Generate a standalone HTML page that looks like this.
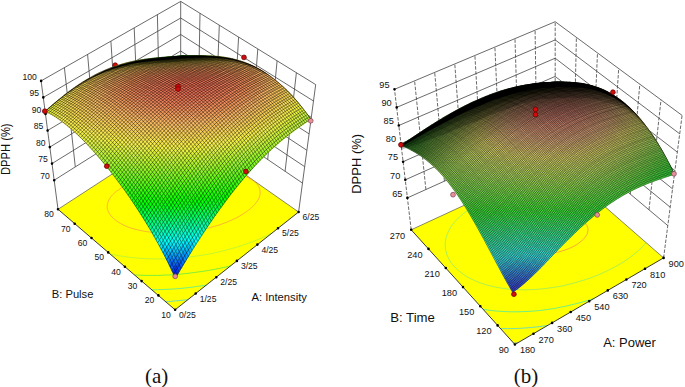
<!DOCTYPE html>
<html><head><meta charset="utf-8"><style>
*{margin:0;padding:0}
body{background:#fff;width:685px;height:387px;overflow:hidden}
svg{display:block}
text{font-family:"Liberation Sans",sans-serif;fill:#111}
.cap{font-family:"Liberation Serif",serif;font-size:21px}
.wh,.wv,.wvd{fill:none;stroke:#444;stroke-width:.8}
.wvd{stroke-dasharray:3.5 1.5}
.ct{fill:none;stroke-width:.75}
.fe{fill:none;stroke:#222;stroke-width:.9}
.fb{fill:none;stroke:#555;stroke-width:.7}
.td{stroke:#000;stroke-width:2.6;stroke-linecap:round}
.sfL path,.sfR path{fill:currentColor;stroke:currentColor;stroke-width:.6;stroke-linejoin:round}
.mlL{fill:none;stroke:#000;stroke-opacity:.7;stroke-width:.6}
.mlR{fill:none;stroke:#000;stroke-opacity:.55;stroke-width:.6}
.bdL{fill:none;stroke:#000;stroke-width:.5;stroke-opacity:.5}
.bnL,.bnR{fill:#000}
.fdL{fill:#000;fill-opacity:.35}
.fdR{fill:#000;fill-opacity:.22}
.bdR{fill:none;stroke:#000;stroke-width:.6;stroke-opacity:.6}
.dr{fill:#d00c0c;stroke:#600;stroke-width:.7}
.dp{fill:#e8909a;stroke:#804050;stroke-width:.7}
</style></head><body>
<svg width="685" height="387" viewBox="0 0 685 387">
<path class="wh" d="M54.2 180.2L180.7 100.5L302.5 183.1M52 163.6L180.7 84L304.7 166.7M49.8 147.1L180.7 67.5L306.9 150.3M47.6 130.5L180.7 51L309.1 133.9M45.5 114L180.7 34.5L311.3 117.4M43.3 97.4L180.7 18L313.5 101M41.1 80.9L180.7 1.4L315.7 84.6"/><path class="wv" d="M75.3 166.9L64.4 67.7M96.3 153.6L87.6 54.4M117.4 140.3L110.9 41.2M138.5 127L134.2 27.9M159.6 113.7L157.4 14.7M180.7 100.5L180.7 1.4M285.1 171.3L296.4 72.7M267.7 159.5L277.1 60.8M250.3 147.7L257.8 49M232.9 135.9L238.6 37.1M215.5 124.1L219.3 25.2M198.1 112.3L200 13.3M58 209.3L41.1 80.9M298.6 212L315.7 84.6"/><path fill="#ffff00" d="M175.1 309.8L298.6 212L180.7 129.5L58 209.3Z"/><path class="fb" d="M58 209.3L180.7 129.5L298.6 212"/><path class="ct" stroke="#40d0f0" d="M187.9 299.7l-2.7 0.3l-2.1 0.2l-2.2 0.2l-2.8 0.3l-2.6 0.2l-2.2 0.2l-2.2 0.2l-2.5 0.2l-2.7 0.2l-0.3 0"/><path class="ct" stroke="#40e8b0" d="M206.3 285.1l-2.4 0.4l-2.1 0.3l-3 0.4l-2.1 0.3l-2.2 0.3l-2.9 0.4l-2.2 0.3l-2.1 0.2l-2.8 0.3l-2.6 0.3l-2.2 0.2l-2.2 0.2l-2.7 0.2l-2.7 0.2l-2.2 0.1l-2.2 0.1l-2.3 0.1l-2.6 0.1l-2.6 0.1l-2.5 0.1l-2.3 0.1l-2.3 0l-1.2 0"/><path class="ct" stroke="#50e850" d="M230.5 265.9l-2.2 0.5l-2.9 0.7l-1.9 0.4l-2.9 0.6l-2 0.4l-2.9 0.6l-2 0.4l-2.8 0.5l-2.2 0.4l-2.4 0.4l-2.6 0.4l-2 0.3l-2.9 0.4l-2.3 0.3l-2.2 0.3l-2.9 0.4l-2.3 0.3l-2.1 0.2l-2.7 0.3l-2.6 0.3l-2.2 0.2l-2.2 0.2l-2.7 0.2l-2.7 0.2l-2.3 0.1l-2.2 0.1l-2.2 0.1l-2.5 0.1l-2.6 0.1l-2.6 0.1l-2.5 0l-2.4 0l-2.3 0l-2.4 0l-2.4 0l-2.4 -0.1l-2.4 -0.1l-2.4 -0.1l-2.5 -0.1l-1.2 -0.1"/><path class="ct" stroke="#50e850" d="M172.6 134.8l2.2 -0.2l2.1 -0.2l2.8 -0.2l2.4 -0.2l2.1 -0.2l2.2 -0.2"/><path class="ct" stroke="#b0f040" d="M271.4 233.5l-2.5 1.2l-2.4 1.1l-2.4 1.1l-2.4 1.1l-2.4 1l-2.5 1l-2.5 1l-2.5 1l-2.5 0.9l-2.4 0.9l-2.1 0.7l-2.4 0.8l-2.6 0.9l-2.7 0.8l-2.1 0.6l-2.4 0.7l-2.7 0.8l-2.2 0.6l-2.4 0.6l-2.8 0.7l-1.9 0.5l-2.9 0.7l-2.1 0.5l-2.7 0.6l-2.2 0.4l-2.7 0.5l-2 0.4l-2.9 0.5l-2 0.3l-2.7 0.4l-2.4 0.3l-2.1 0.3l-2.9 0.4l-2.3 0.3l-2.1 0.2l-2.7 0.3l-2.6 0.2l-2.2 0.2l-2.2 0.2l-2.6 0.2l-2.7 0.2l-2.5 0.1l-2.3 0.1l-2.3 0.1l-2.3 0l-2.3 0l-2.5 0l-2.5 0l-2.4 0l-2.4 -0.1l-2.4 -0.1l-2.4 -0.1l-2.3 -0.1l-2.5 -0.2l-2.5 -0.2l-2.6 -0.2l-2.6 -0.3l-2.2 -0.2l-2.2 -0.3l-2.3 -0.3l-2.8 -0.4l-2.5 -0.4l-2.1 -0.3l-2.6 -0.5l-2.6 -0.5l-2 -0.4l-1.4 -0.3"/><path class="ct" stroke="#b0f040" d="M145 152.7l2.8 -0.5l2.3 -0.4l2.5 -0.4l2.4 -0.4l2.5 -0.3l2.3 -0.3l2.6 -0.3l2 -0.3l3 -0.4l2 -0.2l2.5 -0.3l2.7 -0.3l2.1 -0.2l2.5 -0.2l2.8 -0.2l2.1 -0.2l2.2 -0.2l2.7 -0.2l2.7 -0.2l2.3 -0.1l2.2 -0.1l2.2 -0.1l2.5 -0.1l2.6 -0.1l1.8 -0.1"/><path class="ct" stroke="#f8a040" d="M250.1 178.8l2.5 1.5l2.3 1.7l1.5 1.4l1.4 1.7l1 1.6l0.8 2l0.4 1.6l0.2 1.9l-0.1 1.7l-0.3 1.6l-0.7 2.2l-0.6 1.4l-1.1 1.9l-1.3 1.8l-1.6 1.9l-1.9 2l-2.3 2l-1.8 1.5l-2.3 1.7l-2.2 1.5l-2.7 1.7l-2.1 1.2l-2.9 1.6l-2.3 1.1l-2.3 1.1l-2.4 1l-2.4 1l-2.5 1l-2.5 0.9l-2.6 0.9l-2.6 0.8l-2.6 0.8l-2 0.6l-2.5 0.7l-2.8 0.7l-2 0.5l-2.8 0.6l-2.2 0.5l-2.6 0.5l-2.1 0.4l-2.9 0.4l-2 0.3l-2.6 0.3l-2.6 0.3l-2.1 0.2l-2.3 0.2l-2.7 0.2l-2.6 0.1l-2.4 0.1l-2.3 0.1l-2.3 0l-2.4 0l-2.4 -0.1l-2.5 -0.1l-2.5 -0.1l-2.5 -0.2l-2.2 -0.2l-2.2 -0.2l-2.4 -0.3l-2.8 -0.4l-2 -0.3l-2.4 -0.5l-2.5 -0.5l-2.3 -0.5l-2.4 -0.6l-2.7 -0.8l-2.1 -0.7l-2.2 -0.8l-2.4 -1l-2.3 -1.1l-2.8 -1.5l-2.2 -1.3l-2.6 -1.8l-2.3 -2l-2.1 -2.1l-1.3 -1.8l-1.1 -1.9l-0.9 -2.1l-0.4 -1.5l-0.2 -2l0.1 -1.8l0.3 -1.6l0.7 -2.1l0.6 -1.4l1.1 -1.9l1.3 -1.7l1.4 -1.6l2.1 -2l1.7 -1.4l2.4 -1.7l2.5 -1.6l2.6 -1.5l2 -1.1l2.8 -1.4l2.2 -1l2.2 -0.9l2.7 -1l2.8 -1l2.4 -0.8l2.5 -0.8l2.3 -0.7l2.2 -0.6l2.3 -0.6l2.6 -0.7l2.7 -0.6l2.1 -0.5l2.4 -0.5l2.8 -0.5l1.9 -0.3l2.9 -0.5l2 -0.3l3 -0.4l2 -0.3l2.6 -0.3l2.6 -0.3l2.1 -0.2l2.5 -0.2l2.8 -0.2l2.3 -0.2l2.2 -0.1l2.3 -0.1l2.3 -0.1l2.5 -0.1l2.5 0l2.4 0l2.4 0l2.4 0.1l2.6 0.1l2.6 0.1l2.6 0.2l2.1 0.2l2.2 0.2l2.9 0.3l2 0.3l2.6 0.4l2.2 0.4l2.8 0.5l1.9 0.4l2.6 0.6l2.5 0.7l2.4 0.8l2.3 0.8l2.2 0.9l2.8 1.3l0.7 0.4"/><path class="fe" d="M58 209.3L175.1 309.8L298.6 212"/><path class="td" d="M54.2 180.2h0M52 163.6h0M49.8 147.1h0M47.6 130.5h0M45.5 114h0M43.3 97.4h0M41.1 80.9h0M175.1 309.8h0M195.7 293.5h0M216.3 277.2h0M236.9 260.9h0M257.4 244.6h0M278 228.3h0M298.6 212h0M175.1 309.8h0M158.4 295.4h0M141.6 281.1h0M124.9 266.7h0M108.2 252.4h0M91.5 238h0M74.7 223.7h0M58 209.3h0"/><circle class="dr" cx="115.2" cy="65.2" r="2.4"/><g class="sfL"><path color="#08ff02" d="M180.6 56.3l3.3 -0.3l-3.2 0l-3.3 0.3z"/><path color="#18fe07" d="M177.3 56.6l3.3 -0.3l-3.2 0l-3.3 0.3z"/><path color="#1bfd08" d="M183.8 56.3l3.3 -0.4l-3.2 0l-3.3 0.3z"/><path color="#28fd0b" d="M173.9 56.9l3.3 -0.3l-3.2 0l-3.3 0.3z"/><path color="#2bfc0c" d="M180.5 56.6l3.3 -0.3l-3.2 0l-3.3 0.3z"/><path color="#2ffc0d" d="M187 56.2l3.3 -0.4l-3.2 0l-3.3 0.4z"/><path color="#38fc10" d="M170.6 57.2l3.4 -0.3l-3.2 -0.1l-3.3 0.3z"/><path color="#3bfb11" d="M177.1 56.9l3.3 -0.3l-3.2 0l-3.3 0.3z"/><path color="#3efb12" d="M183.7 56.6l3.3 -0.4l-3.2 0l-3.3 0.3z"/><path color="#43fb13" d="M190.3 56.2l3.3 -0.4l-3.2 0l-3.3 0.4z"/><path color="#48fb14" d="M167.2 57.5l3.4 -0.3l-3.2 -0.1l-3.4 0.3z"/><path color="#4bfa15" d="M173.8 57.2l3.4 -0.3l-3.2 -0.1l-3.4 0.3z"/><path color="#4efa16" d="M180.3 57l3.3 -0.4l-3.2 0l-3.3 0.3z"/><path color="#52fa17" d="M186.9 56.6l3.3 -0.4l-3.2 0l-3.3 0.4z"/><path color="#56fa19" d="M193.5 56.2l3.3 -0.5l-3.3 0l-3.3 0.4z"/><path color="#58fa19" d="M163.8 57.8l3.4 -0.3l-3.2 -0.1l-3.4 0.3z"/><path color="#5af91a" d="M170.4 57.6l3.4 -0.3l-3.2 -0.1l-3.4 0.3z"/><path color="#5ef91b" d="M177 57.3l3.4 -0.4l-3.2 -0.1l-3.4 0.3z"/><path color="#61f91c" d="M183.6 57l3.3 -0.4l-3.2 0l-3.3 0.4z"/><path color="#65f91d" d="M190.2 56.7l3.3 -0.4l-3.3 0l-3.3 0.4z"/><path color="#6af91e" d="M196.8 56.3l3.3 -0.5l-3.3 0l-3.3 0.5z"/><path color="#67f91e" d="M160.4 58.1l3.4 -0.3l-3.2 -0.2l-3.4 0.3z"/><path color="#6af81e" d="M167 57.9l3.4 -0.4l-3.2 -0.1l-3.4 0.3z"/><path color="#78f822" d="M193.4 56.8l3.3 -0.5l-3.3 0l-3.3 0.4z"/><path color="#7df724" d="M200.1 56.3l3.3 -0.5l-3.3 0l-3.3 0.5z"/><path color="#6df81f" d="M173.6 57.7l3.4 -0.4l-3.2 -0.1l-3.4 0.3z"/><path color="#71f820" d="M180.2 57.4l3.4 -0.4l-3.2 -0.1l-3.4 0.4z"/><path color="#74f821" d="M186.8 57.1l3.3 -0.4l-3.3 0l-3.3 0.4z"/><path color="#77f822" d="M157.1 58.5l3.4 -0.4l-3.2 -0.2l-3.4 0.3z"/><path color="#7af823" d="M163.7 58.3l3.4 -0.4l-3.2 -0.2l-3.4 0.3z"/><path color="#7df724" d="M170.3 58.1l3.4 -0.4l-3.2 -0.1l-3.4 0.4z"/><path color="#87f727" d="M190.1 57.3l3.3 -0.5l-3.3 -0.1l-3.3 0.4z"/><path color="#8bf628" d="M196.7 56.9l3.3 -0.5l-3.3 -0.1l-3.3 0.5z"/><path color="#90f629" d="M203.4 56.5l3.3 -0.6l-3.3 -0.1l-3.3 0.5z"/><path color="#80f725" d="M176.9 57.9l3.4 -0.4l-3.2 -0.1l-3.4 0.4z"/><path color="#84f726" d="M183.5 57.6l3.4 -0.4l-3.3 -0.1l-3.4 0.4z"/><path color="#86f726" d="M153.6 58.9l3.4 -0.4l-3.2 -0.2l-3.4 0.4z"/><path color="#89f727" d="M160.3 58.7l3.4 -0.4l-3.2 -0.2l-3.4 0.4z"/><path color="#8cf628" d="M166.9 58.5l3.4 -0.4l-3.2 -0.2l-3.4 0.4z"/><path color="#8ff629" d="M173.5 58.3l3.4 -0.4l-3.2 -0.2l-3.4 0.4z"/><path color="#93f62a" d="M180.1 58l3.4 -0.5l-3.2 -0.1l-3.4 0.4z"/><path color="#96f62b" d="M186.7 57.8l3.4 -0.5l-3.3 -0.1l-3.4 0.4z"/><path color="#9af62c" d="M193.4 57.4l3.3 -0.5l-3.3 -0.1l-3.3 0.5z"/><path color="#9ef52d" d="M200 57l3.3 -0.6l-3.3 -0.1l-3.3 0.5z"/><path color="#a2f52e" d="M206.7 56.6l3.3 -0.6l-3.3 -0.1l-3.3 0.6z"/><path color="#95f62a" d="M150.2 59.4l3.4 -0.5l-3.2 -0.3l-3.4 0.4z"/><path color="#98f62b" d="M156.9 59.2l3.4 -0.5l-3.2 -0.2l-3.4 0.4z"/><path color="#9bf52c" d="M163.5 59l3.4 -0.5l-3.2 -0.2l-3.4 0.4z"/><path color="#9ef52d" d="M170.1 58.8l3.4 -0.5l-3.2 -0.2l-3.4 0.4z"/><path color="#a2f52e" d="M176.7 58.5l3.4 -0.5l-3.2 -0.2l-3.4 0.4z"/><path color="#a5f52f" d="M183.4 58.3l3.4 -0.5l-3.3 -0.2l-3.4 0.5z"/><path color="#a8f530" d="M190 58l3.4 -0.6l-3.3 -0.2l-3.4 0.5z"/><path color="#acf431" d="M196.7 57.6l3.4 -0.6l-3.3 -0.2l-3.3 0.5z"/><path color="#b0f432" d="M203.3 57.3l3.3 -0.6l-3.3 -0.2l-3.3 0.6z"/><path color="#b4f433" d="M210 56.8l3.3 -0.7l-3.3 -0.2l-3.3 0.6z"/><path color="#a3f52f" d="M146.8 59.9l3.4 -0.5l-3.2 -0.3l-3.4 0.5z"/><path color="#a6f530" d="M153.4 59.7l3.4 -0.5l-3.2 -0.3l-3.4 0.5z"/><path color="#aaf531" d="M160.1 59.5l3.4 -0.5l-3.2 -0.3l-3.4 0.5z"/><path color="#adf431" d="M166.7 59.3l3.4 -0.5l-3.2 -0.2l-3.4 0.5z"/><path color="#b0f432" d="M173.4 59.1l3.4 -0.5l-3.2 -0.2l-3.4 0.5z"/><path color="#b4f433" d="M180 58.8l3.4 -0.5l-3.3 -0.2l-3.4 0.5z"/><path color="#b7f434" d="M186.6 58.5l3.4 -0.6l-3.3 -0.2l-3.4 0.5z"/><path color="#baf435" d="M193.3 58.2l3.4 -0.6l-3.3 -0.2l-3.4 0.6z"/><path color="#bef336" d="M200 57.9l3.4 -0.6l-3.3 -0.2l-3.4 0.6z"/><path color="#c2f337" d="M206.6 57.5l3.3 -0.7l-3.3 -0.2l-3.3 0.6z"/><path color="#c5f338" d="M213.3 57.2l3.3 -0.8l-3.3 -0.3l-3.3 0.7z"/><path color="#b0f432" d="M143.4 60.5l3.4 -0.6l-3.2 -0.3l-3.4 0.5z"/><path color="#b4f434" d="M150 60.2l3.4 -0.6l-3.2 -0.3l-3.4 0.5z"/><path color="#c2f337" d="M176.6 59.4l3.4 -0.6l-3.3 -0.3l-3.4 0.5z"/><path color="#c5f338" d="M183.3 59.1l3.4 -0.6l-3.3 -0.3l-3.4 0.5z"/><path color="#d2f23c" d="M210 57.9l3.3 -0.8l-3.3 -0.3l-3.3 0.7z"/><path color="#d6f23d" d="M216.6 57.5l3.3 -0.8l-3.3 -0.3l-3.3 0.8z"/><path color="#b8f435" d="M156.7 60l3.4 -0.6l-3.2 -0.3l-3.4 0.5z"/><path color="#bbf436" d="M163.3 59.8l3.4 -0.6l-3.2 -0.3l-3.4 0.5z"/><path color="#bff336" d="M170 59.6l3.4 -0.6l-3.2 -0.3l-3.4 0.5z"/><path color="#c8f339" d="M189.9 58.9l3.4 -0.6l-3.3 -0.3l-3.4 0.6z"/><path color="#ccf33a" d="M196.6 58.6l3.4 -0.7l-3.3 -0.3l-3.4 0.6z"/><path color="#cff23b" d="M203.3 58.3l3.4 -0.7l-3.3 -0.3l-3.4 0.6z"/><path color="#bef336" d="M140 61.1l3.4 -0.7l-3.2 -0.4l-3.4 0.6z"/><path color="#c2f337" d="M146.6 60.9l3.4 -0.6l-3.2 -0.4l-3.4 0.6z"/><path color="#c6f338" d="M153.2 60.6l3.4 -0.6l-3.2 -0.4l-3.4 0.6z"/><path color="#d0f23b" d="M173.2 60l3.4 -0.6l-3.3 -0.3l-3.4 0.6z"/><path color="#d3f23c" d="M179.9 59.8l3.4 -0.6l-3.3 -0.3l-3.4 0.6z"/><path color="#d6f23d" d="M186.6 59.5l3.4 -0.7l-3.3 -0.3l-3.4 0.6z"/><path color="#dff140" d="M206.6 58.7l3.4 -0.8l-3.3 -0.4l-3.4 0.7z"/><path color="#e2f141" d="M213.3 58.4l3.4 -0.8l-3.3 -0.4l-3.3 0.8z"/><path color="#e6f142" d="M220 58l3.3 -0.9l-3.3 -0.4l-3.3 0.8z"/><path color="#c9f339" d="M159.9 60.4l3.4 -0.6l-3.2 -0.3l-3.4 0.6z"/><path color="#cdf23a" d="M166.5 60.2l3.4 -0.6l-3.2 -0.3l-3.4 0.6z"/><path color="#d9f23e" d="M193.2 59.3l3.4 -0.7l-3.3 -0.3l-3.4 0.6z"/><path color="#dcf23f" d="M199.9 59l3.4 -0.7l-3.3 -0.3l-3.4 0.7z"/><path color="#caf33a" d="M136.5 61.9l3.4 -0.7l-3.2 -0.4l-3.4 0.7z"/><path color="#cff23b" d="M143.2 61.6l3.4 -0.7l-3.2 -0.4l-3.4 0.7z"/><path color="#d3f23c" d="M149.8 61.3l3.4 -0.7l-3.2 -0.4l-3.4 0.6z"/><path color="#d6f23d" d="M156.5 61.1l3.4 -0.7l-3.2 -0.4l-3.4 0.6z"/><path color="#daf23e" d="M163.1 60.9l3.4 -0.7l-3.2 -0.4l-3.4 0.6z"/><path color="#ddf13f" d="M169.8 60.7l3.4 -0.7l-3.3 -0.4l-3.4 0.6z"/><path color="#e0f140" d="M176.5 60.5l3.4 -0.7l-3.3 -0.4l-3.4 0.6z"/><path color="#e3f141" d="M183.2 60.2l3.4 -0.7l-3.3 -0.4l-3.4 0.6z"/><path color="#e6f142" d="M189.8 60l3.4 -0.7l-3.3 -0.4l-3.4 0.7z"/><path color="#e9f143" d="M196.5 59.7l3.4 -0.8l-3.3 -0.4l-3.4 0.7z"/><path color="#ecf143" d="M203.2 59.5l3.4 -0.8l-3.3 -0.4l-3.4 0.7z"/><path color="#eff044" d="M209.9 59.2l3.4 -0.8l-3.3 -0.4l-3.4 0.8z"/><path color="#f2f045" d="M216.6 58.9l3.4 -0.9l-3.3 -0.5l-3.4 0.8z"/><path color="#f4f046" d="M223.3 58.6l3.3 -0.9l-3.4 -0.5l-3.3 0.9z"/><path color="#d6f23d" d="M133.1 62.7l3.4 -0.8l-3.2 -0.4l-3.4 0.8z"/><path color="#dbf23e" d="M139.7 62.3l3.4 -0.8l-3.2 -0.4l-3.4 0.7z"/><path color="#dff140" d="M146.4 62.1l3.4 -0.7l-3.2 -0.5l-3.4 0.7z"/><path color="#e3f141" d="M153 61.8l3.4 -0.7l-3.2 -0.5l-3.4 0.7z"/><path color="#e7f142" d="M159.7 61.6l3.4 -0.7l-3.2 -0.5l-3.4 0.7z"/><path color="#eaf143" d="M166.4 61.4l3.4 -0.7l-3.3 -0.4l-3.4 0.7z"/><path color="#edf044" d="M173.1 61.2l3.4 -0.7l-3.3 -0.4l-3.4 0.7z"/><path color="#f0f045" d="M179.8 61l3.4 -0.7l-3.3 -0.4l-3.4 0.7z"/><path color="#f3f046" d="M186.5 60.7l3.4 -0.8l-3.3 -0.5l-3.4 0.7z"/><path color="#f5ef46" d="M193.2 60.5l3.4 -0.8l-3.3 -0.5l-3.4 0.7z"/><path color="#f5ed47" d="M199.9 60.3l3.4 -0.8l-3.3 -0.5l-3.4 0.8z"/><path color="#f5eb48" d="M206.6 60l3.4 -0.8l-3.3 -0.5l-3.4 0.8z"/><path color="#f5ea49" d="M213.3 59.8l3.4 -0.9l-3.3 -0.5l-3.4 0.8z"/><path color="#f5e849" d="M220 59.5l3.4 -0.9l-3.3 -0.6l-3.4 0.9z"/><path color="#f5e64a" d="M226.7 59.3l3.4 -1l-3.4 -0.6l-3.3 0.9z"/><path color="#e0f140" d="M129.6 63.6l3.4 -0.9l-3.2 -0.5l-3.4 0.8z"/><path color="#e6f142" d="M136.3 63.2l3.4 -0.9l-3.2 -0.5l-3.4 0.8z"/><path color="#ebf143" d="M142.9 62.9l3.4 -0.8l-3.2 -0.5l-3.4 0.8z"/><path color="#eff044" d="M149.6 62.6l3.4 -0.8l-3.2 -0.5l-3.4 0.7z"/><path color="#f3f045" d="M156.3 62.4l3.4 -0.8l-3.2 -0.5l-3.4 0.7z"/><path color="#f5ef47" d="M163 62.2l3.4 -0.8l-3.3 -0.5l-3.4 0.7z"/><path color="#f5ec47" d="M169.7 62l3.4 -0.8l-3.3 -0.5l-3.4 0.7z"/><path color="#f5ea48" d="M176.4 61.8l3.4 -0.8l-3.3 -0.5l-3.4 0.7z"/><path color="#f5e849" d="M183.1 61.6l3.4 -0.8l-3.3 -0.5l-3.4 0.7z"/><path color="#f5e64a" d="M189.8 61.3l3.4 -0.8l-3.3 -0.5l-3.4 0.8z"/><path color="#f5e44b" d="M196.5 61.1l3.4 -0.9l-3.3 -0.5l-3.4 0.8z"/><path color="#f5e34c" d="M203.2 60.9l3.4 -0.9l-3.3 -0.6l-3.4 0.8z"/><path color="#f5e14c" d="M209.9 60.7l3.4 -0.9l-3.3 -0.6l-3.4 0.8z"/><path color="#f5e04d" d="M216.6 60.5l3.4 -0.9l-3.3 -0.6l-3.4 0.9z"/><path color="#f5de4d" d="M223.3 60.3l3.4 -1l-3.4 -0.7l-3.4 0.9z"/><path color="#f5dd4e" d="M230 60.1l3.4 -1l-3.4 -0.7l-3.4 1z"/><path color="#ebf143" d="M126.2 64.5l3.5 -1l-3.2 -0.5l-3.5 0.9z"/><path color="#f1f045" d="M132.8 64.1l3.4 -0.9l-3.2 -0.5l-3.4 0.9z"/><path color="#f5e64a" d="M159.5 63l3.4 -0.9l-3.3 -0.6l-3.4 0.8z"/><path color="#f5e44b" d="M166.2 62.8l3.4 -0.9l-3.3 -0.6l-3.4 0.8z"/><path color="#f5dc4e" d="M193.1 62l3.4 -0.9l-3.3 -0.6l-3.4 0.8z"/><path color="#f5da4f" d="M199.8 61.8l3.4 -0.9l-3.3 -0.6l-3.4 0.9z"/><path color="#f5d551" d="M226.7 61.1l3.4 -1l-3.4 -0.8l-3.4 1z"/><path color="#f5d551" d="M233.4 61l3.4 -1.1l-3.4 -0.9l-3.4 1z"/><path color="#f5ef46" d="M139.5 63.8l3.4 -0.9l-3.2 -0.6l-3.4 0.9z"/><path color="#f5ec48" d="M146.2 63.5l3.4 -0.9l-3.2 -0.6l-3.4 0.8z"/><path color="#f5e949" d="M152.8 63.3l3.4 -0.9l-3.2 -0.6l-3.4 0.8z"/><path color="#f5e14c" d="M172.9 62.6l3.4 -0.9l-3.3 -0.6l-3.4 0.8z"/><path color="#f5df4d" d="M179.6 62.4l3.4 -0.9l-3.3 -0.6l-3.4 0.8z"/><path color="#f5dd4e" d="M186.4 62.2l3.4 -0.9l-3.3 -0.6l-3.4 0.8z"/><path color="#f5d950" d="M206.5 61.6l3.4 -0.9l-3.3 -0.7l-3.4 0.9z"/><path color="#f5d750" d="M213.2 61.5l3.4 -1l-3.3 -0.7l-3.4 0.9z"/><path color="#f5d651" d="M220 61.3l3.4 -1l-3.4 -0.7l-3.4 0.9z"/><path color="#f4f046" d="M122.7 65.6l3.5 -1.1l-3.2 -0.6l-3.5 1z"/><path color="#f5ec48" d="M129.4 65.2l3.5 -1l-3.2 -0.6l-3.5 1z"/><path color="#f5e849" d="M136 64.8l3.4 -1l-3.2 -0.6l-3.4 0.9z"/><path color="#f5de4d" d="M156.1 64l3.4 -0.9l-3.3 -0.6l-3.4 0.9z"/><path color="#f5dc4f" d="M162.8 63.7l3.4 -0.9l-3.3 -0.6l-3.4 0.9z"/><path color="#f5d950" d="M169.5 63.5l3.4 -0.9l-3.3 -0.6l-3.4 0.9z"/><path color="#f5d352" d="M189.7 63l3.4 -0.9l-3.3 -0.7l-3.4 0.9z"/><path color="#f5d253" d="M196.4 62.8l3.4 -1l-3.3 -0.7l-3.4 0.9z"/><path color="#f5d053" d="M203.1 62.6l3.4 -1l-3.3 -0.7l-3.4 0.9z"/><path color="#f5cd54" d="M223.3 62.2l3.4 -1.1l-3.4 -0.9l-3.4 1z"/><path color="#f5cd55" d="M230 62.1l3.4 -1.1l-3.4 -0.9l-3.4 1z"/><path color="#f5cd55" d="M236.8 62l3.4 -1.1l-3.4 -1l-3.4 1.1z"/><path color="#f5e44b" d="M142.7 64.5l3.4 -1l-3.2 -0.6l-3.4 0.9z"/><path color="#f5e14c" d="M149.4 64.2l3.4 -0.9l-3.2 -0.6l-3.4 0.9z"/><path color="#f5d750" d="M176.2 63.3l3.4 -0.9l-3.3 -0.7l-3.4 0.9z"/><path color="#f5d551" d="M183 63.1l3.4 -0.9l-3.3 -0.7l-3.4 0.9z"/><path color="#f5cf54" d="M209.9 62.5l3.4 -1l-3.3 -0.8l-3.4 0.9z"/><path color="#f5ce54" d="M216.6 62.3l3.4 -1l-3.3 -0.8l-3.4 1z"/><path color="#f5eb48" d="M119.3 66.8l3.5 -1.2l-3.2 -0.6l-3.5 1.1z"/><path color="#f5e64a" d="M125.9 66.3l3.5 -1.1l-3.2 -0.6l-3.5 1.1z"/><path color="#f5e14c" d="M132.6 65.9l3.5 -1.1l-3.2 -0.7l-3.5 1z"/><path color="#f5dd4e" d="M139.3 65.5l3.4 -1.1l-3.2 -0.7l-3.4 1z"/><path color="#f5da4f" d="M146 65.2l3.4 -1l-3.2 -0.7l-3.4 1z"/><path color="#f5d751" d="M152.7 65l3.4 -1l-3.3 -0.7l-3.4 0.9z"/><path color="#f5d452" d="M159.4 64.7l3.4 -1l-3.3 -0.7l-3.4 0.9z"/><path color="#f5d153" d="M166.1 64.5l3.4 -1l-3.3 -0.7l-3.4 0.9z"/><path color="#f5cf54" d="M172.8 64.3l3.4 -1l-3.3 -0.7l-3.4 0.9z"/><path color="#f5cd55" d="M179.5 64.1l3.4 -1l-3.3 -0.7l-3.4 0.9z"/><path color="#f5cb55" d="M186.3 64l3.4 -1l-3.3 -0.7l-3.4 0.9z"/><path color="#f5ca56" d="M193 63.8l3.4 -1l-3.3 -0.8l-3.4 0.9z"/><path color="#f5c856" d="M199.7 63.7l3.4 -1l-3.3 -0.8l-3.4 1z"/><path color="#f5c757" d="M206.5 63.5l3.4 -1.1l-3.3 -0.8l-3.4 1z"/><path color="#f5c657" d="M213.2 63.4l3.4 -1.1l-3.3 -0.9l-3.4 1z"/><path color="#f5c658" d="M219.9 63.3l3.4 -1.1l-3.4 -0.9l-3.4 1z"/><path color="#f5c658" d="M226.7 63.2l3.4 -1.1l-3.4 -1l-3.4 1.1z"/><path color="#f5c658" d="M233.4 63.2l3.4 -1.2l-3.4 -1l-3.4 1.1z"/><path color="#f5c657" d="M240.1 63.2l3.4 -1.2l-3.4 -1.1l-3.4 1.1z"/><path color="#f5e54a" d="M115.8 68l3.5 -1.3l-3.2 -0.7l-3.5 1.2z"/><path color="#f5e04d" d="M122.5 67.5l3.5 -1.2l-3.2 -0.7l-3.5 1.2z"/><path color="#f5db4f" d="M129.1 67.1l3.5 -1.2l-3.2 -0.7l-3.5 1.1z"/><path color="#f5d751" d="M135.8 66.7l3.5 -1.1l-3.2 -0.7l-3.5 1.1z"/><path color="#f5d352" d="M142.5 66.4l3.4 -1.1l-3.2 -0.8l-3.4 1.1z"/><path color="#f5d054" d="M149.2 66.1l3.4 -1.1l-3.3 -0.8l-3.4 1z"/><path color="#f5cd55" d="M155.9 65.8l3.4 -1.1l-3.3 -0.8l-3.4 1z"/><path color="#f5ca56" d="M162.7 65.6l3.4 -1.1l-3.3 -0.8l-3.4 1z"/><path color="#f5c857" d="M169.4 65.4l3.4 -1.1l-3.3 -0.8l-3.4 1z"/><path color="#f5c658" d="M176.1 65.2l3.4 -1.1l-3.3 -0.8l-3.4 1z"/><path color="#f5c458" d="M182.8 65l3.4 -1.1l-3.3 -0.8l-3.4 1z"/><path color="#f5c259" d="M189.6 64.9l3.4 -1.1l-3.3 -0.8l-3.4 1z"/><path color="#f5c15a" d="M196.3 64.7l3.4 -1.1l-3.3 -0.9l-3.4 1z"/><path color="#f5c05a" d="M203.1 64.6l3.4 -1.1l-3.3 -0.9l-3.4 1z"/><path color="#f5bf5a" d="M209.8 64.5l3.4 -1.1l-3.3 -0.9l-3.4 1.1z"/><path color="#f5bf5b" d="M216.5 64.4l3.4 -1.1l-3.4 -1l-3.4 1.1z"/><path color="#f5be5b" d="M223.3 64.4l3.4 -1.2l-3.4 -1l-3.4 1.1z"/><path color="#f5bf5b" d="M230 64.4l3.4 -1.2l-3.4 -1.1l-3.4 1.1z"/><path color="#f5bf5a" d="M236.8 64.4l3.4 -1.2l-3.4 -1.2l-3.4 1.2z"/><path color="#f5c05a" d="M243.5 64.5l3.4 -1.3l-3.4 -1.2l-3.4 1.2z"/><path color="#f5e14c" d="M112.4 69.4l3.5 -1.4l-3.2 -0.7l-3.5 1.3z"/><path color="#f5db4f" d="M119 68.8l3.5 -1.3l-3.2 -0.7l-3.5 1.3z"/><path color="#f5d551" d="M125.7 68.3l3.5 -1.3l-3.2 -0.8l-3.5 1.2z"/><path color="#f5d153" d="M132.4 67.9l3.5 -1.2l-3.2 -0.8l-3.5 1.2z"/><path color="#f5cd55" d="M139.1 67.6l3.5 -1.2l-3.2 -0.8l-3.5 1.1z"/><path color="#f5c956" d="M145.8 67.2l3.4 -1.2l-3.3 -0.8l-3.4 1.1z"/><path color="#f5c658" d="M152.5 67l3.4 -1.2l-3.3 -0.8l-3.4 1.1z"/><path color="#f5c359" d="M159.2 66.7l3.4 -1.1l-3.3 -0.9l-3.4 1.1z"/><path color="#f5c15a" d="M165.9 66.5l3.4 -1.1l-3.3 -0.9l-3.4 1.1z"/><path color="#f5bf5b" d="M172.7 66.3l3.4 -1.1l-3.3 -0.9l-3.4 1.1z"/><path color="#f5bd5b" d="M179.4 66.2l3.4 -1.1l-3.3 -0.9l-3.4 1.1z"/><path color="#f5bb5c" d="M186.2 66l3.4 -1.1l-3.3 -0.9l-3.4 1.1z"/><path color="#f5ba5d" d="M192.9 65.9l3.4 -1.1l-3.3 -0.9l-3.4 1.1z"/><path color="#f5b95d" d="M199.7 65.8l3.4 -1.2l-3.3 -1l-3.4 1.1z"/><path color="#f5b85d" d="M206.4 65.7l3.4 -1.2l-3.3 -1l-3.4 1.1z"/><path color="#f5b75e" d="M213.2 65.6l3.4 -1.2l-3.3 -1l-3.4 1.1z"/><path color="#f5b75e" d="M219.9 65.6l3.4 -1.2l-3.4 -1.1l-3.4 1.1z"/><path color="#f5b85d" d="M226.6 65.6l3.4 -1.2l-3.4 -1.2l-3.4 1.2z"/><path color="#f5b85d" d="M233.4 65.7l3.4 -1.3l-3.4 -1.2l-3.4 1.2z"/><path color="#f5b95d" d="M240.1 65.8l3.4 -1.3l-3.4 -1.3l-3.4 1.2z"/><path color="#f5bb5c" d="M246.8 65.9l3.4 -1.3l-3.4 -1.4l-3.4 1.3z"/><path color="#f5c359" d="M142.3 68.5l3.5 -1.3l-3.3 -0.9l-3.5 1.2z"/><path color="#f5c05a" d="M149 68.2l3.4 -1.2l-3.3 -0.9l-3.4 1.2z"/><path color="#f5b65e" d="M176 67.4l3.4 -1.2l-3.3 -1l-3.4 1.1z"/><path color="#f5b45f" d="M182.7 67.2l3.4 -1.2l-3.3 -1l-3.4 1.1z"/><path color="#f4af5e" d="M209.7 66.9l3.4 -1.2l-3.3 -1.1l-3.4 1.2z"/><path color="#f4af5e" d="M216.5 66.9l3.4 -1.3l-3.4 -1.2l-3.4 1.2z"/><path color="#f5dd4e" d="M108.9 70.9l3.4 -1.5l-3.2 -0.7l-3.4 1.4z"/><path color="#f5d651" d="M115.6 70.2l3.5 -1.4l-3.2 -0.8l-3.5 1.4z"/><path color="#f5d053" d="M122.2 69.7l3.5 -1.4l-3.2 -0.8l-3.5 1.3z"/><path color="#f5cb55" d="M128.9 69.2l3.5 -1.3l-3.2 -0.9l-3.5 1.3z"/><path color="#f5c757" d="M135.6 68.8l3.5 -1.3l-3.2 -0.9l-3.5 1.2z"/><path color="#f5bd5b" d="M155.8 68l3.4 -1.2l-3.3 -0.9l-3.4 1.2z"/><path color="#f5ba5c" d="M162.5 67.7l3.4 -1.2l-3.3 -0.9l-3.4 1.1z"/><path color="#f5b85d" d="M169.2 67.5l3.4 -1.2l-3.3 -0.9l-3.4 1.1z"/><path color="#f5b25f" d="M189.5 67.1l3.4 -1.2l-3.3 -1l-3.4 1.1z"/><path color="#f4b15e" d="M196.2 67l3.4 -1.2l-3.3 -1l-3.4 1.1z"/><path color="#f4af5e" d="M203 66.9l3.4 -1.2l-3.3 -1.1l-3.4 1.2z"/><path color="#f4af5e" d="M223.3 66.9l3.4 -1.3l-3.4 -1.2l-3.4 1.2z"/><path color="#f4b05e" d="M230 67l3.4 -1.3l-3.4 -1.3l-3.4 1.2z"/><path color="#f5b25f" d="M236.7 67.1l3.4 -1.3l-3.4 -1.4l-3.4 1.3z"/><path color="#f5b55f" d="M243.5 67.3l3.4 -1.3l-3.4 -1.4l-3.4 1.3z"/><path color="#f5b75e" d="M250.2 67.5l3.4 -1.4l-3.4 -1.5l-3.4 1.3z"/><path color="#f5d950" d="M105.5 72.4l3.4 -1.6l-3.2 -0.8l-3.4 1.5z"/><path color="#f5d252" d="M112.1 71.7l3.4 -1.5l-3.2 -0.8l-3.4 1.5z"/><path color="#f5cc55" d="M118.8 71.2l3.5 -1.5l-3.2 -0.9l-3.5 1.4z"/><path color="#f5be5b" d="M138.9 69.9l3.5 -1.4l-3.3 -1l-3.5 1.3z"/><path color="#f5ba5c" d="M145.6 69.6l3.5 -1.3l-3.3 -1l-3.5 1.3z"/><path color="#f5b75e" d="M152.3 69.3l3.4 -1.3l-3.3 -1l-3.4 1.2z"/><path color="#f4ae5e" d="M172.5 68.7l3.4 -1.3l-3.3 -1l-3.4 1.2z"/><path color="#f3ab5d" d="M179.3 68.5l3.4 -1.3l-3.3 -1.1l-3.4 1.2z"/><path color="#f3a95d" d="M186.1 68.4l3.4 -1.3l-3.3 -1.1l-3.4 1.2z"/><path color="#f2a55c" d="M206.3 68.2l3.4 -1.3l-3.3 -1.2l-3.4 1.2z"/><path color="#f2a55c" d="M213.1 68.2l3.4 -1.3l-3.3 -1.2l-3.4 1.2z"/><path color="#f2a55c" d="M219.9 68.2l3.4 -1.3l-3.4 -1.3l-3.4 1.3z"/><path color="#f3ac5d" d="M240.1 68.6l3.4 -1.4l-3.4 -1.5l-3.4 1.3z"/><path color="#f4af5e" d="M246.8 68.9l3.4 -1.4l-3.3 -1.6l-3.4 1.3z"/><path color="#f5b45f" d="M253.5 69.2l3.4 -1.4l-3.3 -1.7l-3.4 1.4z"/><path color="#f5c757" d="M125.5 70.7l3.5 -1.4l-3.2 -0.9l-3.5 1.4z"/><path color="#f5c259" d="M132.2 70.2l3.5 -1.4l-3.2 -0.9l-3.5 1.3z"/><path color="#f5b45f" d="M159.1 69.1l3.4 -1.3l-3.3 -1l-3.4 1.2z"/><path color="#f4b15e" d="M165.8 68.8l3.4 -1.3l-3.3 -1l-3.4 1.2z"/><path color="#f2a75c" d="M192.8 68.3l3.4 -1.3l-3.3 -1.1l-3.4 1.2z"/><path color="#f2a65c" d="M199.6 68.2l3.4 -1.3l-3.3 -1.1l-3.4 1.2z"/><path color="#f2a75c" d="M226.6 68.3l3.4 -1.3l-3.4 -1.3l-3.4 1.3z"/><path color="#f3a95d" d="M233.3 68.4l3.4 -1.4l-3.4 -1.4l-3.4 1.3z"/><path color="#f5d651" d="M102 74.1l3.4 -1.7l-3.2 -0.8l-3.4 1.6z"/><path color="#f5cf54" d="M108.7 73.4l3.4 -1.6l-3.2 -0.9l-3.4 1.6z"/><path color="#f5c956" d="M115.3 72.7l3.4 -1.6l-3.2 -0.9l-3.4 1.5z"/><path color="#f5c359" d="M122 72.2l3.5 -1.5l-3.2 -1l-3.5 1.5z"/><path color="#f5be5b" d="M128.7 71.7l3.5 -1.5l-3.2 -1l-3.5 1.4z"/><path color="#f5b95d" d="M135.4 71.3l3.5 -1.5l-3.3 -1l-3.5 1.4z"/><path color="#f5b65e" d="M142.1 71l3.5 -1.4l-3.3 -1l-3.5 1.4z"/><path color="#f4b15e" d="M148.9 70.7l3.5 -1.4l-3.3 -1.1l-3.5 1.3z"/><path color="#f3ac5d" d="M155.6 70.4l3.4 -1.4l-3.3 -1.1l-3.4 1.3z"/><path color="#f3a85d" d="M162.4 70.2l3.4 -1.4l-3.3 -1.1l-3.4 1.3z"/><path color="#f2a55c" d="M169.1 70l3.4 -1.4l-3.3 -1.1l-3.4 1.3z"/><path color="#f1a25b" d="M175.9 69.9l3.4 -1.4l-3.3 -1.1l-3.4 1.3z"/><path color="#f1a05b" d="M182.6 69.7l3.4 -1.4l-3.3 -1.2l-3.4 1.3z"/><path color="#f19e5b" d="M189.4 69.6l3.4 -1.4l-3.3 -1.2l-3.4 1.3z"/><path color="#f09c5a" d="M196.2 69.6l3.4 -1.4l-3.3 -1.2l-3.4 1.3z"/><path color="#f09c5a" d="M202.9 69.5l3.4 -1.4l-3.3 -1.3l-3.4 1.3z"/><path color="#f09c5a" d="M209.7 69.6l3.4 -1.4l-3.3 -1.3l-3.4 1.3z"/><path color="#f09c5a" d="M216.4 69.6l3.4 -1.4l-3.4 -1.4l-3.4 1.3z"/><path color="#f09d5a" d="M223.2 69.7l3.4 -1.4l-3.4 -1.4l-3.4 1.3z"/><path color="#f1a05b" d="M230 69.8l3.4 -1.4l-3.4 -1.5l-3.4 1.3z"/><path color="#f1a25b" d="M236.7 70.1l3.4 -1.4l-3.4 -1.6l-3.4 1.4z"/><path color="#f2a65c" d="M243.4 70.3l3.4 -1.4l-3.3 -1.6l-3.4 1.4z"/><path color="#f3ab5d" d="M250.2 70.7l3.4 -1.4l-3.3 -1.7l-3.4 1.4z"/><path color="#f4b15e" d="M256.9 71.1l3.4 -1.5l-3.3 -1.8l-3.4 1.4z"/><path color="#f5d452" d="M98.6 75.8l3.4 -1.8l-3.2 -0.9l-3.4 1.7z"/><path color="#f5cd55" d="M105.2 75.1l3.4 -1.7l-3.2 -0.9l-3.4 1.7z"/><path color="#f5c658" d="M111.9 74.4l3.4 -1.7l-3.2 -1l-3.4 1.6z"/><path color="#f5c05a" d="M118.6 73.8l3.4 -1.6l-3.2 -1l-3.4 1.6z"/><path color="#f5ba5c" d="M125.2 73.3l3.5 -1.6l-3.2 -1.1l-3.5 1.5z"/><path color="#f5b55e" d="M132 72.9l3.5 -1.6l-3.3 -1.1l-3.5 1.5z"/><path color="#f4b05e" d="M138.7 72.5l3.5 -1.5l-3.3 -1.1l-3.5 1.5z"/><path color="#f3aa5d" d="M145.4 72.2l3.5 -1.5l-3.3 -1.1l-3.5 1.4z"/><path color="#f2a55c" d="M152.2 71.9l3.5 -1.5l-3.3 -1.2l-3.5 1.4z"/><path color="#f1a15b" d="M158.9 71.7l3.4 -1.5l-3.3 -1.2l-3.4 1.4z"/><path color="#f09d5a" d="M165.7 71.5l3.4 -1.5l-3.3 -1.2l-3.4 1.4z"/><path color="#f09a5a" d="M172.4 71.3l3.4 -1.4l-3.3 -1.2l-3.4 1.4z"/><path color="#ef9759" d="M179.2 71.2l3.4 -1.4l-3.3 -1.2l-3.4 1.4z"/><path color="#ef9559" d="M186 71.1l3.4 -1.4l-3.3 -1.3l-3.4 1.4z"/><path color="#ef9459" d="M192.7 71l3.4 -1.4l-3.3 -1.3l-3.4 1.4z"/><path color="#ee9358" d="M199.5 71l3.4 -1.4l-3.3 -1.3l-3.4 1.4z"/><path color="#ee9358" d="M206.3 71l3.4 -1.4l-3.3 -1.4l-3.4 1.4z"/><path color="#ef9459" d="M213 71l3.4 -1.4l-3.3 -1.4l-3.4 1.4z"/><path color="#ef9559" d="M219.8 71.1l3.4 -1.4l-3.4 -1.5l-3.4 1.4z"/><path color="#ef9759" d="M226.6 71.3l3.4 -1.5l-3.4 -1.5l-3.4 1.4z"/><path color="#f09a5a" d="M233.3 71.5l3.4 -1.5l-3.3 -1.6l-3.4 1.4z"/><path color="#f09d5a" d="M240 71.8l3.4 -1.5l-3.3 -1.7l-3.4 1.4z"/><path color="#f1a25b" d="M246.8 72.2l3.4 -1.5l-3.3 -1.8l-3.4 1.4z"/><path color="#f3a85d" d="M253.5 72.6l3.4 -1.5l-3.3 -1.9l-3.4 1.4z"/><path color="#f4af5e" d="M260.2 73.1l3.4 -1.5l-3.3 -2l-3.4 1.5z"/><path color="#f5d352" d="M95.2 77.7l3.4 -1.9l-3.2 -0.9l-3.4 1.8z"/><path color="#f5cb56" d="M101.8 76.9l3.4 -1.8l-3.2 -1l-3.4 1.8z"/><path color="#f5c359" d="M108.4 76.2l3.4 -1.8l-3.2 -1l-3.4 1.7z"/><path color="#f5bd5b" d="M115.1 75.5l3.4 -1.7l-3.2 -1.1l-3.4 1.7z"/><path color="#f4b15e" d="M128.5 74.6l3.5 -1.7l-3.3 -1.2l-3.5 1.6z"/><path color="#f3aa5d" d="M135.2 74.2l3.5 -1.6l-3.3 -1.2l-3.5 1.6z"/><path color="#f2a45c" d="M142 73.8l3.5 -1.6l-3.3 -1.2l-3.5 1.5z"/><path color="#f19f5b" d="M148.7 73.5l3.5 -1.6l-3.3 -1.2l-3.5 1.5z"/><path color="#f09a5a" d="M155.5 73.3l3.5 -1.6l-3.3 -1.3l-3.5 1.5z"/><path color="#ef9659" d="M162.2 73l3.4 -1.5l-3.3 -1.3l-3.4 1.5z"/><path color="#ee9358" d="M169 72.9l3.4 -1.5l-3.3 -1.3l-3.4 1.5z"/><path color="#ee9058" d="M175.7 72.7l3.4 -1.5l-3.3 -1.3l-3.4 1.4z"/><path color="#ed8e57" d="M182.5 72.6l3.4 -1.5l-3.3 -1.3l-3.4 1.4z"/><path color="#ed8c57" d="M189.3 72.5l3.4 -1.5l-3.3 -1.4l-3.4 1.4z"/><path color="#ed8b57" d="M196.1 72.5l3.4 -1.5l-3.3 -1.4l-3.4 1.4z"/><path color="#ed8b57" d="M202.8 72.5l3.4 -1.5l-3.3 -1.4l-3.4 1.4z"/><path color="#ed8c57" d="M209.6 72.6l3.4 -1.5l-3.3 -1.5l-3.4 1.4z"/><path color="#ed8d57" d="M216.4 72.7l3.4 -1.5l-3.3 -1.5l-3.4 1.4z"/><path color="#ee8f58" d="M223.1 72.8l3.4 -1.5l-3.3 -1.6l-3.4 1.4z"/><path color="#ee9258" d="M229.9 73l3.4 -1.5l-3.3 -1.7l-3.4 1.5z"/><path color="#f09a5a" d="M243.4 73.7l3.4 -1.5l-3.3 -1.8l-3.4 1.5z"/><path color="#f1a05b" d="M250.1 74.1l3.4 -1.5l-3.3 -1.9l-3.4 1.5z"/><path color="#f2a75c" d="M256.8 74.7l3.4 -1.5l-3.3 -2l-3.4 1.5z"/><path color="#f4af5e" d="M263.5 75.3l3.4 -1.6l-3.3 -2.1l-3.4 1.5z"/><path color="#f5b75e" d="M121.8 75l3.4 -1.7l-3.2 -1.1l-3.4 1.6z"/><path color="#ef9559" d="M236.6 73.3l3.4 -1.5l-3.3 -1.8l-3.4 1.5z"/><path color="#ee9158" d="M158.8 74.7l3.5 -1.6l-3.3 -1.3l-3.5 1.6z"/><path color="#ed8d57" d="M165.5 74.5l3.4 -1.6l-3.3 -1.4l-3.4 1.5z"/><path color="#ec8556" d="M192.6 74.1l3.4 -1.6l-3.3 -1.5l-3.4 1.5z"/><path color="#eb8455" d="M199.4 74.1l3.4 -1.6l-3.3 -1.5l-3.4 1.5z"/><path color="#f5d252" d="M91.7 79.7l3.4 -2l-3.2 -1l-3.4 1.9z"/><path color="#f5ca56" d="M98.4 78.8l3.4 -1.9l-3.2 -1l-3.4 1.9z"/><path color="#f5c259" d="M105 78l3.4 -1.9l-3.2 -1.1l-3.4 1.8z"/><path color="#f5bb5c" d="M111.7 77.4l3.4 -1.8l-3.2 -1.2l-3.4 1.8z"/><path color="#f5b55f" d="M118.4 76.8l3.4 -1.8l-3.2 -1.2l-3.4 1.7z"/><path color="#f4ad5e" d="M125.1 76.3l3.4 -1.8l-3.3 -1.2l-3.4 1.7z"/><path color="#f2a65c" d="M131.8 75.9l3.5 -1.7l-3.3 -1.3l-3.5 1.7z"/><path color="#f19f5b" d="M138.5 75.5l3.5 -1.7l-3.3 -1.3l-3.5 1.6z"/><path color="#f09a5a" d="M145.3 75.2l3.5 -1.7l-3.3 -1.3l-3.5 1.6z"/><path color="#ef9559" d="M152 74.9l3.5 -1.7l-3.3 -1.3l-3.5 1.6z"/><path color="#ed8a57" d="M172.3 74.3l3.4 -1.6l-3.3 -1.4l-3.4 1.5z"/><path color="#ec8756" d="M179.1 74.2l3.4 -1.6l-3.3 -1.4l-3.4 1.5z"/><path color="#ec8656" d="M185.8 74.1l3.4 -1.6l-3.3 -1.4l-3.4 1.5z"/><path color="#eb8455" d="M206.2 74.1l3.4 -1.6l-3.3 -1.6l-3.4 1.5z"/><path color="#ec8556" d="M213 74.2l3.4 -1.6l-3.3 -1.6l-3.4 1.5z"/><path color="#ec8756" d="M219.7 74.4l3.4 -1.6l-3.3 -1.7l-3.4 1.5z"/><path color="#ed8a57" d="M226.5 74.6l3.4 -1.6l-3.3 -1.7l-3.4 1.5z"/><path color="#ed8e57" d="M233.2 74.9l3.4 -1.6l-3.3 -1.8l-3.4 1.5z"/><path color="#ee9258" d="M240 75.3l3.4 -1.6l-3.3 -1.9l-3.4 1.5z"/><path color="#ef9859" d="M246.7 75.7l3.4 -1.6l-3.3 -2l-3.4 1.5z"/><path color="#f19f5b" d="M253.4 76.3l3.4 -1.6l-3.3 -2.1l-3.4 1.5z"/><path color="#f2a75c" d="M260.1 76.9l3.4 -1.6l-3.3 -2.2l-3.4 1.5z"/><path color="#f4b05e" d="M266.8 77.6l3.4 -1.6l-3.3 -2.3l-3.4 1.6z"/><path color="#f5d252" d="M88.3 81.7l3.4 -2.1l-3.2 -1l-3.4 2z"/><path color="#f5c956" d="M94.9 80.8l3.4 -2l-3.2 -1.1l-3.4 2z"/><path color="#f5c15a" d="M101.6 80l3.4 -2l-3.2 -1.2l-3.4 1.9z"/><path color="#f3aa5d" d="M121.6 78.2l3.4 -1.9l-3.3 -1.3l-3.4 1.8z"/><path color="#f2a35c" d="M128.3 77.7l3.4 -1.8l-3.3 -1.3l-3.4 1.8z"/><path color="#f09c5a" d="M135.1 77.3l3.5 -1.8l-3.3 -1.4l-3.5 1.7z"/><path color="#ed8c57" d="M155.3 76.4l3.5 -1.7l-3.3 -1.4l-3.5 1.7z"/><path color="#ec8856" d="M162.1 76.2l3.5 -1.7l-3.3 -1.4l-3.5 1.6z"/><path color="#eb8455" d="M168.8 76l3.4 -1.7l-3.3 -1.5l-3.4 1.6z"/><path color="#ea7e54" d="M189.2 75.8l3.4 -1.7l-3.3 -1.6l-3.4 1.6z"/><path color="#ea7e54" d="M196 75.8l3.4 -1.7l-3.3 -1.6l-3.4 1.6z"/><path color="#ea7e54" d="M202.7 75.8l3.4 -1.7l-3.3 -1.6l-3.4 1.6z"/><path color="#eb8355" d="M223.1 76.3l3.4 -1.7l-3.3 -1.8l-3.4 1.6z"/><path color="#ec8756" d="M229.8 76.6l3.4 -1.6l-3.3 -1.9l-3.4 1.6z"/><path color="#ed8b57" d="M236.6 76.9l3.4 -1.6l-3.3 -2l-3.4 1.6z"/><path color="#f1a05b" d="M256.7 78.5l3.4 -1.6l-3.3 -2.2l-3.4 1.6z"/><path color="#f3a95d" d="M263.4 79.3l3.4 -1.6l-3.3 -2.3l-3.4 1.6z"/><path color="#f5b45f" d="M270.1 80.1l3.4 -1.6l-3.3 -2.4l-3.4 1.6z"/><path color="#f5ba5d" d="M108.2 79.3l3.4 -1.9l-3.2 -1.2l-3.4 1.9z"/><path color="#f5b35f" d="M114.9 78.7l3.4 -1.9l-3.2 -1.3l-3.4 1.8z"/><path color="#ef9659" d="M141.8 77l3.5 -1.8l-3.3 -1.4l-3.5 1.7z"/><path color="#ee9058" d="M148.6 76.7l3.5 -1.8l-3.3 -1.4l-3.5 1.7z"/><path color="#eb8255" d="M175.6 75.9l3.4 -1.7l-3.3 -1.5l-3.4 1.6z"/><path color="#eb8055" d="M182.4 75.8l3.4 -1.7l-3.3 -1.5l-3.4 1.6z"/><path color="#ea7f54" d="M209.5 75.9l3.4 -1.7l-3.3 -1.7l-3.4 1.6z"/><path color="#eb8055" d="M216.3 76.1l3.4 -1.7l-3.3 -1.7l-3.4 1.6z"/><path color="#ee9158" d="M243.3 77.4l3.4 -1.6l-3.3 -2l-3.4 1.6z"/><path color="#ef9859" d="M250 77.9l3.4 -1.6l-3.3 -2.1l-3.4 1.6z"/><path color="#f5d352" d="M84.9 83.9l3.4 -2.2l-3.2 -1l-3.4 2.1z"/><path color="#f5c956" d="M91.5 82.9l3.4 -2.1l-3.2 -1.1l-3.4 2.1z"/><path color="#f5c15a" d="M98.1 82.1l3.4 -2.1l-3.2 -1.2l-3.4 2z"/><path color="#f5b95d" d="M104.8 81.3l3.4 -2l-3.2 -1.3l-3.4 2z"/><path color="#f5b25f" d="M111.5 80.7l3.4 -2l-3.2 -1.3l-3.4 1.9z"/><path color="#f3a95d" d="M118.2 80.1l3.4 -2l-3.3 -1.4l-3.4 1.9z"/><path color="#f1a05b" d="M124.9 79.6l3.4 -1.9l-3.3 -1.4l-3.4 1.9z"/><path color="#f0995a" d="M131.6 79.2l3.4 -1.9l-3.3 -1.4l-3.4 1.8z"/><path color="#ee9258" d="M138.3 78.9l3.4 -1.9l-3.3 -1.5l-3.5 1.8z"/><path color="#ed8d57" d="M145.1 78.5l3.5 -1.9l-3.3 -1.5l-3.5 1.8z"/><path color="#ec8856" d="M151.9 78.3l3.5 -1.8l-3.3 -1.5l-3.5 1.8z"/><path color="#eb8455" d="M158.6 78l3.5 -1.8l-3.3 -1.5l-3.5 1.7z"/><path color="#eb8055" d="M165.4 77.8l3.5 -1.8l-3.3 -1.6l-3.5 1.7z"/><path color="#ea7d54" d="M172.2 77.7l3.4 -1.8l-3.3 -1.6l-3.4 1.7z"/><path color="#ea7b54" d="M179 77.6l3.4 -1.8l-3.3 -1.6l-3.4 1.7z"/><path color="#e97953" d="M185.7 77.5l3.4 -1.8l-3.3 -1.6l-3.4 1.7z"/><path color="#e97853" d="M192.5 77.5l3.4 -1.8l-3.3 -1.7l-3.4 1.7z"/><path color="#e97853" d="M199.3 77.6l3.4 -1.7l-3.3 -1.7l-3.4 1.7z"/><path color="#e97953" d="M206.1 77.6l3.4 -1.7l-3.3 -1.8l-3.4 1.7z"/><path color="#ea7b54" d="M212.9 77.8l3.4 -1.7l-3.3 -1.8l-3.4 1.7z"/><path color="#ea7d54" d="M219.6 78l3.4 -1.7l-3.3 -1.9l-3.4 1.7z"/><path color="#eb8055" d="M226.4 78.3l3.4 -1.7l-3.3 -1.9l-3.4 1.7z"/><path color="#ec8556" d="M233.2 78.6l3.4 -1.7l-3.3 -2l-3.4 1.6z"/><path color="#ed8a57" d="M239.9 79.1l3.4 -1.7l-3.3 -2.1l-3.4 1.6z"/><path color="#ee9158" d="M246.6 79.6l3.4 -1.7l-3.3 -2.2l-3.4 1.6z"/><path color="#f0995a" d="M253.3 80.2l3.4 -1.7l-3.3 -2.3l-3.4 1.6z"/><path color="#f1a25b" d="M260 81l3.4 -1.7l-3.3 -2.4l-3.4 1.6z"/><path color="#f3ac5d" d="M266.7 81.8l3.4 -1.7l-3.3 -2.5l-3.4 1.6z"/><path color="#f5b75e" d="M273.3 82.7l3.4 -1.7l-3.3 -2.6l-3.4 1.6z"/><path color="#f5d452" d="M81.5 86.2l3.4 -2.3l-3.2 -1.1l-3.4 2.2z"/><path color="#f5ca56" d="M88.1 85.1l3.4 -2.2l-3.2 -1.2l-3.4 2.2z"/><path color="#f5c159" d="M94.7 84.2l3.4 -2.2l-3.2 -1.3l-3.4 2.1z"/><path color="#f5b95d" d="M101.4 83.5l3.4 -2.1l-3.2 -1.3l-3.4 2.1z"/><path color="#f4b15e" d="M108 82.8l3.4 -2.1l-3.2 -1.4l-3.4 2z"/><path color="#f3a85d" d="M114.7 82.2l3.4 -2.1l-3.3 -1.4l-3.4 2z"/><path color="#f19f5b" d="M121.4 81.7l3.4 -2l-3.3 -1.5l-3.4 2z"/><path color="#ef9759" d="M128.2 81.2l3.4 -2l-3.3 -1.5l-3.4 1.9z"/><path color="#ee9058" d="M134.9 80.8l3.4 -2l-3.3 -1.5l-3.4 1.9z"/><path color="#ed8a57" d="M141.6 80.5l3.4 -2l-3.3 -1.6l-3.4 1.9z"/><path color="#ec8556" d="M148.4 80.2l3.5 -1.9l-3.3 -1.6l-3.5 1.9z"/><path color="#eb8055" d="M155.2 80l3.5 -1.9l-3.3 -1.6l-3.5 1.8z"/><path color="#ea7d54" d="M161.9 79.7l3.5 -1.9l-3.3 -1.6l-3.5 1.8z"/><path color="#e97953" d="M168.7 79.6l3.5 -1.9l-3.3 -1.7l-3.5 1.8z"/><path color="#e97753" d="M175.5 79.5l3.5 -1.9l-3.3 -1.7l-3.4 1.8z"/><path color="#e87552" d="M182.3 79.4l3.4 -1.9l-3.3 -1.7l-3.4 1.8z"/><path color="#e87452" d="M189.1 79.4l3.4 -1.8l-3.3 -1.7l-3.4 1.8z"/><path color="#e87452" d="M195.9 79.4l3.4 -1.8l-3.3 -1.8l-3.4 1.8z"/><path color="#e87452" d="M202.7 79.5l3.4 -1.8l-3.3 -1.8l-3.4 1.7z"/><path color="#e87552" d="M209.4 79.6l3.4 -1.8l-3.3 -1.9l-3.4 1.7z"/><path color="#e97853" d="M216.2 79.8l3.4 -1.8l-3.3 -1.9l-3.4 1.7z"/><path color="#ea7b54" d="M223 80.1l3.4 -1.8l-3.3 -2l-3.4 1.7z"/><path color="#ea7f54" d="M229.7 80.4l3.4 -1.8l-3.3 -2.1l-3.4 1.7z"/><path color="#eb8455" d="M236.5 80.9l3.4 -1.8l-3.3 -2.2l-3.4 1.7z"/><path color="#ed8b57" d="M243.2 81.4l3.4 -1.8l-3.3 -2.2l-3.4 1.7z"/><path color="#ee9258" d="M249.9 82l3.4 -1.8l-3.3 -2.3l-3.4 1.7z"/><path color="#f09b5a" d="M256.6 82.7l3.4 -1.8l-3.3 -2.4l-3.4 1.7z"/><path color="#f2a65c" d="M263.3 83.5l3.4 -1.7l-3.3 -2.5l-3.4 1.7z"/><path color="#f4b15e" d="M270 84.5l3.4 -1.7l-3.3 -2.6l-3.4 1.7z"/><path color="#f5bb5c" d="M276.6 85.5l3.4 -1.7l-3.2 -2.7l-3.4 1.7z"/><path color="#f5d651" d="M78.2 88.5l3.4 -2.3l-3.2 -1.1l-3.4 2.3z"/><path color="#f5cc55" d="M84.7 87.4l3.4 -2.3l-3.2 -1.2l-3.4 2.3z"/><path color="#f5c359" d="M91.3 86.5l3.4 -2.3l-3.2 -1.3l-3.4 2.2z"/><path color="#f5ba5c" d="M98 85.7l3.4 -2.2l-3.2 -1.4l-3.4 2.2z"/><path color="#f3a85d" d="M111.3 84.4l3.4 -2.2l-3.3 -1.5l-3.4 2.1z"/><path color="#f19f5b" d="M118 83.8l3.4 -2.1l-3.3 -1.5l-3.4 2.1z"/><path color="#ef9759" d="M124.7 83.3l3.4 -2.1l-3.3 -1.6l-3.4 2z"/><path color="#ee8f58" d="M131.5 82.9l3.4 -2.1l-3.3 -1.6l-3.4 2z"/><path color="#eb8355" d="M145 82.2l3.4 -2l-3.3 -1.7l-3.4 2z"/><path color="#ea7e54" d="M151.7 82l3.5 -2l-3.3 -1.7l-3.5 1.9z"/><path color="#e97a53" d="M158.5 81.7l3.5 -2l-3.3 -1.7l-3.5 1.9z"/><path color="#e97753" d="M165.3 81.6l3.5 -2l-3.3 -1.7l-3.5 1.9z"/><path color="#e87452" d="M172.1 81.4l3.5 -2l-3.3 -1.8l-3.5 1.9z"/><path color="#e87252" d="M178.8 81.3l3.5 -1.9l-3.3 -1.8l-3.5 1.9z"/><path color="#e77051" d="M185.6 81.3l3.4 -1.9l-3.3 -1.8l-3.4 1.9z"/><path color="#e77051" d="M192.4 81.3l3.4 -1.9l-3.3 -1.9l-3.4 1.8z"/><path color="#e77051" d="M199.2 81.4l3.4 -1.9l-3.3 -1.9l-3.4 1.8z"/><path color="#e87152" d="M206 81.5l3.4 -1.9l-3.3 -2l-3.4 1.8z"/><path color="#e87352" d="M212.8 81.7l3.4 -1.9l-3.3 -2l-3.4 1.8z"/><path color="#e97a53" d="M226.3 82.3l3.4 -1.9l-3.3 -2.1l-3.4 1.8z"/><path color="#ea7f54" d="M233.1 82.7l3.4 -1.8l-3.3 -2.2l-3.4 1.8z"/><path color="#ec8556" d="M239.8 83.2l3.4 -1.8l-3.3 -2.3l-3.4 1.8z"/><path color="#ed8d57" d="M246.5 83.8l3.4 -1.8l-3.3 -2.4l-3.4 1.8z"/><path color="#f1a05b" d="M259.9 85.3l3.4 -1.8l-3.3 -2.6l-3.4 1.8z"/><path color="#f3ab5d" d="M266.6 86.3l3.4 -1.8l-3.3 -2.7l-3.4 1.7z"/><path color="#f5b75e" d="M273.2 87.3l3.4 -1.8l-3.2 -2.8l-3.4 1.7z"/><path color="#f5c05a" d="M279.8 88.5l3.4 -1.8l-3.2 -2.9l-3.4 1.7z"/><path color="#f5b25f" d="M104.6 85l3.4 -2.2l-3.2 -1.5l-3.4 2.1z"/><path color="#ec8956" d="M138.2 82.6l3.4 -2.1l-3.3 -1.6l-3.4 2z"/><path color="#e97653" d="M219.5 81.9l3.4 -1.9l-3.3 -2.1l-3.4 1.8z"/><path color="#ef9659" d="M253.2 84.5l3.4 -1.8l-3.3 -2.5l-3.4 1.8z"/><path color="#e76f51" d="M175.4 83.4l3.5 -2l-3.3 -1.9l-3.5 2z"/><path color="#e76e51" d="M182.2 83.3l3.5 -2l-3.3 -1.9l-3.5 1.9z"/><path color="#f5d950" d="M74.8 90.9l3.4 -2.4l-3.2 -1.2l-3.4 2.4z"/><path color="#f5ce54" d="M81.3 89.8l3.4 -2.4l-3.2 -1.3l-3.4 2.3z"/><path color="#f5c458" d="M87.9 88.9l3.4 -2.4l-3.2 -1.4l-3.4 2.3z"/><path color="#f5bc5c" d="M94.6 88l3.4 -2.3l-3.2 -1.4l-3.4 2.3z"/><path color="#f5b45f" d="M101.2 87.3l3.4 -2.3l-3.2 -1.5l-3.4 2.2z"/><path color="#f3a95d" d="M107.9 86.6l3.4 -2.3l-3.3 -1.6l-3.4 2.2z"/><path color="#f1a05b" d="M114.6 86l3.4 -2.2l-3.3 -1.6l-3.4 2.2z"/><path color="#ef9759" d="M121.3 85.5l3.4 -2.2l-3.3 -1.7l-3.4 2.1z"/><path color="#ee8f58" d="M128 85.1l3.4 -2.2l-3.3 -1.7l-3.4 2.1z"/><path color="#ec8956" d="M134.8 84.7l3.4 -2.2l-3.3 -1.7l-3.4 2.1z"/><path color="#eb8355" d="M141.5 84.4l3.4 -2.1l-3.3 -1.7l-3.4 2.1z"/><path color="#ea7d54" d="M148.3 84.1l3.4 -2.1l-3.3 -1.8l-3.4 2z"/><path color="#e97953" d="M155 83.8l3.5 -2.1l-3.3 -1.8l-3.5 2z"/><path color="#e87552" d="M161.8 83.6l3.5 -2.1l-3.3 -1.8l-3.5 2z"/><path color="#e87252" d="M168.6 83.5l3.5 -2.1l-3.3 -1.8l-3.5 2z"/><path color="#e76d51" d="M189 83.3l3.5 -2l-3.3 -1.9l-3.4 1.9z"/><path color="#e76d51" d="M195.8 83.4l3.4 -2l-3.3 -2l-3.4 1.9z"/><path color="#e76e51" d="M202.5 83.5l3.4 -2l-3.3 -2l-3.4 1.9z"/><path color="#e76f51" d="M209.3 83.7l3.4 -2l-3.3 -2.1l-3.4 1.9z"/><path color="#e87252" d="M216.1 83.9l3.4 -2l-3.3 -2.1l-3.4 1.9z"/><path color="#e97653" d="M222.9 84.2l3.4 -1.9l-3.3 -2.2l-3.4 1.9z"/><path color="#ea7b54" d="M229.6 84.6l3.4 -1.9l-3.3 -2.3l-3.4 1.9z"/><path color="#eb8155" d="M236.4 85.1l3.4 -1.9l-3.3 -2.4l-3.4 1.8z"/><path color="#ec8856" d="M243.1 85.7l3.4 -1.9l-3.3 -2.4l-3.4 1.8z"/><path color="#ee9058" d="M249.8 86.4l3.4 -1.9l-3.3 -2.5l-3.4 1.8z"/><path color="#f09a5a" d="M256.5 87.2l3.4 -1.9l-3.3 -2.6l-3.4 1.8z"/><path color="#f2a65c" d="M263.2 88.1l3.4 -1.9l-3.3 -2.7l-3.4 1.8z"/><path color="#f5b25f" d="M269.8 89.1l3.4 -1.8l-3.2 -2.8l-3.4 1.8z"/><path color="#f5bc5c" d="M276.4 90.3l3.4 -1.8l-3.2 -2.9l-3.4 1.8z"/><path color="#f5c657" d="M283 91.6l3.4 -1.8l-3.2 -3.1l-3.4 1.8z"/><path color="#f5dc4e" d="M71.4 93.5l3.4 -2.5l-3.2 -1.2l-3.4 2.5z"/><path color="#f5d153" d="M78 92.3l3.4 -2.5l-3.2 -1.3l-3.4 2.4z"/><path color="#f5c757" d="M84.6 91.3l3.4 -2.4l-3.2 -1.4l-3.4 2.4z"/><path color="#f3ac5d" d="M104.5 89l3.4 -2.4l-3.3 -1.6l-3.4 2.3z"/><path color="#f1a25b" d="M111.2 88.4l3.4 -2.3l-3.3 -1.7l-3.4 2.3z"/><path color="#f0995a" d="M117.9 87.9l3.4 -2.3l-3.3 -1.7l-3.4 2.2z"/><path color="#eb8355" d="M138.1 86.6l3.4 -2.2l-3.3 -1.8l-3.4 2.2z"/><path color="#ea7d54" d="M144.8 86.3l3.4 -2.2l-3.3 -1.8l-3.4 2.1z"/><path color="#e97853" d="M151.6 86l3.4 -2.2l-3.3 -1.9l-3.4 2.1z"/><path color="#e76e51" d="M171.9 85.5l3.5 -2.1l-3.3 -2l-3.5 2.1z"/><path color="#e76c51" d="M178.7 85.5l3.5 -2.1l-3.3 -2l-3.5 2z"/><path color="#e66b50" d="M185.5 85.4l3.5 -2.1l-3.3 -2l-3.5 2z"/><path color="#e76d51" d="M205.9 85.7l3.4 -2.1l-3.3 -2.2l-3.4 2z"/><path color="#e76f51" d="M212.7 85.9l3.4 -2l-3.3 -2.2l-3.4 2z"/><path color="#e87252" d="M219.4 86.3l3.4 -2l-3.3 -2.3l-3.4 2z"/><path color="#eb8455" d="M239.7 87.7l3.4 -2l-3.3 -2.5l-3.4 1.9z"/><path color="#ed8c57" d="M246.4 88.4l3.4 -2l-3.3 -2.6l-3.4 1.9z"/><path color="#ef9659" d="M253.1 89.1l3.4 -1.9l-3.3 -2.7l-3.4 1.9z"/><path color="#f5b85d" d="M273 92.2l3.4 -1.9l-3.2 -3l-3.4 1.8z"/><path color="#f5c259" d="M279.6 93.4l3.4 -1.9l-3.2 -3.1l-3.4 1.8z"/><path color="#f5ce54" d="M286.2 94.8l3.4 -1.8l-3.2 -3.2l-3.4 1.8z"/><path color="#f5be5b" d="M91.2 90.4l3.4 -2.4l-3.2 -1.5l-3.4 2.4z"/><path color="#f5b65e" d="M97.8 89.7l3.4 -2.4l-3.2 -1.6l-3.4 2.3z"/><path color="#ee9058" d="M124.6 87.4l3.4 -2.3l-3.3 -1.8l-3.4 2.2z"/><path color="#ec8956" d="M131.3 87l3.4 -2.3l-3.3 -1.8l-3.4 2.2z"/><path color="#e87452" d="M158.4 85.8l3.5 -2.2l-3.3 -1.9l-3.5 2.1z"/><path color="#e87152" d="M165.2 85.7l3.5 -2.2l-3.3 -1.9l-3.5 2.1z"/><path color="#e66b50" d="M192.3 85.5l3.5 -2.1l-3.3 -2.1l-3.5 2z"/><path color="#e66b50" d="M199.1 85.6l3.4 -2.1l-3.3 -2.1l-3.4 2z"/><path color="#e97753" d="M226.2 86.6l3.4 -2l-3.3 -2.3l-3.4 1.9z"/><path color="#ea7d54" d="M233 87.1l3.4 -2l-3.3 -2.4l-3.4 1.9z"/><path color="#f1a05b" d="M259.8 90l3.4 -1.9l-3.3 -2.8l-3.4 1.9z"/><path color="#f4ad5e" d="M266.4 91l3.4 -1.9l-3.2 -2.9l-3.4 1.9z"/><path color="#f5df4d" d="M68.1 96l3.3 -2.6l-3.2 -1.2l-3.3 2.5z"/><path color="#f5d452" d="M74.6 94.9l3.4 -2.6l-3.2 -1.4l-3.4 2.5z"/><path color="#f5ca56" d="M81.2 93.8l3.4 -2.5l-3.2 -1.5l-3.4 2.5z"/><path color="#f5c05a" d="M87.8 92.9l3.4 -2.5l-3.2 -1.6l-3.4 2.4z"/><path color="#f5b85d" d="M94.4 92.1l3.4 -2.5l-3.2 -1.6l-3.4 2.4z"/><path color="#f4af5e" d="M101.1 91.4l3.4 -2.5l-3.3 -1.7l-3.4 2.4z"/><path color="#f2a45c" d="M107.7 90.8l3.4 -2.4l-3.3 -1.8l-3.4 2.4z"/><path color="#f09b5a" d="M114.4 90.3l3.4 -2.4l-3.3 -1.8l-3.4 2.3z"/><path color="#ee9358" d="M121.2 89.8l3.4 -2.4l-3.3 -1.8l-3.4 2.3z"/><path color="#ed8b57" d="M127.9 89.3l3.4 -2.4l-3.3 -1.9l-3.4 2.3z"/><path color="#eb8455" d="M134.6 89l3.4 -2.3l-3.3 -1.9l-3.4 2.3z"/><path color="#ea7e54" d="M141.4 88.6l3.4 -2.3l-3.3 -1.9l-3.4 2.2z"/><path color="#e97953" d="M148.1 88.3l3.4 -2.3l-3.3 -2l-3.4 2.2z"/><path color="#e87552" d="M154.9 88.1l3.4 -2.3l-3.3 -2l-3.4 2.2z"/><path color="#e87152" d="M161.7 87.9l3.5 -2.3l-3.3 -2l-3.5 2.2z"/><path color="#e76e51" d="M168.5 87.8l3.5 -2.2l-3.3 -2l-3.5 2.2z"/><path color="#e66b50" d="M175.3 87.7l3.5 -2.2l-3.3 -2.1l-3.5 2.1z"/><path color="#e66a50" d="M182.1 87.6l3.5 -2.2l-3.3 -2.1l-3.5 2.1z"/><path color="#e66950" d="M188.9 87.6l3.5 -2.2l-3.3 -2.1l-3.5 2.1z"/><path color="#e66a50" d="M195.6 87.7l3.5 -2.2l-3.3 -2.2l-3.5 2.1z"/><path color="#e66b50" d="M202.4 87.9l3.5 -2.1l-3.3 -2.2l-3.4 2.1z"/><path color="#e76d51" d="M209.2 88.1l3.4 -2.1l-3.3 -2.3l-3.4 2.1z"/><path color="#e77051" d="M216 88.4l3.4 -2.1l-3.3 -2.3l-3.4 2z"/><path color="#e87452" d="M222.8 88.7l3.4 -2.1l-3.3 -2.4l-3.4 2z"/><path color="#e97a53" d="M229.5 89.2l3.4 -2.1l-3.3 -2.5l-3.4 2z"/><path color="#eb8055" d="M236.3 89.7l3.4 -2.1l-3.3 -2.6l-3.4 2z"/><path color="#ec8856" d="M243 90.4l3.4 -2l-3.3 -2.6l-3.4 2z"/><path color="#ee9258" d="M249.7 91.2l3.4 -2l-3.3 -2.7l-3.4 2z"/><path color="#f09c5a" d="M256.4 92l3.4 -2l-3.3 -2.8l-3.4 1.9z"/><path color="#f3a85d" d="M263 93l3.4 -2l-3.2 -2.9l-3.4 1.9z"/><path color="#f5b55e" d="M269.7 94.1l3.4 -1.9l-3.2 -3l-3.4 1.9z"/><path color="#f5bf5a" d="M276.3 95.4l3.4 -1.9l-3.2 -3.1l-3.4 1.9z"/><path color="#f5ca56" d="M282.8 96.7l3.4 -1.9l-3.2 -3.2l-3.4 1.9z"/><path color="#f5d651" d="M289.3 98.2l3.4 -1.9l-3.2 -3.4l-3.4 1.8z"/><path color="#f5e44b" d="M64.7 98.7l3.3 -2.7l-3.2 -1.3l-3.3 2.6z"/><path color="#f5d850" d="M71.3 97.5l3.3 -2.6l-3.2 -1.4l-3.3 2.6z"/><path color="#f5cd54" d="M77.8 96.5l3.4 -2.6l-3.2 -1.5l-3.4 2.6z"/><path color="#f5c458" d="M84.4 95.5l3.4 -2.6l-3.2 -1.6l-3.4 2.5z"/><path color="#f5bb5c" d="M91 94.7l3.4 -2.6l-3.2 -1.7l-3.4 2.5z"/><path color="#f5b35f" d="M97.7 94l3.4 -2.5l-3.3 -1.8l-3.4 2.5z"/><path color="#f3a85d" d="M104.3 93.3l3.4 -2.5l-3.3 -1.8l-3.4 2.5z"/><path color="#f19f5b" d="M111 92.8l3.4 -2.5l-3.3 -1.9l-3.4 2.4z"/><path color="#ef9659" d="M117.7 92.3l3.4 -2.5l-3.3 -1.9l-3.4 2.4z"/><path color="#ed8e57" d="M124.5 91.8l3.4 -2.5l-3.3 -2l-3.4 2.4z"/><path color="#ec8756" d="M131.2 91.4l3.4 -2.4l-3.3 -2l-3.4 2.4z"/><path color="#eb8055" d="M138 91.1l3.4 -2.4l-3.3 -2l-3.4 2.3z"/><path color="#ea7b54" d="M144.7 90.7l3.4 -2.4l-3.3 -2l-3.4 2.3z"/><path color="#e97653" d="M151.5 90.5l3.4 -2.4l-3.3 -2.1l-3.4 2.3z"/><path color="#e87252" d="M158.3 90.3l3.4 -2.4l-3.3 -2.1l-3.4 2.3z"/><path color="#e76f51" d="M165 90.1l3.5 -2.3l-3.3 -2.1l-3.5 2.3z"/><path color="#e76c51" d="M171.8 90l3.5 -2.3l-3.3 -2.1l-3.5 2.2z"/><path color="#e66a50" d="M178.6 89.9l3.5 -2.3l-3.3 -2.2l-3.5 2.2z"/><path color="#e66950" d="M185.4 89.9l3.5 -2.3l-3.3 -2.2l-3.5 2.2z"/><path color="#e66950" d="M192.2 90l3.5 -2.3l-3.3 -2.3l-3.5 2.2z"/><path color="#e66a50" d="M199 90.1l3.5 -2.2l-3.3 -2.3l-3.5 2.2z"/><path color="#e76c51" d="M205.8 90.3l3.5 -2.2l-3.3 -2.4l-3.5 2.1z"/><path color="#e76f51" d="M212.5 90.6l3.4 -2.2l-3.3 -2.4l-3.4 2.1z"/><path color="#e87252" d="M219.3 90.9l3.4 -2.2l-3.3 -2.5l-3.4 2.1z"/><path color="#e97853" d="M226.1 91.4l3.4 -2.2l-3.3 -2.6l-3.4 2.1z"/><path color="#ea7e54" d="M232.8 91.9l3.4 -2.1l-3.3 -2.6l-3.4 2.1z"/><path color="#ec8556" d="M239.5 92.5l3.4 -2.1l-3.3 -2.7l-3.4 2.1z"/><path color="#ed8e57" d="M246.3 93.3l3.4 -2.1l-3.3 -2.8l-3.4 2z"/><path color="#f0995a" d="M253 94.1l3.4 -2.1l-3.3 -2.9l-3.4 2z"/><path color="#f2a45c" d="M259.6 95.1l3.4 -2l-3.2 -3l-3.4 2z"/><path color="#f5b25f" d="M266.3 96.1l3.4 -2l-3.2 -3.1l-3.4 2z"/><path color="#f5bc5c" d="M272.9 97.4l3.4 -2l-3.2 -3.2l-3.4 1.9z"/><path color="#f5c757" d="M279.4 98.7l3.4 -2l-3.2 -3.3l-3.4 1.9z"/><path color="#f5d252" d="M286 100.2l3.4 -1.9l-3.2 -3.4l-3.4 1.9z"/><path color="#f5df4d" d="M292.5 101.7l3.4 -1.9l-3.1 -3.5l-3.4 1.9z"/><path color="#f5e849" d="M61.4 101.4l3.3 -2.7l-3.2 -1.3l-3.3 2.7z"/><path color="#f5dc4e" d="M67.9 100.2l3.3 -2.7l-3.2 -1.5l-3.3 2.7z"/><path color="#f5d153" d="M74.5 99.1l3.4 -2.7l-3.2 -1.6l-3.3 2.6z"/><path color="#f5b75e" d="M94.3 96.6l3.4 -2.6l-3.3 -1.8l-3.4 2.6z"/><path color="#f4ad5e" d="M101 95.9l3.4 -2.6l-3.3 -1.9l-3.4 2.5z"/><path color="#f2a35c" d="M107.6 95.4l3.4 -2.6l-3.3 -1.9l-3.4 2.5z"/><path color="#f09a5a" d="M114.3 94.8l3.4 -2.6l-3.3 -2l-3.4 2.5z"/><path color="#ed8a57" d="M127.8 93.9l3.4 -2.5l-3.3 -2.1l-3.4 2.5z"/><path color="#eb8455" d="M134.5 93.6l3.4 -2.5l-3.3 -2.1l-3.4 2.4z"/><path color="#ea7e54" d="M141.3 93.3l3.4 -2.5l-3.3 -2.1l-3.4 2.4z"/><path color="#e97853" d="M148 93l3.4 -2.5l-3.3 -2.1l-3.4 2.4z"/><path color="#e77051" d="M161.6 92.6l3.4 -2.4l-3.3 -2.2l-3.4 2.4z"/><path color="#e76d51" d="M168.4 92.4l3.5 -2.4l-3.3 -2.2l-3.5 2.3z"/><path color="#e66b50" d="M175.2 92.3l3.5 -2.4l-3.3 -2.3l-3.5 2.3z"/><path color="#e66a50" d="M181.9 92.3l3.5 -2.4l-3.3 -2.3l-3.5 2.3z"/><path color="#e66a50" d="M188.7 92.4l3.5 -2.4l-3.3 -2.3l-3.5 2.3z"/><path color="#e66a50" d="M195.5 92.4l3.5 -2.3l-3.3 -2.4l-3.5 2.3z"/><path color="#e76e51" d="M209.1 92.9l3.5 -2.3l-3.3 -2.5l-3.5 2.2z"/><path color="#e87252" d="M215.9 93.2l3.5 -2.3l-3.3 -2.6l-3.4 2.2z"/><path color="#e97653" d="M222.6 93.6l3.4 -2.2l-3.3 -2.6l-3.4 2.2z"/><path color="#ea7c54" d="M229.4 94.1l3.4 -2.2l-3.3 -2.7l-3.4 2.2z"/><path color="#ed8c57" d="M242.8 95.4l3.4 -2.2l-3.3 -2.9l-3.4 2.1z"/><path color="#ef9659" d="M249.5 96.2l3.4 -2.1l-3.3 -2.9l-3.4 2.1z"/><path color="#f1a15b" d="M256.2 97.2l3.4 -2.1l-3.2 -3l-3.4 2.1z"/><path color="#f4ae5e" d="M262.8 98.2l3.4 -2.1l-3.2 -3.1l-3.4 2z"/><path color="#f5cf54" d="M282.6 102.2l3.4 -2l-3.2 -3.4l-3.4 2z"/><path color="#f5dc4e" d="M289.1 103.7l3.4 -2l-3.1 -3.5l-3.4 1.9z"/><path color="#f5e949" d="M295.6 105.4l3.3 -2l-3.1 -3.6l-3.4 1.9z"/><path color="#f5c857" d="M81 98.2l3.4 -2.7l-3.2 -1.7l-3.4 2.6z"/><path color="#f5bf5b" d="M87.7 97.4l3.4 -2.7l-3.2 -1.8l-3.4 2.6z"/><path color="#ee9258" d="M121 94.4l3.4 -2.6l-3.3 -2l-3.4 2.5z"/><path color="#e87452" d="M154.8 92.7l3.4 -2.5l-3.3 -2.2l-3.4 2.4z"/><path color="#e66b50" d="M202.3 92.6l3.5 -2.3l-3.3 -2.4l-3.5 2.2z"/><path color="#eb8355" d="M236.1 94.7l3.4 -2.2l-3.3 -2.8l-3.4 2.1z"/><path color="#f5ba5d" d="M269.5 99.4l3.4 -2.1l-3.2 -3.2l-3.4 2z"/><path color="#f5c458" d="M276 100.7l3.4 -2l-3.2 -3.3l-3.4 2z"/><path color="#f5ed47" d="M58.1 104.2l3.3 -2.8l-3.1 -1.4l-3.3 2.7z"/><path color="#f5e14c" d="M64.6 103l3.3 -2.8l-3.2 -1.5l-3.3 2.7z"/><path color="#f5d651" d="M71.1 101.9l3.3 -2.8l-3.2 -1.6l-3.3 2.7z"/><path color="#f5cc55" d="M77.7 100.9l3.4 -2.7l-3.2 -1.7l-3.4 2.7z"/><path color="#f5c359" d="M84.3 100.1l3.4 -2.7l-3.2 -1.8l-3.4 2.7z"/><path color="#f5bb5c" d="M90.9 99.3l3.4 -2.7l-3.3 -1.9l-3.4 2.7z"/><path color="#f5b35f" d="M97.6 98.6l3.4 -2.7l-3.3 -2l-3.4 2.6z"/><path color="#f3a95d" d="M104.2 98l3.4 -2.7l-3.3 -2l-3.4 2.6z"/><path color="#f19f5b" d="M110.9 97.5l3.4 -2.7l-3.3 -2.1l-3.4 2.6z"/><path color="#ef9759" d="M117.6 97l3.4 -2.7l-3.3 -2.1l-3.4 2.6z"/><path color="#ee8f58" d="M124.4 96.6l3.4 -2.6l-3.3 -2.1l-3.4 2.6z"/><path color="#ec8856" d="M131.1 96.2l3.4 -2.6l-3.3 -2.2l-3.4 2.5z"/><path color="#eb8255" d="M137.8 95.9l3.4 -2.6l-3.3 -2.2l-3.4 2.5z"/><path color="#ea7c54" d="M144.6 95.6l3.4 -2.6l-3.3 -2.2l-3.4 2.5z"/><path color="#e97753" d="M151.4 95.3l3.4 -2.6l-3.3 -2.3l-3.4 2.5z"/><path color="#e87352" d="M158.1 95.1l3.4 -2.5l-3.3 -2.3l-3.4 2.5z"/><path color="#e77051" d="M164.9 95l3.4 -2.5l-3.3 -2.3l-3.4 2.4z"/><path color="#e76e51" d="M171.7 94.9l3.5 -2.5l-3.3 -2.3l-3.5 2.4z"/><path color="#e76c51" d="M178.5 94.8l3.5 -2.5l-3.3 -2.4l-3.5 2.4z"/><path color="#e66b50" d="M185.3 94.8l3.5 -2.5l-3.3 -2.4l-3.5 2.4z"/><path color="#e66b50" d="M192.1 94.9l3.5 -2.4l-3.3 -2.5l-3.5 2.4z"/><path color="#e76c51" d="M198.9 95l3.5 -2.4l-3.3 -2.5l-3.5 2.3z"/><path color="#e76e51" d="M205.6 95.3l3.5 -2.4l-3.3 -2.6l-3.5 2.3z"/><path color="#e87252" d="M212.4 95.6l3.5 -2.4l-3.3 -2.6l-3.5 2.3z"/><path color="#e97653" d="M219.2 95.9l3.5 -2.3l-3.3 -2.7l-3.5 2.3z"/><path color="#ea7c54" d="M225.9 96.4l3.4 -2.3l-3.3 -2.8l-3.4 2.2z"/><path color="#eb8255" d="M232.7 97l3.4 -2.3l-3.3 -2.8l-3.4 2.2z"/><path color="#ed8b57" d="M239.4 97.7l3.4 -2.3l-3.3 -2.9l-3.4 2.2z"/><path color="#ef9459" d="M246.1 98.5l3.4 -2.2l-3.3 -3l-3.4 2.2z"/><path color="#f19f5b" d="M252.8 99.4l3.4 -2.2l-3.2 -3.1l-3.4 2.1z"/><path color="#f3ac5d" d="M259.4 100.4l3.4 -2.2l-3.2 -3.2l-3.4 2.1z"/><path color="#f5b85d" d="M266.1 101.6l3.4 -2.1l-3.2 -3.3l-3.4 2.1z"/><path color="#f5c259" d="M272.7 102.8l3.4 -2.1l-3.2 -3.4l-3.4 2.1z"/><path color="#f5cd55" d="M279.2 104.3l3.4 -2.1l-3.2 -3.5l-3.4 2z"/><path color="#f5d950" d="M285.7 105.8l3.4 -2.1l-3.1 -3.6l-3.4 2z"/><path color="#f5e64a" d="M292.2 107.5l3.4 -2l-3.1 -3.7l-3.4 2z"/><path color="#eff044" d="M298.6 109.3l3.3 -2l-3.1 -3.8l-3.3 2z"/><path color="#f1f045" d="M54.8 107.1l3.3 -2.8l-3.1 -1.4l-3.3 2.8z"/><path color="#f5e64a" d="M61.3 105.8l3.3 -2.8l-3.2 -1.6l-3.3 2.8z"/><path color="#f5db4f" d="M67.8 104.7l3.3 -2.8l-3.2 -1.7l-3.3 2.8z"/><path color="#f5bf5a" d="M87.6 102.1l3.4 -2.8l-3.3 -2l-3.4 2.7z"/><path color="#f5b85d" d="M94.2 101.4l3.4 -2.8l-3.3 -2l-3.4 2.7z"/><path color="#f4af5e" d="M100.9 100.8l3.4 -2.8l-3.3 -2.1l-3.4 2.7z"/><path color="#ef9459" d="M121 99.3l3.4 -2.7l-3.3 -2.2l-3.4 2.7z"/><path color="#ed8d57" d="M127.7 98.9l3.4 -2.7l-3.3 -2.3l-3.4 2.6z"/><path color="#ec8656" d="M134.4 98.6l3.4 -2.7l-3.3 -2.3l-3.4 2.6z"/><path color="#e97753" d="M154.7 97.8l3.4 -2.6l-3.3 -2.4l-3.4 2.6z"/><path color="#e87452" d="M161.5 97.6l3.4 -2.6l-3.3 -2.4l-3.4 2.5z"/><path color="#e87152" d="M168.3 97.5l3.4 -2.6l-3.3 -2.4l-3.4 2.5z"/><path color="#e76d51" d="M188.6 97.4l3.5 -2.5l-3.3 -2.5l-3.5 2.5z"/><path color="#e76e51" d="M195.4 97.6l3.5 -2.5l-3.3 -2.6l-3.5 2.4z"/><path color="#e77051" d="M202.2 97.7l3.5 -2.5l-3.3 -2.6l-3.5 2.4z"/><path color="#ea7c54" d="M222.5 98.8l3.5 -2.4l-3.3 -2.8l-3.5 2.3z"/><path color="#eb8255" d="M229.2 99.4l3.4 -2.4l-3.3 -2.9l-3.4 2.3z"/><path color="#ed8a57" d="M235.9 100l3.4 -2.4l-3.3 -3l-3.4 2.3z"/><path color="#f3aa5d" d="M256 102.7l3.4 -2.3l-3.2 -3.2l-3.4 2.2z"/><path color="#f5b65e" d="M262.6 103.8l3.4 -2.2l-3.2 -3.3l-3.4 2.2z"/><path color="#f5c05a" d="M269.2 105l3.4 -2.2l-3.2 -3.4l-3.4 2.1z"/><path color="#f5e44b" d="M288.8 109.6l3.4 -2.1l-3.1 -3.7l-3.4 2.1z"/><path color="#f3f045" d="M295.3 111.3l3.4 -2.1l-3.1 -3.8l-3.4 2z"/><path color="#def13f" d="M301.7 113.2l3.3 -2l-3 -3.9l-3.3 2z"/><path color="#f5d153" d="M74.4 103.8l3.3 -2.8l-3.2 -1.8l-3.3 2.8z"/><path color="#f5c857" d="M80.9 102.9l3.4 -2.8l-3.2 -1.9l-3.4 2.7z"/><path color="#f2a55c" d="M107.5 100.3l3.4 -2.8l-3.3 -2.1l-3.4 2.7z"/><path color="#f09c5a" d="M114.2 99.8l3.4 -2.7l-3.3 -2.2l-3.4 2.7z"/><path color="#eb8155" d="M141.2 98.2l3.4 -2.7l-3.3 -2.3l-3.4 2.6z"/><path color="#ea7c54" d="M147.9 98l3.4 -2.7l-3.3 -2.3l-3.4 2.6z"/><path color="#e76f51" d="M175 97.4l3.5 -2.6l-3.3 -2.5l-3.5 2.5z"/><path color="#e76e51" d="M181.8 97.4l3.5 -2.6l-3.3 -2.5l-3.5 2.5z"/><path color="#e87352" d="M209 98l3.5 -2.5l-3.3 -2.7l-3.5 2.4z"/><path color="#e97753" d="M215.7 98.4l3.5 -2.4l-3.3 -2.8l-3.5 2.4z"/><path color="#ee9358" d="M242.7 100.8l3.4 -2.3l-3.3 -3.1l-3.4 2.3z"/><path color="#f19e5b" d="M249.3 101.7l3.4 -2.3l-3.2 -3.1l-3.4 2.2z"/><path color="#f5cb55" d="M275.8 106.4l3.4 -2.2l-3.2 -3.5l-3.4 2.1z"/><path color="#f5d751" d="M282.3 107.9l3.4 -2.1l-3.1 -3.6l-3.4 2.1z"/><path color="#e9f143" d="M51.5 109.9l3.3 -2.9l-3.1 -1.4l-3.3 2.8z"/><path color="#f5ec48" d="M58 108.7l3.3 -2.9l-3.2 -1.6l-3.3 2.8z"/><path color="#f5e04c" d="M64.5 107.6l3.3 -2.9l-3.2 -1.7l-3.3 2.8z"/><path color="#f5d651" d="M71 106.6l3.3 -2.9l-3.2 -1.9l-3.3 2.8z"/><path color="#f5cd55" d="M77.6 105.8l3.3 -2.9l-3.2 -2l-3.3 2.8z"/><path color="#f5c458" d="M84.2 105l3.3 -2.9l-3.3 -2l-3.4 2.8z"/><path color="#f5bd5b" d="M90.8 104.3l3.4 -2.9l-3.3 -2.1l-3.4 2.8z"/><path color="#f5b55e" d="M97.5 103.7l3.4 -2.9l-3.3 -2.2l-3.4 2.8z"/><path color="#f3ac5d" d="M104.2 103.1l3.4 -2.8l-3.3 -2.2l-3.4 2.8z"/><path color="#f2a35c" d="M110.8 102.6l3.4 -2.8l-3.3 -2.3l-3.4 2.8z"/><path color="#f09b5a" d="M117.6 102.1l3.4 -2.8l-3.3 -2.3l-3.4 2.7z"/><path color="#ee9358" d="M124.3 101.7l3.4 -2.8l-3.3 -2.3l-3.4 2.7z"/><path color="#ed8c57" d="M131 101.4l3.4 -2.8l-3.3 -2.4l-3.4 2.7z"/><path color="#ec8656" d="M137.7 101l3.4 -2.8l-3.3 -2.4l-3.4 2.7z"/><path color="#eb8155" d="M144.5 100.7l3.4 -2.8l-3.3 -2.4l-3.4 2.7z"/><path color="#ea7c54" d="M151.3 100.5l3.4 -2.7l-3.3 -2.4l-3.4 2.7z"/><path color="#e97853" d="M158 100.3l3.4 -2.7l-3.3 -2.5l-3.4 2.6z"/><path color="#e87552" d="M164.8 100.2l3.4 -2.7l-3.3 -2.5l-3.4 2.6z"/><path color="#e87352" d="M171.6 100.1l3.4 -2.7l-3.3 -2.5l-3.4 2.6z"/><path color="#e87152" d="M178.4 100l3.5 -2.7l-3.3 -2.6l-3.5 2.6z"/><path color="#e87152" d="M185.2 100.1l3.5 -2.6l-3.3 -2.6l-3.5 2.6z"/><path color="#e87152" d="M191.9 100.2l3.5 -2.6l-3.3 -2.7l-3.5 2.5z"/><path color="#e87252" d="M198.7 100.3l3.5 -2.6l-3.3 -2.7l-3.5 2.5z"/><path color="#e87552" d="M205.5 100.6l3.5 -2.6l-3.3 -2.8l-3.5 2.5z"/><path color="#e97853" d="M212.3 100.9l3.5 -2.5l-3.3 -2.8l-3.5 2.5z"/><path color="#ea7d54" d="M219 101.3l3.5 -2.5l-3.3 -2.9l-3.5 2.4z"/><path color="#eb8355" d="M225.8 101.9l3.5 -2.5l-3.3 -3l-3.5 2.4z"/><path color="#ed8a57" d="M232.5 102.5l3.4 -2.4l-3.3 -3l-3.4 2.4z"/><path color="#ee9358" d="M239.2 103.2l3.4 -2.4l-3.3 -3.1l-3.4 2.4z"/><path color="#f09d5a" d="M245.9 104.1l3.4 -2.4l-3.2 -3.2l-3.4 2.3z"/><path color="#f3a95d" d="M252.6 105l3.4 -2.3l-3.2 -3.3l-3.4 2.3z"/><path color="#f5b55e" d="M259.2 106.1l3.4 -2.3l-3.2 -3.4l-3.4 2.3z"/><path color="#f5bf5a" d="M265.8 107.3l3.4 -2.3l-3.2 -3.5l-3.4 2.2z"/><path color="#f5c956" d="M272.4 108.7l3.4 -2.2l-3.2 -3.6l-3.4 2.2z"/><path color="#f5d551" d="M279 110.1l3.4 -2.2l-3.1 -3.7l-3.4 2.2z"/><path color="#f5e24c" d="M285.5 111.7l3.4 -2.2l-3.1 -3.8l-3.4 2.1z"/><path color="#f5ef46" d="M291.9 113.5l3.4 -2.1l-3.1 -3.9l-3.4 2.1z"/><path color="#e2f140" d="M298.3 115.3l3.4 -2.1l-3 -4l-3.4 2.1z"/><path color="#ccf33a" d="M304.7 117.3l3.3 -2.1l-3 -4.1l-3.3 2z"/><path color="#e1f140" d="M48.2 112.9l3.3 -2.9l-3.1 -1.5l-3.3 2.9z"/><path color="#f3f045" d="M54.7 111.6l3.3 -2.9l-3.2 -1.6l-3.3 2.9z"/><path color="#f5e64a" d="M61.2 110.5l3.3 -2.9l-3.2 -1.8l-3.3 2.9z"/><path color="#f5dc4e" d="M67.7 109.6l3.3 -2.9l-3.2 -1.9l-3.3 2.9z"/><path color="#f5ca56" d="M80.9 107.9l3.3 -2.9l-3.3 -2.1l-3.3 2.9z"/><path color="#f5c259" d="M87.5 107.2l3.3 -2.9l-3.3 -2.2l-3.3 2.9z"/><path color="#f5bb5c" d="M94.1 106.6l3.4 -2.9l-3.3 -2.2l-3.4 2.9z"/><path color="#f5b45f" d="M100.8 106l3.4 -2.9l-3.3 -2.3l-3.4 2.9z"/><path color="#f1a25b" d="M114.2 105.1l3.4 -2.9l-3.3 -2.4l-3.4 2.8z"/><path color="#f09a5a" d="M120.9 104.6l3.4 -2.9l-3.3 -2.4l-3.4 2.8z"/><path color="#ee9358" d="M127.6 104.3l3.4 -2.9l-3.3 -2.4l-3.4 2.8z"/><path color="#ed8d57" d="M134.3 103.9l3.4 -2.9l-3.3 -2.5l-3.4 2.8z"/><path color="#ec8756" d="M141.1 103.6l3.4 -2.9l-3.3 -2.5l-3.4 2.8z"/><path color="#eb8255" d="M147.8 103.4l3.4 -2.8l-3.3 -2.5l-3.4 2.8z"/><path color="#ea7e54" d="M154.6 103.1l3.4 -2.8l-3.3 -2.6l-3.4 2.7z"/><path color="#ea7b54" d="M161.4 103l3.4 -2.8l-3.3 -2.6l-3.4 2.7z"/><path color="#e97853" d="M168.1 102.9l3.4 -2.8l-3.3 -2.6l-3.4 2.7z"/><path color="#e97653" d="M174.9 102.8l3.4 -2.8l-3.3 -2.7l-3.4 2.7z"/><path color="#e87552" d="M181.7 102.8l3.5 -2.7l-3.3 -2.7l-3.5 2.7z"/><path color="#e87552" d="M188.5 102.9l3.5 -2.7l-3.3 -2.7l-3.5 2.6z"/><path color="#e97653" d="M195.3 103l3.5 -2.7l-3.3 -2.8l-3.5 2.6z"/><path color="#e97853" d="M202 103.2l3.5 -2.7l-3.3 -2.8l-3.5 2.6z"/><path color="#ea7b54" d="M208.8 103.6l3.5 -2.6l-3.3 -2.9l-3.5 2.6z"/><path color="#ea7f54" d="M215.6 103.9l3.5 -2.6l-3.3 -3l-3.5 2.5z"/><path color="#ec8556" d="M222.3 104.4l3.5 -2.6l-3.3 -3l-3.5 2.5z"/><path color="#ed8c57" d="M229 105l3.5 -2.5l-3.3 -3.1l-3.5 2.5z"/><path color="#ef9459" d="M235.8 105.7l3.4 -2.5l-3.3 -3.2l-3.4 2.4z"/><path color="#f19e5b" d="M242.5 106.5l3.4 -2.5l-3.2 -3.3l-3.4 2.4z"/><path color="#f5b55f" d="M255.8 108.5l3.4 -2.4l-3.2 -3.4l-3.4 2.3z"/><path color="#f5be5b" d="M262.4 109.7l3.4 -2.4l-3.2 -3.5l-3.4 2.3z"/><path color="#f5c856" d="M269 111l3.4 -2.3l-3.2 -3.6l-3.4 2.3z"/><path color="#f5d452" d="M275.6 112.4l3.4 -2.3l-3.1 -3.7l-3.4 2.2z"/><path color="#f5ed47" d="M288.5 115.7l3.4 -2.2l-3.1 -3.9l-3.4 2.2z"/><path color="#e5f141" d="M295 117.5l3.4 -2.2l-3.1 -4l-3.4 2.1z"/><path color="#cff23b" d="M301.4 119.4l3.3 -2.1l-3 -4.1l-3.4 2.1z"/><path color="#b8f435" d="M307.7 121.5l3.3 -2.1l-3 -4.2l-3.3 2.1z"/><path color="#f5d252" d="M74.3 108.7l3.3 -2.9l-3.2 -2l-3.3 2.9z"/><path color="#f3ab5d" d="M107.5 105.5l3.4 -2.9l-3.3 -2.3l-3.4 2.8z"/><path color="#f3a95d" d="M249.1 107.5l3.4 -2.4l-3.2 -3.3l-3.4 2.4z"/><path color="#f5e04d" d="M282.1 114l3.4 -2.3l-3.1 -3.8l-3.4 2.2z"/><path color="#ec8956" d="M144.4 106.3l3.4 -2.9l-3.3 -2.6l-3.4 2.9z"/><path color="#eb8355" d="M212.1 106.7l3.5 -2.7l-3.3 -3l-3.5 2.6z"/><path color="#eaf143" d="M51.4 114.6l3.3 -3l-3.2 -1.7l-3.3 2.9z"/><path color="#f5ec47" d="M57.9 113.5l3.3 -3l-3.2 -1.8l-3.3 2.9z"/><path color="#f5e24c" d="M64.4 112.6l3.3 -3l-3.2 -2l-3.3 2.9z"/><path color="#f5d053" d="M77.5 110.9l3.3 -3l-3.3 -2.2l-3.3 2.9z"/><path color="#f5c857" d="M84.2 110.2l3.3 -3l-3.3 -2.2l-3.3 2.9z"/><path color="#f5c15a" d="M90.8 109.6l3.3 -3l-3.3 -2.3l-3.3 2.9z"/><path color="#f5ba5d" d="M97.4 109l3.4 -3l-3.3 -2.4l-3.4 2.9z"/><path color="#f3ab5d" d="M110.8 108.1l3.4 -3l-3.3 -2.5l-3.4 2.9z"/><path color="#f2a35c" d="M117.5 107.6l3.4 -3l-3.3 -2.5l-3.4 2.9z"/><path color="#f09b5a" d="M124.2 107.2l3.4 -3l-3.3 -2.5l-3.4 2.9z"/><path color="#ef9559" d="M130.9 106.9l3.4 -3l-3.3 -2.6l-3.4 2.9z"/><path color="#ec8556" d="M151.2 106.1l3.4 -2.9l-3.3 -2.6l-3.4 2.8z"/><path color="#eb8155" d="M157.9 105.9l3.4 -2.9l-3.3 -2.7l-3.4 2.8z"/><path color="#ea7e54" d="M164.7 105.8l3.4 -2.9l-3.3 -2.7l-3.4 2.8z"/><path color="#e97a53" d="M178.3 105.7l3.5 -2.8l-3.3 -2.8l-3.4 2.8z"/><path color="#ea7b54" d="M191.8 105.8l3.5 -2.8l-3.3 -2.9l-3.5 2.7z"/><path color="#ea7c54" d="M198.6 106l3.5 -2.8l-3.3 -2.9l-3.5 2.7z"/><path color="#ea7f54" d="M205.3 106.3l3.5 -2.7l-3.3 -3l-3.5 2.7z"/><path color="#ed8e57" d="M225.6 107.7l3.5 -2.6l-3.3 -3.2l-3.5 2.6z"/><path color="#ef9659" d="M232.3 108.3l3.5 -2.6l-3.3 -3.2l-3.5 2.5z"/><path color="#f19f5b" d="M239 109.1l3.4 -2.6l-3.2 -3.3l-3.4 2.5z"/><path color="#f3aa5d" d="M245.7 110l3.4 -2.5l-3.2 -3.4l-3.4 2.5z"/><path color="#f5be5b" d="M259 112.1l3.4 -2.5l-3.2 -3.6l-3.4 2.4z"/><path color="#f5c857" d="M265.6 113.4l3.4 -2.4l-3.2 -3.7l-3.4 2.4z"/><path color="#f5d352" d="M272.1 114.8l3.4 -2.4l-3.1 -3.8l-3.4 2.3z"/><path color="#f5df4d" d="M278.7 116.3l3.4 -2.3l-3.1 -3.9l-3.4 2.3z"/><path color="#e7f142" d="M291.6 119.8l3.4 -2.3l-3.1 -4l-3.4 2.2z"/><path color="#d2f23c" d="M298 121.7l3.4 -2.2l-3 -4.1l-3.4 2.2z"/><path color="#bcf436" d="M304.4 123.7l3.3 -2.2l-3 -4.2l-3.3 2.1z"/><path color="#f5d950" d="M71 111.7l3.3 -3l-3.2 -2.1l-3.3 2.9z"/><path color="#f5b35f" d="M104.1 108.5l3.4 -3l-3.3 -2.4l-3.4 2.9z"/><path color="#ee8f58" d="M137.7 106.6l3.4 -3l-3.3 -2.6l-3.4 2.9z"/><path color="#ea7c54" d="M171.5 105.7l3.4 -2.9l-3.3 -2.7l-3.4 2.8z"/><path color="#e97a53" d="M185 105.7l3.5 -2.8l-3.3 -2.8l-3.5 2.7z"/><path color="#ec8856" d="M218.9 107.1l3.5 -2.7l-3.3 -3.1l-3.5 2.6z"/><path color="#f5b55e" d="M252.3 111l3.4 -2.5l-3.2 -3.5l-3.4 2.4z"/><path color="#f5ec48" d="M285.2 118l3.4 -2.3l-3.1 -4l-3.4 2.3z"/><path color="#f1f045" d="M54.6 116.5l3.3 -3l-3.2 -1.9l-3.3 3z"/><path color="#f5e949" d="M61.1 115.6l3.3 -3l-3.2 -2l-3.3 3z"/><path color="#f5df4d" d="M67.7 114.8l3.3 -3.1l-3.2 -2.1l-3.3 3z"/><path color="#f5d651" d="M74.2 114l3.3 -3.1l-3.3 -2.2l-3.3 3z"/><path color="#f5ce54" d="M80.8 113.3l3.3 -3.1l-3.3 -2.3l-3.3 3z"/><path color="#f5c757" d="M87.4 112.7l3.3 -3.1l-3.3 -2.4l-3.3 3z"/><path color="#f5c05a" d="M94.1 112.1l3.3 -3.1l-3.3 -2.4l-3.3 3z"/><path color="#f5ba5d" d="M100.7 111.6l3.4 -3.1l-3.3 -2.5l-3.4 3z"/><path color="#f5b45f" d="M107.4 111.1l3.4 -3.1l-3.3 -2.5l-3.4 3z"/><path color="#f3ac5d" d="M114.1 110.7l3.4 -3.1l-3.3 -2.6l-3.4 3z"/><path color="#f2a45c" d="M120.8 110.3l3.4 -3.1l-3.3 -2.6l-3.4 3z"/><path color="#f09d5a" d="M127.5 110l3.4 -3.1l-3.3 -2.6l-3.4 3z"/><path color="#ef9759" d="M134.3 109.6l3.4 -3.1l-3.3 -2.7l-3.4 3z"/><path color="#ee9258" d="M141 109.3l3.4 -3l-3.3 -2.7l-3.4 3z"/><path color="#ed8d57" d="M147.8 109.1l3.4 -3l-3.3 -2.7l-3.4 2.9z"/><path color="#ec8956" d="M154.5 108.9l3.4 -3l-3.3 -2.7l-3.4 2.9z"/><path color="#ec8556" d="M161.3 108.8l3.4 -3l-3.3 -2.8l-3.4 2.9z"/><path color="#eb8355" d="M168 108.7l3.4 -3l-3.3 -2.8l-3.4 2.9z"/><path color="#eb8155" d="M174.8 108.6l3.4 -2.9l-3.3 -2.9l-3.4 2.9z"/><path color="#eb8055" d="M181.6 108.6l3.5 -2.9l-3.3 -2.9l-3.5 2.8z"/><path color="#eb8055" d="M188.3 108.7l3.5 -2.9l-3.3 -2.9l-3.5 2.8z"/><path color="#eb8155" d="M195.1 108.9l3.5 -2.9l-3.3 -3l-3.5 2.8z"/><path color="#eb8455" d="M201.9 109.1l3.5 -2.8l-3.3 -3l-3.5 2.8z"/><path color="#ec8756" d="M208.6 109.5l3.5 -2.8l-3.3 -3.1l-3.5 2.7z"/><path color="#ed8c57" d="M215.4 109.9l3.5 -2.8l-3.3 -3.2l-3.5 2.7z"/><path color="#ee9258" d="M222.1 110.4l3.5 -2.7l-3.3 -3.2l-3.5 2.7z"/><path color="#f0995a" d="M228.9 111l3.5 -2.7l-3.3 -3.3l-3.5 2.6z"/><path color="#f1a25b" d="M235.6 111.8l3.5 -2.7l-3.2 -3.4l-3.5 2.6z"/><path color="#f3ac5d" d="M242.2 112.6l3.4 -2.6l-3.2 -3.5l-3.4 2.6z"/><path color="#f5b65e" d="M248.9 113.6l3.4 -2.6l-3.2 -3.5l-3.4 2.5z"/><path color="#f5bf5a" d="M255.5 114.7l3.4 -2.6l-3.2 -3.6l-3.4 2.5z"/><path color="#f5c856" d="M262.1 115.9l3.4 -2.5l-3.2 -3.7l-3.4 2.5z"/><path color="#f5d352" d="M268.7 117.3l3.4 -2.5l-3.1 -3.8l-3.4 2.4z"/><path color="#f5df4d" d="M275.3 118.8l3.4 -2.4l-3.1 -3.9l-3.4 2.4z"/><path color="#f5eb48" d="M281.8 120.4l3.4 -2.4l-3.1 -4l-3.4 2.3z"/><path color="#e8f142" d="M288.2 122.1l3.4 -2.4l-3.1 -4.1l-3.4 2.3z"/><path color="#d4f23d" d="M294.6 124l3.4 -2.3l-3 -4.2l-3.4 2.3z"/><path color="#bef336" d="M301 126l3.4 -2.3l-3 -4.3l-3.4 2.2z"/><path color="#f5dd4e" d="M70.9 117.1l3.3 -3.1l-3.3 -2.3l-3.3 3.1z"/><path color="#f5d551" d="M77.5 116.4l3.3 -3.1l-3.3 -2.4l-3.3 3.1z"/><path color="#f5bb5c" d="M104.1 114.3l3.4 -3.2l-3.3 -2.6l-3.4 3.1z"/><path color="#f5b55f" d="M110.7 113.9l3.4 -3.2l-3.3 -2.7l-3.4 3.1z"/><path color="#f09b5a" d="M137.6 112.5l3.4 -3.1l-3.3 -2.8l-3.4 3.1z"/><path color="#ef9659" d="M144.3 112.2l3.4 -3.1l-3.3 -2.8l-3.4 3z"/><path color="#ee9158" d="M151.1 112l3.4 -3.1l-3.3 -2.8l-3.4 3z"/><path color="#ec8856" d="M171.4 111.7l3.4 -3l-3.3 -2.9l-3.4 3z"/><path color="#ec8756" d="M184.9 111.7l3.5 -3l-3.3 -3l-3.5 2.9z"/><path color="#ed8d57" d="M205.2 112.4l3.5 -2.9l-3.3 -3.2l-3.5 2.8z"/><path color="#ee9158" d="M211.9 112.8l3.5 -2.9l-3.3 -3.2l-3.5 2.8z"/><path color="#ef9659" d="M218.7 113.2l3.5 -2.8l-3.3 -3.3l-3.5 2.8z"/><path color="#f5b85d" d="M245.5 116.3l3.4 -2.7l-3.2 -3.6l-3.4 2.6z"/><path color="#f5c05a" d="M252.1 117.4l3.4 -2.6l-3.2 -3.7l-3.4 2.6z"/><path color="#f5eb48" d="M278.4 122.9l3.4 -2.5l-3.1 -4l-3.4 2.4z"/><path color="#e9f143" d="M284.8 124.6l3.4 -2.4l-3.1 -4.1l-3.4 2.4z"/><path color="#f5ef46" d="M57.8 118.7l3.3 -3.1l-3.2 -2.1l-3.3 3z"/><path color="#f5e64a" d="M64.4 117.9l3.3 -3.1l-3.2 -2.2l-3.3 3z"/><path color="#f5ce54" d="M84.1 115.8l3.3 -3.1l-3.3 -2.5l-3.3 3.1z"/><path color="#f5c757" d="M90.8 115.3l3.3 -3.2l-3.3 -2.5l-3.3 3.1z"/><path color="#f5c05a" d="M97.4 114.8l3.3 -3.2l-3.3 -2.6l-3.3 3.1z"/><path color="#f4ae5e" d="M117.4 113.5l3.4 -3.2l-3.3 -2.7l-3.4 3.1z"/><path color="#f2a75c" d="M124.2 113.1l3.4 -3.2l-3.3 -2.7l-3.4 3.1z"/><path color="#f1a15b" d="M130.9 112.8l3.4 -3.1l-3.3 -2.7l-3.4 3.1z"/><path color="#ed8e57" d="M157.8 111.8l3.4 -3.1l-3.3 -2.9l-3.4 3z"/><path color="#ed8b57" d="M164.6 111.7l3.4 -3.1l-3.3 -2.9l-3.4 3z"/><path color="#ec8756" d="M178.1 111.7l3.4 -3l-3.3 -3l-3.4 2.9z"/><path color="#ec8856" d="M191.7 111.9l3.5 -3l-3.3 -3.1l-3.5 2.9z"/><path color="#ed8a57" d="M198.4 112.1l3.5 -2.9l-3.3 -3.1l-3.5 2.9z"/><path color="#f09d5a" d="M225.4 113.8l3.5 -2.8l-3.3 -3.4l-3.5 2.7z"/><path color="#f2a55c" d="M232.1 114.5l3.5 -2.8l-3.2 -3.4l-3.5 2.7z"/><path color="#f4af5e" d="M238.8 115.4l3.5 -2.7l-3.2 -3.5l-3.5 2.7z"/><path color="#f5c956" d="M258.7 118.5l3.4 -2.6l-3.2 -3.8l-3.4 2.6z"/><path color="#f5d452" d="M265.3 119.9l3.4 -2.6l-3.1 -3.9l-3.4 2.5z"/><path color="#f5df4d" d="M271.8 121.3l3.4 -2.5l-3.1 -4l-3.4 2.5z"/><path color="#d5f23d" d="M291.2 126.4l3.4 -2.4l-3 -4.2l-3.4 2.4z"/><path color="#c0f337" d="M297.6 128.3l3.4 -2.4l-3 -4.3l-3.4 2.3z"/><path color="#f5e44b" d="M67.6 120.3l3.3 -3.2l-3.3 -2.4l-3.3 3.1z"/><path color="#f5dc4e" d="M74.2 119.6l3.3 -3.2l-3.3 -2.4l-3.3 3.1z"/><path color="#f5c259" d="M100.7 117.5l3.3 -3.2l-3.3 -2.7l-3.3 3.2z"/><path color="#f5bc5c" d="M107.4 117.1l3.4 -3.2l-3.3 -2.7l-3.4 3.2z"/><path color="#f2a55c" d="M134.2 115.7l3.4 -3.2l-3.3 -2.9l-3.4 3.1z"/><path color="#f19f5b" d="M140.9 115.4l3.4 -3.2l-3.3 -2.9l-3.4 3.1z"/><path color="#f09c5a" d="M215.2 116.2l3.5 -2.9l-3.3 -3.4l-3.5 2.9z"/><path color="#f1a25b" d="M221.9 116.7l3.5 -2.9l-3.3 -3.4l-3.5 2.8z"/><path color="#f5c259" d="M248.6 120.1l3.4 -2.7l-3.2 -3.7l-3.4 2.7z"/><path color="#f5cb55" d="M255.3 121.2l3.4 -2.7l-3.2 -3.8l-3.4 2.6z"/><path color="#e9f143" d="M281.4 127.1l3.4 -2.5l-3.1 -4.2l-3.4 2.5z"/><path color="#d5f23d" d="M287.9 128.9l3.4 -2.5l-3 -4.3l-3.4 2.4z"/><path color="#f5ed47" d="M61.1 121l3.3 -3.1l-3.2 -2.3l-3.3 3.1z"/><path color="#f5d551" d="M80.8 119l3.3 -3.2l-3.3 -2.5l-3.3 3.1z"/><path color="#f5ce54" d="M87.4 118.5l3.3 -3.2l-3.3 -2.6l-3.3 3.1z"/><path color="#f5c857" d="M94.1 118l3.3 -3.2l-3.3 -2.6l-3.3 3.2z"/><path color="#f5b75e" d="M114.1 116.7l3.4 -3.2l-3.3 -2.8l-3.4 3.2z"/><path color="#f4b15e" d="M120.8 116.3l3.4 -3.2l-3.3 -2.8l-3.4 3.2z"/><path color="#f3ab5d" d="M127.5 116l3.4 -3.2l-3.3 -2.8l-3.4 3.2z"/><path color="#f09b5a" d="M147.7 115.2l3.4 -3.2l-3.3 -2.9l-3.4 3.1z"/><path color="#ef9759" d="M154.4 115l3.4 -3.2l-3.3 -2.9l-3.4 3.1z"/><path color="#ef9459" d="M161.2 114.9l3.4 -3.2l-3.3 -3l-3.4 3.1z"/><path color="#ee9158" d="M167.9 114.8l3.4 -3.1l-3.3 -3l-3.4 3.1z"/><path color="#ee9058" d="M174.7 114.8l3.4 -3.1l-3.3 -3l-3.4 3z"/><path color="#ee8f58" d="M181.4 114.8l3.4 -3.1l-3.3 -3.1l-3.4 3z"/><path color="#ee8f58" d="M188.2 114.9l3.5 -3.1l-3.3 -3.1l-3.5 3z"/><path color="#ee9158" d="M195 115.1l3.5 -3l-3.3 -3.2l-3.5 3z"/><path color="#ee9358" d="M201.7 115.4l3.5 -3l-3.3 -3.2l-3.5 2.9z"/><path color="#ef9759" d="M208.5 115.7l3.5 -3l-3.3 -3.3l-3.5 2.9z"/><path color="#f3aa5d" d="M228.6 117.4l3.5 -2.9l-3.2 -3.5l-3.5 2.8z"/><path color="#f5b35f" d="M235.3 118.2l3.5 -2.8l-3.2 -3.6l-3.5 2.8z"/><path color="#f5ba5c" d="M242 119.1l3.5 -2.8l-3.2 -3.7l-3.5 2.7z"/><path color="#f5d551" d="M261.9 122.5l3.4 -2.7l-3.1 -3.9l-3.4 2.6z"/><path color="#f5e04d" d="M268.4 123.9l3.4 -2.6l-3.1 -4l-3.4 2.6z"/><path color="#f5ec48" d="M274.9 125.4l3.4 -2.6l-3.1 -4.1l-3.4 2.5z"/><path color="#c1f337" d="M294.2 130.8l3.4 -2.5l-3 -4.4l-3.4 2.4z"/><path color="#f5eb48" d="M64.4 123.5l3.3 -3.2l-3.3 -2.4l-3.3 3.1z"/><path color="#f5e44b" d="M70.9 122.8l3.3 -3.2l-3.3 -2.5l-3.3 3.2z"/><path color="#f5dc4e" d="M77.5 122.3l3.3 -3.2l-3.3 -2.6l-3.3 3.2z"/><path color="#f5d551" d="M84.1 121.8l3.3 -3.3l-3.3 -2.7l-3.3 3.2z"/><path color="#f5c956" d="M97.4 120.8l3.3 -3.3l-3.3 -2.8l-3.3 3.2z"/><path color="#f5c458" d="M104.1 120.4l3.3 -3.3l-3.3 -2.8l-3.3 3.2z"/><path color="#f5bf5b" d="M110.7 120l3.4 -3.3l-3.3 -2.8l-3.4 3.2z"/><path color="#f5ba5d" d="M117.4 119.7l3.4 -3.3l-3.3 -2.9l-3.4 3.2z"/><path color="#f4b05e" d="M130.8 119l3.4 -3.3l-3.3 -2.9l-3.4 3.2z"/><path color="#f3aa5d" d="M137.5 118.8l3.4 -3.3l-3.3 -3l-3.4 3.2z"/><path color="#f2a55c" d="M144.3 118.5l3.4 -3.3l-3.3 -3l-3.4 3.2z"/><path color="#f1a15b" d="M151 118.3l3.4 -3.3l-3.3 -3l-3.4 3.2z"/><path color="#f19e5b" d="M157.8 118.2l3.4 -3.3l-3.3 -3.1l-3.4 3.2z"/><path color="#f09b5a" d="M164.5 118.1l3.4 -3.2l-3.3 -3.1l-3.4 3.2z"/><path color="#f0995a" d="M171.3 118l3.4 -3.2l-3.3 -3.1l-3.4 3.1z"/><path color="#ef9859" d="M178 118l3.4 -3.2l-3.3 -3.2l-3.4 3.1z"/><path color="#ef9859" d="M184.8 118.1l3.4 -3.2l-3.3 -3.2l-3.4 3.1z"/><path color="#f0995a" d="M191.5 118.3l3.5 -3.1l-3.3 -3.3l-3.5 3.1z"/><path color="#f09b5a" d="M198.3 118.5l3.5 -3.1l-3.3 -3.3l-3.5 3z"/><path color="#f19e5b" d="M205 118.8l3.5 -3.1l-3.3 -3.4l-3.5 3z"/><path color="#f2a35c" d="M211.7 119.2l3.5 -3l-3.3 -3.4l-3.5 3z"/><path color="#f3a85d" d="M218.5 119.8l3.5 -3l-3.3 -3.5l-3.5 2.9z"/><path color="#f4af5e" d="M225.2 120.4l3.5 -3l-3.2 -3.6l-3.5 2.9z"/><path color="#f5bd5b" d="M238.5 122l3.5 -2.9l-3.2 -3.7l-3.5 2.8z"/><path color="#f5c558" d="M245.2 122.9l3.5 -2.8l-3.2 -3.8l-3.5 2.8z"/><path color="#f5cd55" d="M251.8 124l3.4 -2.8l-3.2 -3.9l-3.4 2.7z"/><path color="#f5d751" d="M258.4 125.3l3.4 -2.8l-3.1 -4l-3.4 2.7z"/><path color="#f5ed47" d="M271.5 128.1l3.4 -2.7l-3.1 -4.2l-3.4 2.6z"/><path color="#e8f142" d="M278 129.7l3.4 -2.6l-3.1 -4.2l-3.4 2.6z"/><path color="#d5f23d" d="M284.4 131.5l3.4 -2.6l-3 -4.3l-3.4 2.5z"/><path color="#c1f337" d="M290.9 133.3l3.4 -2.5l-3 -4.4l-3.4 2.5z"/><path color="#f5cf54" d="M90.8 121.3l3.3 -3.3l-3.3 -2.7l-3.3 3.2z"/><path color="#f5b55e" d="M124.1 119.3l3.4 -3.3l-3.3 -2.9l-3.4 3.2z"/><path color="#f5b75e" d="M231.9 121.1l3.5 -2.9l-3.2 -3.6l-3.5 2.9z"/><path color="#f5e14c" d="M265 126.6l3.4 -2.7l-3.1 -4.1l-3.4 2.7z"/><path color="#f5eb48" d="M67.6 126.1l3.3 -3.3l-3.3 -2.6l-3.3 3.2z"/><path color="#f5e44b" d="M74.2 125.6l3.3 -3.3l-3.3 -2.7l-3.3 3.2z"/><path color="#f5dd4e" d="M80.8 125.1l3.3 -3.3l-3.3 -2.7l-3.3 3.2z"/><path color="#f5d153" d="M94.1 124.2l3.3 -3.4l-3.3 -2.8l-3.3 3.3z"/><path color="#f5cc55" d="M100.7 123.8l3.3 -3.4l-3.3 -2.9l-3.3 3.3z"/><path color="#f5c657" d="M107.4 123.4l3.3 -3.4l-3.3 -2.9l-3.3 3.3z"/><path color="#f5c259" d="M114.1 123.1l3.3 -3.4l-3.3 -3l-3.4 3.3z"/><path color="#f5b95d" d="M127.5 122.4l3.4 -3.4l-3.3 -3l-3.4 3.3z"/><path color="#f5b55e" d="M134.2 122.2l3.4 -3.4l-3.3 -3l-3.4 3.3z"/><path color="#f4b15e" d="M140.9 121.9l3.4 -3.4l-3.3 -3.1l-3.4 3.3z"/><path color="#f3ac5d" d="M147.6 121.7l3.4 -3.4l-3.3 -3.1l-3.4 3.3z"/><path color="#f2a55c" d="M161.1 121.4l3.4 -3.3l-3.3 -3.2l-3.4 3.3z"/><path color="#f1a25b" d="M174.6 121.3l3.4 -3.3l-3.3 -3.2l-3.4 3.2z"/><path color="#f1a15b" d="M181.3 121.4l3.4 -3.3l-3.3 -3.3l-3.4 3.2z"/><path color="#f2a35c" d="M194.8 121.7l3.5 -3.2l-3.3 -3.4l-3.5 3.1z"/><path color="#f3aa5d" d="M208.3 122.4l3.5 -3.1l-3.3 -3.5l-3.5 3.1z"/><path color="#f4b05e" d="M215 122.9l3.5 -3.1l-3.3 -3.6l-3.5 3z"/><path color="#f5b55e" d="M221.7 123.5l3.5 -3.1l-3.2 -3.6l-3.5 3z"/><path color="#f5bb5c" d="M228.4 124.2l3.5 -3l-3.2 -3.7l-3.5 3z"/><path color="#f5c857" d="M241.7 125.9l3.5 -3l-3.2 -3.9l-3.5 2.9z"/><path color="#f5d053" d="M248.4 127l3.5 -2.9l-3.2 -3.9l-3.5 2.8z"/><path color="#f5d94f" d="M255 128.1l3.4 -2.9l-3.1 -4l-3.4 2.8z"/><path color="#f5e34b" d="M261.5 129.5l3.4 -2.8l-3.1 -4.1l-3.4 2.8z"/><path color="#e6f142" d="M274.6 132.5l3.4 -2.7l-3.1 -4.3l-3.4 2.7z"/><path color="#d3f23c" d="M281 134.2l3.4 -2.7l-3 -4.4l-3.4 2.6z"/><path color="#c0f337" d="M287.5 136l3.4 -2.6l-3 -4.5l-3.4 2.6z"/><path color="#f5d750" d="M87.4 124.6l3.3 -3.3l-3.3 -2.8l-3.3 3.3z"/><path color="#f5bd5b" d="M120.8 122.7l3.4 -3.4l-3.3 -3l-3.4 3.3z"/><path color="#f3a95d" d="M154.3 121.5l3.4 -3.4l-3.3 -3.1l-3.4 3.3z"/><path color="#f2a35c" d="M167.8 121.3l3.4 -3.3l-3.3 -3.2l-3.4 3.2z"/><path color="#f1a25b" d="M188.1 121.5l3.4 -3.2l-3.3 -3.3l-3.4 3.2z"/><path color="#f2a65c" d="M201.5 122l3.5 -3.2l-3.3 -3.4l-3.5 3.1z"/><path color="#f5c15a" d="M235.1 125l3.5 -3l-3.2 -3.8l-3.5 2.9z"/><path color="#f5ef47" d="M268.1 130.9l3.4 -2.8l-3.1 -4.2l-3.4 2.7z"/><path color="#f5ec48" d="M71 128.9l3.3 -3.3l-3.3 -2.7l-3.3 3.3z"/><path color="#f5e64a" d="M77.5 128.4l3.3 -3.4l-3.3 -2.8l-3.3 3.3z"/><path color="#f5df4d" d="M84.1 128l3.3 -3.4l-3.3 -2.9l-3.3 3.3z"/><path color="#f5da4f" d="M90.8 127.6l3.3 -3.4l-3.3 -2.9l-3.3 3.3z"/><path color="#f5d452" d="M97.4 127.2l3.3 -3.4l-3.3 -3l-3.3 3.4z"/><path color="#f5cf54" d="M104.1 126.9l3.3 -3.5l-3.3 -3l-3.3 3.4z"/><path color="#f5ca56" d="M110.7 126.5l3.3 -3.5l-3.3 -3l-3.3 3.4z"/><path color="#f5c658" d="M117.4 126.2l3.3 -3.5l-3.3 -3.1l-3.3 3.4z"/><path color="#f5c159" d="M124.1 125.9l3.4 -3.5l-3.3 -3.1l-3.4 3.4z"/><path color="#f5be5b" d="M130.8 125.6l3.4 -3.5l-3.3 -3.1l-3.4 3.4z"/><path color="#f5ba5c" d="M137.5 125.4l3.4 -3.5l-3.3 -3.1l-3.4 3.4z"/><path color="#f5b75e" d="M144.2 125.2l3.4 -3.5l-3.3 -3.2l-3.4 3.4z"/><path color="#f5b45f" d="M150.9 125l3.4 -3.5l-3.3 -3.2l-3.4 3.4z"/><path color="#f4b15e" d="M157.7 124.8l3.4 -3.4l-3.3 -3.2l-3.4 3.4z"/><path color="#f4af5e" d="M164.4 124.8l3.4 -3.4l-3.3 -3.3l-3.4 3.3z"/><path color="#f4ad5e" d="M171.1 124.7l3.4 -3.4l-3.3 -3.3l-3.4 3.3z"/><path color="#f3ac5d" d="M177.9 124.8l3.4 -3.4l-3.3 -3.4l-3.4 3.3z"/><path color="#f3ac5d" d="M184.6 124.8l3.4 -3.3l-3.3 -3.4l-3.4 3.3z"/><path color="#f4ad5e" d="M191.4 125l3.4 -3.3l-3.3 -3.5l-3.4 3.2z"/><path color="#f4b05e" d="M198.1 125.3l3.5 -3.3l-3.3 -3.5l-3.5 3.2z"/><path color="#f5b35f" d="M204.8 125.6l3.5 -3.3l-3.3 -3.6l-3.5 3.2z"/><path color="#f5b75e" d="M211.5 126.1l3.5 -3.2l-3.3 -3.6l-3.5 3.1z"/><path color="#f5ba5c" d="M218.3 126.6l3.5 -3.2l-3.2 -3.7l-3.5 3.1z"/><path color="#f5bf5a" d="M224.9 127.3l3.5 -3.1l-3.2 -3.8l-3.5 3.1z"/><path color="#f5c558" d="M231.6 128.1l3.5 -3.1l-3.2 -3.8l-3.5 3z"/><path color="#f5cc55" d="M238.3 129l3.5 -3.1l-3.2 -3.9l-3.5 3z"/><path color="#f5d452" d="M244.9 130l3.5 -3l-3.2 -4l-3.5 3z"/><path color="#f5dc4e" d="M251.5 131.1l3.5 -3l-3.1 -4.1l-3.5 2.9z"/><path color="#f5e64a" d="M258.1 132.4l3.4 -2.9l-3.1 -4.2l-3.4 2.9z"/><path color="#f3f046" d="M264.6 133.8l3.4 -2.9l-3.1 -4.3l-3.4 2.8z"/><path color="#e3f141" d="M271.1 135.3l3.4 -2.8l-3.1 -4.3l-3.4 2.8z"/><path color="#d1f23c" d="M277.6 136.9l3.4 -2.8l-3 -4.4l-3.4 2.7z"/><path color="#bef336" d="M284 138.7l3.4 -2.7l-3 -4.5l-3.4 2.7z"/><path color="#f5e24c" d="M87.5 131.1l3.3 -3.5l-3.3 -3l-3.3 3.4z"/><path color="#f5dd4e" d="M94.1 130.7l3.3 -3.5l-3.3 -3l-3.3 3.4z"/><path color="#f5ca56" d="M120.7 129.5l3.3 -3.6l-3.3 -3.2l-3.3 3.5z"/><path color="#f5c657" d="M127.4 129.2l3.4 -3.6l-3.3 -3.2l-3.4 3.5z"/><path color="#f5ba5c" d="M154.3 128.4l3.4 -3.5l-3.3 -3.3l-3.4 3.5z"/><path color="#f5b75e" d="M167.7 128.2l3.4 -3.5l-3.3 -3.4l-3.4 3.4z"/><path color="#f5b75e" d="M187.9 128.4l3.4 -3.4l-3.3 -3.5l-3.4 3.3z"/><path color="#f5ba5d" d="M201.4 129l3.5 -3.4l-3.3 -3.6l-3.5 3.3z"/><path color="#f5ca56" d="M228.2 131.3l3.5 -3.2l-3.2 -3.9l-3.5 3.1z"/><path color="#f5d153" d="M234.8 132.1l3.5 -3.2l-3.2 -4l-3.5 3.1z"/><path color="#eff044" d="M261.2 136.8l3.4 -3l-3.1 -4.3l-3.4 2.9z"/><path color="#dff140" d="M267.7 138.2l3.4 -2.9l-3.1 -4.4l-3.4 2.9z"/><path color="#f5ee47" d="M74.3 131.8l3.3 -3.4l-3.3 -2.9l-3.3 3.3z"/><path color="#f5e849" d="M80.9 131.5l3.3 -3.4l-3.3 -2.9l-3.3 3.4z"/><path color="#f5d850" d="M100.7 130.4l3.3 -3.5l-3.3 -3.1l-3.3 3.4z"/><path color="#f5d352" d="M107.4 130.1l3.3 -3.5l-3.3 -3.1l-3.3 3.5z"/><path color="#f5ce54" d="M114.1 129.8l3.3 -3.5l-3.3 -3.1l-3.3 3.5z"/><path color="#f5c359" d="M134.1 128.9l3.4 -3.6l-3.3 -3.2l-3.4 3.5z"/><path color="#f5c05a" d="M140.8 128.7l3.4 -3.6l-3.3 -3.3l-3.4 3.5z"/><path color="#f5bd5b" d="M147.5 128.5l3.4 -3.5l-3.3 -3.3l-3.4 3.5z"/><path color="#f5b95d" d="M161 128.3l3.4 -3.5l-3.3 -3.4l-3.4 3.4z"/><path color="#f5b65e" d="M174.5 128.2l3.4 -3.5l-3.3 -3.4l-3.4 3.4z"/><path color="#f5b65e" d="M181.2 128.3l3.4 -3.4l-3.3 -3.5l-3.4 3.4z"/><path color="#f5b85d" d="M194.6 128.7l3.5 -3.4l-3.3 -3.6l-3.4 3.3z"/><path color="#f5bd5b" d="M208.1 129.4l3.5 -3.3l-3.3 -3.7l-3.5 3.3z"/><path color="#f5c05a" d="M214.8 129.9l3.5 -3.3l-3.2 -3.8l-3.5 3.2z"/><path color="#f5c558" d="M221.5 130.5l3.5 -3.2l-3.2 -3.8l-3.5 3.2z"/><path color="#f5d850" d="M241.4 133.1l3.5 -3.1l-3.2 -4.1l-3.5 3.1z"/><path color="#f5e04d" d="M248.1 134.2l3.5 -3.1l-3.1 -4.2l-3.5 3z"/><path color="#f5ea49" d="M254.6 135.4l3.5 -3l-3.1 -4.2l-3.5 3z"/><path color="#cef23b" d="M274.2 139.8l3.4 -2.9l-3 -4.5l-3.4 2.8z"/><path color="#bbf435" d="M280.6 141.6l3.4 -2.8l-3 -4.6l-3.4 2.8z"/><path color="#f5eb48" d="M84.2 134.6l3.3 -3.5l-3.3 -3.1l-3.3 3.4z"/><path color="#f5e64a" d="M90.8 134.3l3.3 -3.5l-3.3 -3.1l-3.3 3.5z"/><path color="#f5d452" d="M117.4 133.1l3.3 -3.6l-3.3 -3.3l-3.3 3.5z"/><path color="#f5d053" d="M124.1 132.8l3.3 -3.6l-3.3 -3.3l-3.3 3.6z"/><path color="#f5d651" d="M231.4 135.4l3.5 -3.3l-3.2 -4.1l-3.5 3.2z"/><path color="#f5dd4e" d="M238 136.3l3.5 -3.2l-3.2 -4.1l-3.5 3.2z"/><path color="#daf23e" d="M264.3 141.3l3.4 -3l-3.1 -4.5l-3.4 3z"/><path color="#c9f33a" d="M270.7 142.8l3.4 -3l-3 -4.5l-3.4 2.9z"/><path color="#f4f046" d="M77.6 134.9l3.3 -3.5l-3.3 -3l-3.3 3.4z"/><path color="#f5e14c" d="M97.4 134l3.3 -3.6l-3.3 -3.2l-3.3 3.5z"/><path color="#f5dc4e" d="M104.1 133.7l3.3 -3.6l-3.3 -3.2l-3.3 3.5z"/><path color="#f5d850" d="M110.7 133.4l3.3 -3.6l-3.3 -3.2l-3.3 3.5z"/><path color="#f5cc55" d="M130.8 132.6l3.4 -3.6l-3.3 -3.3l-3.4 3.6z"/><path color="#f5c956" d="M137.5 132.4l3.4 -3.6l-3.3 -3.3l-3.4 3.6z"/><path color="#f5c658" d="M144.2 132.2l3.4 -3.6l-3.3 -3.4l-3.4 3.6z"/><path color="#f5c359" d="M150.9 132l3.4 -3.6l-3.3 -3.4l-3.4 3.5z"/><path color="#f5c15a" d="M157.6 131.9l3.4 -3.6l-3.3 -3.4l-3.4 3.5z"/><path color="#f5c05a" d="M164.3 131.8l3.4 -3.6l-3.3 -3.5l-3.4 3.5z"/><path color="#f5bf5b" d="M171 131.8l3.4 -3.6l-3.3 -3.5l-3.4 3.5z"/><path color="#f5be5b" d="M177.8 131.8l3.4 -3.5l-3.3 -3.5l-3.4 3.5z"/><path color="#f5be5b" d="M184.5 132l3.4 -3.5l-3.3 -3.6l-3.4 3.4z"/><path color="#f5bf5a" d="M191.2 132.2l3.4 -3.5l-3.3 -3.6l-3.4 3.4z"/><path color="#f5c15a" d="M197.9 132.4l3.5 -3.5l-3.3 -3.7l-3.5 3.4z"/><path color="#f5c359" d="M204.6 132.8l3.5 -3.4l-3.3 -3.8l-3.5 3.4z"/><path color="#f5c757" d="M211.3 133.3l3.5 -3.4l-3.2 -3.8l-3.5 3.3z"/><path color="#f5cb55" d="M218 133.9l3.5 -3.3l-3.2 -3.9l-3.5 3.3z"/><path color="#f5d053" d="M224.7 134.6l3.5 -3.3l-3.2 -4l-3.5 3.2z"/><path color="#f5e54b" d="M244.6 137.4l3.5 -3.2l-3.1 -4.2l-3.5 3.1z"/><path color="#f5ee47" d="M251.2 138.5l3.5 -3.1l-3.1 -4.3l-3.5 3.1z"/><path color="#eaf143" d="M257.7 139.8l3.5 -3.1l-3.1 -4.4l-3.5 3z"/><path color="#b7f434" d="M277.2 144.5l3.4 -2.9l-3 -4.6l-3.4 2.9z"/><path color="#eff044" d="M80.9 138.1l3.3 -3.5l-3.3 -3.1l-3.3 3.5z"/><path color="#f5f046" d="M87.5 137.9l3.3 -3.6l-3.3 -3.2l-3.3 3.5z"/><path color="#f5eb48" d="M94.2 137.6l3.3 -3.6l-3.3 -3.2l-3.3 3.5z"/><path color="#f5e64a" d="M100.8 137.3l3.3 -3.6l-3.3 -3.3l-3.3 3.6z"/><path color="#f5dd4e" d="M114.1 136.8l3.3 -3.7l-3.3 -3.3l-3.3 3.6z"/><path color="#f5d94f" d="M120.8 136.5l3.3 -3.7l-3.3 -3.4l-3.3 3.6z"/><path color="#f5d651" d="M127.4 136.3l3.3 -3.7l-3.3 -3.4l-3.3 3.6z"/><path color="#f5d252" d="M134.1 136.1l3.4 -3.7l-3.3 -3.4l-3.4 3.6z"/><path color="#f5cd55" d="M147.5 135.7l3.4 -3.7l-3.3 -3.5l-3.4 3.6z"/><path color="#f5ca56" d="M154.2 135.6l3.4 -3.7l-3.3 -3.5l-3.4 3.6z"/><path color="#f5c956" d="M160.9 135.5l3.4 -3.7l-3.3 -3.5l-3.4 3.6z"/><path color="#f5c757" d="M167.6 135.5l3.4 -3.7l-3.3 -3.6l-3.4 3.6z"/><path color="#f5c757" d="M174.3 135.5l3.4 -3.6l-3.3 -3.6l-3.4 3.6z"/><path color="#f5c757" d="M181 135.6l3.4 -3.6l-3.3 -3.7l-3.4 3.5z"/><path color="#f5c757" d="M187.8 135.8l3.4 -3.6l-3.3 -3.7l-3.4 3.5z"/><path color="#f5c956" d="M194.5 136l3.4 -3.6l-3.3 -3.8l-3.4 3.5z"/><path color="#f5cb55" d="M201.2 136.3l3.5 -3.5l-3.3 -3.8l-3.5 3.5z"/><path color="#f5ce54" d="M207.9 136.8l3.5 -3.5l-3.2 -3.9l-3.5 3.4z"/><path color="#f5d651" d="M221.2 138l3.5 -3.4l-3.2 -4l-3.5 3.3z"/><path color="#f5dc4e" d="M227.9 138.7l3.5 -3.4l-3.2 -4.1l-3.5 3.3z"/><path color="#f5e34c" d="M234.5 139.6l3.5 -3.3l-3.2 -4.2l-3.5 3.3z"/><path color="#f5ea48" d="M241.1 140.6l3.5 -3.3l-3.1 -4.3l-3.5 3.2z"/><path color="#e3f141" d="M254.3 143l3.5 -3.2l-3.1 -4.4l-3.5 3.1z"/><path color="#d4f23d" d="M260.8 144.4l3.5 -3.1l-3.1 -4.5l-3.5 3.1z"/><path color="#c4f338" d="M267.3 145.9l3.4 -3.1l-3 -4.6l-3.4 3z"/><path color="#b3f433" d="M273.8 147.6l3.4 -3.1l-3 -4.7l-3.4 3z"/><path color="#f5e24c" d="M107.4 137l3.3 -3.7l-3.3 -3.3l-3.3 3.6z"/><path color="#f5cf54" d="M140.8 135.9l3.4 -3.7l-3.3 -3.4l-3.4 3.6z"/><path color="#f5d253" d="M214.6 137.3l3.5 -3.5l-3.2 -4l-3.5 3.4z"/><path color="#f1f045" d="M247.7 141.8l3.5 -3.2l-3.1 -4.4l-3.5 3.2z"/><path color="#e8f142" d="M84.3 141.5l3.3 -3.6l-3.3 -3.3l-3.3 3.5z"/><path color="#eff044" d="M90.9 141.2l3.3 -3.7l-3.3 -3.3l-3.3 3.6z"/><path color="#f5f046" d="M97.5 141l3.3 -3.7l-3.3 -3.3l-3.3 3.6z"/><path color="#f5e84a" d="M110.8 140.5l3.3 -3.8l-3.3 -3.4l-3.3 3.7z"/><path color="#f5e44b" d="M117.4 140.3l3.3 -3.8l-3.3 -3.4l-3.3 3.7z"/><path color="#f5e04d" d="M124.1 140.1l3.3 -3.8l-3.3 -3.5l-3.3 3.7z"/><path color="#f5dd4e" d="M130.8 139.9l3.3 -3.8l-3.3 -3.5l-3.3 3.7z"/><path color="#f5d751" d="M144.1 139.5l3.4 -3.8l-3.3 -3.5l-3.4 3.7z"/><path color="#f5d252" d="M157.5 139.3l3.4 -3.8l-3.3 -3.6l-3.4 3.7z"/><path color="#f5d153" d="M164.2 139.2l3.4 -3.8l-3.3 -3.7l-3.4 3.7z"/><path color="#f5d053" d="M177.6 139.3l3.4 -3.7l-3.3 -3.7l-3.4 3.6z"/><path color="#f5d153" d="M191 139.7l3.4 -3.7l-3.3 -3.8l-3.4 3.6z"/><path color="#f5d352" d="M197.7 140l3.4 -3.6l-3.3 -3.9l-3.4 3.6z"/><path color="#f5d94f" d="M211.1 140.9l3.5 -3.6l-3.2 -4l-3.5 3.5z"/><path color="#f5e34b" d="M224.4 142.2l3.5 -3.5l-3.2 -4.2l-3.5 3.4z"/><path color="#f5e949" d="M231.1 143.1l3.5 -3.4l-3.2 -4.3l-3.5 3.4z"/><path color="#f4f046" d="M237.7 144l3.5 -3.4l-3.1 -4.3l-3.5 3.3z"/><path color="#e9f143" d="M244.3 145.1l3.5 -3.3l-3.1 -4.4l-3.5 3.3z"/><path color="#cef23b" d="M257.4 147.7l3.5 -3.2l-3.1 -4.6l-3.5 3.2z"/><path color="#bef336" d="M263.9 149.1l3.4 -3.2l-3 -4.7l-3.5 3.1z"/><path color="#adf431" d="M270.3 150.7l3.4 -3.2l-3 -4.7l-3.4 3.1z"/><path color="#f5ec48" d="M104.1 140.8l3.3 -3.7l-3.3 -3.4l-3.3 3.6z"/><path color="#f5d94f" d="M137.4 139.7l3.4 -3.8l-3.3 -3.5l-3.4 3.7z"/><path color="#f5d452" d="M150.8 139.4l3.4 -3.8l-3.3 -3.6l-3.4 3.7z"/><path color="#f5d053" d="M170.9 139.2l3.4 -3.7l-3.3 -3.7l-3.4 3.7z"/><path color="#f5d053" d="M184.3 139.4l3.4 -3.7l-3.3 -3.8l-3.4 3.6z"/><path color="#f5d651" d="M204.4 140.4l3.5 -3.6l-3.2 -4l-3.5 3.5z"/><path color="#f5de4e" d="M217.8 141.5l3.5 -3.5l-3.2 -4.1l-3.5 3.5z"/><path color="#dcf23f" d="M250.8 146.3l3.5 -3.3l-3.1 -4.5l-3.5 3.2z"/><path color="#e1f140" d="M87.6 144.9l3.3 -3.7l-3.3 -3.4l-3.3 3.6z"/><path color="#e7f142" d="M94.2 144.7l3.3 -3.7l-3.3 -3.4l-3.3 3.7z"/><path color="#ecf144" d="M100.9 144.5l3.3 -3.8l-3.3 -3.5l-3.3 3.7z"/><path color="#f2f045" d="M107.5 144.3l3.3 -3.8l-3.3 -3.5l-3.3 3.7z"/><path color="#f5ee47" d="M114.1 144.1l3.3 -3.8l-3.3 -3.5l-3.3 3.8z"/><path color="#f5eb48" d="M120.8 143.9l3.3 -3.8l-3.3 -3.5l-3.3 3.8z"/><path color="#f5e74a" d="M127.4 143.7l3.3 -3.9l-3.3 -3.6l-3.3 3.8z"/><path color="#f5e44b" d="M134.1 143.5l3.3 -3.9l-3.3 -3.6l-3.3 3.8z"/><path color="#f5e14c" d="M140.8 143.4l3.4 -3.9l-3.3 -3.6l-3.4 3.8z"/><path color="#f5df4d" d="M147.4 143.2l3.4 -3.9l-3.3 -3.7l-3.4 3.8z"/><path color="#f5dd4e" d="M154.1 143.1l3.4 -3.9l-3.3 -3.7l-3.4 3.8z"/><path color="#f5db4f" d="M160.8 143.1l3.4 -3.8l-3.3 -3.7l-3.4 3.8z"/><path color="#f5da4f" d="M167.5 143.1l3.4 -3.8l-3.3 -3.8l-3.4 3.8z"/><path color="#f5da4f" d="M174.2 143.1l3.4 -3.8l-3.3 -3.8l-3.4 3.7z"/><path color="#f5da4f" d="M180.9 143.2l3.4 -3.8l-3.3 -3.9l-3.4 3.7z"/><path color="#f5db4f" d="M187.6 143.4l3.4 -3.8l-3.3 -3.9l-3.4 3.7z"/><path color="#f5dc4e" d="M194.3 143.7l3.4 -3.7l-3.3 -4l-3.4 3.7z"/><path color="#f5de4d" d="M201 144.1l3.4 -3.7l-3.2 -4l-3.4 3.6z"/><path color="#f5e24c" d="M207.6 144.5l3.5 -3.7l-3.2 -4.1l-3.5 3.6z"/><path color="#f5e64a" d="M214.3 145.1l3.5 -3.6l-3.2 -4.2l-3.5 3.6z"/><path color="#f5eb48" d="M221 145.8l3.5 -3.6l-3.2 -4.2l-3.5 3.5z"/><path color="#f4f046" d="M227.6 146.6l3.5 -3.5l-3.2 -4.3l-3.5 3.5z"/><path color="#ebf143" d="M234.2 147.5l3.5 -3.5l-3.1 -4.4l-3.5 3.4z"/><path color="#e0f140" d="M240.8 148.6l3.5 -3.4l-3.1 -4.5l-3.5 3.4z"/><path color="#d4f23c" d="M247.4 149.7l3.5 -3.4l-3.1 -4.6l-3.5 3.3z"/><path color="#c6f339" d="M253.9 151l3.5 -3.4l-3.1 -4.6l-3.5 3.3z"/><path color="#b7f434" d="M260.4 152.4l3.5 -3.3l-3 -4.7l-3.5 3.2z"/><path color="#a6f52f" d="M266.9 154l3.4 -3.3l-3 -4.8l-3.4 3.2z"/><path color="#e3f141" d="M104.2 148.2l3.3 -3.8l-3.3 -3.6l-3.3 3.8z"/><path color="#e8f142" d="M110.8 148l3.3 -3.9l-3.3 -3.6l-3.3 3.8z"/><path color="#f5e44b" d="M170.8 147l3.4 -3.9l-3.3 -3.9l-3.4 3.8z"/><path color="#f5e44b" d="M184.2 147.3l3.4 -3.9l-3.3 -4l-3.4 3.8z"/><path color="#caf33a" d="M243.9 153.2l3.5 -3.5l-3.1 -4.6l-3.5 3.4z"/><path color="#bdf336" d="M250.4 154.5l3.5 -3.5l-3.1 -4.7l-3.5 3.4z"/><path color="#d8f23e" d="M91 148.5l3.3 -3.8l-3.3 -3.5l-3.3 3.7z"/><path color="#ddf13f" d="M97.6 148.4l3.3 -3.8l-3.3 -3.5l-3.3 3.7z"/><path color="#edf044" d="M117.5 147.8l3.3 -3.9l-3.3 -3.6l-3.3 3.8z"/><path color="#f2f045" d="M124.1 147.6l3.3 -3.9l-3.3 -3.6l-3.3 3.8z"/><path color="#f5ef46" d="M130.8 147.5l3.3 -3.9l-3.3 -3.7l-3.3 3.9z"/><path color="#f5ec48" d="M137.4 147.3l3.3 -3.9l-3.3 -3.7l-3.3 3.9z"/><path color="#f5ea49" d="M144.1 147.2l3.4 -3.9l-3.3 -3.7l-3.4 3.9z"/><path color="#f5e849" d="M150.8 147.1l3.4 -3.9l-3.3 -3.8l-3.4 3.9z"/><path color="#f5e64a" d="M157.4 147l3.4 -3.9l-3.3 -3.8l-3.4 3.9z"/><path color="#f5e54b" d="M164.1 147l3.4 -3.9l-3.3 -3.8l-3.4 3.8z"/><path color="#f5e44b" d="M177.5 147.1l3.4 -3.9l-3.3 -3.9l-3.4 3.8z"/><path color="#f5e64a" d="M190.9 147.5l3.4 -3.8l-3.3 -4l-3.4 3.8z"/><path color="#f5e849" d="M197.5 147.9l3.4 -3.8l-3.2 -4.1l-3.4 3.7z"/><path color="#f5ea48" d="M204.2 148.3l3.4 -3.8l-3.2 -4.2l-3.4 3.7z"/><path color="#f5ee47" d="M210.9 148.8l3.5 -3.7l-3.2 -4.2l-3.5 3.7z"/><path color="#f1f045" d="M217.5 149.5l3.5 -3.7l-3.2 -4.3l-3.5 3.6z"/><path color="#e9f143" d="M224.1 150.2l3.5 -3.6l-3.2 -4.4l-3.5 3.6z"/><path color="#e0f140" d="M230.7 151.1l3.5 -3.6l-3.1 -4.5l-3.5 3.5z"/><path color="#d6f23d" d="M237.3 152.1l3.5 -3.6l-3.1 -4.5l-3.5 3.5z"/><path color="#aef432" d="M256.9 155.9l3.5 -3.4l-3 -4.8l-3.5 3.4z"/><path color="#9ef52d" d="M263.4 157.4l3.5 -3.4l-3 -4.9l-3.5 3.3z"/><path color="#d3f23c" d="M100.9 152.1l3.3 -3.9l-3.3 -3.6l-3.3 3.8z"/><path color="#d8f23e" d="M107.6 151.9l3.3 -3.9l-3.3 -3.7l-3.3 3.8z"/><path color="#b3f433" d="M247 158l3.5 -3.6l-3.1 -4.8l-3.5 3.5z"/><path color="#a5f52f" d="M253.5 159.4l3.5 -3.5l-3 -4.8l-3.5 3.5z"/><path color="#cef23b" d="M94.3 152.2l3.3 -3.8l-3.4 -3.6l-3.3 3.8z"/><path color="#ddf13f" d="M114.2 151.8l3.3 -4l-3.3 -3.7l-3.3 3.9z"/><path color="#e2f140" d="M120.8 151.6l3.3 -4l-3.3 -3.7l-3.3 3.9z"/><path color="#e6f142" d="M127.4 151.5l3.3 -4l-3.3 -3.7l-3.3 3.9z"/><path color="#eaf143" d="M134.1 151.3l3.3 -4l-3.3 -3.8l-3.3 3.9z"/><path color="#eef044" d="M140.7 151.2l3.3 -4l-3.3 -3.8l-3.3 3.9z"/><path color="#f1f045" d="M147.4 151.1l3.4 -4l-3.3 -3.8l-3.4 3.9z"/><path color="#f3f046" d="M154.1 151l3.4 -4l-3.3 -3.9l-3.4 3.9z"/><path color="#f5f046" d="M160.7 151l3.4 -4l-3.3 -3.9l-3.4 3.9z"/><path color="#f5ef46" d="M167.4 151l3.4 -4l-3.3 -3.9l-3.4 3.9z"/><path color="#f5ef47" d="M174.1 151.1l3.4 -4l-3.3 -4l-3.4 3.9z"/><path color="#f5ef46" d="M180.8 151.2l3.4 -3.9l-3.3 -4l-3.4 3.9z"/><path color="#f5f046" d="M187.4 151.4l3.4 -3.9l-3.3 -4.1l-3.4 3.9z"/><path color="#f3f045" d="M194.1 151.7l3.4 -3.9l-3.2 -4.2l-3.4 3.8z"/><path color="#eff044" d="M200.8 152.1l3.4 -3.9l-3.2 -4.2l-3.4 3.8z"/><path color="#ebf143" d="M207.4 152.7l3.4 -3.8l-3.2 -4.3l-3.4 3.8z"/><path color="#e5f141" d="M214.1 153.3l3.5 -3.8l-3.2 -4.4l-3.5 3.7z"/><path color="#def13f" d="M220.7 154l3.5 -3.7l-3.2 -4.4l-3.5 3.7z"/><path color="#d5f23d" d="M227.3 154.8l3.5 -3.7l-3.1 -4.5l-3.5 3.6z"/><path color="#cbf33a" d="M233.9 155.8l3.5 -3.7l-3.1 -4.6l-3.5 3.6z"/><path color="#c0f337" d="M240.4 156.8l3.5 -3.6l-3.1 -4.7l-3.5 3.6z"/><path color="#96f62b" d="M260 160.8l3.5 -3.5l-3 -4.9l-3.5 3.4z"/><path color="#c3f338" d="M97.7 156l3.3 -3.9l-3.4 -3.7l-3.3 3.8z"/><path color="#c8f339" d="M104.3 155.9l3.3 -4l-3.3 -3.7l-3.3 3.9z"/><path color="#cdf23a" d="M110.9 155.8l3.3 -4l-3.3 -3.8l-3.3 3.9z"/><path color="#d1f23c" d="M117.5 155.7l3.3 -4l-3.3 -3.8l-3.3 4z"/><path color="#d9f23e" d="M130.8 155.4l3.3 -4.1l-3.3 -3.8l-3.3 4z"/><path color="#ddf13f" d="M137.4 155.3l3.3 -4.1l-3.3 -3.9l-3.3 4z"/><path color="#e0f140" d="M144.1 155.2l3.3 -4.1l-3.3 -3.9l-3.3 4z"/><path color="#e3f141" d="M150.7 155.1l3.4 -4.1l-3.3 -3.9l-3.4 4z"/><path color="#e7f142" d="M164 155.1l3.4 -4.1l-3.3 -4l-3.4 4z"/><path color="#e7f142" d="M170.7 155.1l3.4 -4.1l-3.3 -4.1l-3.4 4z"/><path color="#e7f142" d="M177.4 155.3l3.4 -4l-3.3 -4.1l-3.4 4z"/><path color="#e6f142" d="M184 155.5l3.4 -4l-3.3 -4.2l-3.4 3.9z"/><path color="#e4f141" d="M190.7 155.7l3.4 -4l-3.2 -4.2l-3.4 3.9z"/><path color="#ddf13f" d="M204 156.6l3.4 -3.9l-3.2 -4.4l-3.4 3.9z"/><path color="#d7f23e" d="M210.6 157.1l3.4 -3.9l-3.2 -4.4l-3.4 3.8z"/><path color="#d1f23c" d="M217.2 157.8l3.5 -3.8l-3.2 -4.5l-3.5 3.8z"/><path color="#c9f339" d="M223.8 158.6l3.5 -3.8l-3.1 -4.6l-3.5 3.7z"/><path color="#b5f434" d="M237 160.6l3.5 -3.7l-3.1 -4.7l-3.5 3.7z"/><path color="#a8f530" d="M243.5 161.7l3.5 -3.7l-3.1 -4.8l-3.5 3.6z"/><path color="#9bf62c" d="M250 163l3.5 -3.6l-3 -4.9l-3.5 3.6z"/><path color="#8cf628" d="M256.5 164.4l3.5 -3.6l-3 -5l-3.5 3.5z"/><path color="#d5f23d" d="M124.1 155.5l3.3 -4.1l-3.3 -3.8l-3.3 4z"/><path color="#e5f141" d="M157.4 155l3.4 -4.1l-3.3 -4l-3.4 4z"/><path color="#e1f140" d="M197.3 156.1l3.4 -4l-3.2 -4.3l-3.4 3.9z"/><path color="#bff337" d="M230.4 159.5l3.5 -3.8l-3.1 -4.7l-3.5 3.7z"/><path color="#b8f434" d="M101 159.9l3.2 -4l-3.4 -3.8l-3.3 3.9z"/><path color="#bcf336" d="M107.6 159.8l3.3 -4l-3.3 -3.8l-3.3 4z"/><path color="#c0f337" d="M114.2 159.7l3.3 -4.1l-3.3 -3.9l-3.3 4z"/><path color="#c8f339" d="M127.5 159.5l3.3 -4.1l-3.3 -3.9l-3.3 4.1z"/><path color="#cff23b" d="M140.7 159.3l3.3 -4.2l-3.3 -4l-3.3 4.1z"/><path color="#d2f23c" d="M147.4 159.2l3.3 -4.2l-3.3 -4l-3.3 4.1z"/><path color="#d6f23d" d="M160.7 159.2l3.4 -4.1l-3.3 -4.1l-3.4 4.1z"/><path color="#d7f23d" d="M174 159.4l3.4 -4.1l-3.3 -4.2l-3.4 4.1z"/><path color="#d6f23d" d="M180.6 159.6l3.4 -4.1l-3.3 -4.2l-3.4 4z"/><path color="#d2f23c" d="M193.9 160.2l3.4 -4l-3.2 -4.4l-3.4 4z"/><path color="#c9f339" d="M207.2 161.1l3.4 -4l-3.2 -4.5l-3.4 3.9z"/><path color="#c3f338" d="M213.8 161.8l3.4 -3.9l-3.2 -4.6l-3.4 3.9z"/><path color="#b2f433" d="M227 163.4l3.5 -3.9l-3.1 -4.7l-3.5 3.8z"/><path color="#9df52d" d="M240 165.5l3.5 -3.8l-3.1 -4.9l-3.5 3.7z"/><path color="#8ff629" d="M246.6 166.8l3.5 -3.7l-3 -5l-3.5 3.7z"/><path color="#81f725" d="M253 168.1l3.5 -3.7l-3 -5l-3.5 3.6z"/><path color="#c4f338" d="M120.9 159.6l3.3 -4.1l-3.3 -3.9l-3.3 4z"/><path color="#ccf33a" d="M134.1 159.4l3.3 -4.1l-3.3 -4l-3.3 4.1z"/><path color="#d4f23d" d="M154 159.2l3.4 -4.2l-3.3 -4l-3.4 4.1z"/><path color="#d7f23d" d="M167.3 159.3l3.4 -4.1l-3.3 -4.1l-3.4 4.1z"/><path color="#d5f23d" d="M187.3 159.8l3.4 -4.1l-3.2 -4.3l-3.4 4z"/><path color="#cef23b" d="M200.5 160.6l3.4 -4l-3.2 -4.4l-3.4 4z"/><path color="#bbf435" d="M220.4 162.5l3.5 -3.9l-3.1 -4.6l-3.5 3.8z"/><path color="#a8f530" d="M233.5 164.4l3.5 -3.8l-3.1 -4.8l-3.5 3.8z"/><path color="#abf531" d="M104.4 163.9l3.2 -4.1l-3.3 -3.9l-3.2 4z"/><path color="#aff432" d="M111 163.8l3.3 -4.1l-3.3 -3.9l-3.3 4z"/><path color="#b3f433" d="M117.6 163.8l3.3 -4.2l-3.3 -4l-3.3 4.1z"/><path color="#b7f434" d="M124.2 163.7l3.3 -4.2l-3.3 -4l-3.3 4.1z"/><path color="#baf435" d="M130.8 163.6l3.3 -4.2l-3.3 -4l-3.3 4.1z"/><path color="#bdf336" d="M137.4 163.5l3.3 -4.2l-3.3 -4.1l-3.3 4.1z"/><path color="#c0f337" d="M144 163.5l3.3 -4.2l-3.3 -4.1l-3.3 4.2z"/><path color="#c3f338" d="M150.7 163.4l3.3 -4.2l-3.3 -4.1l-3.3 4.2z"/><path color="#c4f338" d="M157.3 163.4l3.4 -4.2l-3.3 -4.2l-3.4 4.2z"/><path color="#c5f338" d="M163.9 163.5l3.4 -4.2l-3.3 -4.2l-3.4 4.1z"/><path color="#c6f339" d="M170.6 163.6l3.4 -4.2l-3.3 -4.2l-3.4 4.1z"/><path color="#c5f338" d="M177.2 163.7l3.4 -4.2l-3.3 -4.3l-3.4 4.1z"/><path color="#c4f338" d="M183.8 164l3.4 -4.2l-3.2 -4.4l-3.4 4.1z"/><path color="#c2f337" d="M190.5 164.3l3.4 -4.1l-3.2 -4.4l-3.4 4.1z"/><path color="#bef336" d="M197.1 164.7l3.4 -4.1l-3.2 -4.5l-3.4 4z"/><path color="#baf435" d="M203.7 165.2l3.4 -4.1l-3.2 -4.6l-3.4 4z"/><path color="#b4f433" d="M210.3 165.8l3.4 -4l-3.2 -4.6l-3.4 4z"/><path color="#adf431" d="M216.9 166.5l3.4 -4l-3.1 -4.7l-3.4 3.9z"/><path color="#a5f52f" d="M223.5 167.4l3.5 -4l-3.1 -4.8l-3.5 3.9z"/><path color="#9bf62c" d="M230.1 168.3l3.5 -3.9l-3.1 -4.9l-3.5 3.9z"/><path color="#90f629" d="M236.6 169.4l3.5 -3.9l-3.1 -4.9l-3.5 3.8z"/><path color="#83f725" d="M243.1 170.6l3.5 -3.8l-3 -5l-3.5 3.8z"/><path color="#75f821" d="M249.6 171.9l3.5 -3.8l-3 -5.1l-3.5 3.7z"/><path color="#9df52d" d="M107.7 168l3.2 -4.1l-3.3 -4l-3.2 4.1z"/><path color="#a1f52e" d="M114.3 168l3.3 -4.2l-3.3 -4l-3.3 4.1z"/><path color="#a4f52f" d="M120.9 167.9l3.3 -4.2l-3.3 -4.1l-3.3 4.2z"/><path color="#a8f530" d="M127.5 167.9l3.3 -4.3l-3.3 -4.1l-3.3 4.2z"/><path color="#abf531" d="M134.1 167.8l3.3 -4.3l-3.3 -4.1l-3.3 4.2z"/><path color="#aef432" d="M140.7 167.8l3.3 -4.3l-3.3 -4.2l-3.3 4.2z"/><path color="#b0f432" d="M147.3 167.7l3.3 -4.3l-3.3 -4.2l-3.3 4.2z"/><path color="#b2f433" d="M154 167.7l3.3 -4.3l-3.3 -4.2l-3.3 4.2z"/><path color="#b3f433" d="M160.6 167.8l3.4 -4.3l-3.3 -4.3l-3.4 4.2z"/><path color="#b4f433" d="M167.2 167.9l3.4 -4.3l-3.3 -4.3l-3.4 4.2z"/><path color="#b4f433" d="M173.8 168l3.4 -4.3l-3.3 -4.4l-3.4 4.2z"/><path color="#b3f433" d="M180.5 168.2l3.4 -4.3l-3.2 -4.4l-3.4 4.2z"/><path color="#b1f433" d="M187.1 168.5l3.4 -4.2l-3.2 -4.5l-3.4 4.2z"/><path color="#aef432" d="M193.7 168.9l3.4 -4.2l-3.2 -4.5l-3.4 4.1z"/><path color="#aaf530" d="M200.3 169.4l3.4 -4.2l-3.2 -4.6l-3.4 4.1z"/><path color="#a4f52f" d="M206.9 170l3.4 -4.1l-3.2 -4.7l-3.4 4.1z"/><path color="#9ef52d" d="M213.5 170.6l3.4 -4.1l-3.1 -4.8l-3.4 4z"/><path color="#96f62b" d="M220 171.4l3.4 -4.1l-3.1 -4.8l-3.4 4z"/><path color="#8cf628" d="M226.6 172.4l3.5 -4l-3.1 -4.9l-3.5 4z"/><path color="#82f725" d="M233.1 173.4l3.5 -4l-3.1 -5l-3.5 3.9z"/><path color="#76f822" d="M239.6 174.6l3.5 -4l-3 -5.1l-3.5 3.9z"/><path color="#68f91e" d="M246.1 175.8l3.5 -3.9l-3 -5.2l-3.5 3.8z"/><path color="#8ef629" d="M111.1 172.2l3.2 -4.2l-3.3 -4.1l-3.2 4.1z"/><path color="#92f62a" d="M117.7 172.2l3.3 -4.3l-3.3 -4.1l-3.3 4.2z"/><path color="#95f62b" d="M124.2 172.2l3.3 -4.3l-3.3 -4.2l-3.3 4.2z"/><path color="#98f62b" d="M130.8 172.1l3.3 -4.3l-3.3 -4.2l-3.3 4.3z"/><path color="#9bf62c" d="M137.4 172.1l3.3 -4.3l-3.3 -4.2l-3.3 4.3z"/><path color="#9df52d" d="M144 172.1l3.3 -4.4l-3.3 -4.3l-3.3 4.3z"/><path color="#9ff52e" d="M150.6 172.1l3.3 -4.4l-3.3 -4.3l-3.3 4.3z"/><path color="#a1f52e" d="M157.2 172.1l3.3 -4.4l-3.3 -4.3l-3.3 4.3z"/><path color="#a1f52e" d="M163.8 172.2l3.4 -4.4l-3.3 -4.4l-3.4 4.3z"/><path color="#a2f52e" d="M170.5 172.4l3.4 -4.3l-3.3 -4.4l-3.4 4.3z"/><path color="#a1f52e" d="M177.1 172.6l3.4 -4.3l-3.2 -4.5l-3.4 4.3z"/><path color="#9ff52d" d="M183.7 172.8l3.4 -4.3l-3.2 -4.5l-3.4 4.3z"/><path color="#9cf52d" d="M190.3 173.2l3.4 -4.3l-3.2 -4.6l-3.4 4.2z"/><path color="#98f62c" d="M196.9 173.6l3.4 -4.3l-3.2 -4.7l-3.4 4.2z"/><path color="#94f62a" d="M203.5 174.2l3.4 -4.2l-3.2 -4.8l-3.4 4.2z"/><path color="#8df628" d="M210 174.8l3.4 -4.2l-3.1 -4.8l-3.4 4.1z"/><path color="#86f726" d="M216.6 175.6l3.4 -4.2l-3.1 -4.9l-3.4 4.1z"/><path color="#7df724" d="M223.1 176.5l3.4 -4.1l-3.1 -5l-3.4 4.1z"/><path color="#73f821" d="M229.7 177.5l3.5 -4.1l-3.1 -5.1l-3.5 4z"/><path color="#67f91e" d="M236.2 178.6l3.5 -4.1l-3 -5.2l-3.5 4z"/><path color="#5af91a" d="M242.6 179.9l3.5 -4l-3 -5.2l-3.5 4z"/><path color="#8ef629" d="M160.5 176.6l3.3 -4.4l-3.3 -4.4l-3.3 4.4z"/><path color="#87f726" d="M193.5 178l3.4 -4.4l-3.2 -4.7l-3.4 4.3z"/><path color="#7ff724" d="M114.4 176.5l3.2 -4.3l-3.3 -4.2l-3.2 4.2z"/><path color="#82f725" d="M121 176.5l3.3 -4.3l-3.3 -4.2l-3.3 4.3z"/><path color="#85f726" d="M127.6 176.5l3.3 -4.4l-3.3 -4.3l-3.3 4.3z"/><path color="#87f727" d="M134.1 176.5l3.3 -4.4l-3.3 -4.3l-3.3 4.3z"/><path color="#8cf628" d="M147.3 176.5l3.3 -4.4l-3.3 -4.4l-3.3 4.4z"/><path color="#8df628" d="M153.9 176.6l3.3 -4.4l-3.3 -4.4l-3.3 4.4z"/><path color="#8ef629" d="M167.1 176.8l3.4 -4.4l-3.3 -4.5l-3.4 4.4z"/><path color="#8af727" d="M186.9 177.6l3.4 -4.4l-3.2 -4.7l-3.4 4.3z"/><path color="#82f725" d="M200 178.5l3.4 -4.3l-3.2 -4.8l-3.4 4.3z"/><path color="#7cf723" d="M206.6 179.1l3.4 -4.3l-3.1 -4.9l-3.4 4.2z"/><path color="#6df81f" d="M219.7 180.7l3.4 -4.2l-3.1 -5l-3.4 4.2z"/><path color="#63f91c" d="M226.2 181.7l3.4 -4.2l-3.1 -5.1l-3.4 4.1z"/><path color="#58fa19" d="M232.7 182.8l3.5 -4.2l-3 -5.2l-3.5 4.1z"/><path color="#4cfa16" d="M239.2 184l3.5 -4.1l-3 -5.3l-3.5 4.1z"/><path color="#8af727" d="M140.7 176.5l3.3 -4.4l-3.3 -4.3l-3.3 4.3z"/><path color="#8ef629" d="M173.7 177l3.4 -4.4l-3.2 -4.6l-3.4 4.3z"/><path color="#8cf628" d="M180.3 177.2l3.4 -4.4l-3.2 -4.6l-3.4 4.3z"/><path color="#75f821" d="M213.2 179.9l3.4 -4.3l-3.1 -5l-3.4 4.2z"/><path color="#71f820" d="M124.3 180.9l3.3 -4.4l-3.3 -4.3l-3.3 4.3z"/><path color="#78f822" d="M144 181l3.3 -4.5l-3.3 -4.4l-3.3 4.4z"/><path color="#7af823" d="M157.2 181.1l3.3 -4.5l-3.3 -4.5l-3.3 4.4z"/><path color="#7bf723" d="M163.8 181.3l3.3 -4.5l-3.3 -4.6l-3.3 4.4z"/><path color="#74f821" d="M190.1 182.4l3.4 -4.4l-3.2 -4.8l-3.4 4.4z"/><path color="#70f820" d="M196.6 182.9l3.4 -4.4l-3.2 -4.9l-3.4 4.4z"/><path color="#64f91c" d="M209.7 184.2l3.4 -4.4l-3.1 -5l-3.4 4.3z"/><path color="#48fb15" d="M229.3 187l3.4 -4.3l-3 -5.3l-3.4 4.2z"/><path color="#6ef820" d="M117.8 180.8l3.2 -4.4l-3.3 -4.3l-3.2 4.3z"/><path color="#74f821" d="M130.9 180.9l3.3 -4.4l-3.3 -4.4l-3.3 4.4z"/><path color="#76f822" d="M137.4 180.9l3.3 -4.5l-3.3 -4.4l-3.3 4.4z"/><path color="#79f823" d="M150.6 181l3.3 -4.5l-3.3 -4.5l-3.3 4.4z"/><path color="#7af823" d="M170.3 181.5l3.4 -4.5l-3.2 -4.6l-3.4 4.4z"/><path color="#79f823" d="M176.9 181.7l3.4 -4.5l-3.2 -4.7l-3.4 4.4z"/><path color="#77f822" d="M183.5 182l3.4 -4.5l-3.2 -4.7l-3.4 4.4z"/><path color="#6af91e" d="M203.2 183.5l3.4 -4.4l-3.1 -5l-3.4 4.3z"/><path color="#5cf91a" d="M216.3 185l3.4 -4.3l-3.1 -5.1l-3.4 4.3z"/><path color="#52fa18" d="M222.8 186l3.4 -4.3l-3.1 -5.2l-3.4 4.2z"/><path color="#3cfb11" d="M235.7 188.2l3.5 -4.2l-3 -5.4l-3.5 4.2z"/><path color="#5df91b" d="M121.1 185.3l3.2 -4.4l-3.3 -4.4l-3.2 4.4z"/><path color="#5ff91b" d="M127.6 185.4l3.3 -4.5l-3.3 -4.4l-3.3 4.4z"/><path color="#63f91c" d="M140.7 185.5l3.3 -4.5l-3.3 -4.5l-3.3 4.5z"/><path color="#65f91d" d="M147.3 185.6l3.3 -4.5l-3.3 -4.5l-3.3 4.5z"/><path color="#66f91d" d="M153.9 185.7l3.3 -4.6l-3.3 -4.6l-3.3 4.5z"/><path color="#66f91d" d="M160.4 185.8l3.3 -4.6l-3.3 -4.6l-3.3 4.5z"/><path color="#66f91d" d="M167 186l3.3 -4.6l-3.2 -4.7l-3.3 4.5z"/><path color="#65f91d" d="M173.6 186.3l3.4 -4.5l-3.2 -4.7l-3.4 4.5z"/><path color="#63f91c" d="M180.1 186.6l3.4 -4.5l-3.2 -4.8l-3.4 4.5z"/><path color="#60f91b" d="M186.7 187l3.4 -4.5l-3.2 -4.9l-3.4 4.5z"/><path color="#5cf91a" d="M193.2 187.4l3.4 -4.5l-3.2 -4.9l-3.4 4.4z"/><path color="#57fa19" d="M199.8 188l3.4 -4.5l-3.1 -5l-3.4 4.4z"/><path color="#51fa17" d="M206.3 188.7l3.4 -4.5l-3.1 -5.1l-3.4 4.4z"/><path color="#49fb15" d="M212.8 189.5l3.4 -4.4l-3.1 -5.2l-3.4 4.4z"/><path color="#37fc10" d="M225.8 191.4l3.4 -4.4l-3 -5.3l-3.4 4.3z"/><path color="#2bfc0c" d="M232.3 192.5l3.4 -4.3l-3 -5.4l-3.4 4.3z"/><path color="#61f91c" d="M134.2 185.5l3.3 -4.5l-3.3 -4.5l-3.3 4.4z"/><path color="#41fb12" d="M219.3 190.4l3.4 -4.4l-3.1 -5.3l-3.4 4.3z"/><path color="#4bfa15" d="M124.4 189.9l3.2 -4.5l-3.3 -4.5l-3.2 4.4z"/><path color="#4dfa16" d="M130.9 190l3.3 -4.5l-3.3 -4.5l-3.3 4.5z"/><path color="#4efa16" d="M137.5 190.1l3.3 -4.6l-3.3 -4.6l-3.3 4.5z"/><path color="#50fa17" d="M144 190.2l3.3 -4.6l-3.3 -4.6l-3.3 4.5z"/><path color="#51fa17" d="M150.6 190.3l3.3 -4.6l-3.3 -4.6l-3.3 4.5z"/><path color="#51fa17" d="M157.1 190.4l3.3 -4.6l-3.3 -4.7l-3.3 4.6z"/><path color="#51fa17" d="M163.7 190.6l3.3 -4.6l-3.2 -4.7l-3.3 4.6z"/><path color="#50fa17" d="M170.2 190.9l3.3 -4.6l-3.2 -4.8l-3.3 4.6z"/><path color="#4ffa16" d="M176.8 191.2l3.4 -4.6l-3.2 -4.9l-3.4 4.5z"/><path color="#4cfa16" d="M183.3 191.6l3.4 -4.6l-3.2 -4.9l-3.4 4.5z"/><path color="#48fb15" d="M189.9 192l3.4 -4.6l-3.2 -5l-3.4 4.5z"/><path color="#44fb13" d="M196.4 192.6l3.4 -4.6l-3.1 -5.1l-3.4 4.5z"/><path color="#3efb12" d="M202.9 193.2l3.4 -4.5l-3.1 -5.2l-3.4 4.5z"/><path color="#36fc10" d="M209.4 194l3.4 -4.5l-3.1 -5.2l-3.4 4.5z"/><path color="#2efc0d" d="M215.9 194.9l3.4 -4.5l-3.1 -5.3l-3.4 4.4z"/><path color="#24fd0a" d="M222.4 195.8l3.4 -4.5l-3 -5.4l-3.4 4.4z"/><path color="#19fd07" d="M228.8 196.9l3.4 -4.4l-3 -5.5l-3.4 4.4z"/><path color="#39fc10" d="M134.2 194.7l3.3 -4.6l-3.3 -4.6l-3.3 4.5z"/><path color="#3bfb11" d="M147.3 194.9l3.3 -4.7l-3.3 -4.7l-3.3 4.6z"/><path color="#23fd0a" d="M206 198.6l3.4 -4.6l-3.1 -5.3l-3.4 4.5z"/><path color="#11fe05" d="M219 200.4l3.4 -4.5l-3 -5.5l-3.4 4.5z"/><path color="#38fc10" d="M127.7 194.5l3.2 -4.6l-3.3 -4.6l-3.2 4.5z"/><path color="#3afb11" d="M140.8 194.8l3.3 -4.6l-3.3 -4.7l-3.3 4.6z"/><path color="#3cfb11" d="M153.8 195.1l3.3 -4.7l-3.3 -4.8l-3.3 4.6z"/><path color="#3cfb11" d="M160.4 195.3l3.3 -4.7l-3.2 -4.8l-3.3 4.6z"/><path color="#3bfb11" d="M166.9 195.6l3.3 -4.7l-3.2 -4.9l-3.3 4.6z"/><path color="#39fb10" d="M173.4 195.9l3.3 -4.7l-3.2 -4.9l-3.3 4.6z"/><path color="#37fc10" d="M180 196.2l3.4 -4.7l-3.2 -5l-3.4 4.6z"/><path color="#33fc0f" d="M186.5 196.7l3.4 -4.7l-3.2 -5.1l-3.4 4.6z"/><path color="#2ffc0d" d="M193 197.2l3.4 -4.6l-3.1 -5.1l-3.4 4.6z"/><path color="#29fc0c" d="M199.5 197.8l3.4 -4.6l-3.1 -5.2l-3.4 4.6z"/><path color="#1bfd08" d="M212.5 199.4l3.4 -4.6l-3.1 -5.4l-3.4 4.5z"/><path color="#07ff02" d="M225.4 201.5l3.4 -4.5l-3 -5.6l-3.4 4.5z"/><path color="#24fd0a" d="M131 199.3l3.2 -4.6l-3.3 -4.7l-3.2 4.6z"/><path color="#25fd0a" d="M137.5 199.5l3.3 -4.7l-3.3 -4.7l-3.3 4.6z"/><path color="#25fd0b" d="M144 199.6l3.3 -4.7l-3.3 -4.8l-3.3 4.6z"/><path color="#26fd0b" d="M150.5 199.8l3.3 -4.7l-3.3 -4.8l-3.3 4.7z"/><path color="#23fd0a" d="M170.1 200.6l3.3 -4.7l-3.2 -5l-3.3 4.7z"/><path color="#21fd09" d="M176.6 201l3.3 -4.7l-3.2 -5l-3.3 4.7z"/><path color="#1efd09" d="M183.1 201.4l3.4 -4.7l-3.2 -5.1l-3.4 4.7z"/><path color="#0efe04" d="M202.6 203.3l3.4 -4.7l-3.1 -5.4l-3.4 4.6z"/><path color="#06ff02" d="M209.1 204.1l3.4 -4.7l-3.1 -5.4l-3.4 4.6z"/><path color="#00ff04" d="M215.5 205l3.4 -4.6l-3 -5.5l-3.4 4.6z"/><path color="#00ff11" d="M222 206.1l3.4 -4.6l-3 -5.6l-3.4 4.5z"/><path color="#26fd0b" d="M157.1 200l3.3 -4.7l-3.2 -4.9l-3.3 4.7z"/><path color="#25fd0b" d="M163.6 200.3l3.3 -4.7l-3.2 -4.9l-3.3 4.7z"/><path color="#1afd07" d="M189.6 201.9l3.4 -4.7l-3.1 -5.2l-3.4 4.7z"/><path color="#14fe06" d="M196.1 202.5l3.4 -4.7l-3.1 -5.3l-3.4 4.6z"/><path color="#0ffe04" d="M140.8 204.4l3.2 -4.7l-3.3 -4.8l-3.3 4.7z"/><path color="#0bfe03" d="M173.3 205.8l3.3 -4.8l-3.2 -5.1l-3.3 4.7z"/><path color="#08ff02" d="M179.8 206.2l3.3 -4.8l-3.2 -5.2l-3.3 4.7z"/><path color="#00ff1e" d="M212.1 209.7l3.4 -4.7l-3 -5.6l-3.4 4.7z"/><path color="#0efe04" d="M134.3 204.2l3.2 -4.7l-3.3 -4.8l-3.2 4.6z"/><path color="#0ffe04" d="M147.3 204.6l3.3 -4.8l-3.3 -4.9l-3.3 4.7z"/><path color="#0ffe04" d="M153.8 204.8l3.3 -4.8l-3.2 -4.9l-3.3 4.7z"/><path color="#0efe04" d="M160.3 205.1l3.3 -4.8l-3.2 -5l-3.3 4.7z"/><path color="#0dfe04" d="M166.8 205.4l3.3 -4.8l-3.2 -5l-3.3 4.7z"/><path color="#04ff01" d="M186.3 206.7l3.4 -4.8l-3.1 -5.3l-3.4 4.7z"/><path color="#00ff02" d="M192.8 207.3l3.4 -4.8l-3.1 -5.3l-3.4 4.7z"/><path color="#00ff0a" d="M199.2 208l3.4 -4.8l-3.1 -5.4l-3.4 4.7z"/><path color="#00ff13" d="M205.7 208.8l3.4 -4.7l-3.1 -5.5l-3.4 4.7z"/><path color="#00ff2b" d="M218.6 210.8l3.4 -4.7l-3 -5.7l-3.4 4.6z"/><path color="#00ff0a" d="M137.5 209.1l3.2 -4.8l-3.3 -4.9l-3.2 4.7z"/><path color="#00ff0a" d="M144 209.4l3.2 -4.8l-3.3 -4.9l-3.2 4.7z"/><path color="#00ff0b" d="M157 209.9l3.3 -4.8l-3.2 -5l-3.3 4.8z"/><path color="#00ff0d" d="M163.5 210.2l3.3 -4.8l-3.2 -5.1l-3.3 4.8z"/><path color="#00ff10" d="M170 210.6l3.3 -4.9l-3.2 -5.2l-3.3 4.8z"/><path color="#00ff13" d="M176.5 211.1l3.3 -4.9l-3.2 -5.2l-3.3 4.8z"/><path color="#00ff18" d="M182.9 211.6l3.3 -4.9l-3.1 -5.3l-3.3 4.8z"/><path color="#00ff1f" d="M189.4 212.2l3.4 -4.8l-3.1 -5.4l-3.4 4.8z"/><path color="#00ff26" d="M195.9 212.9l3.4 -4.8l-3.1 -5.5l-3.4 4.8z"/><path color="#00ff3a" d="M208.7 214.6l3.4 -4.8l-3 -5.7l-3.4 4.7z"/><path color="#00ff47" d="M215.1 215.6l3.4 -4.8l-3 -5.8l-3.4 4.7z"/><path color="#00ff0a" d="M150.5 209.6l3.3 -4.8l-3.2 -5l-3.3 4.8z"/><path color="#00ff30" d="M202.3 213.7l3.4 -4.8l-3.1 -5.6l-3.4 4.8z"/><path color="#00ff27" d="M140.8 214.2l3.2 -4.8l-3.3 -5l-3.2 4.8z"/><path color="#00ff28" d="M147.3 214.5l3.2 -4.8l-3.2 -5l-3.2 4.8z"/><path color="#00ff29" d="M153.7 214.8l3.3 -4.9l-3.2 -5.1l-3.3 4.8z"/><path color="#00ff2b" d="M160.2 215.1l3.3 -4.9l-3.2 -5.2l-3.3 4.8z"/><path color="#00ff2e" d="M166.7 215.5l3.3 -4.9l-3.2 -5.2l-3.3 4.8z"/><path color="#00ff32" d="M173.1 216l3.3 -4.9l-3.2 -5.3l-3.3 4.9z"/><path color="#00ff36" d="M179.6 216.5l3.3 -4.9l-3.1 -5.4l-3.3 4.9z"/><path color="#00ff3c" d="M186.1 217.1l3.3 -4.9l-3.1 -5.5l-3.3 4.9z"/><path color="#00ff44" d="M192.5 217.8l3.4 -4.9l-3.1 -5.5l-3.4 4.8z"/><path color="#00ff4d" d="M198.9 218.6l3.4 -4.9l-3.1 -5.6l-3.4 4.8z"/><path color="#00ff57" d="M205.3 219.4l3.4 -4.9l-3 -5.7l-3.4 4.8z"/><path color="#00ff63" d="M211.7 220.4l3.4 -4.9l-3 -5.8l-3.4 4.8z"/><path color="#00ff47" d="M144 219.4l3.2 -4.9l-3.2 -5.1l-3.2 4.8z"/><path color="#00ff48" d="M150.5 219.7l3.2 -4.9l-3.2 -5.2l-3.2 4.8z"/><path color="#00ff4a" d="M156.9 220.1l3.3 -4.9l-3.2 -5.2l-3.3 4.9z"/><path color="#00ff4d" d="M163.4 220.5l3.3 -5l-3.2 -5.3l-3.3 4.9z"/><path color="#00ff50" d="M169.8 220.9l3.3 -5l-3.2 -5.4l-3.3 4.9z"/><path color="#00ff55" d="M176.3 221.5l3.3 -5l-3.1 -5.4l-3.3 4.9z"/><path color="#00ff5b" d="M182.7 222.1l3.3 -5l-3.1 -5.5l-3.3 4.9z"/><path color="#00ff62" d="M189.2 222.7l3.3 -5l-3.1 -5.6l-3.3 4.9z"/><path color="#00ff6b" d="M195.6 223.5l3.4 -5l-3.1 -5.7l-3.4 4.9z"/><path color="#00ff75" d="M202 224.4l3.4 -5l-3 -5.8l-3.4 4.9z"/><path color="#00ff81" d="M208.4 225.4l3.4 -4.9l-3 -5.9l-3.4 4.9z"/><path color="#00ff6c" d="M160.1 225.5l3.3 -5l-3.2 -5.3l-3.3 4.9z"/><path color="#00ff70" d="M166.6 225.9l3.3 -5l-3.2 -5.4l-3.3 5z"/><path color="#00ff82" d="M185.8 227.8l3.3 -5l-3.1 -5.7l-3.3 5z"/><path color="#00ff8a" d="M192.2 228.6l3.3 -5l-3.1 -5.7l-3.3 5z"/><path color="#00ff67" d="M147.3 224.6l3.2 -4.9l-3.2 -5.2l-3.2 4.9z"/><path color="#00ff69" d="M153.7 225l3.2 -5l-3.2 -5.3l-3.2 4.9z"/><path color="#00ff75" d="M173 226.5l3.3 -5l-3.1 -5.5l-3.3 5z"/><path color="#00ff7a" d="M179.4 227.1l3.3 -5l-3.1 -5.6l-3.3 5z"/><path color="#00ff94" d="M198.6 229.4l3.4 -5l-3 -5.8l-3.4 5z"/><path color="#00ffa0" d="M205 230.4l3.4 -5l-3 -5.9l-3.4 5z"/><path color="#00ff89" d="M150.5 230l3.2 -5l-3.2 -5.3l-3.2 4.9z"/><path color="#00ff8c" d="M156.9 230.5l3.2 -5l-3.2 -5.4l-3.2 5z"/><path color="#00ff90" d="M163.3 231l3.3 -5l-3.2 -5.5l-3.3 5z"/><path color="#00ff95" d="M169.7 231.6l3.3 -5.1l-3.1 -5.5l-3.3 5z"/><path color="#00ff9a" d="M176.1 232.2l3.3 -5.1l-3.1 -5.6l-3.3 5z"/><path color="#00ffa1" d="M182.5 232.9l3.3 -5.1l-3.1 -5.7l-3.3 5z"/><path color="#00ffaa" d="M188.9 233.6l3.3 -5.1l-3.1 -5.8l-3.3 5z"/><path color="#00ffb4" d="M195.3 234.5l3.3 -5.1l-3 -5.9l-3.3 5z"/><path color="#00ffbf" d="M201.6 235.5l3.4 -5.1l-3 -6l-3.4 5z"/><path color="#00ffac" d="M153.7 235.5l3.2 -5l-3.2 -5.5l-3.2 5z"/><path color="#00ffb0" d="M160 236.1l3.2 -5.1l-3.2 -5.5l-3.2 5z"/><path color="#00ffbb" d="M172.8 237.3l3.3 -5.1l-3.1 -5.7l-3.3 5.1z"/><path color="#00ffc2" d="M179.2 238l3.3 -5.1l-3.1 -5.8l-3.3 5.1z"/><path color="#00ffd4" d="M191.9 239.7l3.3 -5.2l-3 -6l-3.3 5.1z"/><path color="#00ffdf" d="M198.3 240.6l3.3 -5.2l-3 -6.1l-3.3 5.1z"/><path color="#00ffb5" d="M166.4 236.7l3.3 -5.1l-3.1 -5.6l-3.3 5z"/><path color="#00ffca" d="M185.6 238.8l3.3 -5.1l-3.1 -5.9l-3.3 5.1z"/><path color="#00ffd1" d="M156.8 241.2l3.2 -5.1l-3.2 -5.6l-3.2 5z"/><path color="#00ffdc" d="M169.6 242.5l3.3 -5.2l-3.1 -5.7l-3.3 5.1z"/><path color="#00ffe3" d="M175.9 243.2l3.3 -5.2l-3.1 -5.8l-3.3 5.1z"/><path color="#00ffec" d="M182.3 244l3.3 -5.2l-3.1 -5.9l-3.3 5.1z"/><path color="#00feff" d="M195 245.8l3.3 -5.2l-3 -6.1l-3.3 5.2z"/><path color="#00ffd6" d="M163.2 241.8l3.2 -5.1l-3.1 -5.7l-3.2 5.1z"/><path color="#00fff5" d="M188.6 244.9l3.3 -5.2l-3 -6l-3.3 5.1z"/><path color="#00fff7" d="M160 246.9l3.2 -5.2l-3.1 -5.7l-3.2 5.1z"/><path color="#00fffe" d="M166.3 247.6l3.2 -5.2l-3.1 -5.8l-3.2 5.1z"/><path color="#00f9ff" d="M172.7 248.4l3.3 -5.2l-3.1 -5.9l-3.3 5.2z"/><path color="#00f1ff" d="M179 249.2l3.3 -5.2l-3.1 -6l-3.3 5.2z"/><path color="#00e7ff" d="M185.3 250.1l3.3 -5.3l-3 -6.1l-3.3 5.2z"/><path color="#00dcff" d="M191.6 251.1l3.3 -5.3l-3 -6.2l-3.3 5.2z"/><path color="#00deff" d="M163.1 252.9l3.2 -5.2l-3.1 -5.9l-3.2 5.2z"/><path color="#00d7ff" d="M169.4 253.6l3.2 -5.2l-3.1 -5.9l-3.2 5.2z"/><path color="#00ceff" d="M175.7 254.5l3.3 -5.3l-3.1 -6l-3.3 5.2z"/><path color="#00c5ff" d="M182.1 255.4l3.3 -5.3l-3 -6.1l-3.3 5.2z"/><path color="#00baff" d="M188.4 256.4l3.3 -5.3l-3 -6.2l-3.3 5.3z"/><path color="#00b5ff" d="M166.2 258.9l3.2 -5.3l-3.1 -6l-3.2 5.2z"/><path color="#00acff" d="M172.5 259.8l3.2 -5.3l-3.1 -6.1l-3.2 5.2z"/><path color="#00a2ff" d="M178.8 260.7l3.3 -5.3l-3 -6.2l-3.3 5.3z"/><path color="#0097ff" d="M185.1 261.8l3.3 -5.4l-3 -6.3l-3.3 5.3z"/><path color="#0089ff" d="M169.3 265.1l3.2 -5.3l-3.1 -6.2l-3.2 5.3z"/><path color="#007fff" d="M175.6 266.1l3.2 -5.4l-3 -6.3l-3.2 5.3z"/><path color="#0073ff" d="M181.8 267.2l3.3 -5.4l-3 -6.4l-3.3 5.3z"/><path color="#005bff" d="M172.3 271.5l3.2 -5.4l-3.1 -6.3l-3.2 5.3z"/><path color="#004fff" d="M178.6 272.6l3.2 -5.4l-3 -6.4l-3.2 5.4z"/><path color="#002bff" d="M175.4 278l3.2 -5.4l-3 -6.5l-3.2 5.4z"/></g><path class="mlL" d="M175.4 278l-3.4 -7.3l-3.4 -7l-3.4 -6.8l-3.5 -6.7l-3.5 -6.5l-3.5 -6.3l-3.5 -6.2l-3.6 -6l-3.6 -5.9l-3.6 -5.7l-3.6 -5.6l-3.6 -5.5l-3.7 -5.4l-3.7 -5.2l-3.7 -5.1l-3.7 -5l-3.7 -4.9l-3.7 -4.8l-3.7 -4.7l-3.7 -4.5l-3.7 -4.4l-3.7 -4.3l-3.7 -4.2l-3.7 -4l-3.7 -3.9l-3.7 -3.7l-3.7 -3.6l-3.7 -3.4l-3.7 -3.2l-3.7 -3.1l-3.6 -2.9l-3.6 -2.7l-3.6 -2.4l-3.6 -2.2l-3.5 -2l-3.5 -1.7M175.4 278l3.6 -6l3.6 -6l3.6 -6l3.6 -5.9l3.7 -5.9l3.7 -5.8l3.7 -5.7l3.7 -5.7l3.7 -5.6l3.8 -5.5l3.8 -5.4l3.8 -5.3l3.8 -5.2l3.8 -5.1l3.8 -5l3.8 -4.8l3.8 -4.7l3.8 -4.6l3.8 -4.5l3.8 -4.3l3.8 -4.2l3.8 -4.1l3.8 -3.9l3.8 -3.8l3.8 -3.7l3.8 -3.5l3.8 -3.4l3.8 -3.3l3.8 -3.1l3.8 -3l3.8 -2.9l3.8 -2.8l3.7 -2.7l3.7 -2.6l3.7 -2.4l3.7 -2.4M177.2 274.9l-3.4 -7.2l-3.4 -7l-3.4 -6.8l-3.5 -6.6l-3.5 -6.5l-3.5 -6.3l-3.5 -6.1l-3.6 -6l-3.6 -5.8l-3.6 -5.7l-3.6 -5.6l-3.6 -5.4l-3.7 -5.3l-3.7 -5.2l-3.7 -5.1l-3.7 -5l-3.7 -4.8l-3.7 -4.7l-3.7 -4.6l-3.7 -4.5l-3.7 -4.4l-3.7 -4.2l-3.7 -4.1l-3.7 -4l-3.7 -3.8l-3.7 -3.7l-3.7 -3.5l-3.7 -3.4l-3.7 -3.2l-3.7 -3l-3.6 -2.8l-3.6 -2.6l-3.6 -2.4l-3.6 -2.2l-3.5 -1.9l-3.5 -1.7M173.6 274.3l3.6 -6l3.6 -6l3.6 -5.9l3.6 -5.9l3.7 -5.8l3.7 -5.8l3.7 -5.7l3.7 -5.6l3.7 -5.5l3.8 -5.5l3.8 -5.4l3.8 -5.3l3.8 -5.1l3.8 -5l3.8 -4.9l3.8 -4.8l3.8 -4.7l3.8 -4.5l3.8 -4.4l3.8 -4.3l3.8 -4.2l3.8 -4l3.8 -3.9l3.8 -3.8l3.8 -3.6l3.8 -3.5l3.8 -3.4l3.8 -3.2l3.8 -3.1l3.8 -3l3.8 -2.9l3.8 -2.7l3.8 -2.6l3.7 -2.5l3.7 -2.4l3.7 -2.3M179 271.8l-3.4 -7.2l-3.4 -7l-3.4 -6.8l-3.5 -6.6l-3.5 -6.4l-3.5 -6.3l-3.5 -6.1l-3.6 -5.9l-3.6 -5.8l-3.6 -5.7l-3.6 -5.5l-3.6 -5.4l-3.6 -5.3l-3.7 -5.2l-3.7 -5l-3.7 -4.9l-3.7 -4.8l-3.7 -4.7l-3.7 -4.6l-3.7 -4.4l-3.7 -4.3l-3.7 -4.2l-3.7 -4.1l-3.7 -3.9l-3.7 -3.8l-3.7 -3.6l-3.7 -3.5l-3.7 -3.3l-3.7 -3.2l-3.7 -3l-3.6 -2.8l-3.6 -2.6l-3.6 -2.4l-3.6 -2.1l-3.5 -1.9l-3.5 -1.7M171.9 270.6l3.6 -6l3.6 -5.9l3.6 -5.9l3.7 -5.9l3.7 -5.8l3.7 -5.7l3.7 -5.7l3.7 -5.6l3.7 -5.5l3.8 -5.4l3.8 -5.3l3.8 -5.2l3.8 -5.1l3.8 -5l3.8 -4.9l3.8 -4.8l3.8 -4.6l3.8 -4.5l3.8 -4.4l3.8 -4.2l3.8 -4.1l3.8 -4l3.8 -3.8l3.8 -3.7l3.8 -3.6l3.8 -3.5l3.8 -3.3l3.8 -3.2l3.8 -3.1l3.8 -2.9l3.8 -2.8l3.8 -2.7l3.8 -2.6l3.7 -2.5l3.7 -2.4l3.7 -2.3M180.9 268.7l-3.4 -7.1l-3.4 -6.9l-3.4 -6.7l-3.5 -6.6l-3.5 -6.4l-3.5 -6.2l-3.5 -6.1l-3.6 -5.9l-3.6 -5.8l-3.6 -5.6l-3.6 -5.5l-3.6 -5.4l-3.6 -5.2l-3.7 -5.1l-3.7 -5l-3.7 -4.9l-3.7 -4.7l-3.7 -4.6l-3.7 -4.5l-3.7 -4.4l-3.7 -4.3l-3.7 -4.1l-3.7 -4l-3.7 -3.9l-3.7 -3.7l-3.7 -3.6l-3.7 -3.4l-3.7 -3.3l-3.7 -3.1l-3.7 -2.9l-3.6 -2.7l-3.6 -2.5l-3.6 -2.3l-3.6 -2.1l-3.5 -1.9l-3.5 -1.6M170.2 266.9l3.6 -5.9l3.6 -5.9l3.6 -5.9l3.7 -5.8l3.7 -5.8l3.7 -5.7l3.7 -5.6l3.7 -5.6l3.7 -5.5l3.8 -5.4l3.8 -5.3l3.8 -5.2l3.8 -5.1l3.8 -5l3.8 -4.8l3.8 -4.7l3.8 -4.6l3.8 -4.5l3.8 -4.3l3.8 -4.2l3.8 -4.1l3.8 -3.9l3.8 -3.8l3.8 -3.7l3.8 -3.5l3.8 -3.4l3.8 -3.3l3.8 -3.2l3.8 -3l3.8 -2.9l3.8 -2.8l3.8 -2.7l3.8 -2.6l3.7 -2.5l3.7 -2.4l3.7 -2.3M182.7 265.6l-3.4 -7.1l-3.4 -6.9l-3.4 -6.7l-3.5 -6.5l-3.5 -6.3l-3.5 -6.2l-3.5 -6l-3.6 -5.9l-3.6 -5.7l-3.6 -5.6l-3.6 -5.4l-3.6 -5.3l-3.6 -5.2l-3.7 -5.1l-3.7 -4.9l-3.7 -4.8l-3.7 -4.7l-3.7 -4.6l-3.7 -4.5l-3.7 -4.3l-3.7 -4.2l-3.7 -4.1l-3.7 -4l-3.7 -3.8l-3.7 -3.7l-3.7 -3.5l-3.7 -3.4l-3.7 -3.2l-3.7 -3.1l-3.7 -2.9l-3.6 -2.7l-3.6 -2.5l-3.6 -2.3l-3.6 -2.1l-3.5 -1.9l-3.5 -1.6M168.4 263.3l3.6 -5.9l3.6 -5.9l3.6 -5.8l3.7 -5.8l3.7 -5.7l3.7 -5.7l3.7 -5.6l3.7 -5.5l3.7 -5.4l3.8 -5.3l3.8 -5.2l3.8 -5.1l3.8 -5l3.8 -4.9l3.8 -4.8l3.8 -4.7l3.8 -4.5l3.8 -4.4l3.8 -4.3l3.8 -4.2l3.8 -4l3.8 -3.9l3.8 -3.8l3.8 -3.6l3.8 -3.5l3.8 -3.4l3.8 -3.2l3.8 -3.1l3.8 -3l3.8 -2.9l3.8 -2.8l3.8 -2.6l3.8 -2.5l3.7 -2.4l3.7 -2.3l3.7 -2.3M184.6 262.5l-3.4 -7.1l-3.4 -6.9l-3.4 -6.7l-3.5 -6.5l-3.5 -6.3l-3.5 -6.1l-3.5 -6l-3.6 -5.8l-3.6 -5.7l-3.6 -5.5l-3.6 -5.4l-3.6 -5.3l-3.6 -5.1l-3.7 -5l-3.7 -4.9l-3.7 -4.8l-3.7 -4.7l-3.7 -4.5l-3.7 -4.4l-3.7 -4.3l-3.7 -4.2l-3.7 -4l-3.7 -3.9l-3.7 -3.8l-3.7 -3.6l-3.7 -3.5l-3.7 -3.3l-3.7 -3.2l-3.7 -3l-3.7 -2.8l-3.6 -2.7l-3.6 -2.5l-3.6 -2.3l-3.6 -2.1l-3.5 -1.8l-3.5 -1.6M166.6 259.8l3.6 -5.9l3.6 -5.8l3.6 -5.8l3.7 -5.7l3.7 -5.7l3.7 -5.6l3.7 -5.6l3.7 -5.5l3.7 -5.4l3.8 -5.3l3.8 -5.2l3.8 -5.1l3.8 -5l3.8 -4.9l3.8 -4.8l3.8 -4.6l3.8 -4.5l3.8 -4.4l3.8 -4.3l3.8 -4.1l3.8 -4l3.8 -3.9l3.8 -3.7l3.8 -3.6l3.8 -3.5l3.8 -3.3l3.8 -3.2l3.8 -3.1l3.8 -3l3.8 -2.8l3.8 -2.7l3.8 -2.6l3.8 -2.5l3.7 -2.4l3.7 -2.3l3.7 -2.2M186.5 259.5l-3.4 -7l-3.4 -6.8l-3.4 -6.6l-3.5 -6.5l-3.5 -6.3l-3.5 -6.1l-3.5 -5.9l-3.6 -5.8l-3.6 -5.6l-3.6 -5.5l-3.6 -5.4l-3.6 -5.2l-3.6 -5.1l-3.7 -5l-3.7 -4.9l-3.7 -4.7l-3.7 -4.6l-3.7 -4.5l-3.7 -4.4l-3.7 -4.2l-3.7 -4.1l-3.7 -4l-3.7 -3.9l-3.7 -3.7l-3.7 -3.6l-3.7 -3.4l-3.7 -3.3l-3.7 -3.1l-3.7 -3l-3.7 -2.8l-3.6 -2.6l-3.6 -2.4l-3.6 -2.2l-3.6 -2l-3.5 -1.8l-3.5 -1.6M164.9 256.3l3.6 -5.8l3.6 -5.8l3.6 -5.8l3.7 -5.7l3.7 -5.7l3.7 -5.6l3.7 -5.5l3.7 -5.4l3.7 -5.4l3.8 -5.3l3.8 -5.2l3.8 -5.1l3.8 -4.9l3.8 -4.8l3.8 -4.7l3.8 -4.6l3.8 -4.5l3.8 -4.3l3.8 -4.2l3.8 -4.1l3.8 -4l3.8 -3.8l3.8 -3.7l3.8 -3.6l3.8 -3.4l3.8 -3.3l3.8 -3.2l3.8 -3.1l3.8 -2.9l3.8 -2.8l3.8 -2.7l3.8 -2.6l3.8 -2.5l3.7 -2.4l3.7 -2.3l3.7 -2.2M188.4 256.4l-3.4 -7l-3.4 -6.8l-3.4 -6.6l-3.5 -6.4l-3.5 -6.2l-3.5 -6.1l-3.5 -5.9l-3.6 -5.8l-3.6 -5.6l-3.6 -5.5l-3.6 -5.3l-3.6 -5.2l-3.6 -5.1l-3.7 -4.9l-3.7 -4.8l-3.7 -4.7l-3.7 -4.6l-3.7 -4.4l-3.7 -4.3l-3.7 -4.2l-3.7 -4.1l-3.7 -3.9l-3.7 -3.8l-3.7 -3.7l-3.7 -3.5l-3.7 -3.4l-3.7 -3.2l-3.7 -3.1l-3.7 -2.9l-3.7 -2.8l-3.6 -2.6l-3.6 -2.4l-3.6 -2.2l-3.6 -2l-3.5 -1.8l-3.5 -1.5M163.1 252.9l3.6 -5.8l3.6 -5.8l3.6 -5.7l3.7 -5.7l3.7 -5.6l3.7 -5.6l3.7 -5.5l3.7 -5.4l3.7 -5.3l3.8 -5.2l3.8 -5.1l3.8 -5l3.8 -4.9l3.8 -4.8l3.8 -4.7l3.8 -4.6l3.8 -4.4l3.8 -4.3l3.8 -4.2l3.8 -4l3.8 -3.9l3.8 -3.8l3.8 -3.7l3.8 -3.5l3.8 -3.4l3.8 -3.3l3.8 -3.1l3.8 -3l3.8 -2.9l3.8 -2.8l3.8 -2.7l3.8 -2.6l3.8 -2.5l3.7 -2.4l3.7 -2.3l3.7 -2.2M190.2 253.4l-3.4 -7l-3.4 -6.8l-3.4 -6.6l-3.5 -6.4l-3.5 -6.2l-3.5 -6l-3.5 -5.9l-3.6 -5.7l-3.6 -5.6l-3.6 -5.4l-3.6 -5.3l-3.6 -5.2l-3.6 -5l-3.7 -4.9l-3.7 -4.8l-3.7 -4.6l-3.7 -4.5l-3.7 -4.4l-3.7 -4.3l-3.7 -4.2l-3.7 -4l-3.7 -3.9l-3.7 -3.8l-3.7 -3.6l-3.7 -3.5l-3.7 -3.3l-3.7 -3.2l-3.7 -3l-3.7 -2.9l-3.7 -2.7l-3.6 -2.5l-3.6 -2.4l-3.6 -2.2l-3.6 -2l-3.5 -1.7l-3.5 -1.5M161.3 249.5l3.6 -5.8l3.6 -5.7l3.6 -5.7l3.7 -5.6l3.7 -5.6l3.7 -5.5l3.7 -5.4l3.7 -5.4l3.7 -5.3l3.8 -5.2l3.8 -5.1l3.8 -5l3.8 -4.9l3.8 -4.8l3.8 -4.6l3.8 -4.5l3.8 -4.4l3.8 -4.3l3.8 -4.1l3.8 -4l3.8 -3.9l3.8 -3.7l3.8 -3.6l3.8 -3.5l3.8 -3.4l3.8 -3.2l3.8 -3.1l3.8 -3l3.8 -2.9l3.8 -2.7l3.8 -2.6l3.8 -2.5l3.8 -2.4l3.7 -2.3l3.7 -2.2l3.7 -2.2M192.1 250.4l-3.4 -6.9l-3.4 -6.7l-3.4 -6.5l-3.5 -6.3l-3.5 -6.2l-3.5 -6l-3.5 -5.8l-3.6 -5.7l-3.6 -5.5l-3.6 -5.4l-3.6 -5.3l-3.6 -5.1l-3.6 -5l-3.7 -4.9l-3.7 -4.7l-3.7 -4.6l-3.7 -4.5l-3.7 -4.4l-3.7 -4.2l-3.7 -4.1l-3.7 -4l-3.7 -3.8l-3.7 -3.7l-3.7 -3.6l-3.7 -3.4l-3.7 -3.3l-3.7 -3.2l-3.7 -3l-3.7 -2.8l-3.7 -2.7l-3.6 -2.5l-3.6 -2.3l-3.6 -2.1l-3.6 -1.9l-3.5 -1.7l-3.5 -1.5M159.5 246.1l3.6 -5.7l3.6 -5.7l3.6 -5.7l3.7 -5.6l3.7 -5.5l3.7 -5.5l3.7 -5.4l3.7 -5.3l3.7 -5.2l3.8 -5.1l3.8 -5l3.8 -4.9l3.8 -4.8l3.8 -4.7l3.8 -4.6l3.8 -4.5l3.8 -4.4l3.8 -4.2l3.8 -4.1l3.8 -4l3.8 -3.8l3.8 -3.7l3.8 -3.6l3.8 -3.4l3.8 -3.3l3.8 -3.2l3.8 -3.1l3.8 -2.9l3.8 -2.8l3.8 -2.7l3.8 -2.6l3.8 -2.5l3.8 -2.4l3.8 -2.3l3.7 -2.2l3.7 -2.1M194 247.3l-3.4 -6.9l-3.4 -6.7l-3.4 -6.5l-3.5 -6.3l-3.5 -6.1l-3.5 -6l-3.5 -5.8l-3.6 -5.6l-3.6 -5.5l-3.6 -5.4l-3.6 -5.2l-3.6 -5.1l-3.6 -4.9l-3.7 -4.8l-3.7 -4.7l-3.7 -4.6l-3.7 -4.4l-3.7 -4.3l-3.7 -4.2l-3.7 -4.1l-3.7 -3.9l-3.7 -3.8l-3.7 -3.7l-3.7 -3.5l-3.7 -3.4l-3.7 -3.3l-3.7 -3.1l-3.7 -3l-3.7 -2.8l-3.7 -2.6l-3.6 -2.5l-3.6 -2.3l-3.6 -2.1l-3.6 -1.9l-3.5 -1.7l-3.5 -1.5M157.7 242.8l3.6 -5.7l3.6 -5.7l3.6 -5.6l3.7 -5.6l3.7 -5.5l3.7 -5.4l3.7 -5.4l3.7 -5.3l3.7 -5.2l3.8 -5.1l3.8 -5l3.8 -4.9l3.8 -4.8l3.8 -4.7l3.8 -4.6l3.8 -4.4l3.8 -4.3l3.8 -4.2l3.8 -4.1l3.8 -3.9l3.8 -3.8l3.8 -3.7l3.8 -3.5l3.8 -3.4l3.8 -3.3l3.8 -3.2l3.8 -3l3.8 -2.9l3.8 -2.8l3.8 -2.7l3.8 -2.6l3.8 -2.5l3.8 -2.4l3.8 -2.3l3.7 -2.2l3.7 -2.1M195.9 244.4l-3.4 -6.8l-3.4 -6.6l-3.4 -6.5l-3.5 -6.3l-3.5 -6.1l-3.5 -5.9l-3.5 -5.8l-3.6 -5.6l-3.6 -5.5l-3.6 -5.3l-3.6 -5.2l-3.6 -5l-3.6 -4.9l-3.7 -4.8l-3.7 -4.6l-3.7 -4.5l-3.7 -4.4l-3.7 -4.3l-3.7 -4.1l-3.7 -4l-3.7 -3.9l-3.7 -3.7l-3.7 -3.6l-3.7 -3.5l-3.7 -3.3l-3.7 -3.2l-3.7 -3.1l-3.7 -2.9l-3.7 -2.7l-3.7 -2.6l-3.6 -2.4l-3.6 -2.2l-3.6 -2l-3.6 -1.9l-3.5 -1.6l-3.5 -1.4M155.9 239.6l3.6 -5.6l3.6 -5.6l3.6 -5.6l3.7 -5.5l3.7 -5.5l3.7 -5.4l3.7 -5.3l3.7 -5.2l3.7 -5.2l3.8 -5.1l3.8 -5l3.8 -4.9l3.8 -4.8l3.8 -4.6l3.8 -4.5l3.8 -4.4l3.8 -4.3l3.8 -4.1l3.8 -4l3.8 -3.9l3.8 -3.8l3.8 -3.6l3.8 -3.5l3.8 -3.4l3.8 -3.2l3.8 -3.1l3.8 -3l3.8 -2.9l3.8 -2.8l3.8 -2.6l3.8 -2.5l3.8 -2.4l3.8 -2.3l3.8 -2.2l3.7 -2.2l3.7 -2.1M197.8 241.4l-3.4 -6.8l-3.4 -6.6l-3.4 -6.4l-3.5 -6.2l-3.5 -6.1l-3.5 -5.9l-3.5 -5.7l-3.6 -5.6l-3.6 -5.4l-3.6 -5.3l-3.6 -5.1l-3.6 -5l-3.6 -4.9l-3.7 -4.7l-3.7 -4.6l-3.7 -4.5l-3.7 -4.3l-3.7 -4.2l-3.7 -4.1l-3.7 -4l-3.7 -3.8l-3.7 -3.7l-3.7 -3.6l-3.7 -3.4l-3.7 -3.3l-3.7 -3.2l-3.7 -3l-3.7 -2.9l-3.7 -2.7l-3.7 -2.5l-3.6 -2.4l-3.6 -2.2l-3.6 -2l-3.6 -1.8l-3.5 -1.6l-3.5 -1.4M154.1 236.3l3.6 -5.6l3.6 -5.6l3.6 -5.5l3.7 -5.5l3.7 -5.4l3.7 -5.4l3.7 -5.3l3.7 -5.2l3.7 -5.1l3.8 -5l3.8 -4.9l3.8 -4.8l3.8 -4.7l3.8 -4.6l3.8 -4.5l3.8 -4.4l3.8 -4.2l3.8 -4.1l3.8 -4l3.8 -3.8l3.8 -3.7l3.8 -3.6l3.8 -3.5l3.8 -3.3l3.8 -3.2l3.8 -3.1l3.8 -3l3.8 -2.8l3.8 -2.7l3.8 -2.6l3.8 -2.5l3.8 -2.4l3.8 -2.3l3.8 -2.2l3.7 -2.1l3.7 -2.1M199.7 238.4l-3.4 -6.8l-3.4 -6.6l-3.4 -6.4l-3.5 -6.2l-3.5 -6l-3.5 -5.8l-3.5 -5.7l-3.6 -5.5l-3.6 -5.4l-3.6 -5.2l-3.6 -5.1l-3.6 -4.9l-3.6 -4.8l-3.7 -4.7l-3.7 -4.5l-3.7 -4.4l-3.7 -4.3l-3.7 -4.2l-3.7 -4l-3.7 -3.9l-3.7 -3.8l-3.7 -3.6l-3.7 -3.5l-3.7 -3.4l-3.7 -3.2l-3.7 -3.1l-3.7 -3l-3.7 -2.8l-3.7 -2.7l-3.7 -2.5l-3.6 -2.3l-3.6 -2.2l-3.6 -2l-3.6 -1.8l-3.5 -1.6l-3.5 -1.4M152.3 233.2l3.6 -5.6l3.6 -5.5l3.6 -5.5l3.7 -5.5l3.7 -5.4l3.7 -5.3l3.7 -5.3l3.7 -5.2l3.7 -5.1l3.8 -5l3.8 -4.9l3.8 -4.8l3.8 -4.7l3.8 -4.6l3.8 -4.4l3.8 -4.3l3.8 -4.2l3.8 -4.1l3.8 -3.9l3.8 -3.8l3.8 -3.7l3.8 -3.6l3.8 -3.4l3.8 -3.3l3.8 -3.2l3.8 -3l3.8 -2.9l3.8 -2.8l3.8 -2.7l3.8 -2.6l3.8 -2.5l3.8 -2.4l3.8 -2.3l3.8 -2.2l3.7 -2.1l3.7 -2M201.6 235.5l-3.4 -6.7l-3.4 -6.5l-3.4 -6.3l-3.5 -6.2l-3.5 -6l-3.5 -5.8l-3.5 -5.6l-3.6 -5.5l-3.6 -5.3l-3.6 -5.2l-3.6 -5l-3.6 -4.9l-3.6 -4.8l-3.7 -4.6l-3.7 -4.5l-3.7 -4.4l-3.7 -4.2l-3.7 -4.1l-3.7 -4l-3.7 -3.9l-3.7 -3.7l-3.7 -3.6l-3.7 -3.5l-3.7 -3.3l-3.7 -3.2l-3.7 -3.1l-3.7 -2.9l-3.7 -2.8l-3.7 -2.6l-3.7 -2.4l-3.6 -2.3l-3.6 -2.1l-3.6 -1.9l-3.6 -1.7l-3.5 -1.6l-3.5 -1.4M150.5 230l3.6 -5.5l3.6 -5.5l3.6 -5.5l3.7 -5.4l3.7 -5.4l3.7 -5.3l3.7 -5.2l3.7 -5.1l3.7 -5l3.8 -4.9l3.8 -4.8l3.8 -4.7l3.8 -4.6l3.8 -4.5l3.8 -4.4l3.8 -4.3l3.8 -4.2l3.8 -4l3.8 -3.9l3.8 -3.8l3.8 -3.6l3.8 -3.5l3.8 -3.4l3.8 -3.3l3.8 -3.1l3.8 -3l3.8 -2.9l3.8 -2.8l3.8 -2.7l3.8 -2.5l3.8 -2.4l3.8 -2.3l3.8 -2.2l3.8 -2.2l3.7 -2.1l3.7 -2M203.5 232.6l-3.4 -6.7l-3.4 -6.5l-3.4 -6.3l-3.5 -6.1l-3.5 -5.9l-3.5 -5.8l-3.5 -5.6l-3.6 -5.5l-3.6 -5.3l-3.6 -5.2l-3.6 -5l-3.6 -4.9l-3.6 -4.7l-3.7 -4.6l-3.7 -4.5l-3.7 -4.3l-3.7 -4.2l-3.7 -4.1l-3.7 -3.9l-3.7 -3.8l-3.7 -3.7l-3.7 -3.5l-3.7 -3.4l-3.7 -3.3l-3.7 -3.1l-3.7 -3l-3.7 -2.9l-3.7 -2.7l-3.7 -2.6l-3.7 -2.4l-3.6 -2.2l-3.6 -2.1l-3.6 -1.9l-3.6 -1.7l-3.5 -1.5l-3.5 -1.3M148.6 226.9l3.6 -5.5l3.6 -5.5l3.6 -5.4l3.7 -5.4l3.7 -5.3l3.7 -5.3l3.7 -5.2l3.7 -5.1l3.7 -5l3.8 -4.9l3.8 -4.8l3.8 -4.7l3.8 -4.6l3.8 -4.5l3.8 -4.4l3.8 -4.2l3.8 -4.1l3.8 -4l3.8 -3.9l3.8 -3.7l3.8 -3.6l3.8 -3.5l3.8 -3.3l3.8 -3.2l3.8 -3.1l3.8 -3l3.8 -2.8l3.8 -2.7l3.8 -2.6l3.8 -2.5l3.8 -2.4l3.8 -2.3l3.8 -2.2l3.8 -2.1l3.7 -2.1l3.7 -2M205.5 229.7l-3.4 -6.6l-3.4 -6.5l-3.4 -6.3l-3.5 -6.1l-3.5 -5.9l-3.5 -5.7l-3.5 -5.6l-3.6 -5.4l-3.6 -5.3l-3.6 -5.1l-3.6 -5l-3.6 -4.8l-3.6 -4.7l-3.7 -4.5l-3.7 -4.4l-3.7 -4.3l-3.7 -4.2l-3.7 -4l-3.7 -3.9l-3.7 -3.8l-3.7 -3.6l-3.7 -3.5l-3.7 -3.4l-3.7 -3.2l-3.7 -3.1l-3.7 -3l-3.7 -2.8l-3.7 -2.7l-3.7 -2.5l-3.7 -2.4l-3.6 -2.2l-3.6 -2l-3.6 -1.9l-3.6 -1.7l-3.5 -1.5l-3.5 -1.3M146.8 223.9l3.6 -5.5l3.6 -5.4l3.6 -5.4l3.7 -5.3l3.7 -5.3l3.7 -5.2l3.7 -5.1l3.7 -5.1l3.7 -5l3.8 -4.9l3.8 -4.8l3.8 -4.7l3.8 -4.6l3.8 -4.4l3.8 -4.3l3.8 -4.2l3.8 -4.1l3.8 -3.9l3.8 -3.8l3.8 -3.7l3.8 -3.6l3.8 -3.4l3.8 -3.3l3.8 -3.2l3.8 -3.1l3.8 -2.9l3.8 -2.8l3.8 -2.7l3.8 -2.6l3.8 -2.5l3.8 -2.4l3.8 -2.3l3.8 -2.2l3.8 -2.1l3.7 -2l3.7 -2M207.4 226.8l-3.4 -6.6l-3.4 -6.4l-3.4 -6.2l-3.5 -6l-3.5 -5.9l-3.5 -5.7l-3.5 -5.5l-3.6 -5.4l-3.6 -5.2l-3.6 -5.1l-3.6 -4.9l-3.6 -4.8l-3.6 -4.6l-3.7 -4.5l-3.7 -4.4l-3.7 -4.2l-3.7 -4.1l-3.7 -4l-3.7 -3.8l-3.7 -3.7l-3.7 -3.6l-3.7 -3.4l-3.7 -3.3l-3.7 -3.2l-3.7 -3l-3.7 -2.9l-3.7 -2.8l-3.7 -2.6l-3.7 -2.5l-3.7 -2.3l-3.6 -2.2l-3.6 -2l-3.6 -1.8l-3.6 -1.6l-3.5 -1.5l-3.5 -1.3M145 220.8l3.6 -5.4l3.6 -5.4l3.6 -5.4l3.7 -5.3l3.7 -5.2l3.7 -5.2l3.7 -5.1l3.7 -5l3.7 -4.9l3.8 -4.8l3.8 -4.7l3.8 -4.6l3.8 -4.5l3.8 -4.4l3.8 -4.3l3.8 -4.2l3.8 -4l3.8 -3.9l3.8 -3.8l3.8 -3.6l3.8 -3.5l3.8 -3.4l3.8 -3.3l3.8 -3.1l3.8 -3l3.8 -2.9l3.8 -2.8l3.8 -2.7l3.8 -2.5l3.8 -2.4l3.8 -2.3l3.8 -2.2l3.8 -2.2l3.8 -2.1l3.7 -2l3.7 -1.9M209.3 224l-3.4 -6.6l-3.4 -6.4l-3.4 -6.2l-3.5 -6l-3.5 -5.8l-3.5 -5.7l-3.5 -5.5l-3.6 -5.3l-3.6 -5.2l-3.6 -5l-3.6 -4.9l-3.6 -4.7l-3.6 -4.6l-3.7 -4.5l-3.7 -4.3l-3.7 -4.2l-3.7 -4.1l-3.7 -3.9l-3.7 -3.8l-3.7 -3.7l-3.7 -3.5l-3.7 -3.4l-3.7 -3.3l-3.7 -3.1l-3.7 -3l-3.7 -2.9l-3.7 -2.7l-3.7 -2.6l-3.7 -2.4l-3.7 -2.3l-3.6 -2.1l-3.6 -1.9l-3.6 -1.8l-3.6 -1.6l-3.5 -1.4l-3.5 -1.2M143.1 217.9l3.6 -5.4l3.6 -5.4l3.6 -5.3l3.7 -5.3l3.7 -5.2l3.7 -5.1l3.7 -5.1l3.7 -5l3.7 -4.9l3.8 -4.8l3.8 -4.7l3.8 -4.6l3.8 -4.5l3.8 -4.4l3.8 -4.2l3.8 -4.1l3.8 -4l3.8 -3.9l3.8 -3.7l3.8 -3.6l3.8 -3.5l3.8 -3.4l3.8 -3.2l3.8 -3.1l3.8 -3l3.8 -2.9l3.8 -2.7l3.8 -2.6l3.8 -2.5l3.8 -2.4l3.8 -2.3l3.8 -2.2l3.8 -2.1l3.8 -2l3.8 -2l3.7 -1.9M211.3 221.1l-3.4 -6.5l-3.4 -6.3l-3.4 -6.1l-3.5 -6l-3.5 -5.8l-3.5 -5.6l-3.5 -5.5l-3.6 -5.3l-3.6 -5.1l-3.6 -5l-3.6 -4.8l-3.6 -4.7l-3.6 -4.6l-3.7 -4.4l-3.7 -4.3l-3.7 -4.1l-3.7 -4l-3.7 -3.9l-3.7 -3.7l-3.7 -3.6l-3.7 -3.5l-3.7 -3.3l-3.7 -3.2l-3.7 -3.1l-3.7 -2.9l-3.7 -2.8l-3.7 -2.7l-3.7 -2.5l-3.7 -2.4l-3.6 -2.2l-3.6 -2.1l-3.6 -1.9l-3.6 -1.7l-3.6 -1.6l-3.5 -1.4l-3.5 -1.2M141.3 214.9l3.6 -5.4l3.6 -5.3l3.6 -5.3l3.7 -5.2l3.7 -5.2l3.7 -5.1l3.7 -5l3.7 -4.9l3.7 -4.8l3.8 -4.7l3.8 -4.6l3.8 -4.5l3.8 -4.4l3.8 -4.3l3.8 -4.2l3.8 -4.1l3.8 -3.9l3.8 -3.8l3.8 -3.7l3.8 -3.6l3.8 -3.4l3.8 -3.3l3.8 -3.2l3.8 -3.1l3.8 -2.9l3.8 -2.8l3.8 -2.7l3.8 -2.6l3.8 -2.5l3.8 -2.4l3.8 -2.3l3.8 -2.2l3.8 -2.1l3.8 -2l3.8 -1.9l3.7 -1.9M213.2 218.3l-3.4 -6.5l-3.4 -6.3l-3.4 -6.1l-3.5 -5.9l-3.5 -5.8l-3.5 -5.6l-3.5 -5.4l-3.6 -5.3l-3.6 -5.1l-3.6 -4.9l-3.6 -4.8l-3.6 -4.7l-3.6 -4.5l-3.7 -4.4l-3.7 -4.2l-3.7 -4.1l-3.7 -4l-3.7 -3.8l-3.7 -3.7l-3.7 -3.6l-3.7 -3.4l-3.7 -3.3l-3.7 -3.2l-3.7 -3l-3.7 -2.9l-3.7 -2.8l-3.7 -2.6l-3.7 -2.5l-3.7 -2.3l-3.6 -2.2l-3.6 -2l-3.6 -1.9l-3.6 -1.7l-3.6 -1.5l-3.6 -1.4l-3.5 -1.2M139.4 212l3.6 -5.3l3.6 -5.3l3.6 -5.2l3.7 -5.2l3.7 -5.1l3.7 -5.1l3.7 -5l3.7 -4.9l3.7 -4.8l3.8 -4.7l3.8 -4.6l3.8 -4.5l3.8 -4.4l3.8 -4.3l3.8 -4.2l3.8 -4l3.8 -3.9l3.8 -3.8l3.8 -3.7l3.8 -3.5l3.8 -3.4l3.8 -3.3l3.8 -3.1l3.8 -3l3.8 -2.9l3.8 -2.8l3.8 -2.7l3.8 -2.5l3.8 -2.4l3.8 -2.3l3.8 -2.2l3.8 -2.1l3.8 -2.1l3.8 -2l3.8 -1.9l3.7 -1.9M215.1 215.6l-3.4 -6.5l-3.4 -6.3l-3.4 -6.1l-3.5 -5.9l-3.5 -5.7l-3.5 -5.5l-3.5 -5.4l-3.6 -5.2l-3.6 -5.1l-3.6 -4.9l-3.6 -4.8l-3.6 -4.6l-3.6 -4.5l-3.7 -4.3l-3.7 -4.2l-3.7 -4l-3.7 -3.9l-3.7 -3.8l-3.7 -3.6l-3.7 -3.5l-3.7 -3.4l-3.7 -3.2l-3.7 -3.1l-3.7 -3l-3.7 -2.8l-3.7 -2.7l-3.7 -2.6l-3.7 -2.4l-3.7 -2.3l-3.6 -2.1l-3.6 -2l-3.6 -1.8l-3.6 -1.7l-3.6 -1.5l-3.6 -1.3l-3.5 -1.2M137.5 209.1l3.6 -5.3l3.6 -5.2l3.6 -5.2l3.7 -5.1l3.7 -5.1l3.7 -5l3.7 -4.9l3.7 -4.9l3.7 -4.8l3.8 -4.7l3.8 -4.6l3.8 -4.5l3.8 -4.3l3.8 -4.2l3.8 -4.1l3.8 -4l3.8 -3.9l3.8 -3.7l3.8 -3.6l3.8 -3.5l3.8 -3.4l3.8 -3.2l3.8 -3.1l3.8 -3l3.8 -2.9l3.8 -2.7l3.8 -2.6l3.8 -2.5l3.8 -2.4l3.8 -2.3l3.8 -2.2l3.8 -2.1l3.8 -2l3.8 -2l3.8 -1.9l3.7 -1.8M217.1 212.8l-3.4 -6.4l-3.4 -6.2l-3.4 -6l-3.5 -5.9l-3.5 -5.7l-3.5 -5.5l-3.5 -5.3l-3.6 -5.2l-3.6 -5l-3.6 -4.9l-3.6 -4.7l-3.6 -4.6l-3.7 -4.4l-3.7 -4.3l-3.7 -4.1l-3.7 -4l-3.7 -3.9l-3.7 -3.7l-3.7 -3.6l-3.7 -3.5l-3.7 -3.3l-3.7 -3.2l-3.7 -3.1l-3.7 -2.9l-3.7 -2.8l-3.7 -2.7l-3.7 -2.5l-3.7 -2.4l-3.7 -2.2l-3.6 -2.1l-3.6 -1.9l-3.6 -1.8l-3.6 -1.6l-3.6 -1.5l-3.6 -1.3l-3.5 -1.1M135.7 206.3l3.6 -5.2l3.6 -5.2l3.6 -5.2l3.7 -5.1l3.7 -5l3.7 -5l3.7 -4.9l3.7 -4.8l3.7 -4.7l3.8 -4.6l3.8 -4.5l3.8 -4.4l3.8 -4.3l3.8 -4.2l3.8 -4.1l3.8 -3.9l3.8 -3.8l3.8 -3.7l3.8 -3.6l3.8 -3.4l3.8 -3.3l3.8 -3.2l3.8 -3.1l3.8 -2.9l3.8 -2.8l3.8 -2.7l3.8 -2.6l3.8 -2.5l3.8 -2.4l3.8 -2.3l3.8 -2.2l3.8 -2.1l3.8 -2l3.8 -1.9l3.8 -1.9l3.7 -1.8M219 210.1l-3.4 -6.4l-3.4 -6.2l-3.4 -6l-3.5 -5.8l-3.5 -5.6l-3.5 -5.5l-3.5 -5.3l-3.6 -5.1l-3.6 -5l-3.6 -4.8l-3.6 -4.7l-3.6 -4.5l-3.7 -4.4l-3.7 -4.2l-3.7 -4.1l-3.7 -4l-3.7 -3.8l-3.7 -3.7l-3.7 -3.5l-3.7 -3.4l-3.7 -3.3l-3.7 -3.1l-3.7 -3l-3.7 -2.9l-3.7 -2.7l-3.7 -2.6l-3.7 -2.5l-3.7 -2.3l-3.7 -2.2l-3.6 -2l-3.6 -1.9l-3.6 -1.7l-3.6 -1.6l-3.6 -1.4l-3.6 -1.3l-3.5 -1.1M133.8 203.5l3.6 -5.2l3.6 -5.2l3.6 -5.1l3.7 -5.1l3.7 -5l3.7 -4.9l3.7 -4.9l3.7 -4.8l3.7 -4.7l3.8 -4.6l3.8 -4.5l3.8 -4.4l3.8 -4.3l3.8 -4.1l3.8 -4l3.8 -3.9l3.8 -3.8l3.8 -3.6l3.8 -3.5l3.8 -3.4l3.8 -3.3l3.8 -3.1l3.8 -3l3.8 -2.9l3.8 -2.8l3.8 -2.7l3.8 -2.5l3.8 -2.4l3.8 -2.3l3.8 -2.2l3.8 -2.1l3.8 -2l3.8 -2l3.8 -1.9l3.8 -1.8l3.7 -1.8M221 207.4l-3.4 -6.3l-3.4 -6.1l-3.4 -6l-3.5 -5.8l-3.5 -5.6l-3.5 -5.4l-3.5 -5.3l-3.6 -5.1l-3.6 -4.9l-3.6 -4.8l-3.6 -4.6l-3.6 -4.5l-3.7 -4.3l-3.7 -4.2l-3.7 -4l-3.7 -3.9l-3.7 -3.8l-3.7 -3.6l-3.7 -3.5l-3.7 -3.4l-3.7 -3.2l-3.7 -3.1l-3.7 -3l-3.7 -2.8l-3.7 -2.7l-3.7 -2.5l-3.7 -2.4l-3.7 -2.3l-3.7 -2.1l-3.6 -2l-3.6 -1.8l-3.6 -1.7l-3.6 -1.6l-3.6 -1.4l-3.6 -1.2l-3.5 -1.1M131.9 200.7l3.6 -5.2l3.6 -5.1l3.6 -5.1l3.7 -5l3.7 -5l3.7 -4.9l3.7 -4.8l3.7 -4.7l3.7 -4.6l3.8 -4.5l3.8 -4.4l3.8 -4.3l3.8 -4.2l3.8 -4.1l3.8 -4l3.8 -3.9l3.8 -3.7l3.8 -3.6l3.8 -3.5l3.8 -3.3l3.8 -3.2l3.8 -3.1l3.8 -3l3.8 -2.8l3.8 -2.7l3.8 -2.6l3.8 -2.5l3.8 -2.4l3.8 -2.3l3.8 -2.2l3.8 -2.1l3.8 -2l3.8 -1.9l3.8 -1.9l3.8 -1.8l3.7 -1.7M223 204.7l-3.4 -6.3l-3.4 -6.1l-3.4 -5.9l-3.5 -5.7l-3.5 -5.6l-3.5 -5.4l-3.5 -5.2l-3.6 -5.1l-3.6 -4.9l-3.6 -4.7l-3.6 -4.6l-3.6 -4.4l-3.7 -4.3l-3.7 -4.1l-3.7 -4l-3.7 -3.9l-3.7 -3.7l-3.7 -3.6l-3.7 -3.4l-3.7 -3.3l-3.7 -3.2l-3.7 -3l-3.7 -2.9l-3.7 -2.8l-3.7 -2.6l-3.7 -2.5l-3.7 -2.4l-3.7 -2.2l-3.7 -2.1l-3.6 -1.9l-3.6 -1.8l-3.6 -1.7l-3.6 -1.5l-3.6 -1.4l-3.6 -1.2l-3.5 -1.1M130 197.9l3.6 -5.1l3.6 -5.1l3.6 -5l3.7 -5l3.7 -4.9l3.7 -4.9l3.7 -4.8l3.7 -4.7l3.7 -4.6l3.8 -4.5l3.8 -4.4l3.8 -4.3l3.8 -4.2l3.8 -4.1l3.8 -3.9l3.8 -3.8l3.8 -3.7l3.8 -3.6l3.8 -3.4l3.8 -3.3l3.8 -3.2l3.8 -3.1l3.8 -2.9l3.8 -2.8l3.8 -2.7l3.8 -2.6l3.8 -2.5l3.8 -2.3l3.8 -2.2l3.8 -2.1l3.8 -2.1l3.8 -2l3.8 -1.9l3.8 -1.8l3.8 -1.8l3.7 -1.7M224.9 202.1l-3.4 -6.2l-3.4 -6.1l-3.4 -5.9l-3.5 -5.7l-3.5 -5.5l-3.5 -5.3l-3.5 -5.2l-3.6 -5l-3.6 -4.9l-3.6 -4.7l-3.6 -4.5l-3.6 -4.4l-3.7 -4.2l-3.7 -4.1l-3.7 -4l-3.7 -3.8l-3.7 -3.7l-3.7 -3.5l-3.7 -3.4l-3.7 -3.3l-3.7 -3.1l-3.7 -3l-3.7 -2.9l-3.7 -2.7l-3.7 -2.6l-3.7 -2.4l-3.7 -2.3l-3.7 -2.2l-3.7 -2l-3.6 -1.9l-3.6 -1.8l-3.6 -1.6l-3.6 -1.5l-3.6 -1.3l-3.6 -1.2l-3.5 -1M128.2 195.2l3.6 -5.1l3.6 -5l3.6 -5l3.7 -4.9l3.7 -4.9l3.7 -4.8l3.7 -4.7l3.7 -4.6l3.7 -4.5l3.8 -4.5l3.8 -4.3l3.8 -4.2l3.8 -4.1l3.8 -4l3.8 -3.9l3.8 -3.8l3.8 -3.6l3.8 -3.5l3.8 -3.4l3.8 -3.3l3.8 -3.1l3.8 -3l3.8 -2.9l3.8 -2.8l3.8 -2.6l3.8 -2.5l3.8 -2.4l3.8 -2.3l3.8 -2.2l3.8 -2.1l3.8 -2l3.8 -1.9l3.8 -1.9l3.8 -1.8l3.8 -1.7l3.7 -1.7M226.9 199.5l-3.4 -6.2l-3.4 -6l-3.4 -5.8l-3.5 -5.7l-3.5 -5.5l-3.5 -5.3l-3.5 -5.1l-3.6 -5l-3.6 -4.8l-3.6 -4.7l-3.6 -4.5l-3.6 -4.4l-3.7 -4.2l-3.7 -4.1l-3.7 -3.9l-3.7 -3.8l-3.7 -3.6l-3.7 -3.5l-3.7 -3.3l-3.7 -3.2l-3.7 -3.1l-3.7 -2.9l-3.7 -2.8l-3.7 -2.7l-3.7 -2.5l-3.7 -2.4l-3.7 -2.3l-3.7 -2.1l-3.7 -2l-3.6 -1.9l-3.6 -1.7l-3.6 -1.6l-3.6 -1.4l-3.6 -1.3l-3.6 -1.1l-3.5 -1M126.3 192.5l3.6 -5l3.6 -5l3.6 -5l3.7 -4.9l3.7 -4.8l3.7 -4.8l3.7 -4.7l3.7 -4.6l3.7 -4.5l3.8 -4.4l3.8 -4.3l3.8 -4.2l3.8 -4.1l3.8 -4l3.8 -3.8l3.8 -3.7l3.8 -3.6l3.8 -3.5l3.8 -3.3l3.8 -3.2l3.8 -3.1l3.8 -3l3.8 -2.8l3.8 -2.7l3.8 -2.6l3.8 -2.5l3.8 -2.4l3.8 -2.3l3.8 -2.2l3.8 -2.1l3.8 -2l3.8 -1.9l3.8 -1.8l3.8 -1.8l3.8 -1.7l3.7 -1.7M228.8 196.9l-3.4 -6.2l-3.4 -6l-3.4 -5.8l-3.5 -5.6l-3.5 -5.4l-3.5 -5.3l-3.5 -5.1l-3.6 -4.9l-3.6 -4.8l-3.6 -4.6l-3.6 -4.5l-3.6 -4.3l-3.7 -4.2l-3.7 -4l-3.7 -3.9l-3.7 -3.7l-3.7 -3.6l-3.7 -3.4l-3.7 -3.3l-3.7 -3.2l-3.7 -3l-3.7 -2.9l-3.7 -2.7l-3.7 -2.6l-3.7 -2.5l-3.7 -2.3l-3.7 -2.2l-3.7 -2.1l-3.7 -1.9l-3.6 -1.8l-3.6 -1.7l-3.6 -1.5l-3.6 -1.4l-3.6 -1.3l-3.6 -1.1l-3.5 -1M124.4 189.9l3.6 -5l3.6 -5l3.6 -4.9l3.7 -4.9l3.7 -4.8l3.7 -4.7l3.7 -4.6l3.7 -4.6l3.7 -4.5l3.8 -4.4l3.8 -4.3l3.8 -4.1l3.8 -4l3.8 -3.9l3.8 -3.8l3.8 -3.7l3.8 -3.5l3.8 -3.4l3.8 -3.3l3.8 -3.2l3.8 -3l3.8 -2.9l3.8 -2.8l3.8 -2.7l3.8 -2.6l3.8 -2.4l3.8 -2.3l3.8 -2.2l3.8 -2.1l3.8 -2l3.8 -1.9l3.8 -1.9l3.8 -1.8l3.8 -1.7l3.8 -1.7l3.7 -1.6M230.8 194.4l-3.4 -6.1l-3.4 -5.9l-3.4 -5.8l-3.5 -5.6l-3.5 -5.4l-3.5 -5.2l-3.5 -5.1l-3.6 -4.9l-3.6 -4.7l-3.6 -4.6l-3.6 -4.4l-3.6 -4.3l-3.7 -4.1l-3.7 -4l-3.7 -3.8l-3.7 -3.7l-3.7 -3.5l-3.7 -3.4l-3.7 -3.2l-3.7 -3.1l-3.7 -3l-3.7 -2.8l-3.7 -2.7l-3.7 -2.6l-3.7 -2.4l-3.7 -2.3l-3.7 -2.2l-3.7 -2l-3.7 -1.9l-3.6 -1.8l-3.6 -1.6l-3.6 -1.5l-3.6 -1.4l-3.6 -1.2l-3.6 -1.1l-3.5 -0.9M122.5 187.3l3.6 -5l3.6 -4.9l3.6 -4.9l3.7 -4.8l3.7 -4.7l3.7 -4.7l3.7 -4.6l3.7 -4.5l3.7 -4.4l3.8 -4.3l3.8 -4.2l3.8 -4.1l3.8 -4l3.8 -3.9l3.8 -3.7l3.8 -3.6l3.8 -3.5l3.8 -3.4l3.8 -3.2l3.8 -3.1l3.8 -3l3.8 -2.9l3.8 -2.7l3.8 -2.6l3.8 -2.5l3.8 -2.4l3.8 -2.3l3.8 -2.2l3.8 -2.1l3.8 -2l3.8 -1.9l3.8 -1.8l3.8 -1.8l3.8 -1.7l3.8 -1.6l3.7 -1.6M232.8 191.9l-3.4 -6.1l-3.4 -5.9l-3.4 -5.7l-3.5 -5.5l-3.5 -5.4l-3.5 -5.2l-3.5 -5l-3.6 -4.9l-3.6 -4.7l-3.6 -4.5l-3.6 -4.4l-3.6 -4.2l-3.7 -4.1l-3.7 -3.9l-3.7 -3.8l-3.7 -3.6l-3.7 -3.5l-3.7 -3.3l-3.7 -3.2l-3.7 -3.1l-3.7 -2.9l-3.7 -2.8l-3.7 -2.6l-3.7 -2.5l-3.7 -2.4l-3.7 -2.2l-3.7 -2.1l-3.7 -2l-3.7 -1.8l-3.6 -1.7l-3.6 -1.6l-3.6 -1.4l-3.6 -1.3l-3.6 -1.2l-3.6 -1.1l-3.5 -0.9M120.6 184.7l3.6 -4.9l3.6 -4.9l3.6 -4.8l3.7 -4.8l3.7 -4.7l3.7 -4.6l3.7 -4.6l3.7 -4.5l3.7 -4.4l3.8 -4.3l3.8 -4.2l3.8 -4.1l3.8 -3.9l3.8 -3.8l3.8 -3.7l3.8 -3.6l3.8 -3.5l3.8 -3.3l3.8 -3.2l3.8 -3.1l3.8 -2.9l3.8 -2.8l3.8 -2.7l3.8 -2.6l3.8 -2.5l3.8 -2.4l3.8 -2.2l3.8 -2.1l3.8 -2l3.8 -1.9l3.8 -1.9l3.8 -1.8l3.8 -1.7l3.8 -1.7l3.8 -1.6l3.7 -1.6M234.7 189.4l-3.4 -6l-3.4 -5.9l-3.4 -5.7l-3.5 -5.5l-3.5 -5.3l-3.5 -5.2l-3.5 -5l-3.6 -4.8l-3.6 -4.7l-3.6 -4.5l-3.6 -4.3l-3.6 -4.2l-3.7 -4l-3.7 -3.9l-3.7 -3.7l-3.7 -3.6l-3.7 -3.4l-3.7 -3.3l-3.7 -3.1l-3.7 -3l-3.7 -2.9l-3.7 -2.7l-3.7 -2.6l-3.7 -2.5l-3.7 -2.3l-3.7 -2.2l-3.7 -2.1l-3.7 -1.9l-3.7 -1.8l-3.6 -1.7l-3.6 -1.5l-3.6 -1.4l-3.6 -1.3l-3.6 -1.1l-3.6 -1l-3.5 -0.9M118.7 182.1l3.6 -4.9l3.6 -4.8l3.6 -4.8l3.7 -4.7l3.7 -4.7l3.7 -4.6l3.7 -4.5l3.7 -4.4l3.7 -4.3l3.8 -4.2l3.8 -4.1l3.8 -4l3.8 -3.9l3.8 -3.8l3.8 -3.7l3.8 -3.5l3.8 -3.4l3.8 -3.3l3.8 -3.2l3.8 -3l3.8 -2.9l3.8 -2.8l3.8 -2.7l3.8 -2.5l3.8 -2.4l3.8 -2.3l3.8 -2.2l3.8 -2.1l3.8 -2l3.8 -1.9l3.8 -1.8l3.8 -1.7l3.8 -1.7l3.8 -1.6l3.8 -1.6l3.7 -1.5M236.7 187l-3.4 -6l-3.4 -5.8l-3.4 -5.6l-3.5 -5.5l-3.5 -5.3l-3.5 -5.1l-3.5 -4.9l-3.6 -4.8l-3.6 -4.6l-3.6 -4.4l-3.6 -4.3l-3.6 -4.1l-3.7 -4l-3.7 -3.8l-3.7 -3.7l-3.7 -3.5l-3.7 -3.4l-3.7 -3.2l-3.7 -3.1l-3.7 -3l-3.7 -2.8l-3.7 -2.7l-3.7 -2.5l-3.7 -2.4l-3.7 -2.3l-3.7 -2.1l-3.7 -2l-3.7 -1.9l-3.7 -1.7l-3.6 -1.6l-3.6 -1.5l-3.6 -1.4l-3.6 -1.2l-3.6 -1.1l-3.6 -1l-3.5 -0.9M116.8 179.6l3.6 -4.8l3.6 -4.8l3.6 -4.7l3.7 -4.7l3.7 -4.6l3.7 -4.5l3.7 -4.5l3.7 -4.4l3.7 -4.3l3.8 -4.2l3.8 -4.1l3.8 -4l3.8 -3.8l3.8 -3.7l3.8 -3.6l3.8 -3.5l3.8 -3.4l3.8 -3.2l3.8 -3.1l3.8 -3l3.8 -2.9l3.8 -2.7l3.8 -2.6l3.8 -2.5l3.8 -2.4l3.8 -2.3l3.8 -2.2l3.8 -2.1l3.8 -2l3.8 -1.9l3.8 -1.8l3.8 -1.7l3.8 -1.6l3.8 -1.6l3.7 -1.5l3.7 -1.5M238.7 184.6l-3.4 -6l-3.4 -5.8l-3.4 -5.6l-3.5 -5.4l-3.5 -5.2l-3.5 -5.1l-3.5 -4.9l-3.6 -4.7l-3.6 -4.6l-3.6 -4.4l-3.6 -4.2l-3.6 -4.1l-3.7 -3.9l-3.7 -3.8l-3.7 -3.6l-3.7 -3.5l-3.7 -3.3l-3.7 -3.2l-3.7 -3l-3.7 -2.9l-3.7 -2.8l-3.7 -2.6l-3.7 -2.5l-3.7 -2.4l-3.7 -2.2l-3.7 -2.1l-3.7 -2l-3.7 -1.8l-3.7 -1.7l-3.6 -1.6l-3.6 -1.4l-3.6 -1.3l-3.6 -1.2l-3.6 -1.1l-3.6 -1l-3.5 -0.8M114.9 177.1l3.6 -4.8l3.6 -4.7l3.6 -4.7l3.7 -4.6l3.7 -4.6l3.7 -4.5l3.7 -4.4l3.7 -4.3l3.7 -4.2l3.8 -4.1l3.8 -4l3.8 -3.9l3.8 -3.8l3.8 -3.7l3.8 -3.6l3.8 -3.4l3.8 -3.3l3.8 -3.2l3.8 -3.1l3.8 -2.9l3.8 -2.8l3.8 -2.7l3.8 -2.6l3.8 -2.4l3.8 -2.3l3.8 -2.2l3.8 -2.1l3.8 -2l3.8 -1.9l3.8 -1.8l3.8 -1.7l3.8 -1.7l3.8 -1.6l3.8 -1.5l3.7 -1.5l3.7 -1.5M240.7 182.2l-3.4 -5.9l-3.4 -5.7l-3.4 -5.6l-3.5 -5.4l-3.5 -5.2l-3.5 -5l-3.5 -4.9l-3.6 -4.7l-3.6 -4.5l-3.6 -4.4l-3.6 -4.2l-3.6 -4l-3.7 -3.9l-3.7 -3.7l-3.7 -3.6l-3.7 -3.4l-3.7 -3.3l-3.7 -3.1l-3.7 -3l-3.7 -2.9l-3.7 -2.7l-3.7 -2.6l-3.7 -2.4l-3.7 -2.3l-3.7 -2.2l-3.7 -2l-3.7 -1.9l-3.7 -1.8l-3.7 -1.7l-3.6 -1.5l-3.6 -1.4l-3.6 -1.3l-3.6 -1.2l-3.6 -1l-3.6 -0.9l-3.5 -0.8M113 174.6l3.6 -4.7l3.6 -4.7l3.6 -4.6l3.7 -4.6l3.7 -4.5l3.7 -4.4l3.7 -4.4l3.7 -4.3l3.7 -4.2l3.8 -4.1l3.8 -4l3.8 -3.9l3.8 -3.7l3.8 -3.6l3.8 -3.5l3.8 -3.4l3.8 -3.3l3.8 -3.1l3.8 -3l3.8 -2.9l3.8 -2.8l3.8 -2.6l3.8 -2.5l3.8 -2.4l3.8 -2.3l3.8 -2.2l3.8 -2.1l3.8 -2l3.8 -1.9l3.8 -1.8l3.8 -1.7l3.8 -1.6l3.8 -1.6l3.8 -1.5l3.7 -1.5l3.7 -1.4M242.6 179.9l-3.4 -5.9l-3.4 -5.7l-3.4 -5.5l-3.5 -5.3l-3.5 -5.2l-3.5 -5l-3.5 -4.8l-3.6 -4.7l-3.6 -4.5l-3.6 -4.3l-3.6 -4.2l-3.6 -4l-3.7 -3.8l-3.7 -3.7l-3.7 -3.5l-3.7 -3.4l-3.7 -3.2l-3.7 -3.1l-3.7 -2.9l-3.7 -2.8l-3.7 -2.7l-3.7 -2.5l-3.7 -2.4l-3.7 -2.2l-3.7 -2.1l-3.7 -2l-3.7 -1.9l-3.7 -1.7l-3.7 -1.6l-3.6 -1.5l-3.6 -1.4l-3.6 -1.2l-3.6 -1.1l-3.6 -1l-3.6 -0.9l-3.5 -0.8M111.1 172.2l3.6 -4.7l3.6 -4.6l3.6 -4.6l3.7 -4.5l3.7 -4.5l3.7 -4.4l3.7 -4.3l3.7 -4.2l3.7 -4.1l3.8 -4l3.8 -3.9l3.8 -3.8l3.8 -3.7l3.8 -3.6l3.8 -3.5l3.8 -3.3l3.8 -3.2l3.8 -3.1l3.8 -3l3.8 -2.8l3.8 -2.7l3.8 -2.6l3.8 -2.5l3.8 -2.3l3.8 -2.2l3.8 -2.1l3.8 -2l3.8 -1.9l3.8 -1.8l3.8 -1.7l3.8 -1.7l3.8 -1.6l3.8 -1.5l3.8 -1.5l3.7 -1.4l3.7 -1.4M244.6 177.5l-3.4 -5.8l-3.4 -5.7l-3.4 -5.5l-3.5 -5.3l-3.5 -5.1l-3.5 -5l-3.5 -4.8l-3.6 -4.6l-3.6 -4.4l-3.6 -4.3l-3.6 -4.1l-3.6 -4l-3.7 -3.8l-3.7 -3.6l-3.7 -3.5l-3.7 -3.3l-3.7 -3.2l-3.7 -3l-3.7 -2.9l-3.7 -2.7l-3.7 -2.6l-3.7 -2.5l-3.7 -2.3l-3.7 -2.2l-3.7 -2.1l-3.7 -1.9l-3.7 -1.8l-3.7 -1.7l-3.7 -1.6l-3.6 -1.4l-3.6 -1.3l-3.6 -1.2l-3.6 -1.1l-3.6 -1l-3.6 -0.9l-3.5 -0.8M109.2 169.8l3.6 -4.6l3.6 -4.6l3.6 -4.6l3.7 -4.5l3.7 -4.4l3.7 -4.4l3.7 -4.3l3.7 -4.2l3.7 -4.1l3.8 -4l3.8 -3.9l3.8 -3.8l3.8 -3.6l3.8 -3.5l3.8 -3.4l3.8 -3.3l3.8 -3.2l3.8 -3l3.8 -2.9l3.8 -2.8l3.8 -2.7l3.8 -2.5l3.8 -2.4l3.8 -2.3l3.8 -2.2l3.8 -2.1l3.8 -2l3.8 -1.9l3.8 -1.8l3.8 -1.7l3.8 -1.6l3.8 -1.5l3.8 -1.5l3.8 -1.4l3.7 -1.4l3.7 -1.4M246.6 175.3l-3.4 -5.8l-3.4 -5.6l-3.4 -5.4l-3.5 -5.3l-3.5 -5.1l-3.5 -4.9l-3.5 -4.7l-3.6 -4.6l-3.6 -4.4l-3.6 -4.2l-3.6 -4.1l-3.6 -3.9l-3.7 -3.8l-3.7 -3.6l-3.7 -3.4l-3.7 -3.3l-3.7 -3.1l-3.7 -3l-3.7 -2.8l-3.7 -2.7l-3.7 -2.6l-3.7 -2.4l-3.7 -2.3l-3.7 -2.1l-3.7 -2l-3.7 -1.9l-3.7 -1.8l-3.7 -1.6l-3.7 -1.5l-3.6 -1.4l-3.6 -1.3l-3.6 -1.2l-3.6 -1l-3.6 -0.9l-3.6 -0.8l-3.5 -0.7M107.3 167.4l3.6 -4.6l3.6 -4.6l3.6 -4.5l3.7 -4.4l3.7 -4.4l3.7 -4.3l3.7 -4.2l3.7 -4.1l3.7 -4l3.8 -3.9l3.8 -3.8l3.8 -3.7l3.8 -3.6l3.8 -3.5l3.8 -3.4l3.8 -3.2l3.8 -3.1l3.8 -3l3.8 -2.9l3.8 -2.7l3.8 -2.6l3.8 -2.5l3.8 -2.4l3.8 -2.2l3.8 -2.1l3.8 -2l3.8 -1.9l3.8 -1.8l3.8 -1.7l3.8 -1.7l3.8 -1.6l3.8 -1.5l3.8 -1.4l3.8 -1.4l3.7 -1.4l3.7 -1.3M248.6 173l-3.4 -5.8l-3.4 -5.6l-3.4 -5.4l-3.5 -5.2l-3.5 -5l-3.5 -4.9l-3.5 -4.7l-3.6 -4.5l-3.6 -4.4l-3.6 -4.2l-3.6 -4l-3.6 -3.9l-3.7 -3.7l-3.7 -3.6l-3.7 -3.4l-3.7 -3.2l-3.7 -3.1l-3.7 -2.9l-3.7 -2.8l-3.7 -2.6l-3.7 -2.5l-3.7 -2.4l-3.7 -2.2l-3.7 -2.1l-3.7 -2l-3.7 -1.8l-3.7 -1.7l-3.7 -1.6l-3.7 -1.5l-3.6 -1.3l-3.6 -1.2l-3.6 -1.1l-3.6 -1l-3.6 -0.9l-3.6 -0.8l-3.5 -0.7M105.4 165.1l3.6 -4.5l3.6 -4.5l3.6 -4.5l3.7 -4.4l3.7 -4.3l3.7 -4.3l3.7 -4.2l3.7 -4.1l3.7 -4l3.8 -3.9l3.8 -3.8l3.8 -3.7l3.8 -3.5l3.8 -3.4l3.8 -3.3l3.8 -3.2l3.8 -3.1l3.8 -2.9l3.8 -2.8l3.8 -2.7l3.8 -2.6l3.8 -2.4l3.8 -2.3l3.8 -2.2l3.8 -2.1l3.8 -2l3.8 -1.9l3.8 -1.8l3.8 -1.7l3.8 -1.6l3.8 -1.5l3.8 -1.5l3.8 -1.4l3.8 -1.4l3.7 -1.3l3.7 -1.3M250.6 170.8l-3.4 -5.7l-3.4 -5.5l-3.4 -5.4l-3.5 -5.2l-3.5 -5l-3.5 -4.8l-3.5 -4.7l-3.6 -4.5l-3.6 -4.3l-3.6 -4.2l-3.6 -4l-3.6 -3.8l-3.7 -3.7l-3.7 -3.5l-3.7 -3.3l-3.7 -3.2l-3.7 -3l-3.7 -2.9l-3.7 -2.7l-3.7 -2.6l-3.7 -2.5l-3.7 -2.3l-3.7 -2.2l-3.7 -2l-3.7 -1.9l-3.7 -1.8l-3.7 -1.7l-3.7 -1.5l-3.7 -1.4l-3.6 -1.3l-3.6 -1.2l-3.6 -1.1l-3.6 -1l-3.6 -0.9l-3.6 -0.8l-3.5 -0.7M103.4 162.7l3.6 -4.5l3.6 -4.5l3.6 -4.4l3.7 -4.4l3.7 -4.3l3.7 -4.2l3.7 -4.1l3.7 -4l3.7 -3.9l3.8 -3.8l3.8 -3.7l3.8 -3.6l3.8 -3.5l3.8 -3.4l3.8 -3.3l3.8 -3.1l3.8 -3l3.8 -2.9l3.8 -2.8l3.8 -2.6l3.8 -2.5l3.8 -2.4l3.8 -2.3l3.8 -2.1l3.8 -2l3.8 -1.9l3.8 -1.8l3.8 -1.7l3.8 -1.6l3.8 -1.6l3.8 -1.5l3.8 -1.4l3.8 -1.4l3.8 -1.3l3.7 -1.3l3.7 -1.3M252.5 168.7l-3.4 -5.7l-3.4 -5.5l-3.4 -5.3l-3.5 -5.1l-3.5 -5l-3.5 -4.8l-3.5 -4.6l-3.6 -4.5l-3.6 -4.3l-3.6 -4.1l-3.6 -3.9l-3.6 -3.8l-3.7 -3.6l-3.7 -3.5l-3.7 -3.3l-3.7 -3.1l-3.7 -3l-3.7 -2.8l-3.7 -2.7l-3.7 -2.5l-3.7 -2.4l-3.7 -2.3l-3.7 -2.1l-3.7 -2l-3.7 -1.9l-3.7 -1.7l-3.7 -1.6l-3.7 -1.5l-3.7 -1.4l-3.6 -1.2l-3.6 -1.1l-3.6 -1l-3.6 -0.9l-3.6 -0.8l-3.6 -0.7l-3.5 -0.6M101.5 160.5l3.6 -4.5l3.6 -4.4l3.6 -4.4l3.7 -4.3l3.7 -4.2l3.7 -4.2l3.7 -4.1l3.7 -4l3.7 -3.9l3.8 -3.8l3.8 -3.7l3.8 -3.6l3.8 -3.4l3.8 -3.3l3.8 -3.2l3.8 -3.1l3.8 -3l3.8 -2.8l3.8 -2.7l3.8 -2.6l3.8 -2.5l3.8 -2.3l3.8 -2.2l3.8 -2.1l3.8 -2l3.8 -1.9l3.8 -1.8l3.8 -1.7l3.8 -1.6l3.8 -1.5l3.8 -1.4l3.8 -1.4l3.8 -1.3l3.7 -1.3l3.7 -1.2l3.7 -1.2M254.5 166.5l-3.4 -5.6l-3.4 -5.5l-3.4 -5.3l-3.5 -5.1l-3.5 -4.9l-3.5 -4.8l-3.5 -4.6l-3.6 -4.4l-3.6 -4.2l-3.6 -4.1l-3.6 -3.9l-3.6 -3.7l-3.7 -3.6l-3.7 -3.4l-3.7 -3.3l-3.7 -3.1l-3.7 -2.9l-3.7 -2.8l-3.7 -2.6l-3.7 -2.5l-3.7 -2.4l-3.7 -2.2l-3.7 -2.1l-3.7 -1.9l-3.7 -1.8l-3.7 -1.7l-3.7 -1.6l-3.7 -1.4l-3.7 -1.3l-3.6 -1.2l-3.6 -1.1l-3.6 -1l-3.6 -0.9l-3.6 -0.8l-3.6 -0.7l-3.5 -0.6M99.6 158.2l3.6 -4.4l3.6 -4.4l3.6 -4.3l3.7 -4.3l3.7 -4.2l3.7 -4.1l3.7 -4l3.7 -3.9l3.7 -3.8l3.8 -3.7l3.8 -3.6l3.8 -3.5l3.8 -3.4l3.8 -3.3l3.8 -3.2l3.8 -3l3.8 -2.9l3.8 -2.8l3.8 -2.7l3.8 -2.5l3.8 -2.4l3.8 -2.3l3.8 -2.2l3.8 -2l3.8 -1.9l3.8 -1.8l3.8 -1.7l3.8 -1.6l3.8 -1.6l3.8 -1.5l3.8 -1.4l3.8 -1.3l3.8 -1.3l3.7 -1.2l3.7 -1.2l3.7 -1.2M256.5 164.4l-3.4 -5.6l-3.4 -5.4l-3.4 -5.2l-3.5 -5.1l-3.5 -4.9l-3.5 -4.7l-3.5 -4.5l-3.6 -4.4l-3.6 -4.2l-3.6 -4l-3.6 -3.9l-3.6 -3.7l-3.7 -3.5l-3.7 -3.4l-3.7 -3.2l-3.7 -3.1l-3.7 -2.9l-3.7 -2.7l-3.7 -2.6l-3.7 -2.4l-3.7 -2.3l-3.7 -2.2l-3.7 -2l-3.7 -1.9l-3.7 -1.8l-3.7 -1.6l-3.7 -1.5l-3.7 -1.4l-3.7 -1.3l-3.6 -1.2l-3.6 -1.1l-3.6 -0.9l-3.6 -0.8l-3.6 -0.8l-3.6 -0.7l-3.5 -0.6M97.7 156l3.6 -4.4l3.6 -4.3l3.6 -4.3l3.7 -4.2l3.7 -4.1l3.7 -4.1l3.7 -4l3.7 -3.9l3.7 -3.8l3.8 -3.7l3.8 -3.6l3.8 -3.5l3.8 -3.3l3.8 -3.2l3.8 -3.1l3.8 -3l3.8 -2.8l3.8 -2.7l3.8 -2.6l3.8 -2.5l3.8 -2.4l3.8 -2.2l3.8 -2.1l3.8 -2l3.8 -1.9l3.8 -1.8l3.8 -1.7l3.8 -1.6l3.8 -1.5l3.8 -1.4l3.8 -1.4l3.8 -1.3l3.8 -1.2l3.7 -1.2l3.7 -1.2l3.7 -1.1M258.5 162.4l-3.3 -5.6l-3.4 -5.4l-3.4 -5.2l-3.5 -5l-3.5 -4.9l-3.5 -4.7l-3.5 -4.5l-3.6 -4.3l-3.6 -4.2l-3.6 -4l-3.6 -3.8l-3.6 -3.7l-3.7 -3.5l-3.7 -3.3l-3.7 -3.2l-3.7 -3l-3.7 -2.8l-3.7 -2.7l-3.7 -2.5l-3.7 -2.4l-3.7 -2.2l-3.7 -2.1l-3.7 -2l-3.7 -1.8l-3.7 -1.7l-3.7 -1.6l-3.7 -1.5l-3.7 -1.3l-3.7 -1.2l-3.6 -1.1l-3.6 -1l-3.6 -0.9l-3.6 -0.8l-3.6 -0.7l-3.6 -0.6l-3.5 -0.6M95.8 153.8l3.6 -4.3l3.6 -4.3l3.6 -4.2l3.7 -4.2l3.7 -4.1l3.7 -4l3.7 -3.9l3.7 -3.8l3.7 -3.7l3.8 -3.6l3.8 -3.5l3.8 -3.4l3.8 -3.3l3.8 -3.2l3.8 -3l3.8 -2.9l3.8 -2.8l3.8 -2.7l3.8 -2.5l3.8 -2.4l3.8 -2.3l3.8 -2.2l3.8 -2.1l3.8 -1.9l3.8 -1.8l3.8 -1.7l3.8 -1.6l3.8 -1.5l3.8 -1.5l3.8 -1.4l3.8 -1.3l3.8 -1.3l3.8 -1.2l3.7 -1.2l3.7 -1.1l3.7 -1.1M260.4 160.3l-3.3 -5.5l-3.4 -5.3l-3.4 -5.2l-3.5 -5l-3.5 -4.8l-3.5 -4.6l-3.5 -4.5l-3.6 -4.3l-3.6 -4.1l-3.6 -3.9l-3.6 -3.8l-3.6 -3.6l-3.7 -3.4l-3.7 -3.3l-3.7 -3.1l-3.7 -3l-3.7 -2.8l-3.7 -2.6l-3.7 -2.5l-3.7 -2.3l-3.7 -2.2l-3.7 -2.1l-3.7 -1.9l-3.7 -1.8l-3.7 -1.7l-3.7 -1.5l-3.7 -1.4l-3.7 -1.3l-3.7 -1.2l-3.6 -1.1l-3.6 -1l-3.6 -0.9l-3.6 -0.8l-3.6 -0.7l-3.6 -0.6l-3.5 -0.5M93.9 151.7l3.6 -4.3l3.6 -4.2l3.7 -4.2l3.7 -4.1l3.7 -4l3.7 -4l3.7 -3.9l3.7 -3.8l3.7 -3.7l3.8 -3.6l3.8 -3.5l3.8 -3.4l3.8 -3.2l3.8 -3.1l3.8 -3l3.8 -2.9l3.8 -2.7l3.8 -2.6l3.8 -2.5l3.8 -2.4l3.8 -2.2l3.8 -2.1l3.8 -2l3.8 -1.9l3.8 -1.8l3.8 -1.7l3.8 -1.6l3.8 -1.5l3.8 -1.4l3.8 -1.3l3.8 -1.3l3.8 -1.2l3.8 -1.2l3.7 -1.1l3.7 -1.1l3.7 -1.1M262.4 158.3l-3.3 -5.5l-3.4 -5.3l-3.4 -5.1l-3.5 -5l-3.5 -4.8l-3.5 -4.6l-3.5 -4.4l-3.6 -4.3l-3.6 -4.1l-3.6 -3.9l-3.6 -3.7l-3.6 -3.6l-3.7 -3.4l-3.7 -3.2l-3.7 -3.1l-3.7 -2.9l-3.7 -2.8l-3.7 -2.6l-3.7 -2.4l-3.7 -2.3l-3.7 -2.1l-3.7 -2l-3.7 -1.9l-3.7 -1.7l-3.7 -1.6l-3.7 -1.5l-3.7 -1.4l-3.7 -1.2l-3.7 -1.1l-3.6 -1l-3.6 -0.9l-3.6 -0.8l-3.6 -0.7l-3.6 -0.7l-3.6 -0.6l-3.5 -0.5M91.9 149.6l3.6 -4.2l3.6 -4.2l3.7 -4.1l3.7 -4.1l3.7 -4l3.7 -3.9l3.7 -3.8l3.7 -3.7l3.7 -3.6l3.8 -3.5l3.8 -3.4l3.8 -3.3l3.8 -3.2l3.8 -3.1l3.8 -2.9l3.8 -2.8l3.8 -2.7l3.8 -2.6l3.8 -2.4l3.8 -2.3l3.8 -2.2l3.8 -2.1l3.8 -2l3.8 -1.8l3.8 -1.7l3.8 -1.6l3.8 -1.5l3.8 -1.5l3.8 -1.4l3.8 -1.3l3.8 -1.2l3.8 -1.2l3.8 -1.1l3.7 -1.1l3.7 -1.1l3.7 -1M264.4 156.4l-3.3 -5.4l-3.4 -5.3l-3.4 -5.1l-3.5 -4.9l-3.5 -4.7l-3.5 -4.6l-3.5 -4.4l-3.6 -4.2l-3.6 -4l-3.6 -3.9l-3.6 -3.7l-3.6 -3.5l-3.7 -3.4l-3.7 -3.2l-3.7 -3l-3.7 -2.9l-3.7 -2.7l-3.7 -2.5l-3.7 -2.4l-3.7 -2.2l-3.7 -2.1l-3.7 -2l-3.7 -1.8l-3.7 -1.7l-3.7 -1.6l-3.7 -1.4l-3.7 -1.3l-3.7 -1.2l-3.7 -1.1l-3.6 -1l-3.6 -0.9l-3.6 -0.8l-3.6 -0.7l-3.6 -0.6l-3.6 -0.5l-3.5 -0.5M90 147.5l3.6 -4.2l3.6 -4.1l3.7 -4.1l3.7 -4l3.7 -3.9l3.7 -3.9l3.7 -3.8l3.7 -3.7l3.7 -3.6l3.8 -3.5l3.8 -3.4l3.8 -3.3l3.8 -3.1l3.8 -3l3.8 -2.9l3.8 -2.8l3.8 -2.6l3.8 -2.5l3.8 -2.4l3.8 -2.3l3.8 -2.1l3.8 -2l3.8 -1.9l3.8 -1.8l3.8 -1.7l3.8 -1.6l3.8 -1.5l3.8 -1.4l3.8 -1.3l3.8 -1.2l3.8 -1.2l3.8 -1.1l3.8 -1.1l3.7 -1l3.7 -1l3.7 -1M266.4 154.5l-3.3 -5.4l-3.4 -5.2l-3.4 -5.1l-3.5 -4.9l-3.5 -4.7l-3.5 -4.5l-3.5 -4.3l-3.6 -4.2l-3.6 -4l-3.6 -3.8l-3.6 -3.7l-3.6 -3.5l-3.7 -3.3l-3.7 -3.1l-3.7 -3l-3.7 -2.8l-3.7 -2.7l-3.7 -2.5l-3.7 -2.3l-3.7 -2.2l-3.7 -2.1l-3.7 -1.9l-3.7 -1.8l-3.7 -1.6l-3.7 -1.5l-3.7 -1.4l-3.7 -1.3l-3.7 -1.1l-3.7 -1l-3.6 -0.9l-3.6 -0.8l-3.6 -0.7l-3.6 -0.7l-3.6 -0.6l-3.6 -0.5l-3.5 -0.5M88.1 145.4l3.6 -4.1l3.6 -4.1l3.7 -4l3.7 -4l3.7 -3.9l3.7 -3.8l3.7 -3.7l3.7 -3.6l3.7 -3.5l3.8 -3.4l3.8 -3.3l3.8 -3.2l3.8 -3.1l3.8 -3l3.8 -2.8l3.8 -2.7l3.8 -2.6l3.8 -2.5l3.8 -2.3l3.8 -2.2l3.8 -2.1l3.8 -2l3.8 -1.9l3.8 -1.7l3.8 -1.6l3.8 -1.5l3.8 -1.4l3.8 -1.4l3.8 -1.3l3.8 -1.2l3.8 -1.1l3.8 -1.1l3.8 -1l3.7 -1l3.7 -1l3.7 -1M268.3 152.6l-3.3 -5.4l-3.4 -5.2l-3.4 -5l-3.5 -4.8l-3.5 -4.7l-3.5 -4.5l-3.5 -4.3l-3.6 -4.1l-3.6 -4l-3.6 -3.8l-3.6 -3.6l-3.6 -3.4l-3.7 -3.3l-3.7 -3.1l-3.7 -2.9l-3.7 -2.8l-3.7 -2.6l-3.7 -2.5l-3.7 -2.3l-3.7 -2.1l-3.7 -2l-3.7 -1.9l-3.7 -1.7l-3.7 -1.6l-3.7 -1.5l-3.7 -1.3l-3.7 -1.2l-3.7 -1.1l-3.7 -1l-3.6 -0.9l-3.6 -0.8l-3.6 -0.7l-3.6 -0.6l-3.6 -0.6l-3.6 -0.5l-3.5 -0.4M86.2 143.4l3.6 -4.1l3.6 -4l3.7 -4l3.7 -3.9l3.7 -3.8l3.7 -3.8l3.7 -3.7l3.7 -3.6l3.8 -3.5l3.8 -3.4l3.8 -3.3l3.8 -3.1l3.8 -3l3.8 -2.9l3.8 -2.8l3.8 -2.7l3.8 -2.5l3.8 -2.4l3.8 -2.3l3.8 -2.2l3.8 -2l3.8 -1.9l3.8 -1.8l3.8 -1.7l3.8 -1.6l3.8 -1.5l3.8 -1.4l3.8 -1.3l3.8 -1.2l3.8 -1.2l3.8 -1.1l3.8 -1l3.7 -1l3.7 -1l3.7 -0.9l3.7 -0.9M270.3 150.7l-3.3 -5.3l-3.4 -5.1l-3.4 -5l-3.5 -4.8l-3.5 -4.6l-3.5 -4.4l-3.5 -4.3l-3.6 -4.1l-3.6 -3.9l-3.6 -3.7l-3.6 -3.6l-3.6 -3.4l-3.7 -3.2l-3.7 -3.1l-3.7 -2.9l-3.7 -2.7l-3.7 -2.6l-3.7 -2.4l-3.7 -2.3l-3.7 -2.1l-3.7 -2l-3.7 -1.8l-3.7 -1.7l-3.7 -1.5l-3.7 -1.4l-3.7 -1.3l-3.7 -1.2l-3.7 -1l-3.7 -0.9l-3.6 -0.8l-3.6 -0.8l-3.6 -0.7l-3.6 -0.6l-3.6 -0.5l-3.6 -0.5l-3.5 -0.4M84.3 141.5l3.6 -4l3.6 -4l3.7 -3.9l3.7 -3.9l3.7 -3.8l3.7 -3.7l3.7 -3.6l3.7 -3.5l3.8 -3.4l3.8 -3.3l3.8 -3.2l3.8 -3.1l3.8 -3l3.8 -2.9l3.8 -2.7l3.8 -2.6l3.8 -2.5l3.8 -2.4l3.8 -2.2l3.8 -2.1l3.8 -2l3.8 -1.9l3.8 -1.8l3.8 -1.6l3.8 -1.5l3.8 -1.4l3.8 -1.3l3.8 -1.3l3.8 -1.2l3.8 -1.1l3.8 -1l3.8 -1l3.7 -1l3.7 -0.9l3.7 -0.9l3.7 -0.9M272.3 148.9l-3.3 -5.3l-3.4 -5.1l-3.4 -4.9l-3.5 -4.8l-3.5 -4.6l-3.5 -4.4l-3.5 -4.2l-3.6 -4.1l-3.6 -3.9l-3.6 -3.7l-3.6 -3.5l-3.6 -3.4l-3.7 -3.2l-3.7 -3l-3.7 -2.8l-3.7 -2.7l-3.7 -2.5l-3.7 -2.4l-3.7 -2.2l-3.7 -2.1l-3.7 -1.9l-3.7 -1.8l-3.7 -1.6l-3.7 -1.5l-3.7 -1.4l-3.7 -1.2l-3.7 -1.1l-3.7 -1l-3.7 -0.9l-3.6 -0.8l-3.6 -0.7l-3.6 -0.6l-3.6 -0.6l-3.6 -0.5l-3.6 -0.4l-3.5 -0.4M82.4 139.6l3.6 -4l3.6 -3.9l3.7 -3.9l3.7 -3.8l3.7 -3.7l3.7 -3.7l3.7 -3.6l3.7 -3.5l3.8 -3.4l3.8 -3.3l3.8 -3.2l3.8 -3l3.8 -2.9l3.8 -2.8l3.8 -2.7l3.8 -2.6l3.8 -2.4l3.8 -2.3l3.8 -2.2l3.8 -2.1l3.8 -1.9l3.8 -1.8l3.8 -1.7l3.8 -1.6l3.8 -1.5l3.8 -1.4l3.8 -1.3l3.8 -1.2l3.8 -1.1l3.8 -1.1l3.8 -1l3.8 -1l3.7 -0.9l3.7 -0.9l3.7 -0.9l3.7 -0.9M274.2 147.1l-3.3 -5.2l-3.4 -5.1l-3.4 -4.9l-3.5 -4.7l-3.5 -4.6l-3.5 -4.4l-3.5 -4.2l-3.6 -4l-3.6 -3.8l-3.6 -3.7l-3.6 -3.5l-3.6 -3.3l-3.7 -3.1l-3.7 -3l-3.7 -2.8l-3.7 -2.6l-3.7 -2.5l-3.7 -2.3l-3.7 -2.2l-3.7 -2l-3.7 -1.9l-3.7 -1.7l-3.7 -1.6l-3.7 -1.4l-3.7 -1.3l-3.7 -1.2l-3.7 -1.1l-3.7 -1l-3.7 -0.9l-3.6 -0.8l-3.6 -0.7l-3.6 -0.6l-3.6 -0.5l-3.6 -0.5l-3.6 -0.4l-3.5 -0.4M80.5 137.7l3.6 -3.9l3.6 -3.9l3.7 -3.8l3.7 -3.8l3.7 -3.7l3.7 -3.6l3.7 -3.5l3.7 -3.4l3.8 -3.3l3.8 -3.2l3.8 -3.1l3.8 -3l3.8 -2.9l3.8 -2.8l3.8 -2.6l3.8 -2.5l3.8 -2.4l3.8 -2.3l3.8 -2.1l3.8 -2l3.8 -1.9l3.8 -1.8l3.8 -1.7l3.8 -1.5l3.8 -1.4l3.8 -1.3l3.8 -1.3l3.8 -1.2l3.8 -1.1l3.8 -1l3.8 -1l3.8 -0.9l3.7 -0.9l3.7 -0.8l3.7 -0.8l3.7 -0.8M276.2 145.4l-3.3 -5.2l-3.4 -5l-3.4 -4.9l-3.5 -4.7l-3.5 -4.5l-3.5 -4.3l-3.5 -4.2l-3.6 -4l-3.6 -3.8l-3.6 -3.6l-3.6 -3.5l-3.6 -3.3l-3.7 -3.1l-3.7 -2.9l-3.7 -2.8l-3.7 -2.6l-3.7 -2.4l-3.7 -2.3l-3.7 -2.1l-3.7 -2l-3.7 -1.8l-3.7 -1.7l-3.7 -1.5l-3.7 -1.4l-3.7 -1.3l-3.7 -1.1l-3.7 -1l-3.7 -0.9l-3.7 -0.8l-3.6 -0.7l-3.6 -0.6l-3.6 -0.6l-3.6 -0.5l-3.6 -0.4l-3.6 -0.4l-3.5 -0.3M78.6 135.8l3.6 -3.9l3.6 -3.8l3.7 -3.8l3.7 -3.7l3.7 -3.6l3.7 -3.6l3.7 -3.5l3.7 -3.4l3.8 -3.3l3.8 -3.2l3.8 -3.1l3.8 -2.9l3.8 -2.8l3.8 -2.7l3.8 -2.6l3.8 -2.5l3.8 -2.3l3.8 -2.2l3.8 -2.1l3.8 -2l3.8 -1.8l3.8 -1.7l3.8 -1.6l3.8 -1.5l3.8 -1.4l3.8 -1.3l3.8 -1.2l3.8 -1.1l3.8 -1l3.8 -1l3.8 -0.9l3.8 -0.9l3.7 -0.8l3.7 -0.8l3.7 -0.8l3.7 -0.8M278.2 143.7l-3.3 -5.2l-3.4 -5l-3.4 -4.8l-3.5 -4.7l-3.5 -4.5l-3.5 -4.3l-3.5 -4.1l-3.6 -3.9l-3.6 -3.8l-3.6 -3.6l-3.6 -3.4l-3.6 -3.2l-3.7 -3.1l-3.7 -2.9l-3.7 -2.7l-3.7 -2.6l-3.7 -2.4l-3.7 -2.2l-3.7 -2.1l-3.7 -1.9l-3.7 -1.8l-3.7 -1.6l-3.7 -1.5l-3.7 -1.3l-3.7 -1.2l-3.7 -1.1l-3.7 -1l-3.7 -0.9l-3.7 -0.8l-3.6 -0.7l-3.6 -0.6l-3.6 -0.5l-3.6 -0.4l-3.6 -0.4l-3.6 -0.3l-3.5 -0.3M76.6 134l3.6 -3.8l3.6 -3.8l3.7 -3.7l3.7 -3.7l3.7 -3.6l3.7 -3.5l3.7 -3.4l3.7 -3.3l3.8 -3.2l3.8 -3.1l3.8 -3l3.8 -2.9l3.8 -2.8l3.8 -2.7l3.8 -2.5l3.8 -2.4l3.8 -2.3l3.8 -2.2l3.8 -2l3.8 -1.9l3.8 -1.8l3.8 -1.7l3.8 -1.6l3.8 -1.5l3.8 -1.3l3.8 -1.3l3.8 -1.2l3.8 -1.1l3.8 -1l3.8 -0.9l3.8 -0.9l3.8 -0.8l3.7 -0.8l3.7 -0.8l3.7 -0.8l3.7 -0.8M280.1 142l-3.3 -5.1l-3.4 -5l-3.4 -4.8l-3.4 -4.6l-3.5 -4.4l-3.5 -4.3l-3.5 -4.1l-3.6 -3.9l-3.6 -3.7l-3.6 -3.6l-3.6 -3.4l-3.6 -3.2l-3.7 -3l-3.7 -2.9l-3.7 -2.7l-3.7 -2.5l-3.7 -2.3l-3.7 -2.2l-3.7 -2l-3.7 -1.9l-3.7 -1.7l-3.7 -1.6l-3.7 -1.4l-3.7 -1.3l-3.7 -1.2l-3.7 -1l-3.7 -0.9l-3.7 -0.8l-3.7 -0.7l-3.6 -0.6l-3.6 -0.5l-3.6 -0.5l-3.6 -0.4l-3.6 -0.4l-3.6 -0.3l-3.5 -0.3M74.7 132.3l3.6 -3.8l3.7 -3.7l3.7 -3.7l3.7 -3.6l3.7 -3.5l3.7 -3.5l3.7 -3.4l3.7 -3.3l3.8 -3.2l3.8 -3.1l3.8 -3l3.8 -2.8l3.8 -2.7l3.8 -2.6l3.8 -2.5l3.8 -2.4l3.8 -2.2l3.8 -2.1l3.8 -2l3.8 -1.9l3.8 -1.7l3.8 -1.6l3.8 -1.5l3.8 -1.4l3.8 -1.3l3.8 -1.2l3.8 -1.1l3.8 -1l3.8 -1l3.8 -0.9l3.8 -0.8l3.8 -0.8l3.7 -0.8l3.7 -0.7l3.7 -0.7l3.7 -0.7M282.1 140.3l-3.3 -5.1l-3.4 -4.9l-3.4 -4.8l-3.4 -4.6l-3.5 -4.4l-3.5 -4.2l-3.5 -4.1l-3.6 -3.9l-3.6 -3.7l-3.6 -3.5l-3.6 -3.3l-3.6 -3.2l-3.7 -3l-3.7 -2.8l-3.7 -2.6l-3.7 -2.5l-3.7 -2.3l-3.7 -2.1l-3.7 -2l-3.7 -1.8l-3.7 -1.7l-3.7 -1.5l-3.7 -1.4l-3.7 -1.2l-3.7 -1.1l-3.7 -1l-3.7 -0.9l-3.7 -0.8l-3.7 -0.7l-3.6 -0.6l-3.6 -0.5l-3.6 -0.4l-3.6 -0.4l-3.6 -0.3l-3.6 -0.3l-3.5 -0.3M72.8 130.6l3.6 -3.7l3.7 -3.7l3.7 -3.6l3.7 -3.6l3.7 -3.5l3.7 -3.4l3.7 -3.3l3.7 -3.2l3.8 -3.1l3.8 -3l3.8 -2.9l3.8 -2.8l3.8 -2.7l3.8 -2.6l3.8 -2.4l3.8 -2.3l3.8 -2.2l3.8 -2.1l3.8 -1.9l3.8 -1.8l3.8 -1.7l3.8 -1.6l3.8 -1.5l3.8 -1.4l3.8 -1.3l3.8 -1.2l3.8 -1.1l3.8 -1l3.8 -0.9l3.8 -0.9l3.8 -0.8l3.8 -0.8l3.7 -0.7l3.7 -0.7l3.7 -0.7l3.7 -0.7M284 138.7l-3.3 -5.1l-3.4 -4.9l-3.4 -4.7l-3.4 -4.6l-3.5 -4.4l-3.5 -4.2l-3.5 -4l-3.6 -3.8l-3.6 -3.7l-3.6 -3.5l-3.6 -3.3l-3.6 -3.1l-3.7 -2.9l-3.7 -2.8l-3.7 -2.6l-3.7 -2.4l-3.7 -2.3l-3.7 -2.1l-3.7 -1.9l-3.7 -1.8l-3.7 -1.6l-3.7 -1.5l-3.7 -1.3l-3.7 -1.2l-3.7 -1.1l-3.7 -1l-3.7 -0.8l-3.7 -0.7l-3.7 -0.6l-3.6 -0.5l-3.6 -0.5l-3.6 -0.4l-3.6 -0.3l-3.6 -0.3l-3.6 -0.3l-3.5 -0.2M71 128.9l3.6 -3.7l3.7 -3.6l3.7 -3.6l3.7 -3.5l3.7 -3.5l3.7 -3.4l3.7 -3.3l3.7 -3.2l3.8 -3.1l3.8 -3l3.8 -2.9l3.8 -2.8l3.8 -2.6l3.8 -2.5l3.8 -2.4l3.8 -2.3l3.8 -2.1l3.8 -2l3.8 -1.9l3.8 -1.8l3.8 -1.6l3.8 -1.5l3.8 -1.4l3.8 -1.3l3.8 -1.2l3.8 -1.1l3.8 -1l3.8 -0.9l3.8 -0.9l3.8 -0.8l3.8 -0.8l3.8 -0.7l3.7 -0.7l3.7 -0.7l3.7 -0.7l3.7 -0.7M286 137.1l-3.3 -5l-3.4 -4.9l-3.4 -4.7l-3.4 -4.5l-3.5 -4.3l-3.5 -4.2l-3.5 -4l-3.6 -3.8l-3.6 -3.6l-3.6 -3.4l-3.6 -3.3l-3.6 -3.1l-3.7 -2.9l-3.7 -2.7l-3.7 -2.6l-3.7 -2.4l-3.7 -2.2l-3.7 -2l-3.7 -1.9l-3.7 -1.7l-3.7 -1.6l-3.7 -1.4l-3.7 -1.3l-3.7 -1.2l-3.7 -1l-3.7 -0.9l-3.7 -0.8l-3.7 -0.7l-3.7 -0.6l-3.6 -0.5l-3.6 -0.4l-3.6 -0.4l-3.6 -0.3l-3.6 -0.3l-3.6 -0.2l-3.5 -0.2M69.1 127.3l3.6 -3.7l3.7 -3.6l3.7 -3.6l3.7 -3.5l3.7 -3.4l3.7 -3.3l3.7 -3.2l3.7 -3.1l3.8 -3l3.8 -2.9l3.8 -2.8l3.8 -2.7l3.8 -2.6l3.8 -2.5l3.8 -2.3l3.8 -2.2l3.8 -2.1l3.8 -2l3.8 -1.8l3.8 -1.7l3.8 -1.6l3.8 -1.5l3.8 -1.4l3.8 -1.3l3.8 -1.2l3.8 -1.1l3.8 -1l3.8 -0.9l3.8 -0.8l3.8 -0.8l3.8 -0.7l3.7 -0.7l3.7 -0.6l3.7 -0.6l3.7 -0.6l3.7 -0.6M287.9 135.6l-3.3 -5l-3.4 -4.8l-3.4 -4.7l-3.4 -4.5l-3.5 -4.3l-3.5 -4.1l-3.5 -4l-3.6 -3.8l-3.6 -3.6l-3.6 -3.4l-3.6 -3.2l-3.6 -3l-3.7 -2.9l-3.7 -2.7l-3.7 -2.5l-3.7 -2.3l-3.7 -2.2l-3.7 -2l-3.7 -1.8l-3.7 -1.7l-3.7 -1.5l-3.7 -1.4l-3.7 -1.2l-3.7 -1.1l-3.7 -1l-3.7 -0.9l-3.7 -0.7l-3.7 -0.6l-3.7 -0.6l-3.6 -0.5l-3.6 -0.4l-3.6 -0.3l-3.6 -0.3l-3.6 -0.2l-3.6 -0.2l-3.5 -0.2M67.2 125.7l3.6 -3.6l3.7 -3.6l3.7 -3.5l3.7 -3.4l3.7 -3.4l3.7 -3.3l3.7 -3.2l3.7 -3.1l3.8 -3l3.8 -2.9l3.8 -2.8l3.8 -2.7l3.8 -2.5l3.8 -2.4l3.8 -2.3l3.8 -2.2l3.8 -2l3.8 -1.9l3.8 -1.8l3.8 -1.7l3.8 -1.6l3.8 -1.4l3.8 -1.3l3.8 -1.2l3.8 -1.1l3.8 -1l3.8 -0.9l3.8 -0.9l3.8 -0.8l3.8 -0.7l3.8 -0.7l3.7 -0.6l3.7 -0.6l3.7 -0.6l3.7 -0.6l3.7 -0.6M289.9 134.1l-3.3 -5l-3.4 -4.8l-3.4 -4.6l-3.4 -4.5l-3.5 -4.3l-3.5 -4.1l-3.5 -3.9l-3.6 -3.7l-3.6 -3.6l-3.6 -3.4l-3.6 -3.2l-3.6 -3l-3.7 -2.8l-3.7 -2.7l-3.7 -2.5l-3.7 -2.3l-3.7 -2.1l-3.7 -2l-3.7 -1.8l-3.7 -1.6l-3.7 -1.5l-3.7 -1.3l-3.7 -1.2l-3.7 -1.1l-3.7 -0.9l-3.7 -0.8l-3.7 -0.7l-3.7 -0.6l-3.7 -0.5l-3.6 -0.4l-3.6 -0.4l-3.6 -0.3l-3.6 -0.3l-3.6 -0.2l-3.6 -0.2l-3.5 -0.2M65.3 124.2l3.6 -3.6l3.7 -3.5l3.7 -3.5l3.7 -3.4l3.7 -3.3l3.7 -3.2l3.7 -3.2l3.7 -3.1l3.8 -3l3.8 -2.8l3.8 -2.7l3.8 -2.6l3.8 -2.5l3.8 -2.4l3.8 -2.2l3.8 -2.1l3.8 -2l3.8 -1.9l3.8 -1.7l3.8 -1.6l3.8 -1.5l3.8 -1.4l3.8 -1.3l3.8 -1.2l3.8 -1.1l3.8 -1l3.8 -0.9l3.8 -0.8l3.8 -0.8l3.8 -0.7l3.8 -0.6l3.7 -0.6l3.7 -0.6l3.7 -0.6l3.7 -0.6l3.7 -0.6M291.8 132.6l-3.3 -4.9l-3.4 -4.8l-3.4 -4.6l-3.4 -4.4l-3.5 -4.2l-3.5 -4.1l-3.5 -3.9l-3.6 -3.7l-3.6 -3.5l-3.6 -3.3l-3.6 -3.2l-3.7 -3l-3.7 -2.8l-3.7 -2.6l-3.7 -2.4l-3.7 -2.3l-3.7 -2.1l-3.7 -1.9l-3.7 -1.8l-3.7 -1.6l-3.7 -1.4l-3.7 -1.3l-3.7 -1.2l-3.7 -1l-3.7 -0.9l-3.7 -0.8l-3.7 -0.7l-3.7 -0.6l-3.7 -0.5l-3.6 -0.4l-3.6 -0.3l-3.6 -0.3l-3.6 -0.2l-3.6 -0.2l-3.6 -0.2l-3.5 -0.2M63.4 122.7l3.6 -3.5l3.7 -3.5l3.7 -3.4l3.7 -3.4l3.7 -3.3l3.7 -3.2l3.7 -3.1l3.7 -3l3.8 -2.9l3.8 -2.8l3.8 -2.7l3.8 -2.6l3.8 -2.4l3.8 -2.3l3.8 -2.2l3.8 -2.1l3.8 -2l3.8 -1.8l3.8 -1.7l3.8 -1.6l3.8 -1.5l3.8 -1.3l3.8 -1.2l3.8 -1.1l3.8 -1l3.8 -0.9l3.8 -0.9l3.8 -0.8l3.8 -0.7l3.8 -0.7l3.8 -0.6l3.7 -0.6l3.7 -0.5l3.7 -0.5l3.7 -0.5l3.7 -0.5M293.8 131.2l-3.3 -4.9l-3.4 -4.7l-3.4 -4.6l-3.4 -4.4l-3.5 -4.2l-3.5 -4l-3.5 -3.9l-3.6 -3.7l-3.6 -3.5l-3.6 -3.3l-3.6 -3.1l-3.7 -2.9l-3.7 -2.8l-3.7 -2.6l-3.7 -2.4l-3.7 -2.2l-3.7 -2l-3.7 -1.9l-3.7 -1.7l-3.7 -1.6l-3.7 -1.4l-3.7 -1.3l-3.7 -1.1l-3.7 -1l-3.7 -0.8l-3.7 -0.7l-3.7 -0.6l-3.7 -0.5l-3.7 -0.4l-3.6 -0.4l-3.6 -0.3l-3.6 -0.2l-3.6 -0.2l-3.6 -0.2l-3.6 -0.1l-3.5 -0.1M61.6 121.3l3.6 -3.5l3.7 -3.4l3.7 -3.4l3.7 -3.3l3.7 -3.2l3.7 -3.2l3.7 -3.1l3.7 -3l3.8 -2.9l3.8 -2.8l3.8 -2.6l3.8 -2.5l3.8 -2.4l3.8 -2.3l3.8 -2.2l3.8 -2l3.8 -1.9l3.8 -1.8l3.8 -1.7l3.8 -1.5l3.8 -1.4l3.8 -1.3l3.8 -1.2l3.8 -1.1l3.8 -1l3.8 -0.9l3.8 -0.8l3.8 -0.7l3.8 -0.7l3.8 -0.6l3.8 -0.6l3.7 -0.5l3.7 -0.5l3.7 -0.5l3.7 -0.5l3.7 -0.5M295.7 129.7l-3.3 -4.9l-3.4 -4.7l-3.4 -4.5l-3.4 -4.4l-3.5 -4.2l-3.5 -4l-3.5 -3.8l-3.6 -3.6l-3.6 -3.5l-3.6 -3.3l-3.6 -3.1l-3.7 -2.9l-3.7 -2.7l-3.7 -2.5l-3.7 -2.4l-3.7 -2.2l-3.7 -2l-3.7 -1.8l-3.7 -1.7l-3.7 -1.5l-3.7 -1.4l-3.7 -1.2l-3.7 -1.1l-3.7 -0.9l-3.7 -0.8l-3.7 -0.7l-3.7 -0.6l-3.7 -0.5l-3.7 -0.4l-3.6 -0.3l-3.6 -0.3l-3.6 -0.2l-3.6 -0.2l-3.6 -0.1l-3.6 -0.1l-3.6 -0.1M59.7 120l3.6 -3.4l3.7 -3.4l3.7 -3.3l3.7 -3.3l3.7 -3.2l3.7 -3.1l3.7 -3l3.7 -2.9l3.8 -2.8l3.8 -2.7l3.8 -2.6l3.8 -2.5l3.8 -2.4l3.8 -2.2l3.8 -2.1l3.8 -2l3.8 -1.9l3.8 -1.7l3.8 -1.6l3.8 -1.5l3.8 -1.4l3.8 -1.3l3.8 -1.2l3.8 -1.1l3.8 -1l3.8 -0.9l3.8 -0.8l3.8 -0.7l3.8 -0.6l3.8 -0.6l3.8 -0.5l3.7 -0.5l3.7 -0.5l3.7 -0.5l3.7 -0.5l3.7 -0.5M297.6 128.3l-3.3 -4.8l-3.4 -4.7l-3.4 -4.5l-3.4 -4.3l-3.5 -4.2l-3.5 -4l-3.5 -3.8l-3.6 -3.6l-3.6 -3.4l-3.6 -3.2l-3.6 -3.1l-3.7 -2.9l-3.7 -2.7l-3.7 -2.5l-3.7 -2.3l-3.7 -2.1l-3.7 -2l-3.7 -1.8l-3.7 -1.6l-3.7 -1.5l-3.7 -1.3l-3.7 -1.2l-3.7 -1l-3.7 -0.9l-3.7 -0.8l-3.7 -0.6l-3.7 -0.5l-3.7 -0.4l-3.7 -0.4l-3.6 -0.3l-3.6 -0.2l-3.6 -0.2l-3.6 -0.1l-3.6 -0.1l-3.6 -0.1l-3.6 -0.1M57.8 118.7l3.6 -3.4l3.7 -3.4l3.7 -3.3l3.7 -3.2l3.7 -3.2l3.7 -3.1l3.7 -3l3.7 -2.9l3.8 -2.8l3.8 -2.7l3.8 -2.6l3.8 -2.4l3.8 -2.3l3.8 -2.2l3.8 -2.1l3.8 -2l3.8 -1.8l3.8 -1.7l3.8 -1.6l3.8 -1.5l3.8 -1.3l3.8 -1.2l3.8 -1.1l3.8 -1l3.8 -0.9l3.8 -0.8l3.8 -0.7l3.8 -0.7l3.8 -0.6l3.8 -0.5l3.8 -0.5l3.7 -0.5l3.7 -0.5l3.7 -0.4l3.7 -0.4l3.7 -0.5M299.6 127l-3.3 -4.8l-3.4 -4.6l-3.4 -4.5l-3.4 -4.3l-3.5 -4.1l-3.5 -3.9l-3.5 -3.8l-3.6 -3.6l-3.6 -3.4l-3.6 -3.2l-3.6 -3l-3.7 -2.8l-3.7 -2.7l-3.7 -2.5l-3.7 -2.3l-3.7 -2.1l-3.7 -1.9l-3.7 -1.8l-3.7 -1.6l-3.7 -1.4l-3.7 -1.3l-3.7 -1.1l-3.7 -1l-3.7 -0.9l-3.7 -0.7l-3.7 -0.6l-3.7 -0.5l-3.7 -0.4l-3.7 -0.3l-3.6 -0.2l-3.6 -0.2l-3.6 -0.1l-3.6 -0.1l-3.6 -0.1l-3.6 -0.1l-3.6 -0.1M56 117.4l3.6 -3.4l3.7 -3.3l3.7 -3.3l3.7 -3.2l3.7 -3.1l3.7 -3l3.7 -3l3.7 -2.9l3.8 -2.7l3.8 -2.6l3.8 -2.5l3.8 -2.4l3.8 -2.3l3.8 -2.2l3.8 -2l3.8 -1.9l3.8 -1.8l3.8 -1.7l3.8 -1.5l3.8 -1.4l3.8 -1.3l3.8 -1.2l3.8 -1.1l3.8 -1l3.8 -0.9l3.8 -0.8l3.8 -0.7l3.8 -0.6l3.8 -0.6l3.8 -0.5l3.8 -0.5l3.7 -0.4l3.7 -0.4l3.7 -0.4l3.7 -0.4l3.7 -0.4M301.5 125.7l-3.3 -4.8l-3.4 -4.6l-3.4 -4.4l-3.4 -4.3l-3.5 -4.1l-3.5 -3.9l-3.5 -3.7l-3.6 -3.6l-3.6 -3.4l-3.6 -3.2l-3.6 -3l-3.7 -2.8l-3.7 -2.6l-3.7 -2.4l-3.7 -2.3l-3.7 -2.1l-3.7 -1.9l-3.7 -1.7l-3.7 -1.6l-3.7 -1.4l-3.7 -1.2l-3.7 -1.1l-3.7 -0.9l-3.7 -0.8l-3.7 -0.7l-3.7 -0.6l-3.7 -0.5l-3.7 -0.4l-3.7 -0.3l-3.7 -0.2l-3.6 -0.2l-3.6 -0.1l-3.6 -0.1l-3.6 -0.1l-3.6 -0.1l-3.6 -0.1M54.2 116.3l3.6 -3.3l3.7 -3.3l3.7 -3.2l3.7 -3.2l3.7 -3.1l3.7 -3l3.7 -2.9l3.7 -2.8l3.8 -2.7l3.8 -2.6l3.8 -2.5l3.8 -2.4l3.8 -2.2l3.8 -2.1l3.8 -2l3.8 -1.9l3.8 -1.8l3.8 -1.6l3.8 -1.5l3.8 -1.4l3.8 -1.3l3.8 -1.2l3.8 -1l3.8 -0.9l3.8 -0.8l3.8 -0.8l3.8 -0.7l3.8 -0.6l3.8 -0.5l3.8 -0.5l3.8 -0.4l3.7 -0.4l3.7 -0.4l3.7 -0.4l3.7 -0.4l3.7 -0.4M303.4 124.3l-3.3 -4.7l-3.4 -4.6l-3.4 -4.4l-3.4 -4.2l-3.5 -4.1l-3.5 -3.9l-3.5 -3.7l-3.6 -3.5l-3.6 -3.3l-3.6 -3.2l-3.6 -3l-3.6 -2.8l-3.7 -2.6l-3.7 -2.4l-3.7 -2.2l-3.7 -2l-3.7 -1.9l-3.7 -1.7l-3.7 -1.5l-3.7 -1.4l-3.7 -1.2l-3.7 -1l-3.7 -0.9l-3.7 -0.8l-3.7 -0.6l-3.7 -0.5l-3.7 -0.4l-3.7 -0.3l-3.7 -0.2l-3.7 -0.2l-3.6 -0.1l-3.6 -0.1l-3.6 -0.1l-3.6 0l-3.6 0l-3.6 -0.1M52.3 115.1l3.6 -3.3l3.7 -3.3l3.7 -3.2l3.7 -3.1l3.7 -3.1l3.7 -3l3.7 -2.9l3.7 -2.8l3.8 -2.7l3.8 -2.6l3.8 -2.5l3.8 -2.3l3.8 -2.2l3.8 -2.1l3.8 -2l3.8 -1.8l3.8 -1.7l3.8 -1.6l3.8 -1.5l3.8 -1.3l3.8 -1.2l3.8 -1.1l3.8 -1l3.8 -0.9l3.8 -0.8l3.8 -0.7l3.8 -0.6l3.8 -0.6l3.8 -0.5l3.8 -0.5l3.8 -0.4l3.7 -0.4l3.7 -0.4l3.7 -0.4l3.7 -0.4l3.7 -0.4M305.3 123.1l-3.3 -4.7l-3.4 -4.6l-3.4 -4.4l-3.4 -4.2l-3.5 -4l-3.5 -3.9l-3.5 -3.7l-3.6 -3.5l-3.6 -3.3l-3.6 -3.1l-3.6 -2.9l-3.6 -2.7l-3.7 -2.6l-3.7 -2.4l-3.7 -2.2l-3.7 -2l-3.7 -1.8l-3.7 -1.7l-3.7 -1.5l-3.7 -1.3l-3.7 -1.2l-3.7 -1l-3.7 -0.9l-3.7 -0.7l-3.7 -0.6l-3.7 -0.5l-3.7 -0.4l-3.7 -0.3l-3.7 -0.2l-3.7 -0.1l-3.6 -0.1l-3.6 -0.1l-3.6 0l-3.6 0l-3.6 0l-3.6 0M50.5 114.1l3.6 -3.3l3.7 -3.2l3.7 -3.2l3.7 -3.1l3.7 -3l3.7 -2.9l3.7 -2.9l3.7 -2.8l3.8 -2.6l3.8 -2.5l3.8 -2.4l3.8 -2.3l3.8 -2.2l3.8 -2.1l3.8 -1.9l3.8 -1.8l3.8 -1.7l3.8 -1.6l3.8 -1.4l3.8 -1.3l3.8 -1.2l3.8 -1.1l3.8 -1l3.8 -0.9l3.8 -0.8l3.8 -0.7l3.8 -0.6l3.8 -0.5l3.8 -0.5l3.8 -0.4l3.8 -0.4l3.7 -0.4l3.7 -0.4l3.7 -0.4l3.7 -0.4l3.7 -0.4M307.2 121.8l-3.3 -4.7l-3.4 -4.5l-3.4 -4.4l-3.4 -4.2l-3.5 -4l-3.5 -3.8l-3.5 -3.7l-3.6 -3.5l-3.6 -3.3l-3.6 -3.1l-3.6 -2.9l-3.6 -2.7l-3.7 -2.5l-3.7 -2.3l-3.7 -2.2l-3.7 -2l-3.7 -1.8l-3.7 -1.6l-3.7 -1.4l-3.7 -1.3l-3.7 -1.1l-3.7 -1l-3.7 -0.8l-3.7 -0.7l-3.7 -0.6l-3.7 -0.5l-3.7 -0.4l-3.7 -0.3l-3.7 -0.2l-3.7 -0.1l-3.6 -0.1l-3.6 0l-3.6 0l-3.6 0l-3.6 0l-3.6 0M48.7 113.1l3.6 -3.3l3.7 -3.2l3.7 -3.1l3.7 -3.1l3.7 -3l3.7 -2.9l3.7 -2.8l3.7 -2.7l3.8 -2.6l3.8 -2.5l3.8 -2.4l3.8 -2.3l3.8 -2.2l3.8 -2l3.8 -1.9l3.8 -1.8l3.8 -1.7l3.8 -1.5l3.8 -1.4l3.8 -1.3l3.8 -1.2l3.8 -1.1l3.8 -1l3.8 -0.8l3.8 -0.8l3.8 -0.7l3.8 -0.6l3.8 -0.5l3.8 -0.5l3.8 -0.4l3.8 -0.4l3.7 -0.3l3.7 -0.3l3.7 -0.3l3.7 -0.3l3.7 -0.4M309.1 120.6l-3.3 -4.7l-3.4 -4.5l-3.4 -4.3l-3.4 -4.2l-3.5 -4l-3.5 -3.8l-3.5 -3.6l-3.6 -3.4l-3.6 -3.3l-3.6 -3.1l-3.6 -2.9l-3.6 -2.7l-3.7 -2.5l-3.7 -2.3l-3.7 -2.1l-3.7 -1.9l-3.7 -1.8l-3.7 -1.6l-3.7 -1.4l-3.7 -1.2l-3.7 -1.1l-3.7 -0.9l-3.7 -0.8l-3.7 -0.7l-3.7 -0.5l-3.7 -0.4l-3.7 -0.3l-3.7 -0.2l-3.7 -0.1l-3.7 -0.1l-3.6 0l-3.6 0l-3.6 0l-3.6 0l-3.6 0l-3.6 0M46.9 112.2l3.6 -3.2l3.7 -3.2l3.7 -3.1l3.7 -3.1l3.7 -3l3.7 -2.9l3.7 -2.8l3.7 -2.7l3.8 -2.6l3.8 -2.5l3.8 -2.4l3.8 -2.2l3.8 -2.1l3.8 -2l3.8 -1.9l3.8 -1.7l3.8 -1.6l3.8 -1.5l3.8 -1.4l3.8 -1.3l3.8 -1.1l3.8 -1l3.8 -0.9l3.8 -0.8l3.8 -0.7l3.8 -0.6l3.8 -0.6l3.8 -0.5l3.8 -0.4l3.8 -0.4l3.8 -0.4l3.7 -0.3l3.7 -0.3l3.7 -0.3l3.7 -0.3l3.7 -0.4M311 119.4l-3.3 -4.6l-3.4 -4.5l-3.4 -4.3l-3.4 -4.1l-3.5 -4l-3.5 -3.8l-3.5 -3.6l-3.6 -3.4l-3.6 -3.2l-3.6 -3l-3.6 -2.9l-3.6 -2.7l-3.7 -2.5l-3.7 -2.3l-3.7 -2.1l-3.7 -1.9l-3.7 -1.7l-3.7 -1.5l-3.7 -1.4l-3.7 -1.2l-3.7 -1.1l-3.7 -0.9l-3.7 -0.8l-3.7 -0.6l-3.7 -0.5l-3.7 -0.4l-3.7 -0.3l-3.7 -0.2l-3.7 -0.1l-3.7 -0.1l-3.6 0l-3.6 0l-3.6 0l-3.6 0l-3.6 0l-3.6 0M45.1 111.3l3.6 -3.2l3.7 -3.2l3.7 -3.1l3.7 -3l3.7 -3l3.7 -2.9l3.7 -2.8l3.7 -2.7l3.8 -2.6l3.8 -2.5l3.8 -2.3l3.8 -2.2l3.8 -2.1l3.8 -2l3.8 -1.8l3.8 -1.7l3.8 -1.6l3.8 -1.5l3.8 -1.3l3.8 -1.2l3.8 -1.1l3.8 -1l3.8 -0.9l3.8 -0.8l3.8 -0.7l3.8 -0.6l3.8 -0.5l3.8 -0.5l3.8 -0.4l3.8 -0.4l3.8 -0.3l3.7 -0.3l3.7 -0.3l3.7 -0.3l3.7 -0.3l3.7 -0.4"/><path class="bdL" d="M311 119.4l-3.3 -4.6l-3.4 -4.5l-3.4 -4.3l-3.4 -4.1l-3.5 -4l-3.5 -3.8l-3.5 -3.6l-3.6 -3.4l-3.6 -3.2l-3.6 -3l-3.6 -2.9l-3.6 -2.7l-3.7 -2.5l-3.7 -2.3l-3.7 -2.1l-3.7 -1.9l-3.7 -1.7l-3.7 -1.5l-3.7 -1.4l-3.7 -1.2l-3.7 -1.1l-3.7 -0.9l-3.7 -0.8l-3.7 -0.6l-3.7 -0.5l-3.7 -0.4l-3.7 -0.3l-3.7 -0.2l-3.7 -0.1l-3.7 -0.1l-3.6 0l-3.6 0l-3.6 0l-3.6 0l-3.6 0l-3.6 0M45.1 111.3l3.6 -3.2l3.7 -3.2l3.7 -3.1l3.7 -3l3.7 -3l3.7 -2.9l3.7 -2.8l3.7 -2.7l3.8 -2.6l3.8 -2.5l3.8 -2.3l3.8 -2.2l3.8 -2.1l3.8 -2l3.8 -1.8l3.8 -1.7l3.8 -1.6l3.8 -1.5l3.8 -1.3l3.8 -1.2l3.8 -1.1l3.8 -1l3.8 -0.9l3.8 -0.8l3.8 -0.7l3.8 -0.6l3.8 -0.5l3.8 -0.5l3.8 -0.4l3.8 -0.4l3.8 -0.3l3.7 -0.3l3.7 -0.3l3.7 -0.3l3.7 -0.3l3.7 -0.4"/><path class="fdL" d="M45.1 111.3l3.3 -2.9l3.3 -2.8l3.3 -2.8l3.3 -2.7l3.3 -2.7l3.3 -2.6l3.3 -2.5l3.4 -2.5l3.4 -2.4l3.4 -2.3l3.4 -2.2l3.4 -2.1l3.4 -2l3.4 -1.9l3.4 -1.8l3.4 -1.7l3.4 -1.6l3.4 -1.5l3.4 -1.4l3.5 -1.3l3.5 -1.2l3.5 -1.1l3.5 -1l3.5 -0.9l3.4 -0.8l3.4 -0.8l3.4 -0.7l3.4 -0.6l3.4 -0.5l3.4 -0.5l3.4 -0.4l3.4 -0.4l3.4 -0.3l3.4 -0.3l3.4 -0.3l3.4 -0.3l3.3 -0.3l3.3 -0.3l3.3 -0.3l3.3 -0.3l0 5.3l-3.3 0.3l-3.3 0.2l-3.3 0.2l-3.3 0.2l-3.4 0.2l-3.4 0.2l-3.4 0.3l-3.4 0.3l-3.4 0.3l-3.4 0.4l-3.4 0.3l-3.4 0.4l-3.4 0.4l-3.4 0.5l-3.4 0.6l-3.4 0.7l-3.5 0.7l-3.5 0.8l-3.5 0.9l-3.5 1l-3.5 1l-3.4 1.1l-3.4 1.2l-3.4 1.4l-3.4 1.5l-3.4 1.6l-3.4 1.7l-3.4 1.8l-3.4 2.1l-3.4 2.2l-3.4 2.2l-3.4 2.3l-3.4 2.4l-3.3 2.5l-3.3 2.6l-3.3 2.6l-3.3 2.7l-3.3 2.7l-3.3 2.8l-3.3 2.8zM311 119.4l-3 -4.2l-3 -4.1l-3 -3.9l-3.1 -3.8l-3.1 -3.6l-3.1 -3.5l-3.2 -3.4l-3.2 -3.2l-3.2 -3.1l-3.2 -2.9l-3.2 -2.7l-3.3 -2.6l-3.3 -2.4l-3.3 -2.3l-3.3 -2.1l-3.3 -2l-3.3 -1.8l-3.3 -1.7l-3.4 -1.5l-3.4 -1.4l-3.4 -1.2l-3.4 -1.1l-3.4 -1l-3.4 -0.9l-3.4 -0.7l-3.4 -0.6l-3.4 -0.5l-3.3 -0.4l-3.3 -0.3l-3.3 -0.3l-3.3 -0.2l-3.3 -0.1l-3.3 -0.1l-3.3 0l-3.3 0l-3.3 0l-3.2 0l-3.2 0l-3.2 0l-3.2 0l0 5.3l3.2 -0.1l3.2 -0.1l3.2 -0.1l3.2 -0.1l3.3 -0.1l3.3 -0.1l3.3 -0.1l3.3 0l3.3 0l3.3 0.1l3.3 0.1l3.3 0.1l3.3 0.2l3.4 0.3l3.4 0.4l3.4 0.5l3.4 0.7l3.4 0.8l3.4 0.9l3.4 1.1l3.4 1.1l3.4 1.3l3.3 1.4l3.3 1.6l3.3 1.7l3.3 1.9l3.3 2l3.3 2.2l3.3 2.6l3.2 2.7l3.2 2.9l3.2 3l3.2 3.2l3.2 3.3l3.1 3.5l3.1 3.6l3.1 3.7l3 3.9l3 4l3 4.1z"/><path class="bnL" d="M45.1 111.3l3.3 -2.9l3.3 -2.8l3.3 -2.8l3.3 -2.7l3.3 -2.7l3.3 -2.6l3.3 -2.5l3.4 -2.5l3.4 -2.4l3.4 -2.3l3.4 -2.2l3.4 -2.1l3.4 -2l3.4 -1.9l3.4 -1.8l3.4 -1.7l3.4 -1.6l3.4 -1.5l3.4 -1.4l3.5 -1.3l3.5 -1.2l3.5 -1.1l3.5 -1l3.5 -0.9l3.4 -0.8l3.4 -0.8l3.4 -0.7l3.4 -0.6l3.4 -0.5l3.4 -0.5l3.4 -0.4l3.4 -0.4l3.4 -0.3l3.4 -0.3l3.4 -0.3l3.4 -0.3l3.3 -0.3l3.3 -0.3l3.3 -0.3l3.3 -0.3l0 2.2l-3.3 0.3l-3.3 0.3l-3.3 0.3l-3.3 0.2l-3.4 0.3l-3.4 0.3l-3.4 0.3l-3.4 0.3l-3.4 0.4l-3.4 0.4l-3.4 0.4l-3.4 0.5l-3.4 0.5l-3.4 0.6l-3.4 0.7l-3.4 0.8l-3.5 0.9l-3.5 0.9l-3.5 1l-3.5 1.1l-3.5 1.2l-3.4 1.3l-3.4 1.4l-3.4 1.5l-3.4 1.6l-3.4 1.7l-3.4 1.8l-3.4 1.9l-3.4 2.1l-3.4 2.2l-3.4 2.3l-3.4 2.4l-3.4 2.4l-3.3 2.5l-3.3 2.6l-3.3 2.7l-3.3 2.7l-3.3 2.8l-3.3 2.8l-3.3 2.9zM311 119.4l-3 -4.2l-3 -4.1l-3 -3.9l-3.1 -3.8l-3.1 -3.6l-3.1 -3.5l-3.2 -3.4l-3.2 -3.2l-3.2 -3.1l-3.2 -2.9l-3.2 -2.7l-3.3 -2.6l-3.3 -2.4l-3.3 -2.3l-3.3 -2.1l-3.3 -2l-3.3 -1.8l-3.3 -1.7l-3.4 -1.5l-3.4 -1.4l-3.4 -1.2l-3.4 -1.1l-3.4 -1l-3.4 -0.9l-3.4 -0.7l-3.4 -0.6l-3.4 -0.5l-3.3 -0.4l-3.3 -0.3l-3.3 -0.3l-3.3 -0.2l-3.3 -0.1l-3.3 -0.1l-3.3 0l-3.3 0l-3.3 0l-3.2 0l-3.2 0l-3.2 0l-3.2 0l0 2.2l3.2 0l3.2 -0.1l3.2 -0.1l3.2 -0.1l3.3 -0.1l3.3 -0.1l3.3 0l3.3 0l3.3 0.1l3.3 0.1l3.3 0.2l3.3 0.3l3.3 0.3l3.4 0.4l3.4 0.5l3.4 0.7l3.4 0.8l3.4 0.9l3.4 1l3.4 1.2l3.4 1.3l3.4 1.4l3.3 1.6l3.3 1.7l3.3 1.9l3.3 2l3.3 2.2l3.3 2.3l3.3 2.6l3.2 2.7l3.2 2.9l3.2 3l3.2 3.2l3.2 3.3l3.1 3.5l3.1 3.6l3.1 3.8l3 3.9l3 4l3 4.2z"/>
<path class="wh" d="M407.4 197.9L555.2 131.1L667.8 225.6M405.3 179.8L555.2 112.9L670.2 207.2M403.1 161.7L555.2 94.6L672.6 188.9M401 143.6L555.2 76.4L674.9 170.5M398.8 125.5L555.2 58.2L677.3 152.1M396.7 107.4L555.2 39.9L679.7 133.8M394.5 89.3L555.2 21.7L682.1 115.4"/><path class="wvd" d="M425.9 189.6L414.6 80.9M444.4 181.2L434.7 72.4M462.8 172.9L454.8 64M481.3 164.5L474.9 55.5M499.8 156.2L494.9 47M518.3 147.8L515 38.6M536.7 139.5L535.1 30.1M555.2 131.1L555.2 21.7M649 209.8L661 99.8M630.3 194.1L639.8 84.2M611.5 178.3L618.7 68.5M592.7 162.6L597.5 52.9M574 146.9L576.4 37.3M411.2 229.8L394.5 89.3M663.6 257.9L682.1 115.4"/><path fill="#ffff00" d="M514.9 344.5L663.6 257.9L555.2 163.2L411.2 229.8Z"/><path class="fb" d="M411.2 229.8L555.2 163.2L663.6 257.9"/><path class="ct" stroke="#4090f0" d="M517.8 342.8l-3.2 0.2l-1.1 0"/><path class="ct" stroke="#40d0f0" d="M547.3 325.6l-2.4 0.3l-3.1 0.4l-2.2 0.3l-3 0.3l-2.6 0.3l-2.7 0.3l-2.6 0.2l-2.7 0.2l-2.5 0.2l-2.9 0.2l-2.2 0.1l-3.1 0.1l-2.4 0.1l-2.3 0l-3.1 0l-2.4 0l-2.3 0l-2.3 -0.1"/><path class="ct" stroke="#40e8b0" d="M594 298.4l-3.2 1.1l-2.9 0.9l-2.7 0.8l-2.8 0.8l-2.8 0.8l-2.8 0.7l-2.8 0.7l-2.6 0.6l-2.4 0.6l-2.6 0.6l-2.9 0.6l-2.9 0.6l-2.9 0.6l-2.1 0.4l-2.9 0.5l-3 0.5l-2.3 0.3l-2.8 0.4l-2.9 0.4l-2.2 0.2l-3.1 0.3l-2.1 0.2l-3.2 0.2l-2.1 0.1l-3 0.2l-2.4 0.1l-2.4 0.1l-3.1 0.1l-2.2 0l-2.4 0l-3 0l-2.6 -0.1l-2.3 -0.1l-2.4 -0.1l-2.7 -0.2l-2.7 -0.2l-2.7 -0.2l-2.6 -0.3l-2.6 -0.3l-2.5 -0.3l-2.5 -0.4l-1.6 -0.3"/><path class="ct" stroke="#40e8b0" d="M548 166.5l2.9 -0.3l2.9 -0.2l2.1 -0.2l2.1 -0.1"/><path class="ct" stroke="#90e870" d="M646.2 242.7l-1.6 1.8l-1.7 1.8l-1.7 1.7l-1.8 1.7l-2.1 1.9l-2.2 1.8l-1.9 1.5l-2.6 2l-2 1.5l-2.8 1.9l-2.1 1.4l-2.9 1.8l-2.9 1.7l-3 1.7l-3 1.6l-2.4 1.2l-3.1 1.5l-3.2 1.5l-2.4 1.1l-3.3 1.4l-2.5 1l-3.4 1.3l-2.6 0.9l-2.6 0.9l-2.8 0.9l-3.3 1l-2.7 0.8l-2.7 0.8l-2.8 0.7l-2.8 0.7l-2.8 0.7l-2.6 0.6l-2.4 0.5l-2.7 0.5l-2.9 0.5l-3 0.5l-2.2 0.3l-2.8 0.4l-3 0.4l-2.1 0.2l-3.1 0.3l-2.1 0.2l-3.2 0.2l-2.2 0.1l-2.9 0.1l-2.6 0.1l-2.3 0l-2.8 0l-2.9 -0.1l-2.3 -0.1l-2.4 -0.1l-2.4 -0.2l-2.5 -0.2l-2.6 -0.3l-2.5 -0.3l-2.5 -0.4l-2.6 -0.4l-2.7 -0.5l-2.8 -0.6l-2.2 -0.5l-2.1 -0.5l-2.9 -0.8l-2.2 -0.7l-2.5 -0.8l-2.3 -0.8l-2.7 -1.1l-1.8 -0.8l-2.5 -1.2l-2.5 -1.2l-2.3 -1.3l-2.2 -1.4l-2.1 -1.4l-2.3 -1.7l-2.3 -1.8l-2.4 -2.2l-1.6 -1.7l-1.5 -1.7l-1.9 -2.4l-1.6 -2.5l-1.1 -2l-0.9 -2l-0.8 -2.1l-0.6 -2.2l-0.4 -1.7l-0.3 -2l-0.2 -1.9l0 -2.1l0.1 -1.7l0.2 -1.7l0.3 -1.8l0.5 -1.8l0.6 -1.9l0.8 -2l0.7 -1.7l0.7 -1.5l1.2 -2.1l0.8 -1.3l1.3 -1.9l1.4 -1.8l1.1 -1.3l1.5 -1.6l1.6 -1.6l1.6 -1.6l1.7 -1.5l1.9 -1.6l2.3 -1.8l1.9 -1.3l1.9 -1.3l2.6 -1.6l2.6 -1.5l2.1 -1.2l2.8 -1.5l2.8 -1.4l2.9 -1.4l2.9 -1.3l3 -1.2l3.1 -1.2l2.3 -0.9l3.2 -1.1l2.4 -0.8l3.2 -1l2.5 -0.7l2.7 -0.8l3.1 -0.8l2.6 -0.6l2.6 -0.6l2.6 -0.6l2.7 -0.6l2.7 -0.5l2.7 -0.5l2.8 -0.5l2.8 -0.5l2.8 -0.4l2.9 -0.4l2.7 -0.3l2.2 -0.3l3 -0.3l3 -0.3l2 -0.2l3.1 -0.2l2.3 -0.2l2.9 -0.2l2.4 -0.1l3 -0.1l2.2 -0.1l3 -0.1l2.6 0l2.3 0l1.1 0"/><path class="ct" stroke="#f09050" d="M583.8 222l1.6 1.5l1.6 2.2l0.8 1.9l0.2 1.4l-0.1 2l-0.4 1.8l-0.6 1.6l-1.2 2.1l-1.1 1.4l-1.5 1.6l-2 1.8l-2.3 1.8l-2 1.4l-2.9 1.7l-3 1.5l-2.4 1l-3.3 1.3l-2.6 0.8l-2.6 0.8l-2.7 0.7l-2.8 0.6l-2.9 0.5l-2.4 0.3l-2.7 0.3l-2.7 0.2l-2.8 0.1l-2.3 0l-2.4 -0.1l-2.6 -0.2l-2.5 -0.4l-2.8 -0.6l-2.5 -0.7l-2.3 -0.8l-2.2 -0.9l-2.3 -1.2l-2.6 -1.9l-2.1 -2.2l-1.4 -2.3l-0.6 -1.7l-0.3 -2l0.1 -1.7l0.4 -1.8l0.9 -2l0.9 -1.4l1.4 -1.8l1.6 -1.7l1.8 -1.5l1.9 -1.4l2.7 -1.7l2.9 -1.5l3 -1.4l2.4 -0.9l3.3 -1.1l2.6 -0.7l2.7 -0.7l2.7 -0.6l2.8 -0.5l2.9 -0.4l2.2 -0.2l3 -0.2l2.3 -0.1l3.1 0l2.4 0.1l2.4 0.1l2.6 0.3l2.7 0.4l2.4 0.5l2.1 0.5l2.8 0.9l2.5 1l2.2 1.2l1.9 1.3"/><path class="fe" d="M411.2 229.8L514.9 344.5L663.6 257.9"/><path class="td" d="M407.4 197.9h0M405.3 179.8h0M403.1 161.7h0M401 143.6h0M398.8 125.5h0M396.7 107.4h0M394.5 89.3h0M514.9 344.5h0M533.5 333.7h0M552.1 322.9h0M570.7 312h0M589.2 301.2h0M607.8 290.4h0M626.4 279.5h0M645 268.7h0M663.6 257.9h0M514.9 344.5h0M497.6 325.4h0M480.3 306.3h0M463 287.1h0M445.8 268h0M428.5 248.9h0M411.2 229.8h0"/><g class="sfR"><path color="#114118" d="M554.3 82.3l3.9 -0.1l-3 0l-3.8 0.1z"/><path color="#114115" d="M550.5 82.5l3.9 -0.2l-3 0l-3.9 0.2z"/><path color="#114113" d="M557.3 82.3l3.9 -0.2l-3 0l-3.9 0.1z"/><path color="#114112" d="M546.6 82.8l3.9 -0.3l-3 0l-3.9 0.3z"/><path color="#124011" d="M553.5 82.6l3.9 -0.2l-3 0l-3.9 0.2z"/><path color="#144012" d="M560.3 82.4l3.9 -0.2l-3 0l-3.9 0.2z"/><path color="#134012" d="M542.7 83.2l3.9 -0.4l-3 0l-3.9 0.3z"/><path color="#154012" d="M549.6 82.9l3.9 -0.3l-3 0l-3.9 0.3z"/><path color="#174013" d="M556.4 82.6l3.9 -0.3l-3 0l-3.9 0.2z"/><path color="#194013" d="M563.3 82.5l3.9 -0.2l-3 -0.1l-3.9 0.2z"/><path color="#164013" d="M538.8 83.6l3.9 -0.4l-2.9 -0.1l-3.9 0.4z"/><path color="#184013" d="M545.7 83.3l3.9 -0.4l-3 -0.1l-3.9 0.4z"/><path color="#1a4014" d="M552.6 83l3.9 -0.3l-3 -0.1l-3.9 0.3z"/><path color="#1c4014" d="M559.5 82.7l3.9 -0.3l-3 -0.1l-3.9 0.3z"/><path color="#1d3f15" d="M566.4 82.6l3.9 -0.3l-3 -0.1l-3.9 0.2z"/><path color="#184013" d="M535 84.2l3.9 -0.5l-2.9 -0.1l-3.9 0.5z"/><path color="#1b4014" d="M541.8 83.7l3.9 -0.5l-3 -0.1l-3.9 0.4z"/><path color="#1d4015" d="M548.7 83.4l3.9 -0.4l-3 -0.1l-3.9 0.4z"/><path color="#1f3f15" d="M555.6 83.1l3.9 -0.4l-3 -0.1l-3.9 0.3z"/><path color="#203f16" d="M562.5 82.9l3.9 -0.3l-3 -0.1l-3.9 0.3z"/><path color="#223f16" d="M569.4 82.8l3.9 -0.3l-3.1 -0.2l-3.9 0.3z"/><path color="#1b4014" d="M531.1 84.8l3.9 -0.6l-2.9 -0.1l-3.9 0.6z"/><path color="#1d3f15" d="M537.9 84.3l3.9 -0.5l-3 -0.1l-3.9 0.5z"/><path color="#253f17" d="M565.5 83.1l3.9 -0.3l-3 -0.2l-3.9 0.3z"/><path color="#263f17" d="M572.5 83.1l3.9 -0.3l-3.1 -0.3l-3.9 0.3z"/><path color="#1f3f15" d="M544.8 83.9l3.9 -0.5l-3 -0.1l-3.9 0.5z"/><path color="#213f16" d="M551.7 83.6l3.9 -0.4l-3 -0.1l-3.9 0.4z"/><path color="#233f16" d="M558.6 83.3l3.9 -0.4l-3 -0.2l-3.9 0.4z"/><path color="#1d3f15" d="M527.2 85.5l3.9 -0.7l-2.9 -0.1l-3.9 0.7z"/><path color="#1f3f15" d="M534 84.9l3.9 -0.6l-2.9 -0.1l-3.9 0.6z"/><path color="#223f16" d="M540.9 84.5l3.9 -0.6l-3 -0.1l-3.9 0.5z"/><path color="#283f18" d="M561.6 83.6l3.9 -0.4l-3 -0.2l-3.9 0.4z"/><path color="#293e18" d="M568.6 83.5l3.9 -0.4l-3.1 -0.3l-3.9 0.3z"/><path color="#2a3e19" d="M575.6 83.5l3.9 -0.3l-3.1 -0.3l-3.9 0.3z"/><path color="#243f17" d="M547.8 84.1l3.9 -0.5l-3 -0.2l-3.9 0.5z"/><path color="#263f17" d="M554.7 83.8l3.9 -0.5l-3 -0.2l-3.9 0.4z"/><path color="#1f3f15" d="M523.3 86.3l3.9 -0.8l-2.9 -0.2l-3.9 0.8z"/><path color="#223f16" d="M530.1 85.6l3.9 -0.7l-2.9 -0.1l-3.9 0.7z"/><path color="#243f17" d="M536.9 85.1l3.9 -0.7l-3 -0.2l-3.9 0.6z"/><path color="#263f17" d="M543.8 84.7l3.9 -0.6l-3 -0.2l-3.9 0.6z"/><path color="#283e18" d="M550.7 84.3l3.9 -0.5l-3 -0.2l-3.9 0.5z"/><path color="#2a3e19" d="M557.7 84.1l3.9 -0.5l-3 -0.3l-3.9 0.5z"/><path color="#2c3e19" d="M564.7 83.9l3.9 -0.4l-3.1 -0.3l-3.9 0.4z"/><path color="#2d3e19" d="M571.6 83.9l3.9 -0.4l-3.1 -0.4l-3.9 0.4z"/><path color="#2e3e1a" d="M578.6 83.9l3.9 -0.4l-3.1 -0.4l-3.9 0.3z"/><path color="#213f16" d="M519.3 87.1l3.9 -0.9l-2.9 -0.2l-3.9 0.8z"/><path color="#233f16" d="M526.2 86.5l3.9 -0.8l-2.9 -0.2l-3.9 0.8z"/><path color="#263f17" d="M533 85.9l3.9 -0.7l-3 -0.2l-3.9 0.7z"/><path color="#293e18" d="M539.9 85.3l3.9 -0.7l-3 -0.2l-3.9 0.7z"/><path color="#2b3e19" d="M546.8 84.9l3.9 -0.6l-3 -0.2l-3.9 0.6z"/><path color="#2d3e19" d="M553.8 84.6l3.9 -0.6l-3 -0.3l-3.9 0.5z"/><path color="#2f3e1a" d="M560.7 84.4l3.9 -0.5l-3 -0.3l-3.9 0.5z"/><path color="#303e1a" d="M567.7 84.3l3.9 -0.5l-3.1 -0.4l-3.9 0.4z"/><path color="#313e1b" d="M574.7 84.4l3.9 -0.4l-3.1 -0.5l-3.9 0.4z"/><path color="#34401c" d="M581.7 84.5l3.9 -0.4l-3.1 -0.6l-3.9 0.4z"/><path color="#244217" d="M515.4 88.1l3.9 -1l-2.9 -0.2l-3.9 0.9z"/><path color="#263f17" d="M522.3 87.3l3.9 -0.9l-2.9 -0.2l-3.9 0.9z"/><path color="#283f18" d="M529.1 86.7l3.9 -0.8l-2.9 -0.2l-3.9 0.8z"/><path color="#2b3e19" d="M536 86.1l3.9 -0.8l-3 -0.2l-3.9 0.7z"/><path color="#2d3e19" d="M542.9 85.6l3.9 -0.7l-3 -0.3l-3.9 0.7z"/><path color="#2f3e1a" d="M549.8 85.3l3.9 -0.6l-3 -0.3l-3.9 0.6z"/><path color="#313e1a" d="M556.8 85l3.9 -0.6l-3 -0.4l-3.9 0.6z"/><path color="#333f1b" d="M563.8 84.9l3.9 -0.5l-3.1 -0.4l-3.9 0.5z"/><path color="#36411d" d="M570.8 84.9l3.9 -0.5l-3.1 -0.5l-3.9 0.5z"/><path color="#3a441e" d="M577.8 85l3.9 -0.5l-3.1 -0.6l-3.9 0.4z"/><path color="#3d4720" d="M584.8 85.2l3.9 -0.5l-3.1 -0.7l-3.9 0.4z"/><path color="#284619" d="M511.5 89.1l3.9 -1l-2.9 -0.2l-3.9 1z"/><path color="#2a4419" d="M518.3 88.3l3.9 -1l-2.9 -0.2l-3.9 1z"/><path color="#34411c" d="M545.9 86l3.9 -0.7l-3 -0.3l-3.9 0.7z"/><path color="#36411d" d="M552.8 85.7l3.9 -0.7l-3 -0.4l-3.9 0.6z"/><path color="#434b22" d="M580.9 85.7l3.9 -0.5l-3.1 -0.7l-3.9 0.5z"/><path color="#474e24" d="M587.9 86.1l3.9 -0.5l-3.1 -0.8l-3.9 0.5z"/><path color="#2c421a" d="M525.2 87.6l3.9 -0.9l-2.9 -0.2l-3.9 0.9z"/><path color="#2f411a" d="M532 87l3.9 -0.9l-3 -0.3l-3.9 0.8z"/><path color="#31401b" d="M538.9 86.4l3.9 -0.8l-3 -0.3l-3.9 0.8z"/><path color="#39431e" d="M559.8 85.5l3.9 -0.6l-3 -0.5l-3.9 0.6z"/><path color="#3c451f" d="M566.8 85.5l3.9 -0.6l-3.1 -0.5l-3.9 0.5z"/><path color="#404821" d="M573.8 85.5l3.9 -0.5l-3.1 -0.6l-3.9 0.5z"/><path color="#2c4b1b" d="M507.6 90.2l3.9 -1.1l-2.9 -0.3l-3.9 1.1z"/><path color="#2e481c" d="M514.4 89.4l3.9 -1.1l-2.9 -0.2l-3.9 1z"/><path color="#31461c" d="M521.2 88.6l3.9 -1l-2.9 -0.3l-3.9 1z"/><path color="#39451e" d="M541.9 86.8l3.9 -0.8l-3 -0.4l-3.9 0.8z"/><path color="#3c461f" d="M548.9 86.5l4 -0.8l-3 -0.4l-3.9 0.7z"/><path color="#3f4720" d="M555.9 86.2l4 -0.7l-3 -0.5l-3.9 0.7z"/><path color="#4a4e25" d="M576.9 86.3l4 -0.6l-3.1 -0.7l-3.9 0.5z"/><path color="#4e5227" d="M584 86.6l4 -0.5l-3.1 -0.8l-3.9 0.5z"/><path color="#525629" d="M591 87l4 -0.5l-3.1 -0.9l-3.9 0.5z"/><path color="#34451d" d="M528.1 87.9l3.9 -0.9l-2.9 -0.3l-3.9 0.9z"/><path color="#36451d" d="M535 87.3l3.9 -0.9l-3 -0.3l-3.9 0.9z"/><path color="#424922" d="M562.9 86.1l4 -0.6l-3.1 -0.6l-3.9 0.6z"/><path color="#464b23" d="M569.9 86.1l4 -0.6l-3.1 -0.7l-3.9 0.6z"/><path color="#304f1d" d="M503.7 91.4l3.9 -1.2l-2.9 -0.3l-3.9 1.2z"/><path color="#334c1e" d="M510.5 90.5l3.9 -1.2l-2.9 -0.3l-3.9 1.1z"/><path color="#364b1e" d="M517.3 89.7l3.9 -1.1l-2.9 -0.3l-3.9 1.1z"/><path color="#39491f" d="M524.2 88.9l3.9 -1l-2.9 -0.3l-3.9 1z"/><path color="#3c4920" d="M531.1 88.3l3.9 -1l-3 -0.3l-3.9 0.9z"/><path color="#3e4921" d="M538 87.7l4 -0.9l-3 -0.4l-3.9 0.9z"/><path color="#414a22" d="M544.9 87.3l4 -0.8l-3 -0.5l-3.9 0.8z"/><path color="#454b23" d="M551.9 87l4 -0.8l-3 -0.5l-4 0.8z"/><path color="#484d24" d="M558.9 86.8l4 -0.7l-3 -0.6l-4 0.7z"/><path color="#4c4f26" d="M565.9 86.8l4 -0.7l-3.1 -0.7l-4 0.6z"/><path color="#505227" d="M573 86.9l4 -0.6l-3.1 -0.8l-4 0.6z"/><path color="#545529" d="M580 87.2l4 -0.6l-3.1 -0.9l-4 0.6z"/><path color="#58592b" d="M587.1 87.6l4 -0.6l-3.1 -1l-4 0.5z"/><path color="#5d5d2d" d="M594.1 88.1l4 -0.6l-3.1 -1.1l-4 0.5z"/><path color="#34531f" d="M499.8 92.7l3.9 -1.3l-2.9 -0.3l-3.9 1.3z"/><path color="#375020" d="M506.6 91.8l3.9 -1.2l-2.9 -0.3l-3.9 1.2z"/><path color="#3a4f20" d="M513.4 90.9l3.9 -1.2l-2.9 -0.3l-3.9 1.2z"/><path color="#3e4e21" d="M520.2 90.1l3.9 -1.1l-2.9 -0.3l-3.9 1.1z"/><path color="#414d22" d="M527.1 89.3l4 -1.1l-2.9 -0.4l-3.9 1z"/><path color="#444d23" d="M534 88.7l4 -1l-3 -0.4l-3.9 1z"/><path color="#474e24" d="M541 88.2l4 -0.9l-3 -0.5l-4 0.9z"/><path color="#4b4f25" d="M547.9 87.9l4 -0.9l-3 -0.5l-4 0.8z"/><path color="#4f5127" d="M554.9 87.7l4 -0.8l-3 -0.6l-4 0.8z"/><path color="#525328" d="M561.9 87.6l4 -0.8l-3.1 -0.7l-4 0.7z"/><path color="#57552a" d="M569 87.7l4 -0.7l-3.1 -0.8l-4 0.7z"/><path color="#5b582c" d="M576 87.9l4 -0.7l-3.1 -0.9l-4 0.6z"/><path color="#5f5c2e" d="M583.1 88.2l4 -0.6l-3.1 -1l-4 0.6z"/><path color="#636030" d="M590.2 88.8l4 -0.6l-3.1 -1.1l-4 0.6z"/><path color="#686532" d="M597.3 89.4l4 -0.6l-3.1 -1.2l-4 0.6z"/><path color="#375721" d="M495.9 94.1l3.9 -1.4l-2.8 -0.3l-3.9 1.3z"/><path color="#3b5422" d="M502.6 93.1l3.9 -1.3l-2.9 -0.3l-3.9 1.3z"/><path color="#3f5323" d="M509.4 92.1l3.9 -1.3l-2.9 -0.3l-3.9 1.2z"/><path color="#425224" d="M516.3 91.3l3.9 -1.2l-2.9 -0.4l-3.9 1.2z"/><path color="#465124" d="M523.1 90.5l4 -1.2l-2.9 -0.4l-3.9 1.1z"/><path color="#495125" d="M530.1 89.8l4 -1.1l-3 -0.4l-4 1.1z"/><path color="#4d5227" d="M537 89.3l4 -1l-3 -0.5l-4 1z"/><path color="#515328" d="M544 88.8l4 -1l-3 -0.6l-4 0.9z"/><path color="#55552a" d="M550.9 88.6l4 -0.9l-3 -0.7l-4 0.9z"/><path color="#59572b" d="M558 88.4l4 -0.8l-3 -0.7l-4 0.8z"/><path color="#5d592d" d="M565 88.4l4 -0.8l-3.1 -0.8l-4 0.8z"/><path color="#605b2f" d="M572 88.6l4 -0.7l-3.1 -0.9l-4 0.7z"/><path color="#645d31" d="M579.1 88.9l4 -0.7l-3.1 -1l-4 0.7z"/><path color="#686133" d="M586.2 89.4l4 -0.7l-3.1 -1.1l-4 0.6z"/><path color="#6c6535" d="M593.3 90l4 -0.7l-3.1 -1.3l-4 0.6z"/><path color="#716a37" d="M600.4 90.8l4 -0.6l-3.1 -1.4l-4 0.6z"/><path color="#3b5b23" d="M492 95.6l3.9 -1.5l-2.8 -0.4l-3.9 1.4z"/><path color="#3f5924" d="M498.7 94.5l3.9 -1.4l-2.9 -0.4l-3.9 1.4z"/><path color="#4f5628" d="M526.1 91l4 -1.2l-3 -0.5l-4 1.2z"/><path color="#535629" d="M533 90.4l4 -1.1l-3 -0.5l-4 1.1z"/><path color="#625a30" d="M561 89.3l4 -0.9l-3.1 -0.9l-4 0.8z"/><path color="#655c32" d="M568.1 89.4l4 -0.8l-3.1 -1l-4 0.8z"/><path color="#75693b" d="M596.4 91.5l4 -0.7l-3.1 -1.4l-4 0.7z"/><path color="#7a6e3d" d="M603.5 92.4l4 -0.7l-3.1 -1.5l-4 0.6z"/><path color="#435725" d="M505.5 93.5l3.9 -1.4l-2.9 -0.4l-3.9 1.3z"/><path color="#475626" d="M512.3 92.6l3.9 -1.3l-2.9 -0.4l-3.9 1.3z"/><path color="#4b5527" d="M519.2 91.7l4 -1.2l-2.9 -0.4l-3.9 1.2z"/><path color="#57572b" d="M540 89.9l4 -1.1l-3 -0.6l-4 1z"/><path color="#5b592c" d="M547 89.5l4 -1l-3 -0.7l-4 1z"/><path color="#5f5a2e" d="M554 89.4l4 -0.9l-3 -0.8l-4 0.9z"/><path color="#685d35" d="M575.1 89.7l4 -0.8l-3.1 -1.1l-4 0.7z"/><path color="#6c6037" d="M582.2 90.2l4 -0.7l-3.1 -1.2l-4 0.7z"/><path color="#706439" d="M589.3 90.8l4 -0.7l-3.1 -1.3l-4 0.7z"/><path color="#3e5f24" d="M488.1 97.1l3.9 -1.5l-2.8 -0.4l-3.9 1.5z"/><path color="#425c26" d="M494.8 96l3.9 -1.5l-2.8 -0.4l-3.9 1.5z"/><path color="#475b27" d="M501.6 95l3.9 -1.5l-2.9 -0.4l-3.9 1.4z"/><path color="#545a2a" d="M522.1 92.3l4 -1.3l-2.9 -0.5l-4 1.2z"/><path color="#585a2c" d="M529 91.6l4 -1.2l-3 -0.6l-4 1.2z"/><path color="#5d5b2d" d="M536 91l4 -1.1l-3 -0.6l-4 1.1z"/><path color="#665c34" d="M557 90.3l4 -1l-3 -0.9l-4 0.9z"/><path color="#695c36" d="M564.1 90.4l4 -0.9l-3.1 -1l-4 0.9z"/><path color="#6c5e38" d="M571.1 90.6l4 -0.9l-3.1 -1.1l-4 0.8z"/><path color="#78673e" d="M592.4 92.2l4 -0.7l-3.1 -1.4l-4 0.7z"/><path color="#7d6d40" d="M599.5 93.1l4 -0.7l-3.1 -1.6l-4 0.7z"/><path color="#827342" d="M606.6 94.1l4 -0.7l-3.1 -1.7l-4 0.7z"/><path color="#4b5a28" d="M508.4 94l3.9 -1.4l-2.9 -0.4l-3.9 1.4z"/><path color="#505a29" d="M515.2 93.1l4 -1.3l-2.9 -0.5l-3.9 1.3z"/><path color="#615c2f" d="M543 90.6l4 -1.1l-3 -0.7l-4 1.1z"/><path color="#635c31" d="M550 90.4l4 -1l-3 -0.8l-4 1z"/><path color="#70603a" d="M578.2 91l4 -0.8l-3.1 -1.2l-4 0.8z"/><path color="#74633c" d="M585.3 91.5l4 -0.8l-3.1 -1.3l-4 0.7z"/><path color="#416326" d="M484.2 98.8l3.9 -1.6l-2.8 -0.4l-3.9 1.6z"/><path color="#466027" d="M490.9 97.6l3.9 -1.6l-2.8 -0.4l-3.9 1.5z"/><path color="#4b5f29" d="M497.6 96.5l3.9 -1.5l-2.9 -0.4l-3.9 1.5z"/><path color="#505e2a" d="M504.4 95.5l3.9 -1.5l-2.9 -0.5l-3.9 1.5z"/><path color="#545e2b" d="M511.3 94.5l4 -1.4l-2.9 -0.5l-3.9 1.4z"/><path color="#595e2c" d="M518.2 93.6l4 -1.4l-2.9 -0.5l-4 1.3z"/><path color="#5e5e2e" d="M525.1 92.9l4 -1.3l-3 -0.6l-4 1.3z"/><path color="#635f30" d="M532 92.3l4 -1.2l-3 -0.7l-4 1.2z"/><path color="#665e32" d="M539 91.8l4 -1.2l-3 -0.7l-4 1.1z"/><path color="#685d35" d="M546 91.5l4 -1.1l-3 -0.8l-4 1.1z"/><path color="#6b5d37" d="M553 91.3l4 -1.1l-3 -0.9l-4 1z"/><path color="#6d5d39" d="M560 91.3l4 -1l-3.1 -1l-4 1z"/><path color="#715e3c" d="M567.1 91.5l4 -0.9l-3.1 -1.1l-4 0.9z"/><path color="#74603e" d="M574.2 91.9l4 -0.9l-3.1 -1.2l-4 0.9z"/><path color="#786340" d="M581.3 92.4l4 -0.8l-3.1 -1.4l-4 0.8z"/><path color="#7c6642" d="M588.4 93.1l4 -0.8l-3.1 -1.5l-4 0.8z"/><path color="#806b44" d="M595.5 93.9l4 -0.8l-3.1 -1.6l-4 0.7z"/><path color="#857146" d="M602.6 94.9l4 -0.8l-3.1 -1.7l-4 0.7z"/><path color="#8a7847" d="M609.7 96l4 -0.8l-3.1 -1.9l-4 0.7z"/><path color="#436628" d="M480.3 100.5l3.9 -1.7l-2.8 -0.5l-3.9 1.7z"/><path color="#496429" d="M487 99.3l3.9 -1.7l-2.8 -0.5l-3.9 1.6z"/><path color="#4f632a" d="M493.7 98.1l3.9 -1.6l-2.8 -0.5l-3.9 1.6z"/><path color="#54622c" d="M500.5 97l3.9 -1.6l-2.9 -0.5l-3.9 1.5z"/><path color="#59622d" d="M507.3 96l4 -1.5l-2.9 -0.5l-3.9 1.5z"/><path color="#5e622f" d="M514.2 95.1l4 -1.5l-2.9 -0.6l-4 1.4z"/><path color="#636230" d="M521.1 94.3l4 -1.4l-2.9 -0.6l-4 1.4z"/><path color="#686332" d="M528 93.6l4 -1.3l-3 -0.7l-4 1.3z"/><path color="#6a6135" d="M535 93.1l4 -1.3l-3 -0.8l-4 1.2z"/><path color="#6d5f38" d="M542 92.7l4 -1.2l-3 -0.9l-4 1.2z"/><path color="#6f5e3a" d="M549 92.5l4 -1.2l-3 -1l-4 1.1z"/><path color="#725e3d" d="M556 92.4l4 -1.1l-3 -1.1l-4 1.1z"/><path color="#755f3f" d="M563.1 92.6l4 -1l-3.1 -1.2l-4 1z"/><path color="#786042" d="M570.2 92.8l4 -1l-3.1 -1.3l-4 0.9z"/><path color="#7c6244" d="M577.3 93.3l4 -0.9l-3.1 -1.4l-4 0.9z"/><path color="#806646" d="M584.4 93.9l4 -0.9l-3.1 -1.5l-4 0.8z"/><path color="#846a48" d="M591.5 94.7l4 -0.9l-3.1 -1.6l-4 0.8z"/><path color="#886f49" d="M598.6 95.7l4 -0.8l-3.1 -1.8l-4 0.8z"/><path color="#8d754b" d="M605.7 96.8l4 -0.8l-3.1 -1.9l-4 0.8z"/><path color="#927d4c" d="M612.8 98.1l4 -0.8l-3.1 -2l-4 0.8z"/><path color="#466a29" d="M476.4 102.3l3.9 -1.8l-2.8 -0.5l-3.9 1.7z"/><path color="#4c682b" d="M483.1 101l3.9 -1.8l-2.8 -0.5l-3.9 1.7z"/><path color="#52672c" d="M489.8 99.8l3.9 -1.7l-2.8 -0.5l-3.9 1.7z"/><path color="#57662e" d="M496.6 98.7l3.9 -1.7l-2.9 -0.5l-3.9 1.6z"/><path color="#5d662f" d="M503.4 97.6l4 -1.6l-2.9 -0.6l-3.9 1.6z"/><path color="#626631" d="M510.2 96.7l4 -1.6l-2.9 -0.6l-4 1.5z"/><path color="#686633" d="M517.1 95.8l4 -1.5l-2.9 -0.7l-4 1.5z"/><path color="#6d6635" d="M524 95.1l4 -1.4l-3 -0.7l-4 1.4z"/><path color="#6f6338" d="M531 94.5l4 -1.4l-3 -0.8l-4 1.3z"/><path color="#71613b" d="M538 94l4 -1.3l-3 -0.9l-4 1.3z"/><path color="#74603e" d="M545 93.7l4 -1.2l-3 -1l-4 1.2z"/><path color="#765f40" d="M552 93.6l4 -1.2l-3 -1.1l-4 1.2z"/><path color="#7a5f43" d="M559.1 93.7l4 -1.1l-3 -1.2l-4 1.1z"/><path color="#7d6045" d="M566.1 93.9l4 -1.1l-3.1 -1.3l-4 1z"/><path color="#806247" d="M573.2 94.3l4 -1l-3.1 -1.4l-4 1z"/><path color="#836549" d="M580.3 94.9l4 -1l-3.1 -1.6l-4 0.9z"/><path color="#87694b" d="M587.4 95.7l4 -0.9l-3.1 -1.7l-4 0.9z"/><path color="#8c6d4d" d="M594.6 96.6l4 -0.9l-3.1 -1.8l-4 0.9z"/><path color="#90734f" d="M601.7 97.7l4 -0.9l-3.1 -1.9l-4 0.8z"/><path color="#957a50" d="M608.8 98.9l4 -0.9l-3.1 -2.1l-4 0.8z"/><path color="#9a8251" d="M615.9 100.3l4 -0.9l-3.1 -2.2l-4 0.8z"/><path color="#676a33" d="M506.3 98.3l4 -1.6l-2.9 -0.6l-4 1.6z"/><path color="#6d6a35" d="M513.1 97.4l4 -1.6l-2.9 -0.7l-4 1.6z"/><path color="#786241" d="M541 95.1l4 -1.3l-3 -1l-4 1.3z"/><path color="#7b6144" d="M548 94.9l4 -1.3l-3 -1.1l-4 1.2z"/><path color="#87644a" d="M576.3 95.9l4 -1l-3.1 -1.6l-4 1z"/><path color="#8a674c" d="M583.4 96.7l4 -1l-3.1 -1.7l-4 1z"/><path color="#476e2a" d="M472.5 104.1l3.9 -1.9l-2.8 -0.6l-3.9 1.8z"/><path color="#4e6c2c" d="M479.2 102.9l3.9 -1.8l-2.8 -0.5l-3.9 1.8z"/><path color="#556a2e" d="M485.9 101.6l3.9 -1.8l-2.8 -0.5l-3.9 1.8z"/><path color="#5b6a2f" d="M492.6 100.4l3.9 -1.7l-2.8 -0.6l-3.9 1.7z"/><path color="#616931" d="M499.4 99.3l3.9 -1.7l-2.9 -0.6l-3.9 1.7z"/><path color="#716938" d="M520 96.6l4 -1.5l-2.9 -0.8l-4 1.5z"/><path color="#73663b" d="M527 95.9l4 -1.5l-3 -0.8l-4 1.4z"/><path color="#76633e" d="M534 95.4l4 -1.4l-3 -0.9l-4 1.4z"/><path color="#7e6046" d="M555 94.9l4 -1.2l-3 -1.2l-4 1.2z"/><path color="#806147" d="M562.1 95.1l4 -1.2l-3.1 -1.4l-4 1.1z"/><path color="#836248" d="M569.2 95.4l4 -1.1l-3.1 -1.5l-4 1.1z"/><path color="#8f6c4f" d="M590.5 97.5l4 -1l-3.1 -1.8l-4 0.9z"/><path color="#937152" d="M597.6 98.6l4 -0.9l-3.1 -2l-4 0.9z"/><path color="#987854" d="M604.7 99.8l4 -0.9l-3.1 -2.1l-4 0.9z"/><path color="#9c7f54" d="M611.8 101.2l4 -0.9l-3.1 -2.2l-4 0.9z"/><path color="#a18855" d="M618.9 102.7l4 -0.9l-3.1 -2.4l-4 0.9z"/><path color="#49712b" d="M468.6 106.1l3.9 -1.9l-2.8 -0.6l-3.9 1.9z"/><path color="#506f2d" d="M475.3 104.8l3.9 -1.9l-2.8 -0.6l-3.9 1.9z"/><path color="#586e2f" d="M482 103.5l3.9 -1.9l-2.8 -0.6l-3.9 1.8z"/><path color="#6b6e35" d="M502.3 100l4 -1.7l-2.9 -0.7l-3.9 1.7z"/><path color="#726e37" d="M509.2 99.1l4 -1.7l-2.9 -0.7l-4 1.6z"/><path color="#756c3a" d="M516 98.2l4 -1.6l-2.9 -0.8l-4 1.6z"/><path color="#7d6444" d="M536.9 96.5l4 -1.4l-3 -1.1l-4 1.4z"/><path color="#7f6247" d="M544 96.3l4 -1.4l-3 -1.2l-4 1.3z"/><path color="#826147" d="M551 96.2l4 -1.3l-3 -1.3l-4 1.3z"/><path color="#8a634c" d="M572.3 97.1l4 -1.1l-3.1 -1.6l-4 1.1z"/><path color="#8e664e" d="M579.4 97.7l4 -1.1l-3.1 -1.8l-4 1z"/><path color="#926a50" d="M586.5 98.6l4 -1l-3.1 -1.9l-4 1z"/><path color="#9f7d58" d="M607.8 102.1l4 -1l-3.1 -2.3l-4 0.9z"/><path color="#a48558" d="M614.9 103.7l4 -0.9l-3.1 -2.4l-4 0.9z"/><path color="#a98f58" d="M622 105.3l4 -1l-3.1 -2.6l-4 0.9z"/><path color="#5e6d31" d="M488.7 102.3l3.9 -1.8l-2.8 -0.6l-3.9 1.8z"/><path color="#646d33" d="M495.5 101.1l3.9 -1.8l-2.9 -0.6l-3.9 1.7z"/><path color="#77693d" d="M523 97.5l4 -1.6l-3 -0.9l-4 1.5z"/><path color="#7a6641" d="M529.9 96.9l4 -1.5l-3 -1l-4 1.5z"/><path color="#846149" d="M558.1 96.3l4 -1.3l-3 -1.4l-4 1.2z"/><path color="#87624a" d="M565.2 96.6l4 -1.2l-3.1 -1.5l-4 1.2z"/><path color="#966f52" d="M593.6 99.6l4 -1l-3.1 -2l-4 1z"/><path color="#9b7555" d="M600.7 100.8l4 -1l-3.1 -2.1l-4 0.9z"/><path color="#4a752c" d="M464.7 108.1l3.9 -2l-2.8 -0.7l-3.9 2z"/><path color="#52732e" d="M471.4 106.7l3.9 -2l-2.8 -0.6l-3.9 1.9z"/><path color="#5a7231" d="M478.1 105.4l3.9 -1.9l-2.8 -0.6l-3.9 1.9z"/><path color="#617133" d="M484.8 104.2l3.9 -1.9l-2.8 -0.6l-3.9 1.9z"/><path color="#677135" d="M491.5 103l3.9 -1.9l-2.8 -0.7l-3.9 1.8z"/><path color="#6f7237" d="M498.3 101.9l4 -1.8l-2.9 -0.7l-3.9 1.8z"/><path color="#767239" d="M505.2 100.9l4 -1.8l-2.9 -0.8l-4 1.7z"/><path color="#79703c" d="M512.1 100l4 -1.7l-2.9 -0.8l-4 1.7z"/><path color="#7c6c40" d="M519 99.2l4 -1.7l-2.9 -0.9l-4 1.6z"/><path color="#7e6943" d="M525.9 98.6l4 -1.6l-3 -1l-4 1.6z"/><path color="#816647" d="M532.9 98.1l4 -1.6l-3 -1.1l-4 1.5z"/><path color="#836449" d="M539.9 97.8l4 -1.5l-3 -1.2l-4 1.4z"/><path color="#866249" d="M547 97.6l4 -1.4l-3 -1.3l-4 1.4z"/><path color="#88624a" d="M554 97.7l4 -1.4l-3 -1.4l-4 1.3z"/><path color="#8b624c" d="M561.1 97.9l4 -1.3l-3 -1.5l-4 1.3z"/><path color="#8e634d" d="M568.2 98.3l4 -1.2l-3.1 -1.7l-4 1.2z"/><path color="#91654f" d="M575.3 98.9l4 -1.2l-3.1 -1.8l-4 1.1z"/><path color="#956951" d="M582.4 99.7l4 -1.1l-3.1 -1.9l-4 1.1z"/><path color="#996d54" d="M589.5 100.7l4 -1.1l-3.1 -2.1l-4 1z"/><path color="#9d7356" d="M596.7 101.8l4 -1l-3.1 -2.2l-4 1z"/><path color="#a27a59" d="M603.8 103.2l4 -1l-3.1 -2.3l-4 1z"/><path color="#a7835c" d="M610.9 104.6l4 -1l-3.1 -2.5l-4 1z"/><path color="#ab8c5c" d="M618 106.3l4 -1l-3.1 -2.6l-4 0.9z"/><path color="#af975b" d="M625 108.1l4 -1l-3 -2.7l-4 1z"/><path color="#4b782d" d="M460.9 110.1l3.9 -2.1l-2.7 -0.7l-3.9 2z"/><path color="#53762f" d="M467.5 108.8l3.9 -2l-2.8 -0.7l-3.9 2z"/><path color="#5c7532" d="M474.1 107.5l3.9 -2l-2.8 -0.7l-3.9 2z"/><path color="#637534" d="M480.9 106.2l3.9 -2l-2.8 -0.7l-3.9 1.9z"/><path color="#6a7536" d="M487.6 104.9l3.9 -2l-2.8 -0.7l-3.9 1.9z"/><path color="#727538" d="M494.4 103.8l4 -1.9l-2.9 -0.8l-3.9 1.9z"/><path color="#7a763b" d="M501.2 102.7l4 -1.9l-2.9 -0.8l-4 1.8z"/><path color="#7e733e" d="M508.1 101.8l4 -1.8l-2.9 -0.9l-4 1.8z"/><path color="#806f42" d="M515 101l4 -1.8l-2.9 -1l-4 1.7z"/><path color="#836c46" d="M521.9 100.3l4 -1.7l-3 -1l-4 1.7z"/><path color="#86694a" d="M528.9 99.7l4 -1.7l-3 -1.1l-4 1.6z"/><path color="#88664b" d="M535.9 99.4l4 -1.6l-3 -1.2l-4 1.6z"/><path color="#8a644b" d="M542.9 99.2l4 -1.5l-3 -1.4l-4 1.5z"/><path color="#8c634c" d="M550 99.1l4 -1.5l-3 -1.5l-4 1.4z"/><path color="#8f634e" d="M557.1 99.3l4.1 -1.4l-3 -1.6l-4 1.4z"/><path color="#91634f" d="M564.2 99.7l4.1 -1.3l-3 -1.7l-4 1.3z"/><path color="#956551" d="M571.3 100.2l4.1 -1.3l-3.1 -1.8l-4 1.2z"/><path color="#986853" d="M578.4 100.9l4.1 -1.2l-3.1 -2l-4 1.2z"/><path color="#9c6c55" d="M585.5 101.8l4.1 -1.2l-3.1 -2.1l-4 1.1z"/><path color="#a07157" d="M592.6 102.9l4.1 -1.1l-3.1 -2.2l-4 1.1z"/><path color="#a4785a" d="M599.7 104.2l4 -1.1l-3.1 -2.4l-4 1z"/><path color="#a9805d" d="M606.8 105.7l4 -1l-3.1 -2.5l-4 1z"/><path color="#ae895f" d="M613.9 107.3l4 -1l-3.1 -2.6l-4 1z"/><path color="#b2945f" d="M621 109.1l4 -1l-3 -2.8l-4 1z"/><path color="#b69f5d" d="M628.1 111l4 -1l-3 -2.9l-4 1z"/><path color="#4b7b2e" d="M457 112.3l3.9 -2.1l-2.7 -0.7l-3.9 2.1z"/><path color="#547a30" d="M463.6 110.9l3.9 -2.1l-2.8 -0.7l-3.9 2.1z"/><path color="#5d7933" d="M470.3 109.6l3.9 -2.1l-2.8 -0.7l-3.9 2z"/><path color="#657835" d="M476.9 108.2l3.9 -2.1l-2.8 -0.7l-3.9 2z"/><path color="#75793a" d="M490.4 105.8l3.9 -2l-2.8 -0.8l-3.9 2z"/><path color="#7d7a3d" d="M497.2 104.7l4 -2l-2.9 -0.9l-4 1.9z"/><path color="#827740" d="M504.1 103.7l4 -1.9l-2.9 -0.9l-4 1.9z"/><path color="#847344" d="M511 102.8l4 -1.9l-2.9 -1l-4 1.8z"/><path color="#876f48" d="M517.9 102.1l4 -1.8l-2.9 -1.1l-4 1.8z"/><path color="#8a6b4c" d="M524.9 101.5l4 -1.8l-3 -1.2l-4 1.7z"/><path color="#8c684d" d="M531.9 101.1l4 -1.7l-3 -1.3l-4 1.7z"/><path color="#8e664e" d="M538.9 100.8l4 -1.6l-3 -1.4l-4 1.6z"/><path color="#90644e" d="M545.9 100.7l4 -1.6l-3 -1.5l-4 1.5z"/><path color="#93634f" d="M553 100.8l4.1 -1.5l-3 -1.6l-4 1.5z"/><path color="#956451" d="M560.1 101.1l4.1 -1.4l-3 -1.7l-4.1 1.4z"/><path color="#986552" d="M567.2 101.6l4.1 -1.4l-3 -1.9l-4.1 1.3z"/><path color="#9b6754" d="M574.3 102.2l4.1 -1.3l-3.1 -2l-4.1 1.3z"/><path color="#9f6b56" d="M581.4 103.1l4.1 -1.3l-3.1 -2.1l-4.1 1.2z"/><path color="#a37058" d="M588.5 104.1l4.1 -1.2l-3.1 -2.3l-4.1 1.2z"/><path color="#a7765b" d="M595.7 105.4l4.1 -1.2l-3.1 -2.4l-4.1 1.1z"/><path color="#b08661" d="M609.9 108.4l4 -1.1l-3 -2.7l-4 1z"/><path color="#b49162" d="M617 110.2l4 -1.1l-3 -2.8l-4 1z"/><path color="#b89c61" d="M624 112.1l4 -1.1l-3 -3l-4 1z"/><path color="#bca95f" d="M631.1 114.2l4 -1.1l-3 -3.1l-4 1z"/><path color="#6d7837" d="M483.7 107l3.9 -2l-2.8 -0.8l-3.9 2z"/><path color="#ab7d5e" d="M602.8 106.8l4.1 -1.1l-3.1 -2.5l-4 1.1z"/><path color="#8e6f4f" d="M520.9 103.4l4 -1.9l-3 -1.2l-4 1.8z"/><path color="#906b4f" d="M527.8 102.9l4 -1.8l-3 -1.3l-4 1.8z"/><path color="#996553" d="M556 102.6l4.1 -1.5l-3 -1.8l-4.1 1.5z"/><path color="#9c6554" d="M563.1 103l4.1 -1.5l-3 -1.9l-4.1 1.4z"/><path color="#4b7e2e" d="M453.1 114.5l3.9 -2.2l-2.7 -0.8l-3.8 2.1z"/><path color="#547d31" d="M459.7 113.1l3.9 -2.2l-2.7 -0.8l-3.9 2.1z"/><path color="#5e7c34" d="M466.4 111.7l3.9 -2.2l-2.8 -0.8l-3.9 2.1z"/><path color="#667c36" d="M473 110.4l3.9 -2.1l-2.8 -0.8l-3.9 2.1z"/><path color="#6f7c39" d="M479.7 109.1l3.9 -2.1l-2.8 -0.8l-3.9 2.1z"/><path color="#777d3b" d="M486.5 107.9l3.9 -2.1l-2.8 -0.8l-3.9 2z"/><path color="#807e3e" d="M493.3 106.7l4 -2l-2.9 -0.9l-3.9 2z"/><path color="#867c42" d="M500.1 105.7l4 -2l-2.9 -1l-4 2z"/><path color="#887746" d="M507 104.8l4 -2l-2.9 -1l-4 1.9z"/><path color="#8b724b" d="M513.9 104l4 -1.9l-2.9 -1.1l-4 1.9z"/><path color="#926850" d="M534.9 102.5l4 -1.7l-3 -1.4l-4 1.7z"/><path color="#946651" d="M541.9 102.4l4.1 -1.7l-3 -1.5l-4 1.6z"/><path color="#976552" d="M549 102.4l4.1 -1.6l-3 -1.7l-4 1.6z"/><path color="#9f6756" d="M570.2 103.7l4.1 -1.4l-3 -2l-4.1 1.4z"/><path color="#a26a58" d="M577.4 104.4l4.1 -1.4l-3.1 -2.2l-4.1 1.3z"/><path color="#a66f5a" d="M584.5 105.4l4.1 -1.3l-3.1 -2.3l-4.1 1.3z"/><path color="#aa745c" d="M591.6 106.6l4.1 -1.2l-3.1 -2.4l-4.1 1.2z"/><path color="#ae7b5f" d="M598.7 108l4.1 -1.2l-3.1 -2.6l-4.1 1.2z"/><path color="#b28462" d="M605.8 109.6l4.1 -1.2l-3 -2.7l-4.1 1.1z"/><path color="#b78e66" d="M612.9 111.3l4.1 -1.1l-3 -2.9l-4 1.1z"/><path color="#bb9964" d="M620 113.2l4 -1.1l-3 -3l-4 1.1z"/><path color="#bea562" d="M627 115.3l4 -1.1l-3 -3.1l-4 1.1z"/><path color="#c2b360" d="M634.1 117.5l4 -1.1l-3 -3.3l-4 1.1z"/><path color="#4b812f" d="M449.3 116.7l3.8 -2.2l-2.7 -0.8l-3.8 2.2z"/><path color="#548031" d="M455.9 115.3l3.9 -2.2l-2.7 -0.8l-3.9 2.2z"/><path color="#5e7f34" d="M462.5 113.9l3.9 -2.2l-2.8 -0.8l-3.9 2.2z"/><path color="#79803d" d="M482.6 110l3.9 -2.2l-2.8 -0.9l-3.9 2.1z"/><path color="#828140" d="M489.3 108.9l4 -2.1l-2.9 -0.9l-3.9 2.1z"/><path color="#898043" d="M496.2 107.8l4 -2.1l-2.9 -1l-4 2z"/><path color="#927251" d="M516.8 105.3l4 -2l-2.9 -1.3l-4 1.9z"/><path color="#946e52" d="M523.8 104.8l4 -1.9l-3 -1.4l-4 1.9z"/><path color="#966b52" d="M530.8 104.4l4 -1.8l-3 -1.5l-4 1.8z"/><path color="#9d6655" d="M552 104.3l4.1 -1.7l-3 -1.8l-4.1 1.6z"/><path color="#a06656" d="M559.1 104.6l4.1 -1.6l-3 -2l-4.1 1.5z"/><path color="#a36857" d="M566.2 105.2l4.1 -1.5l-3 -2.1l-4.1 1.5z"/><path color="#ad735d" d="M587.5 108l4.1 -1.3l-3 -2.5l-4.1 1.3z"/><path color="#b07a60" d="M594.6 109.3l4.1 -1.3l-3 -2.6l-4.1 1.2z"/><path color="#b58263" d="M601.7 110.8l4.1 -1.2l-3 -2.8l-4.1 1.2z"/><path color="#c0a266" d="M623 116.4l4.1 -1.1l-3 -3.2l-4 1.1z"/><path color="#c3af63" d="M630 118.6l4 -1.1l-3 -3.3l-4 1.1z"/><path color="#c7be60" d="M637 121l4 -1.2l-3 -3.5l-4 1.1z"/><path color="#677f37" d="M469.1 112.6l3.9 -2.2l-2.8 -0.8l-3.9 2.2z"/><path color="#707f3a" d="M475.8 111.3l3.9 -2.2l-2.8 -0.9l-3.9 2.1z"/><path color="#8c7b48" d="M503 106.8l4 -2.1l-2.9 -1.1l-4 2z"/><path color="#8f764c" d="M509.9 106l4 -2l-2.9 -1.2l-4 2z"/><path color="#986853" d="M537.8 104.2l4.1 -1.8l-3 -1.6l-4 1.7z"/><path color="#9b6754" d="M544.9 104.1l4.1 -1.7l-3 -1.7l-4.1 1.7z"/><path color="#a66a59" d="M573.3 105.9l4.1 -1.5l-3 -2.2l-4.1 1.4z"/><path color="#a96e5b" d="M580.4 106.8l4.1 -1.4l-3 -2.3l-4.1 1.4z"/><path color="#b98b66" d="M608.8 112.5l4.1 -1.2l-3 -2.9l-4.1 1.2z"/><path color="#bd9668" d="M615.9 114.4l4.1 -1.2l-3 -3l-4.1 1.1z"/><path color="#4a842f" d="M445.5 119l3.8 -2.3l-2.7 -0.9l-3.8 2.3z"/><path color="#548332" d="M452 117.6l3.9 -2.3l-2.7 -0.9l-3.8 2.2z"/><path color="#5e8235" d="M458.6 116.2l3.9 -2.3l-2.7 -0.9l-3.9 2.2z"/><path color="#688238" d="M465.2 114.9l3.9 -2.3l-2.8 -0.9l-3.9 2.2z"/><path color="#71833b" d="M471.9 113.5l3.9 -2.3l-2.8 -0.9l-3.9 2.2z"/><path color="#7b843e" d="M478.6 112.3l3.9 -2.2l-2.8 -0.9l-3.9 2.2z"/><path color="#848541" d="M485.4 111.1l3.9 -2.2l-2.8 -1l-3.9 2.2z"/><path color="#8d8544" d="M492.2 110l4 -2.2l-2.9 -1.1l-4 2.1z"/><path color="#908049" d="M499 109l4 -2.1l-2.9 -1.1l-4 2.1z"/><path color="#937b4e" d="M505.9 108.1l4 -2.1l-2.9 -1.2l-4 2.1z"/><path color="#967653" d="M512.8 107.4l4 -2.1l-2.9 -1.3l-4 2z"/><path color="#987254" d="M519.8 106.8l4 -2l-3 -1.4l-4 2z"/><path color="#9a6e54" d="M526.8 106.3l4 -1.9l-3 -1.5l-4 1.9z"/><path color="#9d6b55" d="M533.8 106.1l4.1 -1.9l-3 -1.6l-4 1.8z"/><path color="#9f6956" d="M540.8 106l4.1 -1.8l-3 -1.7l-4.1 1.8z"/><path color="#a16857" d="M547.9 106.1l4.1 -1.8l-3 -1.9l-4.1 1.7z"/><path color="#a46758" d="M555 106.3l4.1 -1.7l-3 -2l-4.1 1.7z"/><path color="#a76859" d="M562.1 106.8l4.1 -1.6l-3 -2.1l-4.1 1.6z"/><path color="#a96a5b" d="M569.2 107.5l4.1 -1.6l-3 -2.3l-4.1 1.5z"/><path color="#ad6e5d" d="M576.3 108.3l4.1 -1.5l-3 -2.4l-4.1 1.5z"/><path color="#b0735f" d="M583.4 109.4l4.1 -1.4l-3 -2.5l-4.1 1.4z"/><path color="#b37961" d="M590.6 110.7l4.1 -1.4l-3 -2.7l-4.1 1.3z"/><path color="#b78064" d="M597.7 112.1l4.1 -1.3l-3 -2.8l-4.1 1.3z"/><path color="#bb8967" d="M604.8 113.8l4.1 -1.3l-3 -2.9l-4.1 1.2z"/><path color="#c0946a" d="M611.9 115.6l4.1 -1.2l-3 -3.1l-4.1 1.2z"/><path color="#c39f69" d="M618.9 117.6l4.1 -1.2l-3 -3.2l-4.1 1.2z"/><path color="#c6ac66" d="M626 119.8l4.1 -1.2l-3 -3.3l-4.1 1.1z"/><path color="#c8ba63" d="M633 122.1l4 -1.2l-3 -3.5l-4 1.1z"/><path color="#c5c360" d="M640 124.6l4 -1.2l-2.9 -3.6l-4 1.2z"/><path color="#48872f" d="M441.6 121.4l3.8 -2.3l-2.7 -0.9l-3.8 2.3z"/><path color="#538632" d="M448.2 120l3.8 -2.3l-2.7 -0.9l-3.8 2.3z"/><path color="#5d8535" d="M454.7 118.6l3.9 -2.3l-2.7 -0.9l-3.9 2.3z"/><path color="#688539" d="M461.3 117.2l3.9 -2.3l-2.8 -0.9l-3.9 2.3z"/><path color="#72863c" d="M468 115.9l3.9 -2.3l-2.8 -0.9l-3.9 2.3z"/><path color="#7c873f" d="M474.7 114.6l3.9 -2.3l-2.8 -1l-3.9 2.3z"/><path color="#868842" d="M481.4 113.4l3.9 -2.3l-2.8 -1l-3.9 2.2z"/><path color="#908a45" d="M488.2 112.2l4 -2.3l-2.9 -1.1l-3.9 2.2z"/><path color="#94854a" d="M495.1 111.2l4 -2.2l-2.9 -1.2l-4 2.2z"/><path color="#97804f" d="M501.9 110.3l4 -2.2l-2.9 -1.3l-4 2.1z"/><path color="#9a7b54" d="M508.8 109.5l4 -2.1l-2.9 -1.4l-4 2.1z"/><path color="#9d7656" d="M515.8 108.9l4 -2.1l-2.9 -1.5l-4 2.1z"/><path color="#9f7257" d="M522.7 108.4l4 -2.1l-3 -1.6l-4 2z"/><path color="#a16e57" d="M529.7 108.1l4 -2l-3 -1.7l-4 1.9z"/><path color="#a36c58" d="M536.8 107.9l4.1 -1.9l-3 -1.8l-4.1 1.9z"/><path color="#a56a59" d="M543.8 107.9l4.1 -1.9l-3 -1.9l-4.1 1.8z"/><path color="#a8695a" d="M550.9 108.1l4.1 -1.8l-3 -2l-4.1 1.8z"/><path color="#ab6a5b" d="M558 108.5l4.1 -1.7l-3 -2.2l-4.1 1.7z"/><path color="#ad6b5d" d="M565.1 109.1l4.1 -1.7l-3 -2.3l-4.1 1.6z"/><path color="#b06e5e" d="M572.2 109.9l4.1 -1.6l-3 -2.4l-4.1 1.6z"/><path color="#b37260" d="M579.3 110.9l4.1 -1.5l-3 -2.6l-4.1 1.5z"/><path color="#b77863" d="M586.5 112.1l4.1 -1.5l-3 -2.7l-4.1 1.4z"/><path color="#ba7f65" d="M593.6 113.5l4.1 -1.4l-3 -2.8l-4.1 1.4z"/><path color="#be8868" d="M600.7 115.1l4.1 -1.4l-3 -3l-4.1 1.3z"/><path color="#c2926b" d="M607.8 116.9l4.1 -1.3l-3 -3.1l-4.1 1.3z"/><path color="#c69d6c" d="M614.8 118.9l4.1 -1.3l-3 -3.2l-4.1 1.2z"/><path color="#c8a969" d="M621.9 121l4.1 -1.2l-3 -3.4l-4.1 1.2z"/><path color="#cab766" d="M628.9 123.4l4.1 -1.2l-3 -3.5l-4.1 1.2z"/><path color="#cbc462" d="M635.9 125.8l4 -1.2l-2.9 -3.7l-4 1.2z"/><path color="#c2c860" d="M642.9 128.5l4 -1.2l-2.9 -3.8l-4 1.2z"/><path color="#47892f" d="M437.8 123.8l3.8 -2.4l-2.7 -1l-3.8 2.3z"/><path color="#518832" d="M444.3 122.4l3.8 -2.4l-2.7 -0.9l-3.8 2.3z"/><path color="#5c8835" d="M450.9 121l3.9 -2.4l-2.7 -0.9l-3.8 2.3z"/><path color="#688839" d="M457.5 119.6l3.9 -2.4l-2.7 -1l-3.9 2.3z"/><path color="#7c8a40" d="M470.8 116.9l3.9 -2.4l-2.8 -1l-3.9 2.3z"/><path color="#878c43" d="M477.5 115.7l3.9 -2.4l-2.8 -1.1l-3.9 2.3z"/><path color="#918d46" d="M484.3 114.6l4 -2.3l-2.8 -1.2l-3.9 2.3z"/><path color="#978a4b" d="M491.1 113.5l4 -2.3l-2.9 -1.2l-4 2.3z"/><path color="#9e8056" d="M504.8 111.8l4 -2.2l-2.9 -1.4l-4 2.2z"/><path color="#a17b59" d="M511.7 111.1l4 -2.2l-2.9 -1.5l-4 2.1z"/><path color="#a37659" d="M518.7 110.5l4 -2.2l-3 -1.6l-4 2.1z"/><path color="#a5725a" d="M525.7 110.2l4 -2.1l-3 -1.7l-4 2.1z"/><path color="#a76f5a" d="M532.7 109.9l4.1 -2l-3 -1.8l-4 2z"/><path color="#aa6d5b" d="M539.8 109.9l4.1 -2l-3 -2l-4.1 1.9z"/><path color="#ac6c5c" d="M546.8 110.1l4.1 -1.9l-3 -2.1l-4.1 1.9z"/><path color="#af6c5d" d="M553.9 110.4l4.1 -1.9l-3 -2.2l-4.1 1.8z"/><path color="#b16d5f" d="M561 110.9l4.1 -1.8l-3 -2.3l-4.1 1.7z"/><path color="#b46f60" d="M568.1 111.7l4.1 -1.7l-3 -2.5l-4.1 1.7z"/><path color="#b77362" d="M575.2 112.6l4.1 -1.6l-3 -2.6l-4.1 1.6z"/><path color="#bd7e66" d="M589.5 115.1l4.1 -1.5l-3 -2.9l-4.1 1.5z"/><path color="#c18669" d="M596.6 116.6l4.1 -1.5l-3 -3l-4.1 1.4z"/><path color="#c5906c" d="M603.7 118.3l4.1 -1.4l-3 -3.1l-4.1 1.4z"/><path color="#c99b6f" d="M610.8 120.2l4.1 -1.3l-3 -3.3l-4.1 1.3z"/><path color="#cdb469" d="M624.9 124.6l4.1 -1.3l-3 -3.6l-4.1 1.2z"/><path color="#cfc364" d="M631.9 127.1l4.1 -1.3l-2.9 -3.7l-4.1 1.2z"/><path color="#c7c962" d="M638.8 129.7l4 -1.2l-2.9 -3.8l-4 1.2z"/><path color="#bccd5f" d="M645.8 132.5l4 -1.3l-2.9 -4l-4 1.2z"/><path color="#72893c" d="M464.1 118.2l3.9 -2.4l-2.8 -1l-3.9 2.3z"/><path color="#9a8550" d="M497.9 112.6l4 -2.3l-2.9 -1.3l-4 2.2z"/><path color="#ba7864" d="M582.4 113.7l4.1 -1.6l-3 -2.7l-4.1 1.5z"/><path color="#cba76d" d="M617.8 122.3l4.1 -1.3l-3 -3.4l-4.1 1.3z"/><path color="#ae715e" d="M535.7 112l4.1 -2.1l-3 -2l-4.1 2z"/><path color="#b06f5e" d="M542.7 112.1l4.1 -2l-3 -2.1l-4.1 2z"/><path color="#448b2f" d="M434 126.2l3.8 -2.4l-2.7 -1l-3.8 2.4z"/><path color="#4f8a32" d="M440.5 124.8l3.8 -2.4l-2.7 -1l-3.8 2.4z"/><path color="#5b8a35" d="M447 123.4l3.9 -2.4l-2.7 -1l-3.8 2.4z"/><path color="#668b39" d="M453.6 122l3.9 -2.4l-2.7 -1l-3.9 2.4z"/><path color="#728c3d" d="M460.2 120.7l3.9 -2.4l-2.8 -1l-3.9 2.4z"/><path color="#7c8d40" d="M466.9 119.4l3.9 -2.4l-2.8 -1.1l-3.9 2.4z"/><path color="#878f44" d="M473.6 118.1l3.9 -2.4l-2.8 -1.1l-3.9 2.4z"/><path color="#929147" d="M480.3 117l3.9 -2.4l-2.8 -1.2l-3.9 2.4z"/><path color="#9a904c" d="M487.1 115.9l4 -2.4l-2.9 -1.3l-4 2.3z"/><path color="#9e8a51" d="M494 114.9l4 -2.4l-2.9 -1.4l-4 2.3z"/><path color="#a28557" d="M500.8 114.1l4 -2.3l-2.9 -1.5l-4 2.3z"/><path color="#a5805c" d="M507.7 113.4l4 -2.3l-2.9 -1.6l-4 2.2z"/><path color="#a77b5c" d="M514.7 112.8l4 -2.2l-2.9 -1.7l-4 2.2z"/><path color="#a9775c" d="M521.7 112.4l4 -2.2l-3 -1.8l-4 2.2z"/><path color="#ab735d" d="M528.7 112.1l4.1 -2.1l-3 -1.9l-4 2.1z"/><path color="#b36e60" d="M549.8 112.4l4.1 -2l-3 -2.3l-4.1 1.9z"/><path color="#b56f61" d="M556.9 112.8l4.1 -1.9l-3 -2.4l-4.1 1.9z"/><path color="#b87162" d="M564 113.5l4.1 -1.8l-3 -2.5l-4.1 1.8z"/><path color="#bb7464" d="M571.1 114.3l4.1 -1.8l-3 -2.6l-4.1 1.7z"/><path color="#be7866" d="M578.3 115.4l4.1 -1.7l-3 -2.8l-4.1 1.6z"/><path color="#c17e68" d="M585.4 116.7l4.1 -1.6l-3 -2.9l-4.1 1.6z"/><path color="#c4866a" d="M592.5 118.1l4.1 -1.6l-3 -3l-4.1 1.5z"/><path color="#c78f6d" d="M599.6 119.8l4.1 -1.5l-3 -3.2l-4.1 1.5z"/><path color="#cb9a70" d="M606.7 121.7l4.1 -1.4l-3 -3.3l-4.1 1.4z"/><path color="#cea570" d="M613.7 123.7l4.1 -1.4l-3 -3.5l-4.1 1.3z"/><path color="#cfb26c" d="M620.8 126l4.1 -1.3l-3 -3.6l-4.1 1.3z"/><path color="#d1c167" d="M627.8 128.4l4.1 -1.3l-2.9 -3.7l-4.1 1.3z"/><path color="#cdca64" d="M634.8 131l4.1 -1.3l-2.9 -3.9l-4.1 1.3z"/><path color="#c2ce61" d="M641.7 133.8l4 -1.3l-2.9 -4l-4 1.2z"/><path color="#b6d25e" d="M648.7 136.7l4 -1.3l-2.9 -4.2l-4 1.3z"/><path color="#428d2e" d="M430.2 128.6l3.8 -2.5l-2.7 -1l-3.8 2.4z"/><path color="#4d8d32" d="M436.7 127.3l3.8 -2.5l-2.7 -1l-3.8 2.4z"/><path color="#598d35" d="M443.2 125.9l3.8 -2.5l-2.7 -1l-3.8 2.4z"/><path color="#7c9041" d="M463 121.8l3.9 -2.5l-2.8 -1.1l-3.9 2.4z"/><path color="#879244" d="M469.7 120.6l3.9 -2.5l-2.8 -1.2l-3.9 2.4z"/><path color="#929448" d="M476.4 119.4l3.9 -2.5l-2.8 -1.3l-3.9 2.4z"/><path color="#a58a57" d="M496.8 116.5l4 -2.4l-2.9 -1.5l-4 2.4z"/><path color="#a9855d" d="M503.7 115.7l4 -2.4l-2.9 -1.6l-4 2.3z"/><path color="#ab805e" d="M510.7 115.1l4 -2.3l-2.9 -1.7l-4 2.3z"/><path color="#b27560" d="M531.6 114.2l4.1 -2.2l-3 -2.1l-4.1 2.1z"/><path color="#b47361" d="M538.7 114.2l4.1 -2.1l-3 -2.2l-4.1 2.1z"/><path color="#b77262" d="M545.7 114.4l4.1 -2.1l-3 -2.3l-4.1 2z"/><path color="#be7666" d="M567 116.2l4.1 -1.9l-3 -2.7l-4.1 1.8z"/><path color="#c17a68" d="M574.2 117.2l4.1 -1.8l-3 -2.8l-4.1 1.8z"/><path color="#c47f6a" d="M581.3 118.4l4.1 -1.7l-3 -3l-4.1 1.7z"/><path color="#ce9971" d="M602.6 123.2l4.1 -1.5l-3 -3.4l-4.1 1.5z"/><path color="#d1a473" d="M609.7 125.2l4.1 -1.5l-3 -3.5l-4.1 1.4z"/><path color="#d2b16f" d="M616.7 127.4l4.1 -1.4l-3 -3.6l-4.1 1.4z"/><path color="#c7cf63" d="M637.7 135.1l4.1 -1.3l-2.9 -4l-4.1 1.3z"/><path color="#bbd260" d="M644.6 138l4 -1.3l-2.9 -4.2l-4 1.3z"/><path color="#add65d" d="M651.5 141l4 -1.3l-2.8 -4.3l-4 1.3z"/><path color="#658d39" d="M449.7 124.5l3.9 -2.5l-2.7 -1.1l-3.9 2.4z"/><path color="#718f3d" d="M456.3 123.1l3.9 -2.5l-2.7 -1.1l-3.9 2.4z"/><path color="#9d964c" d="M483.2 118.3l4 -2.5l-2.8 -1.3l-3.9 2.4z"/><path color="#a19052" d="M490 117.4l4 -2.4l-2.9 -1.4l-4 2.4z"/><path color="#ae7c5f" d="M517.6 114.7l4 -2.3l-2.9 -1.8l-4 2.2z"/><path color="#b0785f" d="M524.6 114.3l4.1 -2.3l-3 -1.9l-4 2.2z"/><path color="#b97263" d="M552.8 114.8l4.1 -2l-3 -2.4l-4.1 2z"/><path color="#bc7364" d="M559.9 115.4l4.1 -1.9l-3 -2.6l-4.1 1.9z"/><path color="#c7866c" d="M588.4 119.8l4.1 -1.7l-3 -3.1l-4.1 1.6z"/><path color="#ca8f6e" d="M595.5 121.4l4.1 -1.6l-3 -3.2l-4.1 1.6z"/><path color="#d4be6b" d="M623.7 129.8l4.1 -1.4l-2.9 -3.8l-4.1 1.3z"/><path color="#d3cc66" d="M630.7 132.3l4.1 -1.3l-2.9 -3.9l-4.1 1.3z"/><path color="#3f8f2e" d="M426.4 131.1l3.8 -2.5l-2.7 -1.1l-3.8 2.5z"/><path color="#4a8f31" d="M432.8 129.8l3.8 -2.5l-2.7 -1.1l-3.8 2.5z"/><path color="#568f35" d="M439.3 128.4l3.8 -2.5l-2.7 -1.1l-3.8 2.5z"/><path color="#629039" d="M445.9 127l3.9 -2.5l-2.7 -1.1l-3.8 2.5z"/><path color="#6f913d" d="M452.5 125.7l3.9 -2.5l-2.7 -1.1l-3.9 2.5z"/><path color="#7b9341" d="M459.1 124.4l3.9 -2.5l-2.8 -1.2l-3.9 2.5z"/><path color="#869545" d="M465.8 123.1l3.9 -2.5l-2.8 -1.2l-3.9 2.5z"/><path color="#929748" d="M472.5 122l3.9 -2.5l-2.8 -1.3l-3.9 2.5z"/><path color="#9e994c" d="M479.2 120.9l3.9 -2.5l-2.8 -1.4l-3.9 2.5z"/><path color="#a49652" d="M486 119.9l4 -2.5l-2.9 -1.5l-4 2.5z"/><path color="#a89058" d="M492.9 119l4 -2.5l-2.9 -1.6l-4 2.4z"/><path color="#ac8b5d" d="M499.7 118.2l4 -2.5l-2.9 -1.7l-4 2.4z"/><path color="#b08661" d="M506.6 117.6l4 -2.4l-2.9 -1.8l-4 2.4z"/><path color="#b28162" d="M513.6 117.1l4 -2.4l-2.9 -1.9l-4 2.3z"/><path color="#b47d62" d="M520.6 116.7l4 -2.4l-3 -2l-4 2.3z"/><path color="#b67a63" d="M527.6 116.5l4.1 -2.3l-3 -2.1l-4.1 2.3z"/><path color="#b97763" d="M534.6 116.5l4.1 -2.3l-3 -2.2l-4.1 2.2z"/><path color="#bb7664" d="M541.7 116.6l4.1 -2.2l-3 -2.4l-4.1 2.1z"/><path color="#bd7565" d="M548.7 117l4.1 -2.1l-3 -2.5l-4.1 2.1z"/><path color="#c07666" d="M555.8 117.5l4.1 -2.1l-3 -2.6l-4.1 2z"/><path color="#c27868" d="M562.9 118.2l4.1 -2l-3 -2.7l-4.1 1.9z"/><path color="#c57c6a" d="M570 119.1l4.1 -1.9l-3 -2.9l-4.1 1.9z"/><path color="#c8816b" d="M577.2 120.3l4.1 -1.8l-3 -3l-4.1 1.8z"/><path color="#cb876e" d="M584.3 121.6l4.1 -1.8l-3 -3.1l-4.1 1.7z"/><path color="#ce8f70" d="M591.4 123.1l4.1 -1.7l-3 -3.3l-4.1 1.7z"/><path color="#d19873" d="M598.5 124.8l4.1 -1.6l-3 -3.4l-4.1 1.6z"/><path color="#d4a476" d="M605.5 126.8l4.1 -1.6l-3 -3.5l-4.1 1.5z"/><path color="#d5af72" d="M612.6 128.9l4.1 -1.5l-3 -3.7l-4.1 1.5z"/><path color="#d6bd6e" d="M619.6 131.2l4.1 -1.4l-2.9 -3.8l-4.1 1.4z"/><path color="#d7cb68" d="M626.7 133.7l4.1 -1.4l-2.9 -3.9l-4.1 1.4z"/><path color="#cdd065" d="M633.6 136.4l4.1 -1.4l-2.9 -4.1l-4.1 1.3z"/><path color="#c0d362" d="M640.6 139.3l4.1 -1.3l-2.9 -4.2l-4.1 1.3z"/><path color="#b2d65e" d="M647.5 142.3l4 -1.3l-2.8 -4.3l-4 1.3z"/><path color="#a1d95a" d="M654.3 145.5l4 -1.3l-2.8 -4.5l-4 1.3z"/><path color="#3c902d" d="M422.6 133.6l3.8 -2.5l-2.6 -1.1l-3.8 2.5z"/><path color="#479030" d="M429 132.3l3.8 -2.5l-2.7 -1.1l-3.8 2.5z"/><path color="#539134" d="M435.5 130.9l3.8 -2.5l-2.7 -1.1l-3.8 2.5z"/><path color="#609238" d="M442 129.6l3.8 -2.5l-2.7 -1.1l-3.8 2.5z"/><path color="#6d933d" d="M448.6 128.2l3.9 -2.6l-2.7 -1.2l-3.9 2.5z"/><path color="#799541" d="M455.2 126.9l3.9 -2.6l-2.8 -1.2l-3.9 2.5z"/><path color="#859745" d="M461.9 125.7l3.9 -2.6l-2.8 -1.3l-3.9 2.5z"/><path color="#919a49" d="M468.6 124.5l3.9 -2.6l-2.8 -1.4l-3.9 2.5z"/><path color="#9d9c4d" d="M475.3 123.4l3.9 -2.6l-2.8 -1.4l-3.9 2.5z"/><path color="#a79d52" d="M482.1 122.4l4 -2.6l-2.8 -1.5l-3.9 2.5z"/><path color="#ab9758" d="M488.9 121.5l4 -2.6l-2.9 -1.6l-4 2.5z"/><path color="#af915e" d="M495.7 120.7l4 -2.5l-2.9 -1.7l-4 2.5z"/><path color="#b48c63" d="M502.6 120.1l4 -2.5l-2.9 -1.8l-4 2.5z"/><path color="#b68764" d="M509.6 119.5l4 -2.5l-2.9 -1.9l-4 2.4z"/><path color="#b88365" d="M516.5 119.2l4 -2.5l-2.9 -2l-4 2.4z"/><path color="#ba7f65" d="M523.5 118.9l4.1 -2.4l-3 -2.2l-4 2.4z"/><path color="#bd7c66" d="M530.5 118.8l4.1 -2.4l-3 -2.3l-4.1 2.3z"/><path color="#bf7a67" d="M537.6 118.9l4.1 -2.3l-3 -2.4l-4.1 2.3z"/><path color="#c17968" d="M544.6 119.2l4.1 -2.2l-3 -2.5l-4.1 2.2z"/><path color="#c47a69" d="M551.7 119.7l4.1 -2.2l-3 -2.7l-4.1 2.1z"/><path color="#c67b6a" d="M558.8 120.3l4.1 -2.1l-3 -2.8l-4.1 2.1z"/><path color="#c97e6c" d="M565.9 121.2l4.1 -2l-3 -2.9l-4.1 2z"/><path color="#cb836d" d="M573 122.2l4.1 -2l-3 -3l-4.1 1.9z"/><path color="#ce896f" d="M580.1 123.5l4.1 -1.9l-3 -3.2l-4.1 1.8z"/><path color="#d19072" d="M587.3 124.9l4.1 -1.8l-3 -3.3l-4.1 1.8z"/><path color="#d49974" d="M594.4 126.6l4.1 -1.7l-3 -3.4l-4.1 1.7z"/><path color="#d7a477" d="M601.4 128.4l4.1 -1.7l-3 -3.6l-4.1 1.6z"/><path color="#d9af75" d="M608.5 130.5l4.1 -1.6l-3 -3.7l-4.1 1.6z"/><path color="#d9bc71" d="M615.5 132.7l4.1 -1.5l-2.9 -3.8l-4.1 1.5z"/><path color="#daca6b" d="M622.6 135.2l4.1 -1.5l-2.9 -4l-4.1 1.4z"/><path color="#d3d267" d="M629.5 137.8l4.1 -1.4l-2.9 -4.1l-4.1 1.4z"/><path color="#c5d463" d="M636.5 140.7l4.1 -1.4l-2.9 -4.2l-4.1 1.4z"/><path color="#b7d660" d="M643.4 143.7l4.1 -1.4l-2.8 -4.4l-4.1 1.3z"/><path color="#a6d85b" d="M650.3 146.8l4 -1.3l-2.8 -4.5l-4 1.3z"/><path color="#91da55" d="M657.1 150.1l4 -1.3l-2.8 -4.6l-4 1.3z"/><path color="#38922c" d="M418.8 136.2l3.8 -2.5l-2.6 -1.1l-3.8 2.5z"/><path color="#449230" d="M425.2 134.8l3.8 -2.5l-2.7 -1.1l-3.8 2.5z"/><path color="#509234" d="M431.7 133.5l3.8 -2.6l-2.7 -1.2l-3.8 2.5z"/><path color="#789841" d="M451.3 129.6l3.9 -2.6l-2.7 -1.3l-3.9 2.6z"/><path color="#849a45" d="M458 128.3l3.9 -2.6l-2.8 -1.3l-3.9 2.6z"/><path color="#909d49" d="M464.6 127.2l3.9 -2.6l-2.8 -1.4l-3.9 2.6z"/><path color="#9c9f4d" d="M471.4 126.1l3.9 -2.6l-2.8 -1.5l-3.9 2.6z"/><path color="#ae9e57" d="M484.9 124.2l4 -2.6l-2.9 -1.7l-4 2.6z"/><path color="#b2985d" d="M491.8 123.4l4 -2.6l-2.9 -1.8l-4 2.6z"/><path color="#b79363" d="M498.6 122.7l4 -2.6l-2.9 -1.9l-4 2.5z"/><path color="#ba8e67" d="M505.5 122.1l4 -2.6l-2.9 -2l-4 2.5z"/><path color="#bf8568" d="M519.5 121.4l4 -2.5l-3 -2.2l-4 2.5z"/><path color="#c18269" d="M526.5 121.3l4.1 -2.5l-3 -2.3l-4.1 2.4z"/><path color="#c38069" d="M533.5 121.4l4.1 -2.4l-3 -2.5l-4.1 2.4z"/><path color="#c67e6a" d="M540.6 121.6l4.1 -2.4l-3 -2.6l-4.1 2.3z"/><path color="#c87e6b" d="M547.6 122l4.1 -2.3l-3 -2.7l-4.1 2.2z"/><path color="#ca7f6c" d="M554.7 122.6l4.1 -2.2l-3 -2.8l-4.1 2.2z"/><path color="#cf8670" d="M568.9 124.3l4.1 -2.1l-3 -3.1l-4.1 2z"/><path color="#d28b71" d="M576 125.5l4.1 -2l-3 -3.2l-4.1 2z"/><path color="#d49273" d="M583.1 126.9l4.1 -1.9l-3 -3.3l-4.1 1.9z"/><path color="#d79a76" d="M590.2 128.4l4.1 -1.9l-3 -3.5l-4.1 1.8z"/><path color="#dbaf78" d="M604.4 132.2l4.1 -1.7l-3 -3.7l-4.1 1.7z"/><path color="#dbbb73" d="M611.4 134.4l4.1 -1.6l-2.9 -3.9l-4.1 1.6z"/><path color="#dbc86d" d="M618.5 136.8l4.1 -1.6l-2.9 -4l-4.1 1.5z"/><path color="#d7d268" d="M625.5 139.3l4.1 -1.5l-2.9 -4.1l-4.1 1.5z"/><path color="#abd85d" d="M646.2 148.2l4 -1.4l-2.8 -4.5l-4.1 1.4z"/><path color="#96da56" d="M653.1 151.5l4 -1.3l-2.8 -4.7l-4 1.3z"/><path color="#80dc50" d="M659.8 154.9l4 -1.3l-2.7 -4.8l-4 1.3z"/><path color="#5d9438" d="M438.2 132.1l3.8 -2.6l-2.7 -1.2l-3.8 2.5z"/><path color="#6a953c" d="M444.7 130.8l3.9 -2.6l-2.7 -1.2l-3.8 2.5z"/><path color="#a9a251" d="M478.1 125.1l3.9 -2.6l-2.8 -1.6l-3.9 2.6z"/><path color="#bc8967" d="M512.5 121.7l4 -2.5l-2.9 -2.1l-4 2.5z"/><path color="#cd826e" d="M561.8 123.3l4.1 -2.2l-3 -3l-4.1 2.1z"/><path color="#daa478" d="M597.3 130.2l4.1 -1.8l-3 -3.6l-4.1 1.7z"/><path color="#cad465" d="M632.4 142.1l4.1 -1.4l-2.9 -4.2l-4.1 1.4z"/><path color="#bbd661" d="M639.3 145.1l4.1 -1.4l-2.8 -4.4l-4.1 1.4z"/><path color="#34922b" d="M415 138.7l3.8 -2.5l-2.6 -1.2l-3.8 2.5z"/><path color="#40932f" d="M421.4 137.4l3.8 -2.6l-2.6 -1.2l-3.8 2.5z"/><path color="#4d9433" d="M427.9 136l3.8 -2.6l-2.7 -1.2l-3.8 2.5z"/><path color="#599537" d="M434.4 134.7l3.8 -2.6l-2.7 -1.2l-3.8 2.6z"/><path color="#67973b" d="M440.9 133.4l3.8 -2.6l-2.7 -1.3l-3.8 2.6z"/><path color="#759a40" d="M447.5 132.2l3.9 -2.6l-2.7 -1.3l-3.9 2.6z"/><path color="#819c45" d="M454.1 131l3.9 -2.7l-2.8 -1.4l-3.9 2.6z"/><path color="#8e9f49" d="M460.7 129.8l3.9 -2.7l-2.8 -1.5l-3.9 2.6z"/><path color="#9ba24d" d="M467.4 128.8l3.9 -2.7l-2.8 -1.5l-3.9 2.6z"/><path color="#a7a551" d="M474.2 127.8l3.9 -2.7l-2.8 -1.6l-3.9 2.6z"/><path color="#b1a557" d="M481 126.8l4 -2.7l-2.9 -1.7l-3.9 2.6z"/><path color="#b59f5d" d="M487.8 126l4 -2.7l-2.9 -1.8l-4 2.6z"/><path color="#ba9a63" d="M494.6 125.3l4 -2.7l-2.9 -1.9l-4 2.6z"/><path color="#be9569" d="M501.5 124.8l4 -2.7l-2.9 -2l-4 2.6z"/><path color="#c1906a" d="M508.5 124.3l4 -2.6l-2.9 -2.2l-4 2.6z"/><path color="#c38c6b" d="M515.4 124l4 -2.6l-2.9 -2.3l-4 2.5z"/><path color="#c5886b" d="M522.4 123.9l4.1 -2.6l-3 -2.4l-4 2.5z"/><path color="#c8866c" d="M529.4 123.9l4.1 -2.5l-3 -2.5l-4.1 2.5z"/><path color="#ca846d" d="M536.5 124l4.1 -2.5l-3 -2.6l-4.1 2.4z"/><path color="#cc836e" d="M543.5 124.4l4.1 -2.4l-3 -2.8l-4.1 2.4z"/><path color="#ce846f" d="M550.6 124.9l4.1 -2.4l-3 -2.9l-4.1 2.3z"/><path color="#d18670" d="M557.7 125.6l4.1 -2.3l-3 -3l-4.1 2.2z"/><path color="#d38972" d="M564.8 126.5l4.1 -2.2l-3 -3.1l-4.1 2.2z"/><path color="#d58e73" d="M571.9 127.6l4.1 -2.1l-3 -3.3l-4.1 2.1z"/><path color="#d69374" d="M579 128.9l4.1 -2.1l-3 -3.4l-4.1 2z"/><path color="#d89a76" d="M586.1 130.4l4.1 -2l-3 -3.5l-4.1 1.9z"/><path color="#daa378" d="M593.2 132.1l4.1 -1.9l-3 -3.6l-4.1 1.9z"/><path color="#dbad79" d="M600.3 134l4.1 -1.8l-3 -3.8l-4.1 1.8z"/><path color="#dbb874" d="M607.3 136.1l4.1 -1.7l-2.9 -3.9l-4.1 1.7z"/><path color="#dbc56f" d="M614.4 138.4l4.1 -1.7l-2.9 -4l-4.1 1.6z"/><path color="#dad269" d="M621.4 140.9l4.1 -1.6l-2.9 -4.1l-4.1 1.6z"/><path color="#cdd466" d="M628.3 143.6l4.1 -1.5l-2.9 -4.3l-4.1 1.5z"/><path color="#bed562" d="M635.3 146.5l4.1 -1.5l-2.8 -4.4l-4.1 1.4z"/><path color="#afd85e" d="M642.2 149.6l4.1 -1.4l-2.8 -4.5l-4.1 1.4z"/><path color="#9bd958" d="M649 152.9l4 -1.4l-2.8 -4.7l-4 1.4z"/><path color="#86db52" d="M655.8 156.3l4 -1.4l-2.7 -4.8l-4 1.3z"/><path color="#6fdd4b" d="M662.5 159.9l4 -1.3l-2.7 -4.9l-4 1.3z"/><path color="#31932a" d="M411.2 141.2l3.8 -2.5l-2.6 -1.2l-3.8 2.5z"/><path color="#3c932e" d="M417.6 139.9l3.8 -2.6l-2.6 -1.2l-3.8 2.5z"/><path color="#499532" d="M424.1 138.6l3.8 -2.6l-2.7 -1.2l-3.8 2.6z"/><path color="#719b3f" d="M443.6 134.8l3.9 -2.7l-2.7 -1.4l-3.8 2.6z"/><path color="#7f9e44" d="M450.2 133.7l3.9 -2.7l-2.7 -1.4l-3.9 2.6z"/><path color="#8ca149" d="M456.8 132.5l3.9 -2.7l-2.8 -1.5l-3.9 2.7z"/><path color="#b2ab56" d="M477 129.6l3.9 -2.7l-2.8 -1.8l-3.9 2.7z"/><path color="#b8a65c" d="M483.8 128.8l4 -2.7l-2.9 -1.9l-4 2.7z"/><path color="#bca162" d="M490.6 128.1l4 -2.7l-2.9 -2l-4 2.7z"/><path color="#c7936e" d="M511.4 126.7l4 -2.7l-2.9 -2.3l-4 2.6z"/><path color="#c9906e" d="M518.4 126.5l4.1 -2.7l-2.9 -2.4l-4 2.6z"/><path color="#cc8d6f" d="M525.4 126.5l4.1 -2.6l-3 -2.6l-4.1 2.6z"/><path color="#d38a72" d="M546.5 127.4l4.1 -2.5l-3 -2.9l-4.1 2.4z"/><path color="#d48b72" d="M553.6 128l4.1 -2.4l-3 -3.1l-4.1 2.4z"/><path color="#d48c73" d="M560.7 128.9l4.1 -2.3l-3 -3.2l-4.1 2.3z"/><path color="#d89b76" d="M582 132.5l4.1 -2.1l-3 -3.6l-4.1 2.1z"/><path color="#daa378" d="M589.1 134.1l4.1 -2l-3 -3.7l-4.1 2z"/><path color="#dbac79" d="M596.1 135.9l4.1 -1.9l-3 -3.8l-4.1 1.9z"/><path color="#dbd16a" d="M617.3 142.6l4.1 -1.7l-2.9 -4.2l-4.1 1.7z"/><path color="#cfd366" d="M624.2 145.2l4.1 -1.6l-2.9 -4.3l-4.1 1.6z"/><path color="#c2d563" d="M631.2 148.1l4.1 -1.5l-2.9 -4.4l-4.1 1.5z"/><path color="#8bdb53" d="M651.8 157.7l4 -1.4l-2.8 -4.8l-4 1.4z"/><path color="#74dd4c" d="M658.5 161.2l4 -1.4l-2.7 -4.9l-4 1.4z"/><path color="#5cdf45" d="M665.2 165l4 -1.3l-2.7 -5.1l-4 1.3z"/><path color="#569636" d="M430.5 137.3l3.8 -2.6l-2.7 -1.3l-3.8 2.6z"/><path color="#63993b" d="M437.1 136.1l3.8 -2.6l-2.7 -1.3l-3.8 2.6z"/><path color="#98a44d" d="M463.5 131.5l3.9 -2.7l-2.8 -1.6l-3.9 2.7z"/><path color="#a5a851" d="M470.2 130.5l3.9 -2.7l-2.8 -1.7l-3.9 2.7z"/><path color="#c19c68" d="M497.5 127.5l4 -2.7l-2.9 -2.1l-4 2.7z"/><path color="#c5986d" d="M504.4 127l4 -2.7l-2.9 -2.2l-4 2.7z"/><path color="#ce8b70" d="M532.4 126.6l4.1 -2.6l-3 -2.7l-4.1 2.5z"/><path color="#d08a71" d="M539.4 126.9l4.1 -2.5l-3 -2.8l-4.1 2.5z"/><path color="#d58f73" d="M567.8 129.9l4.1 -2.3l-3 -3.3l-4.1 2.2z"/><path color="#d69475" d="M574.9 131.1l4.1 -2.2l-3 -3.4l-4.1 2.1z"/><path color="#dbb775" d="M603.2 138l4.1 -1.8l-2.9 -3.9l-4.1 1.8z"/><path color="#dbc36f" d="M610.2 140.2l4.1 -1.8l-2.9 -4l-4.1 1.7z"/><path color="#b2d75f" d="M638.1 151.1l4.1 -1.5l-2.8 -4.5l-4.1 1.5z"/><path color="#a0d959" d="M645 154.3l4.1 -1.4l-2.8 -4.7l-4.1 1.4z"/><path color="#2c9329" d="M407.5 143.8l3.8 -2.5l-2.6 -1.2l-3.8 2.5z"/><path color="#38942c" d="M413.8 142.5l3.8 -2.6l-2.6 -1.2l-3.8 2.5z"/><path color="#459531" d="M420.3 141.2l3.8 -2.6l-2.6 -1.3l-3.8 2.6z"/><path color="#529735" d="M426.7 139.9l3.8 -2.6l-2.7 -1.3l-3.8 2.6z"/><path color="#5f9a3a" d="M433.2 138.7l3.8 -2.6l-2.7 -1.3l-3.8 2.6z"/><path color="#6d9d3f" d="M439.8 137.5l3.9 -2.7l-2.7 -1.4l-3.8 2.6z"/><path color="#7ca044" d="M446.3 136.4l3.9 -2.7l-2.7 -1.5l-3.9 2.7z"/><path color="#89a348" d="M453 135.3l3.9 -2.7l-2.8 -1.6l-3.9 2.7z"/><path color="#96a74d" d="M459.6 134.2l3.9 -2.7l-2.8 -1.6l-3.9 2.7z"/><path color="#a3aa51" d="M466.3 133.3l3.9 -2.8l-2.8 -1.7l-3.9 2.7z"/><path color="#b0ae56" d="M473.1 132.4l3.9 -2.8l-2.8 -1.8l-3.9 2.7z"/><path color="#baae5b" d="M479.9 131.6l4 -2.8l-2.9 -1.9l-3.9 2.7z"/><path color="#bfa961" d="M486.7 130.9l4 -2.8l-2.9 -2l-4 2.7z"/><path color="#c3a467" d="M493.5 130.3l4 -2.8l-2.9 -2.2l-4 2.7z"/><path color="#c8a06d" d="M500.4 129.8l4 -2.8l-2.9 -2.3l-4 2.7z"/><path color="#cb9b70" d="M507.4 129.5l4 -2.8l-2.9 -2.4l-4 2.7z"/><path color="#ce9771" d="M514.3 129.3l4 -2.7l-2.9 -2.5l-4 2.7z"/><path color="#d09472" d="M521.3 129.2l4.1 -2.7l-3 -2.6l-4.1 2.7z"/><path color="#d29272" d="M528.3 129.3l4.1 -2.7l-3 -2.7l-4.1 2.6z"/><path color="#d49073" d="M535.3 129.6l4.1 -2.6l-3 -2.9l-4.1 2.6z"/><path color="#d58f73" d="M542.4 130l4.1 -2.6l-3 -3l-4.1 2.5z"/><path color="#d58f73" d="M549.5 130.5l4.1 -2.5l-3 -3.1l-4.1 2.5z"/><path color="#d59073" d="M556.6 131.3l4.1 -2.5l-3 -3.2l-4.1 2.4z"/><path color="#d69274" d="M563.6 132.3l4.1 -2.4l-3 -3.4l-4.1 2.3z"/><path color="#d79675" d="M570.7 133.4l4.1 -2.3l-3 -3.5l-4.1 2.3z"/><path color="#d89c76" d="M577.8 134.7l4.1 -2.2l-3 -3.6l-4.1 2.2z"/><path color="#daa378" d="M584.9 136.3l4.1 -2.1l-3 -3.7l-4.1 2.1z"/><path color="#dbac79" d="M592 138l4.1 -2.1l-2.9 -3.8l-4.1 2z"/><path color="#dbb675" d="M599.1 139.9l4.1 -2l-2.9 -4l-4.1 1.9z"/><path color="#dbc270" d="M606.1 142.1l4.1 -1.9l-2.9 -4.1l-4.1 1.8z"/><path color="#dbcf6b" d="M613.1 144.4l4.1 -1.8l-2.9 -4.2l-4.1 1.8z"/><path color="#d2d367" d="M620.1 146.9l4.1 -1.7l-2.9 -4.3l-4.1 1.7z"/><path color="#c4d563" d="M627.1 149.7l4.1 -1.6l-2.9 -4.4l-4.1 1.6z"/><path color="#b6d75f" d="M634 152.6l4.1 -1.6l-2.8 -4.6l-4.1 1.5z"/><path color="#a5d95b" d="M640.9 155.8l4.1 -1.5l-2.8 -4.7l-4.1 1.5z"/><path color="#8fda54" d="M647.7 159.1l4 -1.4l-2.8 -4.8l-4.1 1.4z"/><path color="#79dc4e" d="M654.5 162.6l4 -1.4l-2.7 -4.9l-4 1.4z"/><path color="#61df47" d="M661.2 166.3l4 -1.3l-2.7 -5.1l-4 1.4z"/><path color="#48e13f" d="M667.9 170.2l4 -1.3l-2.6 -5.2l-4 1.3z"/><path color="#289227" d="M403.7 146.3l3.8 -2.5l-2.6 -1.2l-3.8 2.5z"/><path color="#34942b" d="M410.1 145l3.8 -2.5l-2.6 -1.2l-3.8 2.5z"/><path color="#41952f" d="M416.5 143.8l3.8 -2.6l-2.6 -1.3l-3.8 2.6z"/><path color="#4e9834" d="M422.9 142.5l3.8 -2.6l-2.7 -1.3l-3.8 2.6z"/><path color="#699e3d" d="M435.9 140.2l3.8 -2.7l-2.7 -1.4l-3.8 2.6z"/><path color="#78a243" d="M442.5 139.1l3.9 -2.7l-2.7 -1.5l-3.9 2.7z"/><path color="#86a548" d="M449.1 138l3.9 -2.7l-2.8 -1.6l-3.9 2.7z"/><path color="#93a94c" d="M455.7 137l3.9 -2.8l-2.8 -1.7l-3.9 2.7z"/><path color="#adb055" d="M469.1 135.2l3.9 -2.8l-2.8 -1.9l-3.9 2.8z"/><path color="#bab45a" d="M475.9 134.4l3.9 -2.8l-2.8 -2l-3.9 2.8z"/><path color="#c1b160" d="M482.7 133.7l4 -2.9l-2.9 -2.1l-4 2.8z"/><path color="#c6ac66" d="M489.6 133.2l4 -2.9l-2.9 -2.2l-4 2.8z"/><path color="#caa86c" d="M496.4 132.7l4 -2.9l-2.9 -2.3l-4 2.8z"/><path color="#cfa471" d="M503.3 132.3l4 -2.8l-2.9 -2.4l-4 2.8z"/><path color="#d2a074" d="M510.3 132.1l4 -2.8l-2.9 -2.6l-4 2.8z"/><path color="#d49c75" d="M517.2 132l4.1 -2.8l-2.9 -2.7l-4 2.7z"/><path color="#d69a75" d="M524.2 132.1l4.1 -2.8l-3 -2.8l-4.1 2.7z"/><path color="#d79775" d="M531.3 132.3l4.1 -2.7l-3 -2.9l-4.1 2.7z"/><path color="#d69475" d="M538.3 132.7l4.1 -2.7l-3 -3l-4.1 2.6z"/><path color="#d69374" d="M545.4 133.2l4.1 -2.6l-3 -3.2l-4.1 2.6z"/><path color="#d69474" d="M552.4 133.9l4.1 -2.6l-3 -3.3l-4.1 2.5z"/><path color="#d79675" d="M559.5 134.8l4.1 -2.5l-3 -3.4l-4.1 2.5z"/><path color="#d79976" d="M566.6 135.8l4.1 -2.4l-3 -3.5l-4.1 2.4z"/><path color="#d99e77" d="M573.7 137.1l4.1 -2.4l-3 -3.6l-4.1 2.3z"/><path color="#daa578" d="M580.8 138.5l4.1 -2.3l-3 -3.8l-4.1 2.2z"/><path color="#dbad79" d="M587.9 140.2l4.1 -2.2l-2.9 -3.9l-4.1 2.1z"/><path color="#dbb675" d="M594.9 142l4.1 -2.1l-2.9 -4l-4.1 2.1z"/><path color="#dbc170" d="M602 144.1l4.1 -2l-2.9 -4.1l-4.1 2z"/><path color="#d3d367" d="M616 148.8l4.1 -1.8l-2.9 -4.3l-4.1 1.8z"/><path color="#c6d464" d="M623 151.4l4.1 -1.7l-2.9 -4.5l-4.1 1.7z"/><path color="#b8d660" d="M629.9 154.3l4.1 -1.6l-2.8 -4.6l-4.1 1.6z"/><path color="#a8d85c" d="M636.8 157.3l4.1 -1.6l-2.8 -4.7l-4.1 1.6z"/><path color="#7edc4f" d="M650.5 164l4 -1.4l-2.7 -4.9l-4 1.4z"/><path color="#66de48" d="M657.2 167.7l4 -1.4l-2.7 -5.1l-4 1.4z"/><path color="#4ee041" d="M663.9 171.5l4 -1.3l-2.7 -5.2l-4 1.3z"/><path color="#3ce245" d="M670.5 175.5l4 -1.3l-2.6 -5.3l-4 1.3z"/><path color="#5b9b39" d="M429.4 141.3l3.8 -2.6l-2.7 -1.4l-3.8 2.6z"/><path color="#a0ac51" d="M462.4 136l3.9 -2.8l-2.8 -1.8l-3.9 2.7z"/><path color="#dbcd6b" d="M609 146.3l4.1 -1.9l-2.9 -4.2l-4.1 1.9z"/><path color="#94da56" d="M643.7 160.6l4.1 -1.5l-2.8 -4.8l-4.1 1.5z"/><path color="#d1ac70" d="M499.3 135.2l4 -2.9l-2.9 -2.5l-4 2.9z"/><path color="#d9a178" d="M569.6 139.6l4.1 -2.5l-3 -3.7l-4.1 2.4z"/><path color="#30932a" d="M406.3 147.5l3.8 -2.5l-2.6 -1.3l-3.8 2.5z"/><path color="#3c952e" d="M412.7 146.3l3.8 -2.6l-2.6 -1.3l-3.8 2.5z"/><path color="#499833" d="M419.1 145.1l3.8 -2.6l-2.6 -1.3l-3.8 2.6z"/><path color="#659f3c" d="M432.1 142.8l3.8 -2.7l-2.7 -1.5l-3.8 2.6z"/><path color="#73a341" d="M438.6 141.8l3.9 -2.7l-2.7 -1.6l-3.8 2.7z"/><path color="#82a747" d="M445.2 140.7l3.9 -2.7l-2.7 -1.6l-3.9 2.7z"/><path color="#8fab4b" d="M451.8 139.8l3.9 -2.8l-2.8 -1.7l-3.9 2.7z"/><path color="#aab255" d="M465.2 138l3.9 -2.8l-2.8 -1.9l-3.9 2.8z"/><path color="#b7b659" d="M472 137.3l3.9 -2.9l-2.8 -2l-3.9 2.8z"/><path color="#c3b95e" d="M478.8 136.6l4 -2.9l-2.9 -2.2l-3.9 2.8z"/><path color="#c8b464" d="M485.6 136.1l4 -2.9l-2.9 -2.3l-4 2.9z"/><path color="#d5a975" d="M506.3 135l4 -2.9l-2.9 -2.6l-4 2.8z"/><path color="#d8a578" d="M513.2 134.9l4 -2.9l-2.9 -2.7l-4 2.8z"/><path color="#d9a178" d="M520.2 134.9l4.1 -2.9l-2.9 -2.9l-4.1 2.8z"/><path color="#d89a76" d="M534.2 135.4l4.1 -2.8l-3 -3.1l-4.1 2.7z"/><path color="#d79976" d="M548.3 136.6l4.1 -2.7l-3 -3.3l-4.1 2.6z"/><path color="#d89a76" d="M555.4 137.4l4.1 -2.6l-3 -3.5l-4.1 2.6z"/><path color="#d89d77" d="M562.5 138.4l4.1 -2.6l-3 -3.6l-4.1 2.5z"/><path color="#dbaf78" d="M583.7 142.5l4.1 -2.3l-2.9 -3.9l-4.1 2.3z"/><path color="#dbb774" d="M590.8 144.2l4.1 -2.2l-2.9 -4l-4.1 2.2z"/><path color="#dbc170" d="M597.8 146.2l4.1 -2.1l-2.9 -4.1l-4.1 2.1z"/><path color="#dbcd6b" d="M604.9 148.3l4.1 -2l-2.9 -4.2l-4.1 2z"/><path color="#c8d464" d="M618.9 153.3l4.1 -1.8l-2.9 -4.5l-4.1 1.8z"/><path color="#bad661" d="M625.8 156l4.1 -1.7l-2.8 -4.6l-4.1 1.7z"/><path color="#abd85d" d="M632.7 159l4.1 -1.6l-2.8 -4.7l-4.1 1.6z"/><path color="#98da57" d="M639.6 162.1l4.1 -1.6l-2.8 -4.8l-4.1 1.6z"/><path color="#6bde4a" d="M653.2 169.1l4 -1.4l-2.7 -5.1l-4 1.4z"/><path color="#53e043" d="M659.9 172.8l4 -1.4l-2.7 -5.2l-4 1.4z"/><path color="#3ce23f" d="M666.5 176.8l4 -1.3l-2.6 -5.3l-4 1.3z"/><path color="#579b37" d="M425.6 144l3.8 -2.6l-2.7 -1.4l-3.8 2.6z"/><path color="#9daf50" d="M458.5 138.9l3.9 -2.8l-2.8 -1.8l-3.9 2.8z"/><path color="#cdb06a" d="M492.4 135.6l4 -2.9l-2.9 -2.4l-4 2.9z"/><path color="#d89d77" d="M527.2 135.1l4.1 -2.8l-3 -3l-4.1 2.8z"/><path color="#d79976" d="M541.3 135.9l4.1 -2.7l-3 -3.2l-4.1 2.7z"/><path color="#dba879" d="M576.6 140.9l4.1 -2.4l-3 -3.8l-4.1 2.4z"/><path color="#d4d368" d="M611.9 150.7l4.1 -1.9l-2.9 -4.4l-4.1 1.9z"/><path color="#82dc51" d="M646.4 165.5l4 -1.5l-2.7 -4.9l-4.1 1.5z"/><path color="#38952d" d="M408.9 148.8l3.8 -2.5l-2.6 -1.3l-3.8 2.5z"/><path color="#459831" d="M415.3 147.7l3.8 -2.6l-2.6 -1.4l-3.8 2.6z"/><path color="#529b36" d="M421.7 146.6l3.8 -2.6l-2.7 -1.4l-3.8 2.6z"/><path color="#609f3b" d="M428.2 145.5l3.8 -2.6l-2.7 -1.5l-3.8 2.6z"/><path color="#6ea340" d="M434.8 144.5l3.9 -2.7l-2.7 -1.6l-3.8 2.7z"/><path color="#7da845" d="M441.3 143.5l3.9 -2.7l-2.7 -1.7l-3.9 2.7z"/><path color="#8bac4b" d="M448 142.6l3.9 -2.8l-2.8 -1.8l-3.9 2.7z"/><path color="#99b04f" d="M454.6 141.7l3.9 -2.8l-2.8 -1.9l-3.9 2.8z"/><path color="#a6b454" d="M461.3 140.9l3.9 -2.9l-2.8 -2l-3.9 2.8z"/><path color="#b3b959" d="M468 140.2l3.9 -2.9l-2.8 -2.1l-3.9 2.8z"/><path color="#c0bd5d" d="M474.8 139.6l3.9 -2.9l-2.8 -2.2l-3.9 2.9z"/><path color="#cabd63" d="M481.6 139l4 -3l-2.9 -2.3l-4 2.9z"/><path color="#cfb969" d="M488.5 138.6l4 -3l-2.9 -2.4l-4 2.9z"/><path color="#d3b56e" d="M495.3 138.2l4 -3l-2.9 -2.6l-4 2.9z"/><path color="#d7b173" d="M502.2 138l4 -3l-2.9 -2.7l-4 2.9z"/><path color="#dbae78" d="M509.2 137.9l4 -3l-2.9 -2.8l-4 2.9z"/><path color="#dba979" d="M516.1 137.9l4 -3l-2.9 -2.9l-4 2.9z"/><path color="#daa478" d="M523.1 138.1l4.1 -2.9l-2.9 -3l-4.1 2.9z"/><path color="#d9a178" d="M530.1 138.3l4.1 -2.9l-3 -3.2l-4.1 2.8z"/><path color="#d99f77" d="M537.2 138.8l4.1 -2.9l-3 -3.3l-4.1 2.8z"/><path color="#d99f77" d="M544.2 139.4l4.1 -2.8l-3 -3.4l-4.1 2.7z"/><path color="#d9a077" d="M551.3 140.1l4.1 -2.7l-3 -3.5l-4.1 2.7z"/><path color="#d9a278" d="M558.3 141.1l4.1 -2.7l-3 -3.6l-4.1 2.6z"/><path color="#daa679" d="M565.4 142.2l4.1 -2.6l-3 -3.7l-4.1 2.6z"/><path color="#dbab7a" d="M572.5 143.5l4.1 -2.5l-2.9 -3.8l-4.1 2.5z"/><path color="#dbb177" d="M579.6 144.9l4.1 -2.4l-2.9 -4l-4.1 2.4z"/><path color="#dbb974" d="M586.6 146.6l4.1 -2.3l-2.9 -4.1l-4.1 2.3z"/><path color="#dbc370" d="M593.7 148.4l4.1 -2.3l-2.9 -4.2l-4.1 2.2z"/><path color="#dbcd6b" d="M600.7 150.5l4.1 -2.2l-2.9 -4.3l-4.1 2.1z"/><path color="#d4d368" d="M607.8 152.7l4.1 -2.1l-2.9 -4.4l-4.1 2z"/><path color="#c9d464" d="M614.8 155.2l4.1 -1.9l-2.9 -4.5l-4.1 1.9z"/><path color="#bcd661" d="M621.7 157.9l4.1 -1.8l-2.8 -4.6l-4.1 1.8z"/><path color="#aed85d" d="M628.6 160.7l4.1 -1.7l-2.8 -4.7l-4.1 1.7z"/><path color="#9bd958" d="M635.5 163.8l4.1 -1.6l-2.8 -4.8l-4.1 1.6z"/><path color="#86db52" d="M642.4 167.1l4.1 -1.6l-2.7 -4.9l-4.1 1.6z"/><path color="#70dd4b" d="M649.1 170.6l4 -1.5l-2.7 -5l-4 1.5z"/><path color="#58df44" d="M655.9 174.2l4 -1.4l-2.7 -5.2l-4 1.4z"/><path color="#3fe23d" d="M662.5 178.1l4 -1.3l-2.6 -5.3l-4 1.4z"/><path color="#5b9f39" d="M424.4 148.1l3.8 -2.6l-2.7 -1.5l-3.8 2.6z"/><path color="#69a43f" d="M430.9 147.1l3.8 -2.7l-2.7 -1.6l-3.8 2.6z"/><path color="#a2b653" d="M457.4 143.8l3.9 -2.9l-2.8 -2l-3.9 2.8z"/><path color="#afbb58" d="M464.1 143.1l3.9 -2.9l-2.8 -2.1l-3.9 2.9z"/><path color="#d5be6c" d="M491.3 141.3l4 -3l-2.9 -2.6l-4 3z"/><path color="#dabb71" d="M498.2 141l4 -3l-2.9 -2.7l-4 3z"/><path color="#dbb675" d="M505.1 140.9l4 -3l-2.9 -2.9l-4 3z"/><path color="#dba979" d="M526.1 141.3l4.1 -3l-2.9 -3.2l-4.1 2.9z"/><path color="#daa579" d="M540.1 142.3l4.1 -2.9l-3 -3.5l-4.1 2.9z"/><path color="#dbab7a" d="M561.3 144.9l4.1 -2.7l-2.9 -3.8l-4.1 2.7z"/><path color="#dbaf78" d="M568.4 146.1l4.1 -2.7l-2.9 -3.9l-4.1 2.6z"/><path color="#dbb575" d="M575.4 147.5l4.1 -2.6l-2.9 -4l-4.1 2.5z"/><path color="#d4d367" d="M603.6 154.9l4.1 -2.2l-2.9 -4.4l-4.1 2.2z"/><path color="#c9d465" d="M610.6 157.3l4.1 -2.1l-2.9 -4.5l-4.1 2.1z"/><path color="#8adb53" d="M638.3 168.7l4.1 -1.6l-2.8 -4.9l-4.1 1.6z"/><path color="#74dd4c" d="M645.1 172.1l4.1 -1.5l-2.7 -5l-4.1 1.6z"/><path color="#409730" d="M411.5 150.2l3.8 -2.5l-2.6 -1.4l-3.8 2.5z"/><path color="#4d9b34" d="M417.9 149.1l3.8 -2.6l-2.6 -1.4l-3.8 2.6z"/><path color="#78a944" d="M437.5 146.2l3.9 -2.7l-2.7 -1.7l-3.9 2.7z"/><path color="#87ad4a" d="M444.1 145.3l3.9 -2.8l-2.7 -1.8l-3.9 2.7z"/><path color="#95b24e" d="M450.7 144.5l3.9 -2.8l-2.8 -1.9l-3.9 2.8z"/><path color="#bcbf5d" d="M470.9 142.5l3.9 -3l-2.8 -2.3l-3.9 2.9z"/><path color="#c9c361" d="M477.7 142l4 -3l-2.9 -2.4l-3.9 2.9z"/><path color="#d0c266" d="M484.5 141.6l4 -3l-2.9 -2.5l-4 3z"/><path color="#dbb077" d="M512.1 140.9l4 -3l-2.9 -3l-4 3z"/><path color="#dbac79" d="M519.1 141.1l4.1 -3l-2.9 -3.1l-4 3z"/><path color="#daa679" d="M533.1 141.7l4.1 -3l-3 -3.3l-4.1 2.9z"/><path color="#daa679" d="M547.2 143l4.1 -2.9l-3 -3.6l-4.1 2.8z"/><path color="#dba879" d="M554.2 143.9l4.1 -2.8l-3 -3.7l-4.1 2.7z"/><path color="#dbbc72" d="M582.5 149.1l4.1 -2.5l-2.9 -4.1l-4.1 2.4z"/><path color="#dbc56f" d="M589.6 150.8l4.1 -2.4l-2.9 -4.2l-4.1 2.3z"/><path color="#dbcf6b" d="M596.6 152.8l4.1 -2.3l-2.9 -4.3l-4.1 2.3z"/><path color="#bdd661" d="M617.6 159.8l4.1 -2l-2.8 -4.6l-4.1 1.9z"/><path color="#afd75e" d="M624.5 162.6l4.1 -1.9l-2.8 -4.7l-4.1 1.8z"/><path color="#9ed959" d="M631.4 165.5l4.1 -1.8l-2.8 -4.8l-4.1 1.7z"/><path color="#5ddf46" d="M651.8 175.7l4 -1.5l-2.7 -5.1l-4 1.5z"/><path color="#44e13e" d="M658.5 179.5l4 -1.4l-2.6 -5.3l-4 1.4z"/><path color="#569f38" d="M420.6 150.7l3.8 -2.6l-2.7 -1.5l-3.8 2.6z"/><path color="#64a43d" d="M427.1 149.8l3.8 -2.6l-2.7 -1.6l-3.8 2.6z"/><path color="#9db852" d="M453.5 146.6l3.9 -2.9l-2.8 -2.1l-3.9 2.8z"/><path color="#aabc57" d="M460.2 146l3.9 -2.9l-2.8 -2.2l-3.9 2.9z"/><path color="#d7c86a" d="M487.4 144.3l4 -3.1l-2.9 -2.7l-4 3z"/><path color="#dbc46f" d="M494.2 144.1l4 -3.1l-2.9 -2.8l-4 3z"/><path color="#dbb974" d="M571.3 150.2l4.1 -2.7l-2.9 -4l-4.1 2.7z"/><path color="#dbc071" d="M578.4 151.7l4.1 -2.6l-2.9 -4.1l-4.1 2.6z"/><path color="#c8d464" d="M606.5 159.5l4.1 -2.2l-2.9 -4.5l-4.1 2.2z"/><path color="#bdd661" d="M613.5 161.9l4.1 -2.1l-2.8 -4.6l-4.1 2.1z"/><path color="#78dd4d" d="M641 173.7l4.1 -1.6l-2.7 -5l-4.1 1.6z"/><path color="#61df47" d="M647.8 177.2l4 -1.5l-2.7 -5.1l-4.1 1.5z"/><path color="#499a33" d="M414.1 151.7l3.8 -2.5l-2.6 -1.5l-3.8 2.5z"/><path color="#73a943" d="M433.6 148.9l3.9 -2.7l-2.7 -1.7l-3.8 2.7z"/><path color="#82ae48" d="M440.2 148.1l3.9 -2.8l-2.7 -1.9l-3.9 2.7z"/><path color="#90b34d" d="M446.8 147.3l3.9 -2.8l-2.8 -2l-3.9 2.8z"/><path color="#b7c15c" d="M466.9 145.5l3.9 -3l-2.8 -2.3l-3.9 2.9z"/><path color="#c4c560" d="M473.7 145l3.9 -3l-2.9 -2.4l-3.9 3z"/><path color="#d0c964" d="M480.5 144.6l4 -3l-2.9 -2.6l-4 3z"/><path color="#dbbe72" d="M501.1 144l4 -3.1l-2.9 -2.9l-4 3z"/><path color="#dbb874" d="M508.1 144l4 -3.1l-2.9 -3l-4 3z"/><path color="#dbb476" d="M515 144.2l4 -3.1l-2.9 -3.2l-4 3z"/><path color="#dbb077" d="M522 144.4l4.1 -3.1l-2.9 -3.3l-4.1 3z"/><path color="#dbae78" d="M529 144.8l4.1 -3.1l-2.9 -3.4l-4.1 3z"/><path color="#dbad79" d="M536 145.3l4.1 -3l-2.9 -3.5l-4.1 3z"/><path color="#dbad79" d="M543.1 146l4.1 -3l-2.9 -3.6l-4.1 2.9z"/><path color="#dbae78" d="M550.1 146.8l4.1 -2.9l-2.9 -3.7l-4.1 2.9z"/><path color="#dbb077" d="M557.2 147.8l4.1 -2.9l-2.9 -3.8l-4.1 2.8z"/><path color="#dbb476" d="M564.2 148.9l4.1 -2.8l-2.9 -3.9l-4.1 2.7z"/><path color="#dbc86e" d="M585.4 153.3l4.1 -2.5l-2.9 -4.2l-4.1 2.5z"/><path color="#dbd16a" d="M592.5 155.2l4.1 -2.4l-2.9 -4.3l-4.1 2.4z"/><path color="#d3d367" d="M599.5 157.2l4.1 -2.3l-2.9 -4.4l-4.1 2.3z"/><path color="#b0d75e" d="M620.4 164.6l4.1 -2l-2.8 -4.7l-4.1 2z"/><path color="#a0d959" d="M627.3 167.4l4.1 -1.9l-2.8 -4.8l-4.1 1.9z"/><path color="#8ddb54" d="M634.2 170.5l4.1 -1.7l-2.8 -4.9l-4.1 1.8z"/><path color="#49e140" d="M654.5 180.9l4 -1.4l-2.7 -5.2l-4 1.5z"/><path color="#519e36" d="M416.7 153.2l3.8 -2.5l-2.6 -1.6l-3.8 2.5z"/><path color="#5fa43b" d="M423.2 152.4l3.8 -2.6l-2.7 -1.7l-3.8 2.6z"/><path color="#6ea941" d="M429.8 151.6l3.9 -2.7l-2.7 -1.8l-3.8 2.6z"/><path color="#7cae46" d="M436.3 150.8l3.9 -2.7l-2.7 -1.9l-3.9 2.7z"/><path color="#99b951" d="M449.6 149.5l3.9 -2.9l-2.8 -2.1l-3.9 2.8z"/><path color="#a6be56" d="M456.3 148.9l3.9 -2.9l-2.8 -2.2l-3.9 2.9z"/><path color="#b2c25a" d="M463 148.4l3.9 -3l-2.8 -2.4l-3.9 2.9z"/><path color="#bfc75f" d="M469.8 148l3.9 -3l-2.8 -2.5l-3.9 3z"/><path color="#d6cf67" d="M483.4 147.4l4 -3.1l-2.9 -2.7l-4 3z"/><path color="#dbcd6b" d="M490.3 147.2l4 -3.1l-2.9 -2.9l-4 3.1z"/><path color="#dbc66e" d="M497.1 147.2l4 -3.1l-2.9 -3l-4 3.1z"/><path color="#dbc170" d="M504 147.2l4 -3.2l-2.9 -3.1l-4 3.1z"/><path color="#dbbc72" d="M511 147.3l4 -3.2l-2.9 -3.2l-4 3.1z"/><path color="#dbb974" d="M518 147.6l4.1 -3.2l-2.9 -3.3l-4 3.1z"/><path color="#dbb675" d="M524.9 147.9l4.1 -3.1l-2.9 -3.5l-4.1 3.1z"/><path color="#dbb476" d="M531.9 148.4l4.1 -3.1l-2.9 -3.6l-4.1 3.1z"/><path color="#dbb476" d="M539 149.1l4.1 -3.1l-2.9 -3.7l-4.1 3z"/><path color="#dbb575" d="M546 149.8l4.1 -3l-2.9 -3.8l-4.1 3z"/><path color="#dbb775" d="M553 150.7l4.1 -3l-2.9 -3.9l-4.1 2.9z"/><path color="#dbba73" d="M560.1 151.8l4.1 -2.9l-2.9 -4l-4.1 2.9z"/><path color="#dbbe71" d="M567.2 153l4.1 -2.8l-2.9 -4.1l-4.1 2.8z"/><path color="#dbc46f" d="M574.2 154.4l4.1 -2.7l-2.9 -4.2l-4.1 2.7z"/><path color="#dbcb6c" d="M581.3 156l4.1 -2.7l-2.9 -4.3l-4.1 2.6z"/><path color="#d1d367" d="M595.3 159.7l4.1 -2.4l-2.9 -4.5l-4.1 2.4z"/><path color="#c7d464" d="M602.3 161.8l4.1 -2.3l-2.9 -4.6l-4.1 2.3z"/><path color="#bcd661" d="M609.3 164.1l4.1 -2.2l-2.8 -4.6l-4.1 2.2z"/><path color="#b0d75e" d="M616.3 166.7l4.1 -2.1l-2.8 -4.7l-4.1 2.1z"/><path color="#8fdb54" d="M630.1 172.3l4.1 -1.9l-2.8 -4.9l-4.1 1.9z"/><path color="#7bdc4e" d="M636.9 175.5l4.1 -1.7l-2.7 -5l-4.1 1.7z"/><path color="#65de48" d="M643.7 178.8l4.1 -1.6l-2.7 -5.1l-4.1 1.6z"/><path color="#4ee041" d="M650.5 182.4l4 -1.5l-2.7 -5.2l-4 1.5z"/><path color="#8bb44c" d="M443 150.1l3.9 -2.8l-2.8 -2l-3.9 2.8z"/><path color="#cbcb63" d="M476.6 147.7l4 -3.1l-2.9 -2.6l-3.9 3z"/><path color="#d9d269" d="M588.3 157.7l4.2 -2.6l-2.9 -4.4l-4.1 2.5z"/><path color="#a1d95a" d="M623.2 169.4l4.1 -2l-2.8 -4.8l-4.1 2z"/><path color="#5aa33a" d="M419.4 154.9l3.8 -2.6l-2.7 -1.7l-3.8 2.5z"/><path color="#68a93f" d="M425.9 154.2l3.9 -2.6l-2.7 -1.8l-3.8 2.6z"/><path color="#77ae45" d="M432.5 153.5l3.9 -2.7l-2.7 -1.9l-3.9 2.7z"/><path color="#94ba50" d="M445.7 152.3l3.9 -2.8l-2.8 -2.2l-3.9 2.8z"/><path color="#a1bf55" d="M452.4 151.8l3.9 -2.9l-2.8 -2.3l-3.9 2.9z"/><path color="#adc459" d="M459.1 151.4l3.9 -3l-2.8 -2.4l-3.9 2.9z"/><path color="#b9c95e" d="M465.8 151l3.9 -3l-2.8 -2.5l-3.9 3z"/><path color="#d0d166" d="M479.4 150.5l4 -3.1l-2.9 -2.8l-4 3.1z"/><path color="#d8d269" d="M486.3 150.4l4 -3.2l-2.9 -2.9l-4 3.1z"/><path color="#dbcf6a" d="M493.1 150.4l4 -3.2l-2.9 -3.1l-4 3.1z"/><path color="#dbca6d" d="M500 150.4l4 -3.2l-2.9 -3.2l-4 3.1z"/><path color="#dbc170" d="M513.9 150.8l4 -3.2l-2.9 -3.4l-4 3.2z"/><path color="#dbbd72" d="M527.9 151.6l4.1 -3.2l-2.9 -3.6l-4.1 3.1z"/><path color="#dbbc72" d="M534.9 152.2l4.1 -3.2l-2.9 -3.7l-4.1 3.1z"/><path color="#dbbe72" d="M548.9 153.8l4.1 -3.1l-2.9 -3.9l-4.1 3z"/><path color="#dbc46f" d="M563 156l4.1 -3l-2.9 -4.1l-4.1 2.9z"/><path color="#dbca6d" d="M570.1 157.3l4.1 -2.9l-2.9 -4.2l-4.1 2.8z"/><path color="#dbd06a" d="M577.1 158.8l4.1 -2.8l-2.9 -4.3l-4.1 2.7z"/><path color="#d6d268" d="M584.1 160.4l4.2 -2.7l-2.9 -4.4l-4.1 2.7z"/><path color="#c5d564" d="M598.2 164.3l4.1 -2.5l-2.9 -4.6l-4.1 2.4z"/><path color="#bbd661" d="M605.2 166.5l4.1 -2.4l-2.8 -4.7l-4.1 2.3z"/><path color="#b0d75e" d="M612.2 168.9l4.1 -2.2l-2.8 -4.7l-4.1 2.2z"/><path color="#a1d95a" d="M619.1 171.5l4.1 -2.1l-2.8 -4.8l-4.1 2.1z"/><path color="#7ddc4f" d="M632.9 177.3l4.1 -1.8l-2.7 -5l-4.1 1.9z"/><path color="#68de49" d="M639.7 180.6l4.1 -1.7l-2.7 -5.1l-4.1 1.7z"/><path color="#52e042" d="M646.4 184l4 -1.6l-2.7 -5.2l-4.1 1.6z"/><path color="#85b44a" d="M439.1 152.9l3.9 -2.8l-2.7 -2l-3.9 2.7z"/><path color="#c5cd62" d="M472.6 150.7l3.9 -3.1l-2.9 -2.7l-3.9 3z"/><path color="#dbc56f" d="M507 150.5l4 -3.2l-2.9 -3.3l-4 3.2z"/><path color="#dbbe71" d="M520.9 151.2l4.1 -3.2l-2.9 -3.5l-4.1 3.2z"/><path color="#dbbc72" d="M541.9 152.9l4.1 -3.1l-2.9 -3.8l-4.1 3.1z"/><path color="#dbc171" d="M556 154.8l4.1 -3l-2.9 -4l-4.1 3z"/><path color="#ced366" d="M591.2 162.3l4.2 -2.6l-2.9 -4.5l-4.2 2.6z"/><path color="#90da55" d="M626 174.3l4.1 -2l-2.8 -4.9l-4.1 2z"/><path color="#63a83d" d="M422.1 156.7l3.9 -2.6l-2.7 -1.8l-3.8 2.6z"/><path color="#71ae43" d="M428.6 156.1l3.9 -2.6l-2.7 -1.9l-3.9 2.6z"/><path color="#7fb448" d="M435.2 155.6l3.9 -2.7l-2.7 -2.1l-3.9 2.7z"/><path color="#8eba4e" d="M441.8 155.1l3.9 -2.8l-2.8 -2.2l-3.9 2.8z"/><path color="#9bc053" d="M448.5 154.7l3.9 -2.9l-2.8 -2.3l-3.9 2.8z"/><path color="#a8c558" d="M455.2 154.3l3.9 -2.9l-2.8 -2.5l-3.9 2.9z"/><path color="#b4ca5c" d="M461.9 154l3.9 -3l-2.8 -2.6l-3.9 3z"/><path color="#bfcf61" d="M468.7 153.8l3.9 -3.1l-2.8 -2.7l-3.9 3z"/><path color="#cad365" d="M475.5 153.7l3.9 -3.1l-2.9 -2.9l-3.9 3.1z"/><path color="#d1d367" d="M482.3 153.6l4 -3.2l-2.9 -3l-4 3.1z"/><path color="#d6d268" d="M489.2 153.6l4 -3.2l-2.9 -3.1l-4 3.2z"/><path color="#dad269" d="M496 153.7l4 -3.2l-2.9 -3.2l-4 3.2z"/><path color="#dbce6b" d="M503 153.8l4 -3.3l-2.9 -3.4l-4 3.2z"/><path color="#dbca6c" d="M509.9 154.1l4 -3.3l-2.9 -3.5l-4 3.2z"/><path color="#dbc76e" d="M516.8 154.4l4 -3.3l-2.9 -3.6l-4 3.2z"/><path color="#dbc66e" d="M523.8 154.9l4.1 -3.3l-2.9 -3.7l-4.1 3.2z"/><path color="#dbc56f" d="M530.8 155.5l4.1 -3.3l-2.9 -3.8l-4.1 3.2z"/><path color="#dbc56f" d="M537.8 156.2l4.1 -3.2l-2.9 -3.9l-4.1 3.2z"/><path color="#dbc66e" d="M544.8 157l4.1 -3.2l-2.9 -4l-4.1 3.1z"/><path color="#dbc86d" d="M551.8 158l4.1 -3.1l-2.9 -4.1l-4.1 3.1z"/><path color="#dbcb6c" d="M558.9 159.1l4.1 -3.1l-2.9 -4.2l-4.1 3z"/><path color="#dbd06a" d="M565.9 160.3l4.1 -3l-2.9 -4.3l-4.1 3z"/><path color="#d8d268" d="M573 161.7l4.1 -2.9l-2.9 -4.4l-4.1 2.9z"/><path color="#d2d367" d="M580 163.3l4.2 -2.8l-2.9 -4.4l-4.1 2.8z"/><path color="#cbd465" d="M587 165l4.2 -2.7l-2.9 -4.5l-4.2 2.7z"/><path color="#c2d563" d="M594 166.9l4.2 -2.6l-2.9 -4.6l-4.2 2.6z"/><path color="#b9d660" d="M601 169l4.1 -2.5l-2.8 -4.7l-4.1 2.5z"/><path color="#aed85d" d="M608 171.3l4.1 -2.4l-2.8 -4.8l-4.1 2.4z"/><path color="#a0d959" d="M615 173.7l4.1 -2.2l-2.8 -4.8l-4.1 2.2z"/><path color="#90da55" d="M621.9 176.4l4.1 -2.1l-2.8 -4.9l-4.1 2.1z"/><path color="#7edc4f" d="M628.8 179.3l4.1 -2l-2.8 -5l-4.1 2z"/><path color="#6ade4a" d="M635.6 182.4l4.1 -1.8l-2.7 -5.1l-4.1 1.8z"/><path color="#55e043" d="M642.4 185.7l4.1 -1.7l-2.7 -5.2l-4.1 1.7z"/><path color="#87ba4c" d="M437.9 157.8l3.9 -2.7l-2.8 -2.2l-3.9 2.7z"/><path color="#95c052" d="M444.6 157.5l3.9 -2.8l-2.8 -2.4l-3.9 2.8z"/><path color="#c4d563" d="M471.5 156.8l3.9 -3.1l-2.9 -2.9l-3.9 3.1z"/><path color="#c9d465" d="M478.4 156.8l4 -3.2l-2.9 -3l-3.9 3.1z"/><path color="#dad269" d="M505.9 157.4l4 -3.3l-2.9 -3.5l-4 3.3z"/><path color="#dbcf6b" d="M519.8 158.3l4.1 -3.4l-2.9 -3.8l-4 3.3z"/><path color="#dbce6b" d="M540.7 160.3l4.1 -3.3l-2.9 -4.1l-4.1 3.2z"/><path color="#dad269" d="M554.8 162.2l4.1 -3.2l-2.9 -4.2l-4.1 3.1z"/><path color="#c6d464" d="M582.9 167.9l4.2 -2.9l-2.9 -4.6l-4.2 2.8z"/><path color="#bfd562" d="M589.9 169.6l4.2 -2.8l-2.9 -4.6l-4.2 2.7z"/><path color="#8fda54" d="M617.8 178.7l4.1 -2.2l-2.8 -4.9l-4.1 2.2z"/><path color="#7edc4f" d="M624.6 181.4l4.1 -2.1l-2.8 -5l-4.1 2.1z"/><path color="#6bad41" d="M424.7 158.7l3.9 -2.6l-2.7 -2l-3.9 2.6z"/><path color="#79b447" d="M431.3 158.2l3.9 -2.7l-2.7 -2.1l-3.9 2.6z"/><path color="#a2c656" d="M451.3 157.2l3.9 -2.9l-2.8 -2.5l-3.9 2.9z"/><path color="#aecb5b" d="M458 157l3.9 -3l-2.8 -2.6l-3.9 2.9z"/><path color="#b9d05f" d="M464.8 156.9l3.9 -3.1l-2.8 -2.8l-3.9 3z"/><path color="#ced366" d="M485.2 156.8l4 -3.2l-2.9 -3.2l-4 3.2z"/><path color="#d3d367" d="M492.1 156.9l4 -3.3l-2.9 -3.3l-4 3.2z"/><path color="#d6d268" d="M498.9 157.1l4 -3.3l-2.9 -3.4l-4 3.2z"/><path color="#dbd16a" d="M512.8 157.8l4 -3.3l-2.9 -3.6l-4 3.3z"/><path color="#dbce6b" d="M526.7 158.8l4.1 -3.3l-2.9 -3.9l-4.1 3.3z"/><path color="#dbce6b" d="M533.7 159.5l4.1 -3.3l-2.9 -4l-4.1 3.3z"/><path color="#dbd06a" d="M547.7 161.2l4.1 -3.2l-2.9 -4.1l-4.1 3.2z"/><path color="#d7d268" d="M561.8 163.4l4.1 -3.1l-2.9 -4.3l-4.1 3.1z"/><path color="#d2d367" d="M568.8 164.7l4.1 -3l-2.9 -4.4l-4.1 3z"/><path color="#cdd466" d="M575.8 166.2l4.1 -3l-2.9 -4.5l-4.1 2.9z"/><path color="#b6d75f" d="M596.9 171.6l4.2 -2.6l-2.8 -4.7l-4.2 2.6z"/><path color="#acd85d" d="M603.9 173.8l4.1 -2.5l-2.8 -4.8l-4.1 2.5z"/><path color="#9fd959" d="M610.8 176.1l4.1 -2.4l-2.8 -4.8l-4.1 2.4z"/><path color="#6cde4a" d="M631.5 184.3l4.1 -2l-2.7 -5.1l-4.1 2z"/><path color="#58df44" d="M638.3 187.5l4.1 -1.8l-2.7 -5.1l-4.1 1.8z"/><path color="#81ba4a" d="M434.1 160.5l3.9 -2.7l-2.7 -2.3l-3.9 2.7z"/><path color="#8fc04f" d="M440.7 160.3l3.9 -2.8l-2.8 -2.4l-3.9 2.7z"/><path color="#bdd661" d="M467.6 159.9l3.9 -3.1l-2.9 -3l-3.9 3.1z"/><path color="#c2d563" d="M474.4 159.9l3.9 -3.2l-2.9 -3.1l-3.9 3.1z"/><path color="#bad661" d="M585.7 172.5l4.2 -2.9l-2.9 -4.7l-4.2 2.9z"/><path color="#b2d75e" d="M592.7 174.4l4.2 -2.8l-2.8 -4.7l-4.2 2.8z"/><path color="#7edc4f" d="M620.5 183.6l4.1 -2.2l-2.8 -5l-4.1 2.2z"/><path color="#6cde4a" d="M627.4 186.4l4.1 -2.1l-2.7 -5l-4.1 2.1z"/><path color="#74b345" d="M427.5 160.8l3.9 -2.6l-2.7 -2.1l-3.9 2.6z"/><path color="#9cc755" d="M447.4 160.1l3.9 -2.9l-2.8 -2.5l-3.9 2.8z"/><path color="#a8cc59" d="M454.1 160l3.9 -2.9l-2.8 -2.7l-3.9 2.9z"/><path color="#b3d15d" d="M460.8 159.9l3.9 -3l-2.8 -2.8l-3.9 3z"/><path color="#c7d464" d="M481.2 160l4 -3.2l-2.9 -3.2l-4 3.2z"/><path color="#cbd465" d="M488.1 160.2l4 -3.3l-2.9 -3.4l-4 3.2z"/><path color="#ced366" d="M495 160.5l4 -3.3l-2.9 -3.5l-4 3.3z"/><path color="#d1d367" d="M501.9 160.8l4 -3.4l-2.9 -3.6l-4 3.3z"/><path color="#d4d367" d="M508.8 161.2l4 -3.4l-2.9 -3.7l-4 3.3z"/><path color="#d5d268" d="M515.7 161.7l4 -3.4l-2.9 -3.8l-4 3.3z"/><path color="#d6d268" d="M522.7 162.2l4.1 -3.4l-2.9 -3.9l-4.1 3.4z"/><path color="#d7d268" d="M529.6 162.9l4.1 -3.4l-2.9 -4l-4.1 3.3z"/><path color="#d6d268" d="M536.6 163.7l4.1 -3.4l-2.9 -4.1l-4.1 3.3z"/><path color="#d5d268" d="M543.6 164.6l4.1 -3.3l-2.9 -4.2l-4.1 3.3z"/><path color="#d3d367" d="M550.6 165.6l4.1 -3.3l-2.9 -4.3l-4.1 3.2z"/><path color="#d0d366" d="M557.7 166.7l4.1 -3.2l-2.9 -4.4l-4.1 3.2z"/><path color="#ccd465" d="M564.7 167.9l4.1 -3.2l-2.9 -4.4l-4.1 3.1z"/><path color="#c7d464" d="M571.7 169.3l4.1 -3.1l-2.9 -4.5l-4.1 3z"/><path color="#c1d562" d="M578.7 170.8l4.1 -3l-2.9 -4.6l-4.1 3z"/><path color="#a9d85c" d="M599.7 176.4l4.2 -2.7l-2.8 -4.8l-4.2 2.6z"/><path color="#9cd958" d="M606.7 178.6l4.1 -2.5l-2.8 -4.9l-4.1 2.5z"/><path color="#8edb54" d="M613.6 181l4.1 -2.4l-2.8 -4.9l-4.1 2.4z"/><path color="#59df44" d="M634.2 189.4l4.1 -1.9l-2.7 -5.1l-4.1 2z"/><path color="#7bb948" d="M430.2 163.1l3.9 -2.6l-2.7 -2.3l-3.9 2.6z"/><path color="#88c04d" d="M436.8 163l3.9 -2.7l-2.8 -2.4l-3.9 2.7z"/><path color="#95c653" d="M443.5 162.9l3.9 -2.8l-2.8 -2.6l-3.9 2.8z"/><path color="#a2cd58" d="M450.2 162.8l3.9 -2.9l-2.8 -2.7l-3.9 2.9z"/><path color="#b6d75f" d="M463.7 162.9l3.9 -3.1l-2.8 -3l-3.9 3z"/><path color="#bbd661" d="M470.5 163.1l3.9 -3.2l-2.9 -3.2l-3.9 3.1z"/><path color="#bfd562" d="M477.3 163.3l4 -3.2l-2.9 -3.3l-3.9 3.2z"/><path color="#c3d563" d="M484.1 163.5l4 -3.3l-2.9 -3.4l-4 3.2z"/><path color="#c9d465" d="M497.9 164.2l4 -3.4l-2.9 -3.7l-4 3.3z"/><path color="#cbd465" d="M504.8 164.6l4 -3.4l-2.9 -3.8l-4 3.4z"/><path color="#cdd366" d="M511.7 165.1l4 -3.5l-2.9 -3.9l-4 3.4z"/><path color="#ced366" d="M518.6 165.7l4 -3.5l-2.9 -4l-4 3.4z"/><path color="#ced366" d="M525.6 166.4l4.1 -3.5l-2.9 -4.1l-4.1 3.4z"/><path color="#ced366" d="M532.6 167.1l4.1 -3.5l-2.9 -4.2l-4.1 3.4z"/><path color="#cdd366" d="M539.5 168l4.1 -3.4l-2.9 -4.3l-4.1 3.4z"/><path color="#cbd465" d="M546.5 169l4.1 -3.4l-2.9 -4.3l-4.1 3.3z"/><path color="#c9d464" d="M553.5 170l4.1 -3.4l-2.9 -4.4l-4.1 3.3z"/><path color="#c5d564" d="M560.6 171.2l4.1 -3.3l-2.9 -4.5l-4.1 3.2z"/><path color="#bcd661" d="M574.6 174l4.1 -3.1l-2.9 -4.6l-4.1 3.1z"/><path color="#b5d75f" d="M581.6 175.6l4.2 -3l-2.9 -4.7l-4.1 3z"/><path color="#aed85d" d="M588.6 177.3l4.2 -2.9l-2.8 -4.7l-4.2 2.9z"/><path color="#a4d95b" d="M595.6 179.2l4.2 -2.8l-2.8 -4.8l-4.2 2.8z"/><path color="#8bdb53" d="M609.5 183.6l4.1 -2.5l-2.8 -4.9l-4.1 2.5z"/><path color="#7cdc4f" d="M616.4 186l4.1 -2.4l-2.8 -5l-4.1 2.4z"/><path color="#6cde4a" d="M623.3 188.6l4.1 -2.2l-2.7 -5l-4.1 2.2z"/><path color="#5adf45" d="M630.1 191.5l4.1 -2.1l-2.7 -5.1l-4.1 2.1z"/><path color="#acd25c" d="M456.9 162.9l3.9 -3l-2.8 -2.9l-3.9 2.9z"/><path color="#c6d464" d="M491 163.8l4 -3.4l-2.9 -3.5l-4 3.3z"/><path color="#c1d562" d="M567.6 172.5l4.1 -3.2l-2.9 -4.6l-4.1 3.2z"/><path color="#98da57" d="M602.5 181.3l4.1 -2.7l-2.8 -4.9l-4.2 2.7z"/><path color="#82bf4b" d="M432.9 165.6l3.9 -2.6l-2.8 -2.4l-3.9 2.6z"/><path color="#8ec650" d="M439.6 165.6l3.9 -2.7l-2.8 -2.6l-3.9 2.7z"/><path color="#9acd55" d="M446.3 165.7l3.9 -2.8l-2.8 -2.8l-3.9 2.8z"/><path color="#afd75e" d="M459.8 166l3.9 -3l-2.8 -3.1l-3.9 3z"/><path color="#b3d75f" d="M466.5 166.2l3.9 -3.1l-2.9 -3.2l-3.9 3.1z"/><path color="#b7d660" d="M473.3 166.5l3.9 -3.2l-2.9 -3.3l-3.9 3.2z"/><path color="#bbd661" d="M480.2 166.8l4 -3.3l-2.9 -3.5l-4 3.2z"/><path color="#c1d562" d="M493.9 167.6l4 -3.4l-2.9 -3.7l-4 3.4z"/><path color="#c4d563" d="M507.7 168.6l4 -3.5l-2.9 -3.9l-4 3.4z"/><path color="#c5d564" d="M514.6 169.2l4 -3.5l-2.9 -4l-4 3.5z"/><path color="#c5d464" d="M528.5 170.7l4.1 -3.5l-2.9 -4.2l-4.1 3.5z"/><path color="#c3d563" d="M542.5 172.4l4.1 -3.5l-2.9 -4.4l-4.1 3.4z"/><path color="#c1d562" d="M549.4 173.5l4.1 -3.5l-2.9 -4.5l-4.1 3.4z"/><path color="#bad660" d="M563.4 175.9l4.1 -3.3l-2.9 -4.6l-4.1 3.3z"/><path color="#afd75e" d="M577.4 178.7l4.1 -3.2l-2.9 -4.7l-4.1 3.1z"/><path color="#a8d85c" d="M584.4 180.4l4.2 -3.1l-2.8 -4.8l-4.2 3z"/><path color="#9fd959" d="M591.4 182.2l4.2 -2.9l-2.8 -4.8l-4.2 2.9z"/><path color="#94da56" d="M598.4 184.1l4.2 -2.8l-2.8 -4.9l-4.2 2.8z"/><path color="#7adc4e" d="M612.3 188.5l4.1 -2.5l-2.8 -5l-4.1 2.5z"/><path color="#6bde4a" d="M619.1 191l4.1 -2.4l-2.8 -5l-4.1 2.4z"/><path color="#5adf45" d="M626 193.7l4.1 -2.2l-2.7 -5.1l-4.1 2.2z"/><path color="#a6d35a" d="M453 165.8l3.9 -2.9l-2.8 -2.9l-3.9 2.9z"/><path color="#bed562" d="M487 167.2l4 -3.4l-2.9 -3.6l-4 3.3z"/><path color="#c3d563" d="M500.8 168.1l4 -3.5l-2.9 -3.8l-4 3.4z"/><path color="#c6d464" d="M521.5 169.9l4 -3.5l-2.9 -4.1l-4 3.5z"/><path color="#c5d563" d="M535.5 171.5l4.1 -3.5l-2.9 -4.3l-4.1 3.5z"/><path color="#bed662" d="M556.4 174.6l4.1 -3.4l-2.9 -4.5l-4.1 3.4z"/><path color="#b5d75f" d="M570.4 177.2l4.1 -3.3l-2.9 -4.7l-4.1 3.2z"/><path color="#88db52" d="M605.3 186.2l4.1 -2.7l-2.8 -4.9l-4.1 2.7z"/><path color="#88c54e" d="M435.7 168.2l3.9 -2.6l-2.8 -2.6l-3.9 2.6z"/><path color="#93cc53" d="M442.4 168.4l3.9 -2.7l-2.8 -2.8l-3.9 2.7z"/><path color="#9ed358" d="M449.1 168.6l3.9 -2.8l-2.8 -2.9l-3.9 2.8z"/><path color="#a8d85c" d="M455.8 168.9l3.9 -3l-2.8 -3.1l-3.9 2.9z"/><path color="#add85d" d="M462.6 169.3l3.9 -3.1l-2.9 -3.2l-3.9 3z"/><path color="#b0d75e" d="M469.4 169.6l3.9 -3.2l-2.9 -3.4l-3.9 3.1z"/><path color="#b3d75f" d="M476.2 170l3.9 -3.3l-2.9 -3.5l-3.9 3.2z"/><path color="#b6d75f" d="M483.1 170.5l4 -3.3l-2.9 -3.7l-4 3.3z"/><path color="#b8d660" d="M489.9 171l4 -3.4l-2.9 -3.8l-4 3.4z"/><path color="#bad661" d="M496.8 171.6l4 -3.5l-2.9 -3.9l-4 3.4z"/><path color="#bbd661" d="M503.7 172.2l4 -3.5l-2.9 -4l-4 3.5z"/><path color="#bcd661" d="M510.6 172.8l4 -3.6l-2.9 -4.1l-4 3.5z"/><path color="#bdd661" d="M517.5 173.5l4 -3.6l-2.9 -4.2l-4 3.5z"/><path color="#bcd661" d="M524.5 174.3l4 -3.6l-2.9 -4.3l-4 3.5z"/><path color="#bcd661" d="M531.4 175.1l4.1 -3.6l-2.9 -4.4l-4.1 3.5z"/><path color="#bad661" d="M538.4 176l4.1 -3.6l-2.9 -4.5l-4.1 3.5z"/><path color="#b8d660" d="M545.3 177l4.1 -3.6l-2.9 -4.5l-4.1 3.5z"/><path color="#b6d75f" d="M552.3 178.1l4.1 -3.5l-2.9 -4.6l-4.1 3.5z"/><path color="#b2d75e" d="M559.3 179.3l4.1 -3.4l-2.9 -4.6l-4.1 3.4z"/><path color="#aed85d" d="M566.3 180.6l4.1 -3.4l-2.9 -4.7l-4.1 3.3z"/><path color="#a8d85c" d="M573.3 182l4.1 -3.3l-2.9 -4.8l-4.1 3.3z"/><path color="#a1d95a" d="M580.3 183.6l4.1 -3.2l-2.8 -4.8l-4.1 3.2z"/><path color="#98da57" d="M587.3 185.2l4.2 -3.1l-2.8 -4.8l-4.2 3.1z"/><path color="#8edb54" d="M594.2 187.1l4.2 -3l-2.8 -4.9l-4.2 2.9z"/><path color="#83dc51" d="M601.2 189l4.1 -2.8l-2.8 -4.9l-4.2 2.8z"/><path color="#76dd4d" d="M608.1 191.2l4.1 -2.7l-2.8 -5l-4.1 2.7z"/><path color="#68de49" d="M615 193.5l4.1 -2.5l-2.8 -5l-4.1 2.5z"/><path color="#59df44" d="M621.9 196l4.1 -2.3l-2.7 -5l-4.1 2.4z"/><path color="#a0d959" d="M451.9 171.8l3.9 -2.9l-2.8 -3.1l-3.9 2.8z"/><path color="#a5d95b" d="M458.7 172.3l3.9 -3l-2.8 -3.3l-3.9 3z"/><path color="#b3d75f" d="M520.4 177.9l4 -3.6l-2.9 -4.4l-4 3.6z"/><path color="#b1d75e" d="M534.3 179.7l4.1 -3.7l-2.9 -4.5l-4.1 3.6z"/><path color="#7ddc4f" d="M597 192l4.2 -3l-2.8 -4.9l-4.2 3z"/><path color="#72dd4c" d="M604 194l4.1 -2.8l-2.8 -5l-4.1 2.8z"/><path color="#8dcb51" d="M438.5 171l3.9 -2.6l-2.8 -2.8l-3.9 2.6z"/><path color="#97d255" d="M445.2 171.4l3.9 -2.8l-2.8 -3l-3.9 2.7z"/><path color="#a9d85c" d="M465.5 172.7l3.9 -3.1l-2.9 -3.4l-3.9 3.1z"/><path color="#acd85d" d="M472.3 173.3l3.9 -3.2l-2.9 -3.6l-3.9 3.2z"/><path color="#aed85d" d="M479.1 173.8l4 -3.3l-2.9 -3.7l-3.9 3.3z"/><path color="#b0d75e" d="M485.9 174.4l4 -3.4l-2.9 -3.8l-4 3.3z"/><path color="#b1d75e" d="M492.8 175l4 -3.5l-2.9 -4l-4 3.4z"/><path color="#b2d75e" d="M499.7 175.7l4 -3.5l-2.9 -4.1l-4 3.5z"/><path color="#b3d75f" d="M506.6 176.4l4 -3.6l-2.9 -4.2l-4 3.5z"/><path color="#b3d75f" d="M513.5 177.1l4 -3.6l-2.9 -4.3l-4 3.6z"/><path color="#b2d75e" d="M527.4 178.8l4.1 -3.7l-2.9 -4.4l-4 3.6z"/><path color="#afd75e" d="M541.3 180.7l4.1 -3.6l-2.9 -4.6l-4.1 3.6z"/><path color="#add85d" d="M548.2 181.7l4.1 -3.6l-2.9 -4.6l-4.1 3.6z"/><path color="#a9d85c" d="M555.2 182.9l4.1 -3.6l-2.9 -4.7l-4.1 3.5z"/><path color="#a5d95b" d="M562.2 184.1l4.1 -3.5l-2.9 -4.7l-4.1 3.4z"/><path color="#9fd959" d="M569.2 185.4l4.1 -3.4l-2.9 -4.8l-4.1 3.4z"/><path color="#98da57" d="M576.1 186.9l4.1 -3.3l-2.8 -4.8l-4.1 3.3z"/><path color="#90da55" d="M583.1 188.5l4.1 -3.2l-2.8 -4.9l-4.1 3.2z"/><path color="#87db52" d="M590.1 190.2l4.2 -3.1l-2.8 -4.9l-4.2 3.1z"/><path color="#65de48" d="M610.9 196.2l4.1 -2.7l-2.8 -5l-4.1 2.7z"/><path color="#57df44" d="M617.8 198.5l4.1 -2.5l-2.7 -5l-4.1 2.5z"/><path color="#99d857" d="M448 174.6l3.9 -2.8l-2.8 -3.2l-3.9 2.8z"/><path color="#9dd959" d="M454.8 175.2l3.9 -2.9l-2.8 -3.3l-3.9 2.9z"/><path color="#6cde4a" d="M599.8 197l4.1 -3l-2.8 -5l-4.2 3z"/><path color="#60df47" d="M606.7 199l4.1 -2.8l-2.8 -5l-4.1 2.8z"/><path color="#90d153" d="M441.3 174l3.9 -2.6l-2.8 -3l-3.9 2.6z"/><path color="#a0d959" d="M461.5 175.8l3.9 -3l-2.9 -3.5l-3.9 3z"/><path color="#a3d95a" d="M468.3 176.4l3.9 -3.1l-2.9 -3.6l-3.9 3.1z"/><path color="#a5d95b" d="M475.2 177.1l3.9 -3.3l-2.9 -3.8l-3.9 3.2z"/><path color="#a7d85b" d="M482 177.8l4 -3.4l-2.9 -3.9l-4 3.3z"/><path color="#a8d85c" d="M488.8 178.5l4 -3.4l-2.9 -4l-4 3.4z"/><path color="#a9d85c" d="M495.7 179.2l4 -3.5l-2.9 -4.1l-4 3.5z"/><path color="#aad85c" d="M502.6 180l4 -3.6l-2.9 -4.2l-4 3.5z"/><path color="#aad85c" d="M509.5 180.8l4 -3.6l-2.9 -4.3l-4 3.6z"/><path color="#a9d85c" d="M516.4 181.6l4 -3.7l-2.9 -4.4l-4 3.6z"/><path color="#a8d85c" d="M523.3 182.5l4 -3.7l-2.9 -4.5l-4 3.6z"/><path color="#a7d85b" d="M530.2 183.4l4.1 -3.7l-2.9 -4.6l-4.1 3.7z"/><path color="#a5d95b" d="M537.2 184.4l4.1 -3.7l-2.9 -4.6l-4.1 3.7z"/><path color="#a2d95a" d="M544.1 185.4l4.1 -3.7l-2.9 -4.7l-4.1 3.6z"/><path color="#9ed959" d="M551.1 186.5l4.1 -3.6l-2.9 -4.7l-4.1 3.6z"/><path color="#9ada58" d="M558.1 187.7l4.1 -3.6l-2.9 -4.8l-4.1 3.6z"/><path color="#95da56" d="M565 189l4.1 -3.5l-2.9 -4.8l-4.1 3.5z"/><path color="#8fdb54" d="M572 190.3l4.1 -3.4l-2.8 -4.9l-4.1 3.4z"/><path color="#88db52" d="M579 191.8l4.1 -3.3l-2.8 -4.9l-4.1 3.3z"/><path color="#80dc50" d="M585.9 193.4l4.1 -3.2l-2.8 -4.9l-4.1 3.2z"/><path color="#77dd4d" d="M592.9 195.1l4.1 -3.1l-2.8 -4.9l-4.2 3.1z"/><path color="#53e043" d="M613.6 201.2l4.1 -2.6l-2.7 -5l-4.1 2.7z"/><path color="#92d754" d="M444.1 177.2l3.9 -2.7l-2.8 -3.2l-3.9 2.6z"/><path color="#96da56" d="M450.8 178l3.9 -2.8l-2.8 -3.4l-3.9 2.8z"/><path color="#98da57" d="M457.6 178.7l3.9 -2.9l-2.9 -3.5l-3.9 2.9z"/><path color="#9ada58" d="M464.4 179.5l3.9 -3.1l-2.9 -3.7l-3.9 3z"/><path color="#9dd958" d="M478 181.1l3.9 -3.3l-2.9 -3.9l-3.9 3.3z"/><path color="#9ed959" d="M484.9 181.9l4 -3.4l-2.9 -4.1l-4 3.4z"/><path color="#9ed959" d="M491.7 182.7l4 -3.5l-2.9 -4.2l-4 3.4z"/><path color="#9ed959" d="M498.6 183.5l4 -3.6l-2.9 -4.3l-4 3.5z"/><path color="#9dd959" d="M512.4 185.3l4 -3.7l-2.9 -4.5l-4 3.6z"/><path color="#9cd958" d="M519.3 186.2l4 -3.7l-2.9 -4.6l-4 3.7z"/><path color="#9bd958" d="M526.2 187.2l4 -3.8l-2.9 -4.6l-4 3.7z"/><path color="#99da57" d="M533.1 188.1l4.1 -3.8l-2.9 -4.7l-4.1 3.7z"/><path color="#96da56" d="M540.1 189.2l4.1 -3.8l-2.9 -4.7l-4.1 3.7z"/><path color="#8fdb54" d="M554 191.4l4.1 -3.7l-2.9 -4.8l-4.1 3.6z"/><path color="#8adb53" d="M560.9 192.6l4.1 -3.6l-2.9 -4.9l-4.1 3.6z"/><path color="#85db51" d="M567.9 193.9l4.1 -3.6l-2.8 -4.9l-4.1 3.5z"/><path color="#7edc4f" d="M574.8 195.3l4.1 -3.5l-2.8 -4.9l-4.1 3.4z"/><path color="#6fdd4b" d="M588.7 198.4l4.1 -3.2l-2.8 -5l-4.1 3.2z"/><path color="#66de48" d="M595.7 200.1l4.1 -3.1l-2.8 -5l-4.1 3.1z"/><path color="#5bdf45" d="M602.6 202l4.1 -3l-2.8 -5l-4.1 3z"/><path color="#4fe041" d="M609.5 204l4.1 -2.8l-2.8 -5l-4.1 2.8z"/><path color="#9cd958" d="M471.2 180.3l3.9 -3.2l-2.9 -3.8l-3.9 3.1z"/><path color="#9ed959" d="M505.5 184.4l4 -3.6l-2.9 -4.4l-4 3.6z"/><path color="#93da55" d="M547 190.2l4.1 -3.7l-2.9 -4.8l-4.1 3.7z"/><path color="#77dd4d" d="M581.8 196.8l4.1 -3.4l-2.8 -4.9l-4.1 3.3z"/><path color="#90da55" d="M446.9 180.6l3.9 -2.7l-2.8 -3.4l-3.9 2.7z"/><path color="#91da55" d="M453.7 181.5l3.9 -2.8l-2.9 -3.5l-3.9 2.8z"/><path color="#92da55" d="M460.5 182.4l3.9 -3l-2.9 -3.7l-3.9 2.9z"/><path color="#93da56" d="M474.1 184.3l3.9 -3.2l-2.9 -4l-3.9 3.2z"/><path color="#93da56" d="M487.8 186.2l4 -3.5l-2.9 -4.2l-4 3.4z"/><path color="#93da55" d="M494.6 187.1l4 -3.6l-2.9 -4.3l-4 3.5z"/><path color="#91da55" d="M508.4 189l4 -3.7l-2.9 -4.5l-4 3.6z"/><path color="#8edb54" d="M522.2 190.9l4 -3.8l-2.9 -4.7l-4 3.7z"/><path color="#8cdb53" d="M529.1 192l4 -3.8l-2.9 -4.7l-4 3.8z"/><path color="#87db52" d="M542.9 194.1l4.1 -3.8l-2.9 -4.8l-4.1 3.8z"/><path color="#7fdc50" d="M556.8 196.3l4.1 -3.7l-2.9 -4.9l-4.1 3.7z"/><path color="#7adc4e" d="M563.8 197.6l4.1 -3.7l-2.8 -4.9l-4.1 3.6z"/><path color="#6edd4b" d="M577.6 200.3l4.1 -3.5l-2.8 -5l-4.1 3.5z"/><path color="#5edf46" d="M591.5 203.3l4.1 -3.3l-2.8 -5l-4.1 3.2z"/><path color="#54e043" d="M598.4 205.1l4.1 -3.1l-2.8 -5l-4.1 3.1z"/><path color="#4ae140" d="M605.3 206.9l4.1 -2.9l-2.8 -5l-4.1 3z"/><path color="#93da55" d="M467.3 183.4l3.9 -3.1l-2.9 -3.9l-3.9 3.1z"/><path color="#93da56" d="M480.9 185.2l3.9 -3.4l-2.9 -4.1l-3.9 3.3z"/><path color="#92da55" d="M501.5 188l4 -3.6l-2.9 -4.4l-4 3.6z"/><path color="#90da55" d="M515.3 190l4 -3.8l-2.9 -4.6l-4 3.7z"/><path color="#8adb53" d="M536 193l4.1 -3.8l-2.9 -4.8l-4.1 3.8z"/><path color="#83dc51" d="M549.9 195.2l4.1 -3.8l-2.9 -4.9l-4.1 3.7z"/><path color="#74dd4c" d="M570.7 198.9l4.1 -3.6l-2.8 -4.9l-4.1 3.6z"/><path color="#66de48" d="M584.6 201.7l4.1 -3.4l-2.8 -5l-4.1 3.4z"/><path color="#8bdb53" d="M449.8 184.2l3.9 -2.7l-2.8 -3.6l-3.9 2.7z"/><path color="#8bdb53" d="M456.6 185.3l3.9 -2.9l-2.9 -3.7l-3.9 2.8z"/><path color="#8bdb53" d="M463.4 186.4l3.9 -3l-2.9 -3.9l-3.9 3z"/><path color="#8adb53" d="M470.2 187.4l3.9 -3.1l-2.9 -4l-3.9 3.1z"/><path color="#8adb53" d="M477 188.5l3.9 -3.3l-2.9 -4.2l-3.9 3.2z"/><path color="#89db52" d="M483.8 189.6l3.9 -3.4l-2.9 -4.3l-3.9 3.4z"/><path color="#88db52" d="M490.7 190.6l4 -3.5l-2.9 -4.4l-4 3.5z"/><path color="#87db52" d="M497.5 191.7l4 -3.6l-2.9 -4.5l-4 3.6z"/><path color="#85db51" d="M504.4 192.7l4 -3.7l-2.9 -4.6l-4 3.6z"/><path color="#83dc51" d="M511.3 193.7l4 -3.8l-2.9 -4.7l-4 3.7z"/><path color="#81dc50" d="M518.2 194.8l4 -3.8l-2.9 -4.7l-4 3.8z"/><path color="#7fdc50" d="M525.1 195.8l4 -3.8l-2.9 -4.8l-4 3.8z"/><path color="#7ddc4f" d="M532 196.9l4 -3.9l-2.9 -4.8l-4 3.8z"/><path color="#7adc4e" d="M538.9 197.9l4.1 -3.9l-2.9 -4.9l-4.1 3.8z"/><path color="#76dd4d" d="M545.8 199l4.1 -3.9l-2.9 -4.9l-4.1 3.8z"/><path color="#73dd4c" d="M552.7 200.2l4.1 -3.8l-2.9 -4.9l-4.1 3.8z"/><path color="#6edd4b" d="M559.7 201.3l4.1 -3.8l-2.8 -5l-4.1 3.7z"/><path color="#69de49" d="M566.6 202.6l4.1 -3.7l-2.8 -5l-4.1 3.7z"/><path color="#63de47" d="M573.5 203.9l4.1 -3.6l-2.8 -5l-4.1 3.6z"/><path color="#5ddf46" d="M580.5 205.3l4.1 -3.5l-2.8 -5l-4.1 3.5z"/><path color="#55e043" d="M587.4 206.7l4.1 -3.4l-2.8 -5l-4.1 3.4z"/><path color="#4de041" d="M594.3 208.3l4.1 -3.3l-2.8 -5l-4.1 3.3z"/><path color="#43e13e" d="M601.2 210l4.1 -3.1l-2.8 -5l-4.1 3.1z"/><path color="#85db51" d="M452.6 188l3.9 -2.7l-2.9 -3.8l-3.9 2.7z"/><path color="#83dc51" d="M459.4 189.3l3.9 -2.9l-2.9 -3.9l-3.9 2.9z"/><path color="#82dc51" d="M466.2 190.5l3.9 -3l-2.9 -4.1l-3.9 3z"/><path color="#80dc50" d="M473.1 191.7l3.9 -3.2l-2.9 -4.2l-3.9 3.1z"/><path color="#7fdc50" d="M479.9 192.9l3.9 -3.3l-2.9 -4.3l-3.9 3.3z"/><path color="#7ddc4f" d="M486.7 194.1l4 -3.4l-2.9 -4.5l-3.9 3.4z"/><path color="#7bdc4e" d="M493.6 195.2l4 -3.6l-2.9 -4.6l-4 3.5z"/><path color="#79dc4e" d="M500.4 196.4l4 -3.7l-2.9 -4.6l-4 3.6z"/><path color="#77dd4d" d="M507.3 197.5l4 -3.7l-2.9 -4.7l-4 3.7z"/><path color="#75dd4d" d="M514.2 198.6l4 -3.8l-2.9 -4.8l-4 3.8z"/><path color="#72dd4c" d="M521.1 199.7l4 -3.9l-2.9 -4.9l-4 3.8z"/><path color="#70dd4b" d="M527.9 200.8l4 -3.9l-2.9 -4.9l-4 3.8z"/><path color="#6dde4a" d="M534.8 201.8l4 -3.9l-2.9 -4.9l-4 3.9z"/><path color="#6ade49" d="M541.7 202.9l4.1 -3.9l-2.9 -5l-4.1 3.9z"/><path color="#66de48" d="M548.7 204.1l4.1 -3.9l-2.9 -5l-4.1 3.9z"/><path color="#62de47" d="M555.6 205.2l4.1 -3.9l-2.8 -5l-4.1 3.8z"/><path color="#5ddf46" d="M562.5 206.4l4.1 -3.8l-2.8 -5l-4.1 3.8z"/><path color="#58df44" d="M569.4 207.6l4.1 -3.7l-2.8 -5l-4.1 3.7z"/><path color="#52e042" d="M576.3 208.9l4.1 -3.6l-2.8 -5l-4.1 3.6z"/><path color="#4ce041" d="M583.2 210.3l4.1 -3.5l-2.8 -5l-4.1 3.5z"/><path color="#44e13e" d="M590.2 211.7l4.1 -3.4l-2.8 -5l-4.1 3.4z"/><path color="#3ce23c" d="M597.1 213.3l4.1 -3.2l-2.8 -5l-4.1 3.3z"/><path color="#7ddc4f" d="M455.5 192l3.9 -2.7l-2.9 -4l-3.9 2.7z"/><path color="#7bdc4e" d="M462.3 193.4l3.9 -2.9l-2.9 -4.1l-3.9 2.9z"/><path color="#78dd4e" d="M469.1 194.8l3.9 -3.1l-2.9 -4.3l-3.9 3z"/><path color="#75dd4d" d="M476 196.1l3.9 -3.2l-2.9 -4.4l-3.9 3.2z"/><path color="#73dd4c" d="M482.8 197.4l3.9 -3.4l-2.9 -4.5l-3.9 3.3z"/><path color="#70dd4b" d="M489.6 198.7l4 -3.5l-2.9 -4.6l-4 3.4z"/><path color="#6ddd4a" d="M496.5 200l4 -3.6l-2.9 -4.7l-4 3.6z"/><path color="#6bde4a" d="M503.3 201.2l4 -3.7l-2.9 -4.8l-4 3.7z"/><path color="#68de49" d="M510.2 202.4l4 -3.8l-2.9 -4.8l-4 3.7z"/><path color="#65de48" d="M517.1 203.5l4 -3.9l-2.9 -4.9l-4 3.8z"/><path color="#62de47" d="M523.9 204.7l4 -3.9l-2.9 -5l-4 3.9z"/><path color="#5fdf46" d="M530.8 205.8l4 -3.9l-2.9 -5l-4 3.9z"/><path color="#5cdf45" d="M537.7 206.9l4 -4l-2.9 -5l-4 3.9z"/><path color="#59df44" d="M544.6 208l4.1 -4l-2.8 -5l-4.1 3.9z"/><path color="#55e043" d="M551.5 209.1l4.1 -3.9l-2.8 -5l-4.1 3.9z"/><path color="#51e042" d="M558.4 210.3l4.1 -3.9l-2.8 -5l-4.1 3.9z"/><path color="#4ce041" d="M565.3 211.4l4.1 -3.8l-2.8 -5l-4.1 3.8z"/><path color="#47e13f" d="M572.2 212.6l4.1 -3.7l-2.8 -5l-4.1 3.7z"/><path color="#41e13d" d="M579.1 213.9l4.1 -3.6l-2.8 -5l-4.1 3.6z"/><path color="#3ce23d" d="M586 215.2l4.1 -3.5l-2.8 -5l-4.1 3.5z"/><path color="#3ce245" d="M592.9 216.6l4.1 -3.4l-2.8 -4.9l-4.1 3.4z"/><path color="#5cdf45" d="M506.2 206.1l4 -3.8l-2.9 -4.9l-4 3.7z"/><path color="#4be040" d="M540.5 212l4 -4l-2.8 -5.1l-4 4z"/><path color="#74dd4c" d="M458.4 196.2l3.9 -2.8l-2.9 -4.1l-3.9 2.7z"/><path color="#70dd4b" d="M465.2 197.7l3.9 -2.9l-2.9 -4.3l-3.9 2.9z"/><path color="#6dde4a" d="M472 199.2l3.9 -3.1l-2.9 -4.4l-3.9 3.1z"/><path color="#69de49" d="M478.8 200.7l3.9 -3.3l-2.9 -4.5l-3.9 3.2z"/><path color="#62de47" d="M492.5 203.5l4 -3.5l-2.9 -4.7l-4 3.5z"/><path color="#5fdf46" d="M499.4 204.8l4 -3.7l-2.9 -4.8l-4 3.6z"/><path color="#58df44" d="M513.1 207.4l4 -3.8l-2.9 -5l-4 3.8z"/><path color="#4fe041" d="M533.7 210.9l4 -4l-2.9 -5.1l-4 3.9z"/><path color="#48e13f" d="M547.4 213.1l4.1 -4l-2.8 -5.1l-4.1 4z"/><path color="#44e13e" d="M554.3 214.2l4.1 -4l-2.8 -5.1l-4.1 3.9z"/><path color="#3ce23d" d="M568.1 216.5l4.1 -3.8l-2.8 -5l-4.1 3.8z"/><path color="#3ce242" d="M575 217.7l4.1 -3.8l-2.8 -5l-4.1 3.7z"/><path color="#3ce248" d="M581.9 218.9l4.1 -3.6l-2.8 -5l-4.1 3.6z"/><path color="#3ce24f" d="M588.8 220.2l4.1 -3.5l-2.8 -4.9l-4.1 3.5z"/><path color="#66de48" d="M485.7 202.1l3.9 -3.4l-2.9 -4.7l-3.9 3.4z"/><path color="#55e043" d="M519.9 208.6l4 -3.9l-2.9 -5l-4 3.9z"/><path color="#52e042" d="M526.8 209.8l4 -4l-2.9 -5l-4 3.9z"/><path color="#40e23d" d="M561.2 215.3l4.1 -3.9l-2.8 -5.1l-4.1 3.9z"/><path color="#65de48" d="M468.1 202.2l3.9 -3l-2.9 -4.5l-3.9 2.9z"/><path color="#58df44" d="M488.6 207l3.9 -3.5l-2.9 -4.8l-3.9 3.4z"/><path color="#4fe042" d="M502.3 209.8l4 -3.7l-2.9 -4.9l-4 3.7z"/><path color="#4ce040" d="M509.1 211.2l4 -3.8l-2.9 -5l-4 3.8z"/><path color="#3de23c" d="M536.5 216l4 -4l-2.8 -5.1l-4 4z"/><path color="#3ce23e" d="M543.4 217.2l4 -4l-2.8 -5.1l-4 4z"/><path color="#3ce246" d="M557.1 219.3l4.1 -4l-2.8 -5.1l-4.1 4z"/><path color="#3ce255" d="M577.8 222.6l4.1 -3.8l-2.8 -5l-4.1 3.8z"/><path color="#6ade49" d="M461.2 200.5l3.9 -2.8l-2.9 -4.3l-3.9 2.8z"/><path color="#60df47" d="M474.9 203.8l3.9 -3.1l-2.9 -4.6l-3.9 3.1z"/><path color="#5cdf45" d="M481.7 205.4l3.9 -3.3l-2.9 -4.7l-3.9 3.3z"/><path color="#53e043" d="M495.4 208.4l4 -3.6l-2.9 -4.9l-4 3.5z"/><path color="#48e13f" d="M516 212.5l4 -3.9l-2.9 -5.1l-4 3.8z"/><path color="#44e13e" d="M522.8 213.7l4 -4l-2.9 -5.1l-4 3.9z"/><path color="#41e13d" d="M529.7 214.9l4 -4l-2.9 -5.1l-4 4z"/><path color="#3ce242" d="M550.3 218.3l4.1 -4l-2.8 -5.1l-4.1 4z"/><path color="#3ce24b" d="M564 220.4l4.1 -3.9l-2.8 -5.1l-4.1 3.9z"/><path color="#3ce24f" d="M570.9 221.5l4.1 -3.9l-2.8 -5l-4.1 3.8z"/><path color="#3ce25b" d="M584.7 223.8l4.1 -3.6l-2.8 -4.9l-4.1 3.6z"/><path color="#5edf46" d="M464.1 205l3.9 -2.8l-2.9 -4.5l-3.9 2.8z"/><path color="#59df44" d="M471 206.8l3.9 -3l-2.9 -4.6l-3.9 3z"/><path color="#4ee041" d="M484.6 210.3l3.9 -3.3l-2.9 -4.8l-3.9 3.3z"/><path color="#49e140" d="M491.5 211.9l3.9 -3.5l-2.9 -4.9l-3.9 3.5z"/><path color="#44e13e" d="M498.3 213.5l3.9 -3.6l-2.9 -5l-4 3.6z"/><path color="#3fe23d" d="M505.1 214.9l4 -3.7l-2.9 -5.1l-4 3.7z"/><path color="#3ce23d" d="M512 216.3l4 -3.9l-2.9 -5.1l-4 3.8z"/><path color="#3ce241" d="M518.8 217.6l4 -3.9l-2.9 -5.1l-4 3.9z"/><path color="#3ce245" d="M525.7 218.9l4 -4l-2.9 -5.1l-4 4z"/><path color="#3ce249" d="M532.5 220.1l4 -4l-2.8 -5.2l-4 4z"/><path color="#3ce24d" d="M539.4 221.2l4 -4.1l-2.8 -5.1l-4 4z"/><path color="#3ce251" d="M546.2 222.3l4 -4.1l-2.8 -5.1l-4 4z"/><path color="#3ce255" d="M553.1 223.4l4.1 -4.1l-2.8 -5.1l-4.1 4z"/><path color="#3ce259" d="M559.9 224.4l4.1 -4l-2.8 -5.1l-4.1 4z"/><path color="#3ce262" d="M573.7 226.5l4.1 -3.9l-2.8 -5l-4.1 3.9z"/><path color="#3ce267" d="M580.6 227.6l4.1 -3.8l-2.8 -4.9l-4.1 3.8z"/><path color="#53e043" d="M477.8 208.6l3.9 -3.2l-2.9 -4.7l-3.9 3.1z"/><path color="#3ce25d" d="M566.8 225.5l4.1 -3.9l-2.8 -5l-4.1 3.9z"/><path color="#52e042" d="M467 209.6l3.9 -2.8l-2.9 -4.6l-3.9 2.8z"/><path color="#4be140" d="M473.9 211.6l3.9 -3l-2.9 -4.8l-3.9 3z"/><path color="#44e13e" d="M480.7 213.5l3.9 -3.2l-2.9 -4.9l-3.9 3.2z"/><path color="#3ee23d" d="M487.5 215.3l3.9 -3.4l-2.9 -5l-3.9 3.3z"/><path color="#3ce23f" d="M494.4 217l3.9 -3.5l-2.9 -5l-3.9 3.5z"/><path color="#3ce245" d="M501.2 218.6l3.9 -3.7l-2.9 -5.1l-3.9 3.6z"/><path color="#3ce24b" d="M508 220.1l4 -3.8l-2.9 -5.1l-4 3.7z"/><path color="#3ce250" d="M514.9 221.5l4 -3.9l-2.9 -5.2l-4 3.9z"/><path color="#3ce254" d="M521.7 222.9l4 -4l-2.9 -5.2l-4 3.9z"/><path color="#3ce259" d="M528.5 224.1l4 -4l-2.8 -5.2l-4 4z"/><path color="#3ce25d" d="M535.3 225.3l4 -4.1l-2.8 -5.2l-4 4z"/><path color="#3ce261" d="M542.2 226.4l4 -4.1l-2.8 -5.2l-4 4.1z"/><path color="#3ce264" d="M549 227.5l4 -4.1l-2.8 -5.1l-4 4.1z"/><path color="#3ce268" d="M555.9 228.5l4.1 -4.1l-2.8 -5.1l-4.1 4.1z"/><path color="#3ce26c" d="M562.7 229.5l4.1 -4l-2.8 -5l-4.1 4z"/><path color="#3ce270" d="M569.6 230.4l4.1 -4l-2.8 -5l-4.1 3.9z"/><path color="#3ce274" d="M576.5 231.4l4.1 -3.9l-2.8 -4.9l-4.1 3.9z"/><path color="#3ce23c" d="M476.8 216.5l3.9 -3l-2.9 -4.9l-3.9 3z"/><path color="#3ce24b" d="M490.4 220.4l3.9 -3.4l-2.9 -5.1l-3.9 3.4z"/><path color="#3ce278" d="M551.8 232.6l4 -4.1l-2.8 -5.1l-4 4.1z"/><path color="#3ce27e" d="M565.5 234.5l4.1 -4l-2.8 -5l-4.1 4z"/><path color="#44e13e" d="M469.9 214.5l3.9 -2.8l-2.9 -4.8l-3.9 2.8z"/><path color="#3ce243" d="M483.6 218.5l3.9 -3.2l-2.9 -5l-3.9 3.2z"/><path color="#3ce252" d="M497.3 222.2l3.9 -3.6l-2.9 -5.1l-3.9 3.5z"/><path color="#3ce258" d="M504.1 223.8l3.9 -3.7l-2.9 -5.2l-3.9 3.7z"/><path color="#3ce25e" d="M510.9 225.4l4 -3.8l-2.9 -5.2l-4 3.8z"/><path color="#3ce263" d="M517.7 226.8l4 -3.9l-2.9 -5.2l-4 3.9z"/><path color="#3ce268" d="M524.5 228.1l4 -4l-2.8 -5.2l-4 4z"/><path color="#3ce26c" d="M531.3 229.4l4 -4.1l-2.8 -5.2l-4 4z"/><path color="#3ce270" d="M538.2 230.5l4 -4.1l-2.8 -5.2l-4 4.1z"/><path color="#3ce274" d="M545 231.6l4 -4.1l-2.8 -5.2l-4 4.1z"/><path color="#3ce27b" d="M558.7 233.6l4.1 -4.1l-2.8 -5.1l-4.1 4.1z"/><path color="#3ce282" d="M572.4 235.4l4.1 -4l-2.8 -4.9l-4.1 4z"/><path color="#3ce243" d="M472.8 219.4l3.9 -2.9l-2.9 -4.9l-3.9 2.8z"/><path color="#3ce24c" d="M479.7 221.6l3.9 -3.1l-2.9 -5l-3.9 3z"/><path color="#3ce255" d="M486.5 223.7l3.9 -3.3l-2.9 -5.1l-3.9 3.2z"/><path color="#3ce25d" d="M493.3 225.6l3.9 -3.4l-2.9 -5.2l-3.9 3.4z"/><path color="#3ce271" d="M513.8 230.7l4 -3.9l-2.9 -5.3l-4 3.8z"/><path color="#3ce277" d="M520.6 232.1l4 -4l-2.8 -5.3l-4 3.9z"/><path color="#3ce27c" d="M527.4 233.4l4 -4l-2.8 -5.3l-4 4z"/><path color="#3ce287" d="M547.8 236.8l4 -4.1l-2.8 -5.1l-4 4.1z"/><path color="#3ce28a" d="M554.6 237.7l4 -4.1l-2.8 -5.1l-4 4.1z"/><path color="#3ce28d" d="M561.4 238.6l4.1 -4.1l-2.8 -5l-4.1 4.1z"/><path color="#3ce290" d="M568.3 239.4l4.1 -4l-2.8 -4.9l-4.1 4z"/><path color="#3ce265" d="M500.1 227.4l3.9 -3.6l-2.9 -5.2l-3.9 3.6z"/><path color="#3ce26b" d="M507 229.1l3.9 -3.7l-2.9 -5.3l-3.9 3.7z"/><path color="#3ce280" d="M534.2 234.6l4 -4.1l-2.8 -5.2l-4 4.1z"/><path color="#3ce284" d="M541 235.8l4 -4.1l-2.8 -5.2l-4 4.1z"/><path color="#3ce25e" d="M482.6 226.7l3.9 -3.1l-2.9 -5.1l-3.9 3.1z"/><path color="#3ce285" d="M516.6 236l4 -3.9l-2.9 -5.3l-4 3.9z"/><path color="#3ce28b" d="M523.4 237.4l4 -4l-2.8 -5.3l-4 4z"/><path color="#3ce29d" d="M557.4 242.7l4 -4.1l-2.8 -5l-4 4.1z"/><path color="#3ce254" d="M475.7 224.5l3.9 -2.9l-2.9 -5l-3.9 2.9z"/><path color="#3ce268" d="M489.4 228.9l3.9 -3.3l-2.9 -5.2l-3.9 3.3z"/><path color="#3ce270" d="M496.2 230.9l3.9 -3.5l-2.9 -5.3l-3.9 3.4z"/><path color="#3ce278" d="M503 232.7l3.9 -3.6l-2.9 -5.3l-3.9 3.6z"/><path color="#3ce27f" d="M509.8 234.4l3.9 -3.8l-2.9 -5.3l-3.9 3.7z"/><path color="#3ce290" d="M530.2 238.7l4 -4.1l-2.8 -5.3l-4 4z"/><path color="#3ce294" d="M537 239.9l4 -4.1l-2.8 -5.2l-4 4.1z"/><path color="#3ce297" d="M543.8 240.9l4 -4.2l-2.8 -5.2l-4 4.1z"/><path color="#3ce29a" d="M550.6 241.9l4 -4.2l-2.8 -5.1l-4 4.1z"/><path color="#3ce29f" d="M564.2 243.5l4.1 -4.1l-2.8 -4.9l-4.1 4.1z"/><path color="#3ce266" d="M478.6 229.6l3.9 -2.9l-2.9 -5.2l-3.9 2.9z"/><path color="#3ce271" d="M485.5 232l3.9 -3.1l-2.9 -5.2l-3.9 3.1z"/><path color="#3ce284" d="M499.1 236.2l3.9 -3.5l-2.9 -5.3l-3.9 3.5z"/><path color="#3ce28c" d="M505.9 238.1l3.9 -3.7l-2.9 -5.3l-3.9 3.6z"/><path color="#3ce293" d="M512.7 239.8l3.9 -3.8l-2.9 -5.3l-3.9 3.8z"/><path color="#3ce299" d="M519.5 241.3l4 -3.9l-2.8 -5.3l-4 3.9z"/><path color="#3ce29f" d="M526.2 242.7l4 -4l-2.8 -5.3l-4 4z"/><path color="#3ce2a3" d="M533 244l4 -4.1l-2.8 -5.2l-4 4.1z"/><path color="#3ce2a7" d="M539.8 245.1l4 -4.1l-2.8 -5.2l-4 4.1z"/><path color="#3ce2ad" d="M553.4 246.9l4 -4.2l-2.8 -5l-4 4.2z"/><path color="#3ce2af" d="M560.2 247.6l4 -4.1l-2.8 -4.9l-4 4.1z"/><path color="#3ce27b" d="M492.3 234.2l3.9 -3.3l-2.9 -5.3l-3.9 3.3z"/><path color="#3ce2aa" d="M546.6 246l4 -4.2l-2.8 -5.1l-4 4.2z"/><path color="#3ce279" d="M481.5 234.9l3.9 -2.9l-2.9 -5.2l-3.9 2.9z"/><path color="#3ce284" d="M488.3 237.3l3.9 -3.1l-2.9 -5.3l-3.9 3.1z"/><path color="#3ce28f" d="M495.2 239.6l3.9 -3.3l-2.9 -5.3l-3.9 3.3z"/><path color="#3ce298" d="M502 241.6l3.9 -3.5l-2.9 -5.4l-3.9 3.5z"/><path color="#3ce2a0" d="M508.7 243.5l3.9 -3.7l-2.9 -5.4l-3.9 3.7z"/><path color="#3ce2a7" d="M515.5 245.2l3.9 -3.8l-2.8 -5.3l-3.9 3.8z"/><path color="#3ce2ad" d="M522.3 246.7l4 -3.9l-2.8 -5.3l-4 3.9z"/><path color="#3ce2b3" d="M529 248l4 -4l-2.8 -5.3l-4 4z"/><path color="#3ce2b7" d="M535.8 249.2l4 -4.1l-2.8 -5.2l-4 4.1z"/><path color="#3ce2ba" d="M542.6 250.2l4 -4.2l-2.8 -5.1l-4 4.1z"/><path color="#3ce2bc" d="M549.4 251l4 -4.2l-2.8 -5l-4 4.2z"/><path color="#3ce2be" d="M556.1 251.8l4 -4.2l-2.8 -4.9l-4 4.2z"/><path color="#3ce28c" d="M484.4 240.2l3.9 -2.9l-2.9 -5.3l-3.9 2.9z"/><path color="#3ce298" d="M491.2 242.7l3.9 -3.1l-2.9 -5.4l-3.9 3.1z"/><path color="#3ce2a3" d="M498 245l3.9 -3.3l-2.9 -5.4l-3.9 3.3z"/><path color="#3ce2ac" d="M504.8 247l3.9 -3.5l-2.9 -5.4l-3.9 3.5z"/><path color="#3ce2b4" d="M511.6 248.9l3.9 -3.7l-2.8 -5.4l-3.9 3.7z"/><path color="#3ce2bb" d="M518.3 250.5l3.9 -3.8l-2.8 -5.3l-3.9 3.8z"/><path color="#3ce2c1" d="M525.1 252l3.9 -4l-2.8 -5.3l-4 3.9z"/><path color="#3ce2c6" d="M531.9 253.2l4 -4l-2.8 -5.2l-4 4z"/><path color="#3ce2ca" d="M538.6 254.3l4 -4.1l-2.8 -5.1l-4 4.1z"/><path color="#3ce2cc" d="M545.4 255.2l4 -4.2l-2.8 -5l-4 4.2z"/><path color="#3ce2ce" d="M552.1 255.9l4 -4.2l-2.8 -4.9l-4 4.2z"/><path color="#3ce2b7" d="M500.9 250.4l3.9 -3.4l-2.9 -5.4l-3.9 3.3z"/><path color="#3ce2c0" d="M507.7 252.4l3.9 -3.5l-2.8 -5.4l-3.9 3.5z"/><path color="#3ce2d5" d="M527.9 257.2l3.9 -4l-2.8 -5.2l-3.9 4z"/><path color="#3ce2d9" d="M534.6 258.3l4 -4.1l-2.8 -5.1l-4 4z"/><path color="#3ce2a0" d="M487.3 245.6l3.9 -2.9l-2.9 -5.4l-3.9 2.9z"/><path color="#3ce2ac" d="M494.1 248.1l3.9 -3.1l-2.9 -5.4l-3.9 3.1z"/><path color="#3ce2c9" d="M514.4 254.2l3.9 -3.7l-2.8 -5.3l-3.9 3.7z"/><path color="#3ce2cf" d="M521.2 255.8l3.9 -3.8l-2.8 -5.3l-3.9 3.8z"/><path color="#3ce2dc" d="M541.4 259.3l4 -4.1l-2.8 -5l-4 4.1z"/><path color="#3ce2de" d="M548.1 260.1l4 -4.1l-2.8 -4.9l-4 4.2z"/><path color="#3ce2b4" d="M490.2 251l3.9 -2.9l-2.9 -5.4l-3.9 2.9z"/><path color="#3ce2c0" d="M497 253.5l3.9 -3.1l-2.9 -5.4l-3.9 3.1z"/><path color="#3ce2cb" d="M503.7 255.8l3.9 -3.4l-2.8 -5.4l-3.9 3.4z"/><path color="#3ce2d5" d="M510.5 257.8l3.9 -3.6l-2.8 -5.4l-3.9 3.5z"/><path color="#3ce2dc" d="M517.2 259.5l3.9 -3.7l-2.8 -5.3l-3.9 3.7z"/><path color="#3ce1e2" d="M524 261l3.9 -3.9l-2.8 -5.2l-3.9 3.8z"/><path color="#3cd9e2" d="M530.7 262.3l3.9 -4l-2.8 -5.1l-3.9 4z"/><path color="#3cd4e2" d="M537.4 263.4l4 -4.1l-2.8 -5l-4 4.1z"/><path color="#3cd1e2" d="M544.2 264.2l4 -4.1l-2.8 -4.9l-4 4.1z"/><path color="#3ce2c8" d="M493 256.4l3.9 -2.9l-2.9 -5.4l-3.9 2.9z"/><path color="#3ce2d4" d="M499.8 258.9l3.9 -3.2l-2.8 -5.4l-3.9 3.1z"/><path color="#3cd8e2" d="M513.3 263.1l3.9 -3.6l-2.8 -5.3l-3.9 3.6z"/><path color="#3ccde2" d="M520 264.8l3.9 -3.7l-2.8 -5.2l-3.9 3.7z"/><path color="#3cbee2" d="M533.5 267.3l3.9 -4l-2.8 -5l-3.9 4z"/><path color="#3cbbe2" d="M540.2 268.2l4 -4l-2.8 -4.9l-4 4.1z"/><path color="#3ce2df" d="M506.6 261.1l3.9 -3.4l-2.8 -5.4l-3.9 3.4z"/><path color="#3cc5e2" d="M526.8 266.2l3.9 -3.9l-2.8 -5.1l-3.9 3.9z"/><path color="#3ce2dc" d="M495.9 261.8l3.9 -2.9l-2.9 -5.4l-3.9 2.9z"/><path color="#3cc8e2" d="M509.4 266.4l3.9 -3.4l-2.8 -5.3l-3.9 3.4z"/><path color="#3cbbe2" d="M516.1 268.3l3.9 -3.5l-2.8 -5.2l-3.9 3.6z"/><path color="#3cb1e2" d="M522.8 269.9l3.9 -3.7l-2.8 -5.1l-3.9 3.7z"/><path color="#3ca5e2" d="M536.3 272.2l3.9 -3.9l-2.8 -4.9l-3.9 4z"/><path color="#3cd8e2" d="M502.7 264.3l3.9 -3.1l-2.8 -5.4l-3.9 3.2z"/><path color="#3caae2" d="M529.5 271.2l3.9 -3.8l-2.8 -5l-3.9 3.9z"/><path color="#3ccde2" d="M498.7 267.2l3.9 -2.9l-2.8 -5.4l-3.9 2.9z"/><path color="#3cbbe2" d="M505.5 269.6l3.9 -3.1l-2.8 -5.3l-3.9 3.1z"/><path color="#3cace2" d="M512.2 271.7l3.9 -3.4l-2.8 -5.2l-3.9 3.4z"/><path color="#3ca0e2" d="M518.9 273.4l3.9 -3.5l-2.8 -5.1l-3.9 3.5z"/><path color="#3c97e2" d="M525.6 274.9l3.9 -3.7l-2.8 -5l-3.9 3.7z"/><path color="#3c91e2" d="M532.3 276l3.9 -3.8l-2.8 -4.9l-3.9 3.8z"/><path color="#3cb0e2" d="M501.6 272.5l3.9 -2.9l-2.8 -5.3l-3.9 2.9z"/><path color="#3c9ee2" d="M508.3 274.8l3.9 -3.1l-2.8 -5.2l-3.9 3.1z"/><path color="#3c90e2" d="M515 276.7l3.9 -3.3l-2.8 -5.1l-3.9 3.4z"/><path color="#3c85e2" d="M521.7 278.4l3.9 -3.5l-2.8 -5l-3.9 3.5z"/><path color="#3c7ee2" d="M528.4 279.7l3.9 -3.7l-2.8 -4.8l-3.9 3.7z"/><path color="#3c94e2" d="M504.4 277.6l3.9 -2.9l-2.8 -5.2l-3.9 2.9z"/><path color="#3c83e2" d="M511.1 279.8l3.9 -3.1l-2.8 -5.1l-3.9 3.1z"/><path color="#3c76e2" d="M517.8 281.7l3.9 -3.3l-2.8 -5l-3.9 3.3z"/><path color="#3c6de2" d="M524.5 283.2l3.9 -3.5l-2.8 -4.8l-3.9 3.5z"/><path color="#3c79e2" d="M507.2 282.7l3.9 -2.8l-2.8 -5.1l-3.9 2.9z"/><path color="#3c6ae2" d="M513.9 284.8l3.9 -3.1l-2.8 -4.9l-3.9 3.1z"/><path color="#3c5ee2" d="M520.6 286.5l3.9 -3.3l-2.8 -4.8l-3.9 3.3z"/><path color="#3c60e2" d="M510 287.5l3.9 -2.8l-2.8 -4.9l-3.9 2.8z"/><path color="#3c52e2" d="M516.7 289.5l3.9 -3l-2.8 -4.8l-3.9 3.1z"/><path color="#3c49e2" d="M512.7 292.2l3.9 -2.7l-2.8 -4.7l-3.9 2.8z"/></g><path class="mlR" d="M512.7 292.2l-3.1 -5.2l-3.1 -5.4l-3.1 -5.6l-3.1 -5.8l-3.2 -5.9l-3.2 -6l-3.2 -6l-3.2 -6l-3.2 -6l-3.2 -5.9l-3.2 -5.8l-3.2 -5.7l-3.2 -5.6l-3.2 -5.4l-3.2 -5.2l-3.2 -5.1l-3.2 -4.8l-3.2 -4.6l-3.2 -4.4l-3.2 -4.2l-3.2 -3.9l-3.1 -3.7l-3.1 -3.5l-3.1 -3.2l-3.1 -3l-3.1 -2.8l-3 -2.5l-3 -2.3l-3 -2.2l-3 -2l-2.9 -1.8l-2.9 -1.7l-2.9 -1.6l-2.9 -1.5l-2.9 -1.4l-2.9 -1.4M512.7 292.2l4.4 -3.1l4.3 -3.4l4.3 -3.7l4.4 -4l4.4 -4.2l4.4 -4.3l4.4 -4.5l4.4 -4.6l4.4 -4.6l4.5 -4.6l4.5 -4.6l4.5 -4.6l4.5 -4.5l4.5 -4.4l4.6 -4.3l4.6 -4.2l4.6 -4.1l4.6 -3.9l4.6 -3.7l4.6 -3.6l4.6 -3.4l4.6 -3.2l4.6 -3l4.6 -2.8l4.6 -2.7l4.6 -2.5l4.6 -2.3l4.5 -2.1l4.5 -2l4.5 -1.8l4.5 -1.7l4.5 -1.6l4.5 -1.5l4.4 -1.5l4.4 -1.5l4.4 -1.4M513.9 291.4l-3.1 -5.2l-3.1 -5.5l-3.1 -5.7l-3.1 -5.8l-3.2 -5.9l-3.2 -6l-3.2 -6l-3.2 -6l-3.2 -6l-3.2 -5.9l-3.2 -5.8l-3.2 -5.7l-3.2 -5.6l-3.2 -5.4l-3.2 -5.2l-3.2 -5l-3.2 -4.8l-3.2 -4.6l-3.2 -4.4l-3.2 -4.2l-3.2 -3.9l-3.1 -3.7l-3.1 -3.5l-3.1 -3.2l-3.1 -3l-3.1 -2.8l-3 -2.5l-3 -2.3l-3 -2.1l-3 -2l-2.9 -1.8l-2.9 -1.7l-2.9 -1.6l-2.9 -1.5l-2.9 -1.4l-2.9 -1.4M511.9 290.8l4.4 -3.1l4.3 -3.4l4.3 -3.7l4.4 -4l4.4 -4.2l4.4 -4.3l4.4 -4.5l4.4 -4.6l4.4 -4.6l4.5 -4.6l4.5 -4.6l4.5 -4.6l4.5 -4.5l4.5 -4.4l4.6 -4.3l4.6 -4.2l4.6 -4.1l4.6 -3.9l4.6 -3.8l4.6 -3.6l4.6 -3.4l4.6 -3.2l4.6 -3l4.6 -2.8l4.6 -2.7l4.6 -2.5l4.6 -2.3l4.5 -2.1l4.5 -2l4.5 -1.9l4.5 -1.7l4.5 -1.6l4.5 -1.6l4.4 -1.5l4.4 -1.5l4.4 -1.5M515.1 290.6l-3.1 -5.2l-3.1 -5.5l-3.1 -5.7l-3.1 -5.8l-3.1 -5.9l-3.2 -6l-3.2 -6l-3.2 -6l-3.2 -6l-3.2 -5.9l-3.2 -5.8l-3.2 -5.7l-3.2 -5.6l-3.2 -5.4l-3.2 -5.2l-3.2 -5l-3.2 -4.8l-3.2 -4.6l-3.2 -4.4l-3.2 -4.2l-3.2 -3.9l-3.1 -3.7l-3.1 -3.4l-3.1 -3.2l-3.1 -3l-3.1 -2.8l-3 -2.5l-3 -2.3l-3 -2.1l-3 -2l-2.9 -1.8l-2.9 -1.7l-2.9 -1.6l-2.9 -1.5l-2.9 -1.4l-2.9 -1.4M511 289.4l4.4 -3.1l4.3 -3.4l4.3 -3.7l4.4 -4l4.4 -4.2l4.4 -4.3l4.4 -4.5l4.4 -4.6l4.4 -4.6l4.5 -4.6l4.5 -4.6l4.5 -4.6l4.5 -4.5l4.5 -4.4l4.6 -4.3l4.6 -4.2l4.6 -4.1l4.6 -3.9l4.6 -3.8l4.6 -3.6l4.6 -3.4l4.6 -3.2l4.6 -3l4.6 -2.8l4.6 -2.7l4.6 -2.5l4.6 -2.3l4.5 -2.2l4.5 -2l4.5 -1.9l4.5 -1.7l4.5 -1.6l4.5 -1.6l4.4 -1.5l4.4 -1.5l4.4 -1.5M516.4 289.7l-3.1 -5.3l-3.1 -5.5l-3.1 -5.7l-3.1 -5.8l-3.1 -5.9l-3.2 -6l-3.2 -6l-3.2 -6l-3.2 -6l-3.2 -5.9l-3.2 -5.8l-3.2 -5.7l-3.2 -5.6l-3.2 -5.4l-3.2 -5.2l-3.2 -5l-3.2 -4.8l-3.2 -4.6l-3.2 -4.4l-3.2 -4.2l-3.2 -3.9l-3.1 -3.7l-3.1 -3.4l-3.1 -3.2l-3.1 -3l-3.1 -2.8l-3 -2.5l-3 -2.3l-3 -2.1l-3 -2l-3 -1.8l-2.9 -1.7l-2.9 -1.6l-2.9 -1.5l-2.9 -1.4l-2.9 -1.4M510.2 287.9l4.4 -3.1l4.3 -3.4l4.3 -3.7l4.4 -4l4.4 -4.2l4.4 -4.4l4.4 -4.5l4.4 -4.6l4.4 -4.6l4.5 -4.6l4.5 -4.6l4.5 -4.6l4.5 -4.5l4.5 -4.4l4.6 -4.3l4.6 -4.2l4.6 -4.1l4.6 -3.9l4.6 -3.8l4.6 -3.6l4.6 -3.4l4.6 -3.2l4.6 -3l4.6 -2.9l4.6 -2.7l4.6 -2.5l4.6 -2.3l4.5 -2.2l4.5 -2l4.5 -1.9l4.5 -1.8l4.5 -1.7l4.5 -1.6l4.5 -1.5l4.4 -1.5l4.4 -1.5M517.6 288.8l-3.1 -5.3l-3.1 -5.5l-3.1 -5.7l-3.1 -5.8l-3.1 -5.9l-3.2 -6l-3.2 -6l-3.2 -6l-3.2 -6l-3.2 -5.9l-3.2 -5.8l-3.2 -5.7l-3.2 -5.6l-3.2 -5.4l-3.2 -5.2l-3.2 -5l-3.2 -4.8l-3.2 -4.6l-3.2 -4.4l-3.2 -4.1l-3.2 -3.9l-3.1 -3.7l-3.1 -3.4l-3.1 -3.2l-3.1 -3l-3.1 -2.7l-3 -2.5l-3 -2.3l-3 -2.1l-3 -2l-3 -1.8l-2.9 -1.7l-2.9 -1.6l-2.9 -1.5l-2.9 -1.4l-2.9 -1.4M509.3 286.4l4.4 -3.1l4.3 -3.5l4.3 -3.8l4.4 -4l4.4 -4.2l4.4 -4.4l4.4 -4.5l4.4 -4.6l4.4 -4.6l4.5 -4.6l4.5 -4.6l4.5 -4.6l4.5 -4.5l4.5 -4.4l4.6 -4.3l4.6 -4.2l4.6 -4.1l4.6 -3.9l4.6 -3.8l4.6 -3.6l4.6 -3.4l4.6 -3.2l4.6 -3l4.6 -2.9l4.6 -2.7l4.6 -2.5l4.6 -2.3l4.6 -2.2l4.5 -2l4.5 -1.9l4.5 -1.8l4.5 -1.7l4.5 -1.6l4.5 -1.5l4.4 -1.5l4.4 -1.5M518.8 287.9l-3.1 -5.3l-3.1 -5.5l-3.1 -5.7l-3.1 -5.8l-3.1 -5.9l-3.2 -6l-3.2 -6l-3.2 -6l-3.2 -6l-3.2 -5.9l-3.2 -5.8l-3.2 -5.7l-3.2 -5.5l-3.2 -5.4l-3.2 -5.2l-3.2 -5l-3.2 -4.8l-3.2 -4.6l-3.2 -4.4l-3.2 -4.1l-3.2 -3.9l-3.1 -3.7l-3.1 -3.4l-3.1 -3.2l-3.1 -3l-3.1 -2.7l-3 -2.5l-3 -2.3l-3 -2.1l-3 -2l-3 -1.8l-2.9 -1.7l-2.9 -1.5l-2.9 -1.5l-2.9 -1.4l-2.9 -1.4M508.5 284.9l4.4 -3.1l4.3 -3.5l4.3 -3.8l4.4 -4l4.4 -4.2l4.4 -4.4l4.4 -4.5l4.4 -4.6l4.4 -4.6l4.5 -4.6l4.5 -4.6l4.5 -4.6l4.5 -4.5l4.5 -4.4l4.6 -4.3l4.6 -4.2l4.6 -4.1l4.6 -3.9l4.6 -3.8l4.6 -3.6l4.6 -3.4l4.6 -3.2l4.6 -3l4.6 -2.9l4.6 -2.7l4.6 -2.5l4.6 -2.3l4.6 -2.2l4.5 -2l4.5 -1.9l4.5 -1.8l4.5 -1.7l4.5 -1.6l4.5 -1.5l4.4 -1.5l4.4 -1.5M520 286.9l-3.1 -5.3l-3.1 -5.5l-3.1 -5.7l-3.1 -5.8l-3.1 -5.9l-3.2 -6l-3.2 -6l-3.2 -6l-3.2 -6l-3.2 -5.9l-3.2 -5.8l-3.2 -5.7l-3.2 -5.5l-3.2 -5.4l-3.2 -5.2l-3.2 -5l-3.2 -4.8l-3.2 -4.6l-3.2 -4.4l-3.2 -4.1l-3.2 -3.9l-3.1 -3.7l-3.1 -3.4l-3.1 -3.2l-3.1 -3l-3.1 -2.7l-3.1 -2.5l-3 -2.3l-3 -2.1l-3 -2l-3 -1.8l-2.9 -1.7l-2.9 -1.5l-2.9 -1.5l-2.9 -1.4l-2.9 -1.4M507.6 283.4l4.4 -3.1l4.3 -3.5l4.3 -3.8l4.4 -4l4.4 -4.2l4.4 -4.4l4.4 -4.5l4.4 -4.6l4.4 -4.6l4.5 -4.6l4.5 -4.6l4.5 -4.6l4.5 -4.5l4.5 -4.4l4.6 -4.3l4.6 -4.2l4.6 -4.1l4.6 -3.9l4.6 -3.8l4.6 -3.6l4.6 -3.4l4.6 -3.2l4.6 -3l4.6 -2.9l4.6 -2.7l4.6 -2.5l4.6 -2.3l4.6 -2.2l4.5 -2l4.5 -1.9l4.5 -1.8l4.5 -1.7l4.5 -1.6l4.5 -1.5l4.5 -1.5l4.4 -1.5M521.2 286l-3.1 -5.3l-3.1 -5.5l-3.1 -5.7l-3.1 -5.8l-3.1 -5.9l-3.2 -6l-3.2 -6l-3.2 -6l-3.2 -6l-3.2 -5.9l-3.2 -5.8l-3.2 -5.7l-3.2 -5.5l-3.2 -5.4l-3.2 -5.2l-3.2 -5l-3.2 -4.8l-3.2 -4.6l-3.2 -4.3l-3.2 -4.1l-3.2 -3.9l-3.2 -3.6l-3.1 -3.4l-3.1 -3.2l-3.1 -2.9l-3.1 -2.7l-3.1 -2.5l-3 -2.3l-3 -2.1l-3 -1.9l-3 -1.8l-2.9 -1.7l-2.9 -1.5l-2.9 -1.4l-2.9 -1.4l-2.9 -1.3M506.8 281.9l4.4 -3.2l4.3 -3.5l4.3 -3.8l4.4 -4l4.4 -4.2l4.4 -4.4l4.4 -4.5l4.4 -4.6l4.4 -4.6l4.5 -4.6l4.5 -4.6l4.5 -4.6l4.5 -4.5l4.5 -4.4l4.6 -4.3l4.6 -4.2l4.6 -4.1l4.6 -3.9l4.6 -3.8l4.6 -3.6l4.6 -3.4l4.6 -3.2l4.6 -3l4.6 -2.9l4.6 -2.7l4.6 -2.5l4.6 -2.3l4.6 -2.2l4.5 -2l4.5 -1.9l4.5 -1.8l4.5 -1.7l4.5 -1.6l4.5 -1.5l4.5 -1.5l4.4 -1.5M522.4 285l-3.1 -5.3l-3.1 -5.5l-3.1 -5.7l-3.1 -5.8l-3.1 -5.9l-3.2 -6l-3.2 -6l-3.2 -6l-3.2 -6l-3.2 -5.9l-3.2 -5.8l-3.2 -5.7l-3.2 -5.5l-3.2 -5.4l-3.2 -5.2l-3.2 -5l-3.2 -4.8l-3.2 -4.6l-3.2 -4.3l-3.2 -4.1l-3.2 -3.9l-3.2 -3.6l-3.1 -3.4l-3.1 -3.2l-3.1 -2.9l-3.1 -2.7l-3.1 -2.5l-3 -2.3l-3 -2.1l-3 -1.9l-3 -1.8l-3 -1.6l-2.9 -1.5l-2.9 -1.4l-2.9 -1.4l-2.9 -1.3M505.9 280.4l4.4 -3.2l4.3 -3.5l4.3 -3.8l4.4 -4l4.4 -4.2l4.4 -4.4l4.4 -4.5l4.4 -4.6l4.4 -4.6l4.5 -4.6l4.5 -4.6l4.5 -4.6l4.5 -4.5l4.5 -4.4l4.6 -4.3l4.6 -4.2l4.6 -4.1l4.6 -3.9l4.6 -3.8l4.6 -3.6l4.6 -3.4l4.6 -3.2l4.6 -3l4.6 -2.9l4.6 -2.7l4.6 -2.5l4.6 -2.3l4.6 -2.2l4.5 -2l4.5 -1.9l4.5 -1.8l4.5 -1.7l4.5 -1.6l4.5 -1.5l4.5 -1.5l4.4 -1.5M523.6 284l-3.1 -5.3l-3.1 -5.5l-3.1 -5.7l-3.1 -5.8l-3.1 -5.9l-3.2 -6l-3.2 -6l-3.2 -6l-3.2 -5.9l-3.2 -5.9l-3.2 -5.8l-3.2 -5.7l-3.2 -5.5l-3.2 -5.3l-3.2 -5.2l-3.2 -5l-3.2 -4.8l-3.2 -4.5l-3.2 -4.3l-3.2 -4.1l-3.2 -3.9l-3.2 -3.6l-3.1 -3.4l-3.1 -3.2l-3.1 -2.9l-3.1 -2.7l-3.1 -2.5l-3 -2.3l-3 -2.1l-3 -1.9l-3 -1.8l-3 -1.6l-2.9 -1.5l-2.9 -1.4l-2.9 -1.4l-2.9 -1.3M505 278.8l4.4 -3.2l4.3 -3.5l4.3 -3.8l4.4 -4l4.4 -4.2l4.4 -4.4l4.4 -4.5l4.4 -4.6l4.4 -4.6l4.5 -4.6l4.5 -4.6l4.5 -4.6l4.5 -4.5l4.5 -4.4l4.6 -4.3l4.6 -4.2l4.6 -4.1l4.6 -3.9l4.6 -3.8l4.6 -3.6l4.6 -3.4l4.6 -3.2l4.6 -3l4.6 -2.9l4.6 -2.7l4.6 -2.5l4.6 -2.3l4.6 -2.2l4.5 -2l4.5 -1.9l4.5 -1.8l4.5 -1.7l4.5 -1.6l4.5 -1.5l4.5 -1.5l4.5 -1.5M524.8 282.9l-3.1 -5.3l-3.1 -5.6l-3.1 -5.7l-3.1 -5.8l-3.1 -5.9l-3.2 -6l-3.2 -6l-3.2 -6l-3.2 -5.9l-3.2 -5.9l-3.2 -5.8l-3.2 -5.6l-3.2 -5.5l-3.2 -5.3l-3.2 -5.2l-3.2 -5l-3.2 -4.8l-3.2 -4.5l-3.2 -4.3l-3.2 -4.1l-3.2 -3.8l-3.2 -3.6l-3.1 -3.4l-3.1 -3.1l-3.1 -2.9l-3.1 -2.7l-3.1 -2.5l-3 -2.3l-3 -2.1l-3 -1.9l-3 -1.8l-3 -1.6l-2.9 -1.5l-2.9 -1.4l-2.9 -1.4l-2.9 -1.3M504.2 277.2l4.4 -3.2l4.3 -3.5l4.3 -3.8l4.4 -4l4.4 -4.2l4.4 -4.4l4.4 -4.5l4.4 -4.6l4.4 -4.6l4.5 -4.6l4.5 -4.6l4.5 -4.6l4.5 -4.5l4.5 -4.4l4.6 -4.3l4.6 -4.2l4.6 -4.1l4.6 -3.9l4.6 -3.7l4.6 -3.6l4.6 -3.4l4.6 -3.2l4.6 -3l4.6 -2.9l4.6 -2.7l4.6 -2.5l4.6 -2.3l4.6 -2.2l4.6 -2l4.5 -1.9l4.5 -1.8l4.5 -1.7l4.5 -1.6l4.5 -1.5l4.5 -1.5l4.5 -1.5M526 281.9l-3.1 -5.3l-3.1 -5.6l-3.1 -5.7l-3.1 -5.8l-3.1 -5.9l-3.2 -6l-3.2 -6l-3.2 -6l-3.2 -5.9l-3.2 -5.9l-3.2 -5.8l-3.2 -5.6l-3.2 -5.5l-3.2 -5.3l-3.2 -5.1l-3.2 -4.9l-3.2 -4.7l-3.2 -4.5l-3.2 -4.3l-3.2 -4.1l-3.2 -3.8l-3.2 -3.6l-3.1 -3.4l-3.1 -3.1l-3.1 -2.9l-3.1 -2.7l-3.1 -2.5l-3 -2.3l-3 -2.1l-3 -1.9l-3 -1.8l-3 -1.6l-2.9 -1.5l-2.9 -1.4l-2.9 -1.4l-2.9 -1.3M503.3 275.6l4.4 -3.2l4.3 -3.5l4.4 -3.8l4.4 -4l4.4 -4.2l4.4 -4.4l4.4 -4.5l4.4 -4.5l4.4 -4.6l4.5 -4.6l4.5 -4.6l4.5 -4.6l4.5 -4.5l4.5 -4.4l4.6 -4.3l4.6 -4.2l4.6 -4.1l4.6 -3.9l4.6 -3.7l4.6 -3.6l4.6 -3.4l4.6 -3.2l4.6 -3l4.6 -2.9l4.6 -2.7l4.6 -2.5l4.6 -2.4l4.6 -2.2l4.6 -2l4.5 -1.9l4.5 -1.8l4.5 -1.7l4.5 -1.6l4.5 -1.5l4.5 -1.5l4.5 -1.5M527.2 280.8l-3.1 -5.4l-3.1 -5.6l-3.1 -5.7l-3.1 -5.8l-3.1 -5.9l-3.2 -6l-3.2 -6l-3.2 -6l-3.2 -5.9l-3.2 -5.8l-3.2 -5.7l-3.2 -5.6l-3.2 -5.5l-3.2 -5.3l-3.2 -5.1l-3.2 -4.9l-3.2 -4.7l-3.2 -4.5l-3.2 -4.3l-3.2 -4.1l-3.2 -3.8l-3.2 -3.6l-3.1 -3.4l-3.1 -3.1l-3.1 -2.9l-3.1 -2.7l-3.1 -2.5l-3 -2.3l-3 -2.1l-3 -1.9l-3 -1.8l-3 -1.6l-2.9 -1.5l-2.9 -1.4l-2.9 -1.4l-2.9 -1.3M502.4 274.1l4.4 -3.2l4.3 -3.5l4.4 -3.8l4.4 -4l4.4 -4.2l4.4 -4.4l4.4 -4.5l4.4 -4.5l4.4 -4.6l4.5 -4.6l4.5 -4.6l4.5 -4.5l4.5 -4.5l4.5 -4.4l4.6 -4.3l4.6 -4.2l4.6 -4l4.6 -3.9l4.6 -3.7l4.6 -3.6l4.6 -3.4l4.6 -3.2l4.6 -3l4.6 -2.9l4.6 -2.7l4.6 -2.5l4.6 -2.4l4.6 -2.2l4.6 -2l4.5 -1.9l4.5 -1.8l4.5 -1.7l4.5 -1.6l4.5 -1.5l4.5 -1.5l4.5 -1.5M528.4 279.7l-3.1 -5.4l-3.1 -5.6l-3.1 -5.7l-3.1 -5.8l-3.1 -5.9l-3.2 -6l-3.2 -6l-3.2 -6l-3.2 -5.9l-3.2 -5.8l-3.2 -5.7l-3.2 -5.6l-3.2 -5.5l-3.2 -5.3l-3.2 -5.1l-3.2 -4.9l-3.2 -4.7l-3.2 -4.5l-3.2 -4.3l-3.2 -4l-3.2 -3.8l-3.2 -3.6l-3.1 -3.3l-3.1 -3.1l-3.1 -2.9l-3.1 -2.7l-3.1 -2.5l-3.1 -2.3l-3 -2.1l-3 -1.9l-3 -1.7l-3 -1.6l-3 -1.5l-2.9 -1.4l-2.9 -1.3l-2.9 -1.3M501.6 272.5l4.4 -3.2l4.3 -3.5l4.4 -3.8l4.4 -4l4.4 -4.2l4.4 -4.4l4.4 -4.5l4.4 -4.5l4.4 -4.6l4.5 -4.6l4.5 -4.6l4.5 -4.5l4.5 -4.5l4.5 -4.4l4.6 -4.3l4.6 -4.2l4.6 -4l4.6 -3.9l4.6 -3.7l4.6 -3.6l4.6 -3.4l4.6 -3.2l4.6 -3l4.6 -2.9l4.6 -2.7l4.6 -2.5l4.6 -2.3l4.6 -2.2l4.6 -2l4.5 -1.9l4.5 -1.8l4.5 -1.7l4.5 -1.6l4.5 -1.5l4.5 -1.5l4.5 -1.5M529.6 278.6l-3.1 -5.4l-3.1 -5.6l-3.1 -5.7l-3.1 -5.8l-3.1 -5.9l-3.2 -6l-3.2 -6l-3.2 -6l-3.2 -5.9l-3.2 -5.8l-3.2 -5.7l-3.2 -5.6l-3.2 -5.4l-3.2 -5.3l-3.2 -5.1l-3.2 -4.9l-3.2 -4.7l-3.2 -4.5l-3.2 -4.3l-3.2 -4l-3.2 -3.8l-3.2 -3.6l-3.1 -3.3l-3.1 -3.1l-3.1 -2.9l-3.1 -2.7l-3.1 -2.4l-3.1 -2.2l-3 -2.1l-3 -1.9l-3 -1.7l-3 -1.6l-3 -1.5l-2.9 -1.4l-2.9 -1.3l-2.9 -1.3M500.7 270.8l4.4 -3.2l4.4 -3.5l4.4 -3.8l4.4 -4l4.4 -4.2l4.4 -4.3l4.4 -4.5l4.4 -4.5l4.4 -4.6l4.5 -4.6l4.5 -4.6l4.5 -4.5l4.5 -4.5l4.5 -4.4l4.6 -4.3l4.6 -4.2l4.6 -4l4.6 -3.9l4.6 -3.7l4.6 -3.6l4.6 -3.4l4.6 -3.2l4.6 -3l4.6 -2.9l4.6 -2.7l4.6 -2.5l4.6 -2.3l4.6 -2.2l4.6 -2l4.5 -1.9l4.5 -1.8l4.5 -1.7l4.5 -1.6l4.5 -1.5l4.5 -1.5l4.5 -1.5M530.8 277.4l-3.1 -5.4l-3.1 -5.6l-3.1 -5.7l-3.1 -5.8l-3.1 -5.9l-3.2 -6l-3.2 -6l-3.2 -5.9l-3.2 -5.9l-3.2 -5.8l-3.2 -5.7l-3.2 -5.6l-3.2 -5.4l-3.2 -5.3l-3.2 -5.1l-3.2 -4.9l-3.2 -4.7l-3.2 -4.5l-3.2 -4.2l-3.2 -4l-3.2 -3.8l-3.2 -3.5l-3.1 -3.3l-3.1 -3.1l-3.1 -2.9l-3.1 -2.6l-3.1 -2.4l-3.1 -2.2l-3 -2l-3 -1.9l-3 -1.7l-3 -1.6l-3 -1.5l-2.9 -1.4l-2.9 -1.3l-2.9 -1.3M499.8 269.2l4.4 -3.2l4.4 -3.5l4.4 -3.8l4.4 -4l4.4 -4.2l4.4 -4.3l4.4 -4.5l4.4 -4.5l4.4 -4.6l4.5 -4.6l4.5 -4.6l4.5 -4.5l4.5 -4.5l4.5 -4.4l4.6 -4.3l4.6 -4.2l4.6 -4l4.6 -3.9l4.6 -3.7l4.6 -3.6l4.6 -3.4l4.6 -3.2l4.6 -3l4.6 -2.9l4.6 -2.7l4.6 -2.5l4.6 -2.3l4.6 -2.2l4.6 -2l4.5 -1.9l4.5 -1.8l4.5 -1.7l4.5 -1.6l4.5 -1.5l4.5 -1.5l4.5 -1.5M532 276.3l-3.1 -5.4l-3.1 -5.6l-3.1 -5.7l-3.1 -5.8l-3.1 -5.9l-3.2 -6l-3.2 -6l-3.2 -5.9l-3.2 -5.9l-3.2 -5.8l-3.2 -5.7l-3.2 -5.6l-3.2 -5.4l-3.2 -5.3l-3.2 -5.1l-3.2 -4.9l-3.2 -4.7l-3.2 -4.5l-3.2 -4.2l-3.2 -4l-3.2 -3.8l-3.2 -3.5l-3.2 -3.3l-3.1 -3.1l-3.1 -2.8l-3.1 -2.6l-3.1 -2.4l-3.1 -2.2l-3 -2l-3 -1.9l-3 -1.7l-3 -1.6l-3 -1.5l-2.9 -1.4l-2.9 -1.3l-2.9 -1.3M499 267.6l4.4 -3.2l4.4 -3.5l4.4 -3.8l4.4 -4l4.4 -4.2l4.4 -4.3l4.4 -4.4l4.4 -4.5l4.4 -4.6l4.5 -4.6l4.5 -4.6l4.5 -4.5l4.5 -4.5l4.5 -4.4l4.6 -4.3l4.6 -4.1l4.6 -4l4.6 -3.9l4.6 -3.7l4.6 -3.5l4.6 -3.4l4.6 -3.2l4.6 -3l4.6 -2.9l4.6 -2.7l4.6 -2.5l4.6 -2.3l4.6 -2.2l4.6 -2l4.5 -1.9l4.5 -1.8l4.5 -1.7l4.5 -1.6l4.5 -1.5l4.5 -1.5l4.5 -1.5M533.2 275.1l-3.1 -5.4l-3.1 -5.6l-3.1 -5.7l-3.1 -5.8l-3.1 -5.9l-3.2 -5.9l-3.2 -6l-3.2 -5.9l-3.2 -5.9l-3.2 -5.8l-3.2 -5.7l-3.2 -5.6l-3.2 -5.4l-3.2 -5.2l-3.2 -5.1l-3.2 -4.9l-3.2 -4.7l-3.2 -4.4l-3.2 -4.2l-3.2 -4l-3.2 -3.7l-3.2 -3.5l-3.2 -3.3l-3.1 -3.1l-3.1 -2.8l-3.1 -2.6l-3.1 -2.4l-3.1 -2.2l-3 -2l-3 -1.9l-3 -1.7l-3 -1.6l-3 -1.5l-3 -1.4l-2.9 -1.3l-2.9 -1.3M498.1 265.9l4.4 -3.2l4.4 -3.5l4.4 -3.8l4.4 -4l4.4 -4.2l4.4 -4.3l4.4 -4.4l4.4 -4.5l4.4 -4.5l4.5 -4.6l4.5 -4.5l4.5 -4.5l4.5 -4.4l4.5 -4.4l4.6 -4.3l4.6 -4.1l4.6 -4l4.6 -3.9l4.6 -3.7l4.6 -3.5l4.6 -3.4l4.6 -3.2l4.6 -3l4.6 -2.8l4.6 -2.7l4.6 -2.5l4.6 -2.3l4.6 -2.2l4.6 -2l4.5 -1.9l4.5 -1.8l4.5 -1.7l4.5 -1.6l4.5 -1.5l4.5 -1.5l4.5 -1.5M534.4 274l-3.1 -5.4l-3.1 -5.6l-3.1 -5.7l-3.1 -5.8l-3.1 -5.9l-3.2 -5.9l-3.2 -5.9l-3.2 -5.9l-3.2 -5.9l-3.2 -5.8l-3.2 -5.7l-3.2 -5.5l-3.2 -5.4l-3.2 -5.2l-3.2 -5l-3.2 -4.8l-3.2 -4.6l-3.2 -4.4l-3.2 -4.2l-3.2 -4l-3.2 -3.7l-3.2 -3.5l-3.2 -3.3l-3.1 -3l-3.1 -2.8l-3.1 -2.6l-3.1 -2.4l-3.1 -2.2l-3 -2l-3 -1.8l-3 -1.7l-3 -1.6l-3 -1.4l-3 -1.4l-2.9 -1.3l-2.9 -1.3M497.2 264.3l4.4 -3.2l4.4 -3.5l4.4 -3.8l4.4 -4l4.4 -4.2l4.4 -4.3l4.4 -4.4l4.4 -4.5l4.4 -4.5l4.5 -4.6l4.5 -4.5l4.5 -4.5l4.5 -4.4l4.5 -4.3l4.6 -4.2l4.6 -4.1l4.6 -4l4.6 -3.9l4.6 -3.7l4.6 -3.5l4.6 -3.4l4.6 -3.2l4.6 -3l4.6 -2.8l4.6 -2.7l4.6 -2.5l4.6 -2.3l4.6 -2.2l4.6 -2l4.6 -1.9l4.5 -1.8l4.5 -1.7l4.5 -1.6l4.5 -1.5l4.5 -1.5l4.5 -1.5M535.6 272.8l-3.1 -5.4l-3.1 -5.6l-3.1 -5.7l-3.1 -5.8l-3.1 -5.9l-3.2 -5.9l-3.2 -5.9l-3.2 -5.9l-3.2 -5.8l-3.2 -5.8l-3.2 -5.7l-3.2 -5.5l-3.2 -5.4l-3.2 -5.2l-3.2 -5l-3.2 -4.8l-3.2 -4.6l-3.2 -4.4l-3.2 -4.2l-3.2 -3.9l-3.2 -3.7l-3.2 -3.5l-3.2 -3.3l-3.1 -3l-3.1 -2.8l-3.1 -2.6l-3.1 -2.4l-3.1 -2.2l-3.1 -2l-3 -1.8l-3 -1.7l-3 -1.5l-3 -1.4l-3 -1.3l-2.9 -1.3l-2.9 -1.2M496.3 262.6l4.4 -3.2l4.4 -3.5l4.4 -3.8l4.4 -4l4.4 -4.2l4.4 -4.3l4.4 -4.4l4.4 -4.5l4.4 -4.5l4.5 -4.5l4.5 -4.5l4.5 -4.5l4.5 -4.4l4.5 -4.3l4.6 -4.2l4.6 -4.1l4.6 -4l4.6 -3.8l4.6 -3.7l4.6 -3.5l4.6 -3.4l4.6 -3.2l4.6 -3l4.6 -2.8l4.6 -2.7l4.6 -2.5l4.6 -2.3l4.6 -2.2l4.6 -2l4.6 -1.9l4.5 -1.8l4.5 -1.7l4.5 -1.6l4.5 -1.5l4.5 -1.5l4.5 -1.5M536.9 271.6l-3.1 -5.4l-3.1 -5.6l-3.1 -5.7l-3.1 -5.8l-3.1 -5.9l-3.2 -5.9l-3.2 -5.9l-3.2 -5.9l-3.2 -5.8l-3.2 -5.7l-3.2 -5.6l-3.2 -5.5l-3.2 -5.4l-3.2 -5.2l-3.2 -5l-3.2 -4.8l-3.2 -4.6l-3.2 -4.4l-3.2 -4.2l-3.2 -3.9l-3.2 -3.7l-3.2 -3.5l-3.2 -3.2l-3.1 -3l-3.1 -2.8l-3.1 -2.6l-3.1 -2.4l-3.1 -2.2l-3.1 -2l-3 -1.8l-3 -1.7l-3 -1.5l-3 -1.4l-3 -1.3l-2.9 -1.3l-2.9 -1.2M495.5 261l4.4 -3.2l4.4 -3.5l4.4 -3.8l4.4 -4l4.4 -4.2l4.4 -4.3l4.4 -4.4l4.4 -4.5l4.4 -4.5l4.5 -4.5l4.5 -4.5l4.5 -4.5l4.5 -4.4l4.5 -4.3l4.6 -4.2l4.6 -4.1l4.6 -4l4.6 -3.8l4.6 -3.7l4.6 -3.5l4.6 -3.3l4.6 -3.2l4.6 -3l4.6 -2.8l4.6 -2.7l4.6 -2.5l4.6 -2.3l4.6 -2.2l4.6 -2l4.6 -1.9l4.5 -1.8l4.5 -1.7l4.5 -1.6l4.5 -1.5l4.5 -1.5l4.5 -1.5M538.1 270.4l-3.1 -5.4l-3.1 -5.6l-3.1 -5.7l-3.1 -5.8l-3.1 -5.9l-3.2 -5.9l-3.2 -5.9l-3.2 -5.9l-3.2 -5.8l-3.2 -5.7l-3.2 -5.6l-3.2 -5.5l-3.2 -5.3l-3.2 -5.2l-3.2 -5l-3.2 -4.8l-3.2 -4.6l-3.2 -4.4l-3.2 -4.1l-3.2 -3.9l-3.2 -3.7l-3.2 -3.5l-3.2 -3.2l-3.1 -3l-3.1 -2.8l-3.1 -2.6l-3.1 -2.3l-3.1 -2.2l-3.1 -2l-3 -1.8l-3 -1.7l-3 -1.5l-3 -1.4l-3 -1.3l-3 -1.3l-2.9 -1.2M494.6 259.3l4.4 -3.2l4.4 -3.5l4.4 -3.8l4.4 -4l4.4 -4.2l4.4 -4.3l4.4 -4.4l4.4 -4.5l4.4 -4.5l4.5 -4.5l4.5 -4.5l4.5 -4.5l4.5 -4.4l4.5 -4.3l4.6 -4.2l4.6 -4.1l4.6 -4l4.6 -3.8l4.6 -3.7l4.6 -3.5l4.6 -3.3l4.6 -3.2l4.6 -3l4.6 -2.8l4.6 -2.7l4.6 -2.5l4.6 -2.3l4.6 -2.2l4.6 -2l4.6 -1.9l4.5 -1.8l4.5 -1.7l4.5 -1.6l4.5 -1.5l4.5 -1.5l4.5 -1.5M539.3 269.2l-3.1 -5.4l-3.1 -5.6l-3.1 -5.7l-3.1 -5.8l-3.1 -5.9l-3.2 -5.9l-3.2 -5.9l-3.2 -5.9l-3.2 -5.8l-3.2 -5.7l-3.2 -5.6l-3.2 -5.5l-3.2 -5.3l-3.2 -5.2l-3.2 -5l-3.2 -4.8l-3.2 -4.6l-3.2 -4.3l-3.2 -4.1l-3.2 -3.9l-3.2 -3.7l-3.2 -3.4l-3.2 -3.2l-3.1 -3l-3.1 -2.8l-3.1 -2.5l-3.1 -2.3l-3.1 -2.1l-3.1 -2l-3 -1.8l-3 -1.6l-3 -1.5l-3 -1.4l-3 -1.3l-3 -1.3l-2.9 -1.2M493.7 257.7l4.4 -3.3l4.4 -3.5l4.4 -3.8l4.4 -4l4.4 -4.2l4.4 -4.3l4.4 -4.4l4.4 -4.5l4.4 -4.5l4.5 -4.5l4.5 -4.5l4.5 -4.4l4.5 -4.4l4.5 -4.3l4.6 -4.2l4.6 -4.1l4.6 -4l4.6 -3.8l4.6 -3.7l4.6 -3.5l4.6 -3.3l4.6 -3.2l4.6 -3l4.6 -2.8l4.6 -2.6l4.6 -2.5l4.6 -2.3l4.6 -2.2l4.6 -2l4.6 -1.9l4.5 -1.8l4.5 -1.7l4.5 -1.6l4.5 -1.5l4.5 -1.5l4.5 -1.5M540.5 267.9l-3.1 -5.4l-3.1 -5.6l-3.1 -5.7l-3.1 -5.8l-3.1 -5.9l-3.2 -5.9l-3.2 -5.9l-3.2 -5.9l-3.2 -5.8l-3.2 -5.7l-3.2 -5.6l-3.2 -5.5l-3.2 -5.3l-3.2 -5.1l-3.2 -5l-3.2 -4.8l-3.2 -4.5l-3.2 -4.3l-3.2 -4.1l-3.2 -3.9l-3.2 -3.6l-3.2 -3.4l-3.2 -3.2l-3.2 -3l-3.1 -2.7l-3.1 -2.5l-3.1 -2.3l-3.1 -2.1l-3.1 -1.9l-3 -1.8l-3 -1.6l-3 -1.5l-3 -1.4l-3 -1.3l-3 -1.2l-2.9 -1.2M492.8 256l4.4 -3.3l4.4 -3.5l4.4 -3.8l4.4 -4l4.4 -4.2l4.4 -4.3l4.4 -4.4l4.4 -4.4l4.4 -4.5l4.5 -4.5l4.5 -4.5l4.5 -4.4l4.5 -4.4l4.5 -4.3l4.6 -4.2l4.6 -4.1l4.6 -3.9l4.6 -3.8l4.6 -3.6l4.6 -3.5l4.6 -3.3l4.6 -3.1l4.6 -3l4.6 -2.8l4.6 -2.6l4.6 -2.5l4.6 -2.3l4.6 -2.2l4.6 -2l4.6 -1.9l4.5 -1.8l4.5 -1.7l4.5 -1.6l4.5 -1.5l4.5 -1.5l4.5 -1.4M541.7 266.7l-3.1 -5.4l-3.1 -5.6l-3.1 -5.7l-3.1 -5.8l-3.1 -5.9l-3.1 -5.9l-3.2 -5.9l-3.2 -5.8l-3.2 -5.8l-3.2 -5.7l-3.2 -5.6l-3.2 -5.4l-3.2 -5.3l-3.2 -5.1l-3.2 -4.9l-3.2 -4.7l-3.2 -4.5l-3.2 -4.3l-3.2 -4.1l-3.2 -3.9l-3.2 -3.6l-3.2 -3.4l-3.2 -3.2l-3.2 -2.9l-3.1 -2.7l-3.1 -2.5l-3.1 -2.3l-3.1 -2.1l-3.1 -1.9l-3 -1.8l-3 -1.6l-3 -1.5l-3 -1.4l-3 -1.3l-3 -1.2l-3 -1.2M491.9 254.3l4.4 -3.3l4.4 -3.5l4.4 -3.8l4.4 -4l4.4 -4.1l4.4 -4.3l4.4 -4.4l4.4 -4.4l4.4 -4.5l4.5 -4.5l4.5 -4.5l4.5 -4.4l4.5 -4.4l4.5 -4.3l4.6 -4.2l4.6 -4.1l4.6 -3.9l4.6 -3.8l4.6 -3.6l4.6 -3.5l4.6 -3.3l4.6 -3.1l4.6 -3l4.6 -2.8l4.6 -2.6l4.6 -2.5l4.6 -2.3l4.6 -2.2l4.6 -2l4.6 -1.9l4.5 -1.8l4.5 -1.7l4.5 -1.6l4.5 -1.5l4.5 -1.5l4.5 -1.4M542.9 265.4l-3.1 -5.4l-3.1 -5.6l-3.1 -5.7l-3.1 -5.8l-3.1 -5.9l-3.1 -5.9l-3.2 -5.9l-3.2 -5.8l-3.2 -5.8l-3.2 -5.7l-3.2 -5.6l-3.2 -5.4l-3.2 -5.3l-3.2 -5.1l-3.2 -4.9l-3.2 -4.7l-3.2 -4.5l-3.2 -4.3l-3.2 -4.1l-3.2 -3.8l-3.2 -3.6l-3.2 -3.4l-3.2 -3.2l-3.2 -2.9l-3.1 -2.7l-3.1 -2.5l-3.1 -2.3l-3.1 -2.1l-3.1 -1.9l-3.1 -1.7l-3 -1.6l-3 -1.5l-3 -1.4l-3 -1.3l-3 -1.2l-3 -1.2M491.1 252.7l4.4 -3.3l4.4 -3.5l4.4 -3.8l4.4 -4l4.4 -4.1l4.4 -4.3l4.4 -4.4l4.4 -4.4l4.4 -4.5l4.5 -4.5l4.5 -4.4l4.5 -4.4l4.5 -4.3l4.5 -4.3l4.6 -4.2l4.6 -4l4.6 -3.9l4.6 -3.8l4.6 -3.6l4.6 -3.5l4.6 -3.3l4.6 -3.1l4.6 -3l4.6 -2.8l4.6 -2.6l4.6 -2.5l4.6 -2.3l4.6 -2.1l4.6 -2l4.6 -1.9l4.5 -1.8l4.5 -1.7l4.5 -1.6l4.5 -1.5l4.5 -1.5l4.5 -1.4M544.2 264.2l-3.1 -5.4l-3.1 -5.6l-3.1 -5.7l-3.1 -5.8l-3.1 -5.9l-3.1 -5.9l-3.2 -5.9l-3.2 -5.8l-3.2 -5.8l-3.2 -5.7l-3.2 -5.5l-3.2 -5.4l-3.2 -5.3l-3.2 -5.1l-3.2 -4.9l-3.2 -4.7l-3.2 -4.5l-3.2 -4.3l-3.2 -4.1l-3.2 -3.8l-3.2 -3.6l-3.2 -3.4l-3.2 -3.1l-3.2 -2.9l-3.1 -2.7l-3.1 -2.5l-3.1 -2.3l-3.1 -2.1l-3.1 -1.9l-3.1 -1.7l-3 -1.6l-3 -1.5l-3 -1.3l-3 -1.3l-3 -1.2l-3 -1.2M490.2 251l4.4 -3.3l4.4 -3.5l4.4 -3.8l4.4 -4l4.4 -4.1l4.4 -4.3l4.4 -4.3l4.4 -4.4l4.4 -4.4l4.5 -4.5l4.5 -4.4l4.5 -4.4l4.5 -4.3l4.5 -4.2l4.6 -4.1l4.6 -4l4.6 -3.9l4.6 -3.8l4.6 -3.6l4.6 -3.4l4.6 -3.3l4.6 -3.1l4.6 -2.9l4.6 -2.8l4.6 -2.6l4.6 -2.4l4.6 -2.3l4.6 -2.1l4.6 -2l4.6 -1.9l4.5 -1.7l4.5 -1.6l4.5 -1.6l4.5 -1.5l4.5 -1.4l4.5 -1.4M545.4 262.9l-3.1 -5.4l-3.1 -5.6l-3.1 -5.7l-3.1 -5.8l-3.1 -5.8l-3.1 -5.9l-3.2 -5.8l-3.2 -5.8l-3.2 -5.7l-3.2 -5.6l-3.2 -5.5l-3.2 -5.4l-3.2 -5.2l-3.2 -5.1l-3.2 -4.9l-3.2 -4.7l-3.2 -4.5l-3.2 -4.3l-3.2 -4l-3.2 -3.8l-3.2 -3.6l-3.2 -3.3l-3.2 -3.1l-3.2 -2.9l-3.1 -2.7l-3.1 -2.5l-3.1 -2.3l-3.1 -2.1l-3.1 -1.9l-3.1 -1.7l-3 -1.6l-3 -1.4l-3 -1.3l-3 -1.2l-3 -1.2l-3 -1.2M489.3 249.3l4.4 -3.3l4.4 -3.5l4.4 -3.8l4.4 -4l4.4 -4.1l4.4 -4.2l4.4 -4.3l4.4 -4.4l4.4 -4.4l4.5 -4.4l4.5 -4.4l4.5 -4.4l4.5 -4.3l4.5 -4.2l4.6 -4.1l4.6 -4l4.6 -3.9l4.6 -3.7l4.6 -3.6l4.6 -3.4l4.6 -3.3l4.6 -3.1l4.6 -2.9l4.6 -2.8l4.6 -2.6l4.6 -2.4l4.6 -2.3l4.6 -2.1l4.6 -2l4.6 -1.9l4.5 -1.7l4.5 -1.6l4.5 -1.6l4.5 -1.5l4.5 -1.4l4.5 -1.4M546.6 261.7l-3.1 -5.4l-3.1 -5.6l-3.1 -5.7l-3.1 -5.8l-3.1 -5.8l-3.1 -5.9l-3.2 -5.8l-3.2 -5.8l-3.2 -5.7l-3.2 -5.6l-3.2 -5.5l-3.2 -5.4l-3.2 -5.2l-3.2 -5l-3.2 -4.9l-3.2 -4.7l-3.2 -4.5l-3.2 -4.2l-3.2 -4l-3.2 -3.8l-3.2 -3.6l-3.2 -3.3l-3.2 -3.1l-3.2 -2.9l-3.1 -2.7l-3.1 -2.4l-3.1 -2.2l-3.1 -2l-3.1 -1.9l-3.1 -1.7l-3 -1.6l-3 -1.4l-3 -1.3l-3 -1.2l-3 -1.2l-3 -1.1M488.4 247.7l4.4 -3.3l4.4 -3.5l4.4 -3.8l4.4 -4l4.4 -4.1l4.4 -4.2l4.4 -4.3l4.4 -4.4l4.4 -4.4l4.5 -4.4l4.5 -4.4l4.5 -4.4l4.5 -4.3l4.5 -4.2l4.6 -4.1l4.6 -4l4.6 -3.9l4.6 -3.7l4.6 -3.6l4.6 -3.4l4.6 -3.3l4.6 -3.1l4.6 -2.9l4.6 -2.8l4.6 -2.6l4.6 -2.4l4.6 -2.3l4.6 -2.1l4.6 -2l4.6 -1.9l4.5 -1.7l4.5 -1.6l4.5 -1.5l4.5 -1.5l4.5 -1.4l4.5 -1.4M547.8 260.4l-3.1 -5.4l-3.1 -5.6l-3.1 -5.7l-3.1 -5.8l-3.1 -5.8l-3.1 -5.8l-3.2 -5.8l-3.2 -5.8l-3.2 -5.7l-3.2 -5.6l-3.2 -5.5l-3.2 -5.4l-3.2 -5.2l-3.2 -5l-3.2 -4.8l-3.2 -4.6l-3.2 -4.4l-3.2 -4.2l-3.2 -4l-3.2 -3.8l-3.2 -3.5l-3.2 -3.3l-3.2 -3.1l-3.2 -2.9l-3.2 -2.6l-3.1 -2.4l-3.1 -2.2l-3.1 -2l-3.1 -1.9l-3.1 -1.7l-3 -1.5l-3 -1.4l-3 -1.3l-3 -1.2l-3 -1.2l-3 -1.1M487.5 246l4.4 -3.3l4.4 -3.5l4.4 -3.8l4.4 -3.9l4.4 -4.1l4.4 -4.2l4.4 -4.3l4.4 -4.4l4.4 -4.4l4.5 -4.4l4.5 -4.4l4.5 -4.3l4.5 -4.3l4.5 -4.2l4.5 -4.1l4.6 -4l4.6 -3.9l4.6 -3.7l4.6 -3.6l4.6 -3.4l4.6 -3.2l4.6 -3.1l4.6 -2.9l4.6 -2.7l4.6 -2.6l4.6 -2.4l4.6 -2.3l4.6 -2.1l4.6 -2l4.6 -1.8l4.5 -1.7l4.5 -1.6l4.5 -1.5l4.5 -1.5l4.5 -1.4l4.5 -1.4M549.1 259.1l-3.1 -5.4l-3.1 -5.6l-3.1 -5.7l-3.1 -5.8l-3.1 -5.8l-3.1 -5.8l-3.2 -5.8l-3.2 -5.8l-3.2 -5.7l-3.2 -5.6l-3.2 -5.5l-3.2 -5.3l-3.2 -5.2l-3.2 -5l-3.2 -4.8l-3.2 -4.6l-3.2 -4.4l-3.2 -4.2l-3.2 -4l-3.2 -3.7l-3.2 -3.5l-3.2 -3.3l-3.2 -3.1l-3.2 -2.8l-3.2 -2.6l-3.1 -2.4l-3.1 -2.2l-3.1 -2l-3.1 -1.8l-3.1 -1.7l-3 -1.5l-3 -1.4l-3 -1.3l-3 -1.2l-3 -1.1l-3 -1.1M486.6 244.4l4.4 -3.2l4.4 -3.5l4.4 -3.7l4.4 -3.9l4.4 -4.1l4.4 -4.2l4.4 -4.3l4.4 -4.4l4.4 -4.4l4.5 -4.4l4.5 -4.4l4.5 -4.3l4.5 -4.3l4.5 -4.2l4.5 -4.1l4.6 -4l4.6 -3.8l4.6 -3.7l4.6 -3.6l4.6 -3.4l4.6 -3.2l4.6 -3.1l4.6 -2.9l4.6 -2.7l4.6 -2.6l4.6 -2.4l4.6 -2.3l4.6 -2.1l4.6 -2l4.6 -1.8l4.5 -1.7l4.5 -1.6l4.5 -1.5l4.5 -1.5l4.5 -1.4l4.5 -1.4M550.3 257.9l-3.1 -5.4l-3.1 -5.6l-3.1 -5.7l-3.1 -5.8l-3.1 -5.8l-3.1 -5.8l-3.2 -5.8l-3.2 -5.8l-3.2 -5.7l-3.2 -5.6l-3.2 -5.5l-3.2 -5.3l-3.2 -5.2l-3.2 -5l-3.2 -4.8l-3.2 -4.6l-3.2 -4.4l-3.2 -4.2l-3.2 -4l-3.2 -3.7l-3.2 -3.5l-3.2 -3.3l-3.2 -3l-3.2 -2.8l-3.2 -2.6l-3.1 -2.4l-3.1 -2.2l-3.1 -2l-3.1 -1.8l-3.1 -1.7l-3.1 -1.5l-3 -1.4l-3 -1.3l-3 -1.2l-3 -1.1l-3 -1.1M485.7 242.7l4.4 -3.2l4.4 -3.5l4.4 -3.7l4.4 -3.9l4.4 -4.1l4.4 -4.2l4.4 -4.3l4.4 -4.3l4.4 -4.4l4.5 -4.4l4.5 -4.4l4.5 -4.3l4.5 -4.2l4.5 -4.2l4.5 -4.1l4.6 -4l4.6 -3.8l4.6 -3.7l4.6 -3.5l4.6 -3.4l4.6 -3.2l4.6 -3.1l4.6 -2.9l4.6 -2.7l4.6 -2.6l4.6 -2.4l4.6 -2.2l4.6 -2.1l4.6 -2l4.6 -1.8l4.5 -1.7l4.5 -1.6l4.5 -1.5l4.5 -1.5l4.5 -1.4l4.5 -1.4M551.5 256.6l-3.1 -5.5l-3.1 -5.6l-3.1 -5.7l-3.1 -5.8l-3.1 -5.8l-3.1 -5.8l-3.2 -5.8l-3.2 -5.7l-3.2 -5.7l-3.2 -5.6l-3.2 -5.4l-3.2 -5.3l-3.2 -5.1l-3.2 -5l-3.2 -4.8l-3.2 -4.6l-3.2 -4.4l-3.2 -4.2l-3.2 -3.9l-3.2 -3.7l-3.2 -3.5l-3.2 -3.2l-3.2 -3l-3.2 -2.8l-3.2 -2.6l-3.1 -2.4l-3.1 -2.2l-3.1 -2l-3.1 -1.8l-3.1 -1.6l-3.1 -1.5l-3 -1.4l-3 -1.3l-3 -1.2l-3 -1.1l-3 -1.1M484.9 241l4.4 -3.2l4.4 -3.5l4.4 -3.7l4.4 -3.9l4.4 -4.1l4.4 -4.2l4.4 -4.3l4.4 -4.3l4.4 -4.4l4.5 -4.4l4.5 -4.3l4.5 -4.3l4.5 -4.2l4.5 -4.1l4.5 -4l4.6 -3.9l4.6 -3.8l4.6 -3.7l4.6 -3.5l4.6 -3.4l4.6 -3.2l4.6 -3l4.6 -2.9l4.6 -2.7l4.6 -2.5l4.6 -2.4l4.6 -2.2l4.6 -2.1l4.6 -1.9l4.6 -1.8l4.5 -1.7l4.5 -1.6l4.5 -1.5l4.5 -1.4l4.5 -1.4l4.5 -1.4M552.7 255.3l-3.1 -5.5l-3.1 -5.6l-3.1 -5.7l-3.1 -5.8l-3.1 -5.8l-3.1 -5.8l-3.2 -5.8l-3.2 -5.7l-3.2 -5.6l-3.2 -5.5l-3.2 -5.4l-3.2 -5.3l-3.2 -5.1l-3.2 -4.9l-3.2 -4.8l-3.2 -4.6l-3.2 -4.4l-3.2 -4.1l-3.2 -3.9l-3.2 -3.7l-3.2 -3.5l-3.2 -3.2l-3.2 -3l-3.2 -2.8l-3.2 -2.6l-3.1 -2.4l-3.1 -2.2l-3.1 -2l-3.1 -1.8l-3.1 -1.6l-3.1 -1.5l-3 -1.4l-3 -1.2l-3 -1.2l-3 -1.1l-3 -1.1M484 239.4l4.4 -3.2l4.4 -3.5l4.4 -3.7l4.4 -3.9l4.4 -4.1l4.4 -4.2l4.4 -4.3l4.4 -4.3l4.4 -4.3l4.5 -4.3l4.5 -4.3l4.5 -4.3l4.5 -4.2l4.5 -4.1l4.5 -4l4.6 -3.9l4.6 -3.8l4.6 -3.7l4.6 -3.5l4.6 -3.4l4.6 -3.2l4.6 -3l4.6 -2.9l4.6 -2.7l4.6 -2.5l4.6 -2.4l4.6 -2.2l4.6 -2.1l4.6 -1.9l4.6 -1.8l4.5 -1.7l4.5 -1.6l4.5 -1.5l4.5 -1.4l4.5 -1.4l4.5 -1.4M554 254l-3.1 -5.5l-3.1 -5.6l-3.1 -5.7l-3.1 -5.8l-3.1 -5.8l-3.1 -5.8l-3.2 -5.8l-3.2 -5.7l-3.2 -5.6l-3.2 -5.5l-3.2 -5.4l-3.2 -5.3l-3.2 -5.1l-3.2 -4.9l-3.2 -4.7l-3.2 -4.5l-3.2 -4.3l-3.2 -4.1l-3.2 -3.9l-3.2 -3.7l-3.2 -3.4l-3.2 -3.2l-3.2 -3l-3.2 -2.8l-3.2 -2.5l-3.1 -2.3l-3.1 -2.1l-3.1 -1.9l-3.1 -1.8l-3.1 -1.6l-3.1 -1.5l-3 -1.3l-3 -1.2l-3 -1.1l-3 -1.1l-3 -1.1M483.1 237.8l4.4 -3.2l4.4 -3.5l4.4 -3.7l4.4 -3.9l4.4 -4l4.4 -4.2l4.4 -4.2l4.4 -4.3l4.4 -4.3l4.5 -4.3l4.5 -4.3l4.5 -4.3l4.5 -4.2l4.5 -4.1l4.5 -4l4.6 -3.9l4.6 -3.8l4.6 -3.6l4.6 -3.5l4.6 -3.3l4.6 -3.2l4.6 -3l4.6 -2.9l4.6 -2.7l4.6 -2.5l4.6 -2.4l4.6 -2.2l4.6 -2.1l4.6 -1.9l4.6 -1.8l4.5 -1.7l4.5 -1.6l4.5 -1.5l4.5 -1.4l4.5 -1.4l4.5 -1.3M555.2 252.7l-3.1 -5.5l-3.1 -5.6l-3.1 -5.7l-3.1 -5.7l-3.1 -5.8l-3.1 -5.8l-3.2 -5.7l-3.2 -5.7l-3.2 -5.6l-3.2 -5.5l-3.2 -5.4l-3.2 -5.2l-3.2 -5.1l-3.2 -4.9l-3.2 -4.7l-3.2 -4.5l-3.2 -4.3l-3.2 -4.1l-3.2 -3.9l-3.2 -3.6l-3.2 -3.4l-3.2 -3.2l-3.2 -3l-3.2 -2.7l-3.2 -2.5l-3.2 -2.3l-3.1 -2.1l-3.1 -1.9l-3.1 -1.8l-3.1 -1.6l-3.1 -1.4l-3 -1.3l-3 -1.2l-3 -1.1l-3 -1.1l-3 -1M482.2 236.1l4.4 -3.2l4.4 -3.5l4.4 -3.7l4.4 -3.9l4.4 -4l4.4 -4.1l4.4 -4.2l4.4 -4.3l4.4 -4.3l4.5 -4.3l4.5 -4.3l4.5 -4.2l4.5 -4.2l4.5 -4.1l4.5 -4l4.6 -3.9l4.6 -3.8l4.6 -3.6l4.6 -3.5l4.6 -3.3l4.6 -3.2l4.6 -3l4.6 -2.8l4.6 -2.7l4.6 -2.5l4.6 -2.4l4.6 -2.2l4.6 -2.1l4.6 -1.9l4.6 -1.8l4.5 -1.7l4.5 -1.6l4.5 -1.5l4.5 -1.4l4.5 -1.4l4.5 -1.3M556.5 251.5l-3.1 -5.5l-3.1 -5.6l-3.1 -5.7l-3.1 -5.7l-3.1 -5.8l-3.1 -5.8l-3.2 -5.7l-3.2 -5.7l-3.2 -5.6l-3.2 -5.5l-3.2 -5.4l-3.2 -5.2l-3.2 -5.1l-3.2 -4.9l-3.2 -4.7l-3.2 -4.5l-3.2 -4.3l-3.2 -4.1l-3.2 -3.8l-3.2 -3.6l-3.2 -3.4l-3.2 -3.2l-3.2 -2.9l-3.2 -2.7l-3.2 -2.5l-3.2 -2.3l-3.1 -2.1l-3.1 -1.9l-3.1 -1.7l-3.1 -1.6l-3.1 -1.4l-3.1 -1.3l-3 -1.2l-3 -1.1l-3 -1.1l-3 -1M481.3 234.5l4.4 -3.2l4.4 -3.5l4.4 -3.7l4.4 -3.9l4.4 -4l4.4 -4.1l4.4 -4.2l4.4 -4.3l4.4 -4.3l4.5 -4.3l4.5 -4.3l4.5 -4.2l4.5 -4.2l4.5 -4.1l4.5 -4l4.6 -3.9l4.6 -3.7l4.6 -3.6l4.6 -3.5l4.6 -3.3l4.6 -3.2l4.6 -3l4.6 -2.8l4.6 -2.7l4.6 -2.5l4.6 -2.3l4.6 -2.2l4.6 -2l4.6 -1.9l4.6 -1.8l4.5 -1.7l4.5 -1.6l4.5 -1.5l4.5 -1.4l4.5 -1.4l4.5 -1.3M557.7 250.2l-3.1 -5.5l-3.1 -5.6l-3.1 -5.7l-3.1 -5.7l-3.1 -5.8l-3.1 -5.8l-3.2 -5.7l-3.2 -5.7l-3.2 -5.6l-3.2 -5.5l-3.2 -5.3l-3.2 -5.2l-3.2 -5l-3.2 -4.9l-3.2 -4.7l-3.2 -4.5l-3.2 -4.3l-3.2 -4l-3.2 -3.8l-3.2 -3.6l-3.2 -3.4l-3.2 -3.1l-3.2 -2.9l-3.2 -2.7l-3.2 -2.5l-3.2 -2.3l-3.1 -2.1l-3.1 -1.9l-3.1 -1.7l-3.1 -1.6l-3.1 -1.4l-3.1 -1.3l-3 -1.2l-3 -1.1l-3 -1l-3 -1M480.4 232.9l4.4 -3.2l4.4 -3.5l4.4 -3.7l4.4 -3.9l4.4 -4l4.4 -4.1l4.4 -4.2l4.4 -4.2l4.4 -4.3l4.5 -4.3l4.5 -4.2l4.5 -4.2l4.5 -4.1l4.5 -4.1l4.5 -4l4.6 -3.8l4.6 -3.7l4.6 -3.6l4.6 -3.4l4.6 -3.3l4.6 -3.1l4.6 -3l4.6 -2.8l4.6 -2.7l4.6 -2.5l4.6 -2.3l4.6 -2.2l4.6 -2l4.6 -1.9l4.6 -1.8l4.5 -1.7l4.5 -1.5l4.5 -1.5l4.5 -1.4l4.5 -1.3l4.5 -1.3M558.9 248.9l-3.1 -5.5l-3.1 -5.6l-3.1 -5.7l-3.1 -5.7l-3.1 -5.7l-3.1 -5.7l-3.2 -5.7l-3.2 -5.6l-3.2 -5.6l-3.2 -5.5l-3.2 -5.3l-3.2 -5.2l-3.2 -5l-3.2 -4.8l-3.2 -4.7l-3.2 -4.5l-3.2 -4.2l-3.2 -4l-3.2 -3.8l-3.2 -3.6l-3.2 -3.4l-3.2 -3.1l-3.2 -2.9l-3.2 -2.7l-3.2 -2.5l-3.2 -2.3l-3.1 -2.1l-3.1 -1.9l-3.1 -1.7l-3.1 -1.5l-3.1 -1.4l-3.1 -1.3l-3 -1.2l-3 -1.1l-3 -1l-3 -1M479.5 231.2l4.4 -3.2l4.4 -3.5l4.4 -3.7l4.4 -3.9l4.4 -4l4.4 -4.1l4.4 -4.2l4.4 -4.2l4.4 -4.3l4.5 -4.3l4.5 -4.2l4.5 -4.2l4.5 -4.1l4.5 -4l4.5 -3.9l4.6 -3.8l4.6 -3.7l4.6 -3.6l4.6 -3.4l4.6 -3.3l4.6 -3.1l4.6 -3l4.6 -2.8l4.6 -2.6l4.6 -2.5l4.6 -2.3l4.6 -2.2l4.6 -2l4.6 -1.9l4.6 -1.8l4.5 -1.6l4.5 -1.5l4.5 -1.5l4.5 -1.4l4.5 -1.3l4.5 -1.3M560.2 247.6l-3.1 -5.5l-3.1 -5.6l-3.1 -5.7l-3.1 -5.7l-3.1 -5.7l-3.1 -5.7l-3.2 -5.7l-3.2 -5.6l-3.2 -5.5l-3.2 -5.4l-3.2 -5.3l-3.2 -5.2l-3.2 -5l-3.2 -4.8l-3.2 -4.6l-3.2 -4.4l-3.2 -4.2l-3.2 -4l-3.2 -3.8l-3.2 -3.6l-3.2 -3.3l-3.2 -3.1l-3.2 -2.9l-3.2 -2.7l-3.2 -2.4l-3.2 -2.2l-3.1 -2l-3.1 -1.9l-3.1 -1.7l-3.1 -1.5l-3.1 -1.4l-3.1 -1.3l-3 -1.2l-3 -1.1l-3 -1l-3 -1M478.6 229.6l4.4 -3.2l4.4 -3.5l4.4 -3.7l4.4 -3.8l4.4 -4l4.4 -4.1l4.4 -4.2l4.4 -4.2l4.4 -4.2l4.5 -4.2l4.5 -4.2l4.5 -4.2l4.5 -4.1l4.5 -4l4.5 -3.9l4.6 -3.8l4.6 -3.7l4.6 -3.6l4.6 -3.4l4.6 -3.3l4.6 -3.1l4.6 -2.9l4.6 -2.8l4.6 -2.6l4.6 -2.5l4.6 -2.3l4.6 -2.2l4.6 -2l4.6 -1.9l4.6 -1.7l4.5 -1.6l4.5 -1.5l4.5 -1.4l4.5 -1.4l4.5 -1.3l4.5 -1.3M561.4 246.3l-3.1 -5.5l-3.1 -5.6l-3.1 -5.7l-3.1 -5.7l-3.1 -5.7l-3.1 -5.7l-3.2 -5.7l-3.2 -5.6l-3.2 -5.5l-3.2 -5.4l-3.2 -5.3l-3.2 -5.1l-3.2 -5l-3.2 -4.8l-3.2 -4.6l-3.2 -4.4l-3.2 -4.2l-3.2 -4l-3.2 -3.8l-3.2 -3.5l-3.2 -3.3l-3.2 -3.1l-3.2 -2.9l-3.2 -2.6l-3.2 -2.4l-3.2 -2.2l-3.2 -2l-3.1 -1.8l-3.1 -1.7l-3.1 -1.5l-3.1 -1.4l-3.1 -1.2l-3 -1.1l-3 -1.1l-3 -1l-3 -1M477.7 228l4.4 -3.2l4.4 -3.5l4.4 -3.7l4.4 -3.8l4.4 -4l4.4 -4.1l4.4 -4.1l4.4 -4.2l4.4 -4.2l4.5 -4.2l4.5 -4.2l4.5 -4.1l4.5 -4.1l4.5 -4l4.5 -3.9l4.6 -3.8l4.6 -3.7l4.6 -3.5l4.6 -3.4l4.6 -3.2l4.6 -3.1l4.6 -2.9l4.6 -2.8l4.6 -2.6l4.6 -2.4l4.6 -2.3l4.6 -2.1l4.6 -2l4.6 -1.9l4.6 -1.7l4.5 -1.6l4.5 -1.5l4.5 -1.4l4.5 -1.4l4.5 -1.3l4.5 -1.3M562.7 245.1l-3.1 -5.5l-3.1 -5.6l-3.1 -5.7l-3.1 -5.7l-3.1 -5.7l-3.1 -5.7l-3.2 -5.7l-3.2 -5.6l-3.2 -5.5l-3.2 -5.4l-3.2 -5.3l-3.2 -5.1l-3.2 -5l-3.2 -4.8l-3.2 -4.6l-3.2 -4.4l-3.2 -4.2l-3.2 -4l-3.2 -3.7l-3.2 -3.5l-3.2 -3.3l-3.2 -3.1l-3.2 -2.8l-3.2 -2.6l-3.2 -2.4l-3.2 -2.2l-3.2 -2l-3.1 -1.8l-3.1 -1.6l-3.1 -1.5l-3.1 -1.3l-3.1 -1.2l-3.1 -1.1l-3 -1l-3 -1l-3 -0.9M476.8 226.4l4.4 -3.2l4.4 -3.4l4.4 -3.6l4.4 -3.8l4.4 -4l4.4 -4.1l4.4 -4.1l4.4 -4.2l4.4 -4.2l4.5 -4.2l4.5 -4.2l4.5 -4.1l4.5 -4.1l4.5 -4l4.5 -3.9l4.6 -3.8l4.6 -3.7l4.6 -3.5l4.6 -3.4l4.6 -3.2l4.6 -3.1l4.6 -2.9l4.6 -2.8l4.6 -2.6l4.6 -2.4l4.6 -2.3l4.6 -2.1l4.6 -2l4.6 -1.8l4.6 -1.7l4.5 -1.6l4.5 -1.5l4.5 -1.4l4.5 -1.3l4.5 -1.3l4.5 -1.3M563.9 243.8l-3.1 -5.5l-3.1 -5.6l-3.1 -5.7l-3.1 -5.7l-3.1 -5.7l-3.1 -5.7l-3.2 -5.7l-3.2 -5.6l-3.2 -5.5l-3.2 -5.4l-3.2 -5.3l-3.2 -5.1l-3.2 -4.9l-3.2 -4.8l-3.2 -4.6l-3.2 -4.4l-3.2 -4.2l-3.2 -3.9l-3.2 -3.7l-3.2 -3.5l-3.2 -3.3l-3.2 -3l-3.2 -2.8l-3.2 -2.6l-3.2 -2.4l-3.2 -2.2l-3.2 -2l-3.1 -1.8l-3.1 -1.6l-3.1 -1.5l-3.1 -1.3l-3.1 -1.2l-3.1 -1.1l-3 -1l-3 -1l-3 -0.9M476 224.9l4.4 -3.2l4.4 -3.4l4.4 -3.6l4.4 -3.8l4.4 -3.9l4.4 -4l4.4 -4.1l4.4 -4.2l4.4 -4.2l4.5 -4.2l4.5 -4.2l4.5 -4.1l4.5 -4l4.5 -4l4.5 -3.9l4.6 -3.8l4.6 -3.6l4.6 -3.5l4.6 -3.4l4.6 -3.2l4.6 -3.1l4.6 -2.9l4.6 -2.7l4.6 -2.6l4.6 -2.4l4.6 -2.3l4.6 -2.1l4.6 -2l4.6 -1.8l4.6 -1.7l4.5 -1.6l4.5 -1.5l4.5 -1.4l4.5 -1.3l4.5 -1.3l4.5 -1.2M565.2 242.5l-3.1 -5.5l-3.1 -5.6l-3.1 -5.6l-3.1 -5.7l-3.1 -5.7l-3.1 -5.7l-3.2 -5.6l-3.2 -5.6l-3.2 -5.5l-3.2 -5.4l-3.2 -5.2l-3.2 -5.1l-3.2 -4.9l-3.2 -4.7l-3.2 -4.5l-3.2 -4.3l-3.2 -4.1l-3.2 -3.9l-3.2 -3.7l-3.2 -3.5l-3.2 -3.2l-3.2 -3l-3.2 -2.8l-3.2 -2.6l-3.2 -2.4l-3.2 -2.2l-3.2 -2l-3.1 -1.8l-3.1 -1.6l-3.1 -1.5l-3.1 -1.3l-3.1 -1.2l-3.1 -1.1l-3 -1l-3 -0.9l-3 -0.9M475.1 223.3l4.4 -3.2l4.4 -3.4l4.4 -3.6l4.4 -3.8l4.4 -3.9l4.4 -4l4.4 -4.1l4.4 -4.1l4.4 -4.2l4.5 -4.2l4.5 -4.1l4.5 -4.1l4.5 -4l4.5 -3.9l4.5 -3.8l4.6 -3.7l4.6 -3.6l4.6 -3.5l4.6 -3.3l4.6 -3.2l4.6 -3l4.6 -2.9l4.6 -2.7l4.6 -2.6l4.6 -2.4l4.6 -2.3l4.6 -2.1l4.6 -2l4.6 -1.8l4.6 -1.7l4.5 -1.6l4.5 -1.5l4.5 -1.4l4.5 -1.3l4.5 -1.3l4.5 -1.2M566.4 241.3l-3.1 -5.5l-3.1 -5.6l-3.1 -5.6l-3.1 -5.7l-3.1 -5.7l-3.1 -5.7l-3.2 -5.6l-3.2 -5.6l-3.2 -5.5l-3.2 -5.3l-3.2 -5.2l-3.2 -5.1l-3.2 -4.9l-3.2 -4.7l-3.2 -4.5l-3.2 -4.3l-3.2 -4.1l-3.2 -3.9l-3.2 -3.7l-3.2 -3.5l-3.2 -3.2l-3.2 -3l-3.2 -2.8l-3.2 -2.6l-3.2 -2.4l-3.2 -2.1l-3.2 -2l-3.1 -1.8l-3.1 -1.6l-3.1 -1.4l-3.1 -1.3l-3.1 -1.2l-3.1 -1.1l-3 -1l-3 -0.9l-3 -0.9M474.2 221.7l4.4 -3.2l4.4 -3.4l4.4 -3.6l4.4 -3.8l4.4 -3.9l4.4 -4l4.4 -4.1l4.4 -4.1l4.4 -4.1l4.5 -4.1l4.5 -4.1l4.5 -4.1l4.5 -4l4.5 -3.9l4.5 -3.8l4.6 -3.7l4.6 -3.6l4.6 -3.5l4.6 -3.3l4.6 -3.2l4.6 -3l4.6 -2.9l4.6 -2.7l4.6 -2.6l4.6 -2.4l4.6 -2.2l4.6 -2.1l4.6 -1.9l4.6 -1.8l4.6 -1.7l4.5 -1.6l4.5 -1.5l4.5 -1.4l4.5 -1.3l4.5 -1.3l4.5 -1.2M567.7 240l-3.1 -5.5l-3.1 -5.6l-3.1 -5.6l-3.1 -5.7l-3.1 -5.7l-3.1 -5.7l-3.2 -5.6l-3.2 -5.5l-3.2 -5.4l-3.2 -5.3l-3.2 -5.2l-3.2 -5l-3.2 -4.9l-3.2 -4.7l-3.2 -4.5l-3.2 -4.3l-3.2 -4.1l-3.2 -3.9l-3.2 -3.7l-3.2 -3.4l-3.2 -3.2l-3.2 -3l-3.2 -2.8l-3.2 -2.5l-3.2 -2.3l-3.2 -2.1l-3.2 -1.9l-3.2 -1.7l-3.1 -1.6l-3.1 -1.4l-3.1 -1.3l-3.1 -1.2l-3.1 -1.1l-3.1 -1l-3 -0.9l-3 -0.9M473.3 220.2l4.4 -3.2l4.4 -3.4l4.4 -3.6l4.4 -3.8l4.4 -3.9l4.4 -4l4.4 -4.1l4.4 -4.1l4.4 -4.1l4.5 -4.1l4.5 -4.1l4.5 -4l4.5 -4l4.5 -3.9l4.5 -3.8l4.5 -3.7l4.6 -3.6l4.6 -3.4l4.6 -3.3l4.6 -3.2l4.6 -3l4.6 -2.8l4.6 -2.7l4.6 -2.5l4.6 -2.4l4.6 -2.2l4.6 -2.1l4.6 -1.9l4.6 -1.8l4.6 -1.7l4.5 -1.6l4.5 -1.5l4.5 -1.4l4.5 -1.3l4.5 -1.2l4.5 -1.2M568.9 238.8l-3.1 -5.5l-3.1 -5.6l-3.1 -5.6l-3.1 -5.7l-3.1 -5.7l-3.1 -5.6l-3.2 -5.6l-3.2 -5.5l-3.2 -5.4l-3.2 -5.3l-3.2 -5.2l-3.2 -5l-3.2 -4.9l-3.2 -4.7l-3.2 -4.5l-3.2 -4.3l-3.2 -4.1l-3.2 -3.9l-3.2 -3.6l-3.2 -3.4l-3.2 -3.2l-3.2 -3l-3.2 -2.7l-3.2 -2.5l-3.2 -2.3l-3.2 -2.1l-3.2 -1.9l-3.2 -1.7l-3.1 -1.6l-3.1 -1.4l-3.1 -1.3l-3.1 -1.1l-3.1 -1l-3.1 -1l-3 -0.9l-3 -0.9M472.4 218.6l4.4 -3.2l4.4 -3.4l4.4 -3.6l4.4 -3.8l4.4 -3.9l4.4 -4l4.4 -4l4.4 -4.1l4.4 -4.1l4.5 -4.1l4.5 -4.1l4.5 -4l4.5 -4l4.5 -3.9l4.5 -3.8l4.5 -3.7l4.6 -3.6l4.6 -3.4l4.6 -3.3l4.6 -3.1l4.6 -3l4.6 -2.8l4.6 -2.7l4.6 -2.5l4.6 -2.4l4.6 -2.2l4.6 -2.1l4.6 -1.9l4.6 -1.8l4.6 -1.7l4.5 -1.5l4.5 -1.4l4.5 -1.4l4.5 -1.3l4.5 -1.2l4.5 -1.2M570.2 237.5l-3.1 -5.5l-3.1 -5.6l-3.1 -5.6l-3.1 -5.7l-3.1 -5.7l-3.1 -5.6l-3.2 -5.6l-3.2 -5.5l-3.2 -5.4l-3.2 -5.3l-3.2 -5.2l-3.2 -5l-3.2 -4.8l-3.2 -4.7l-3.2 -4.5l-3.2 -4.3l-3.2 -4.1l-3.3 -3.8l-3.2 -3.6l-3.2 -3.4l-3.2 -3.2l-3.2 -2.9l-3.2 -2.7l-3.2 -2.5l-3.2 -2.3l-3.2 -2.1l-3.2 -1.9l-3.2 -1.7l-3.1 -1.5l-3.1 -1.4l-3.1 -1.2l-3.1 -1.1l-3.1 -1l-3.1 -0.9l-3 -0.9l-3 -0.9M471.5 217.1l4.4 -3.2l4.4 -3.4l4.4 -3.6l4.4 -3.7l4.4 -3.9l4.4 -4l4.4 -4l4.4 -4.1l4.4 -4.1l4.5 -4.1l4.5 -4.1l4.5 -4l4.5 -3.9l4.5 -3.9l4.5 -3.8l4.5 -3.7l4.6 -3.5l4.6 -3.4l4.6 -3.3l4.6 -3.1l4.6 -3l4.6 -2.8l4.6 -2.7l4.6 -2.5l4.6 -2.3l4.6 -2.2l4.6 -2.1l4.6 -1.9l4.6 -1.8l4.6 -1.6l4.5 -1.5l4.5 -1.4l4.5 -1.3l4.5 -1.3l4.5 -1.2l4.5 -1.2M571.4 236.3l-3.1 -5.5l-3.1 -5.6l-3.1 -5.6l-3.1 -5.6l-3.1 -5.6l-3.1 -5.6l-3.2 -5.6l-3.2 -5.5l-3.2 -5.4l-3.2 -5.3l-3.2 -5.1l-3.2 -5l-3.2 -4.8l-3.2 -4.6l-3.2 -4.4l-3.2 -4.2l-3.3 -4l-3.3 -3.8l-3.3 -3.6l-3.2 -3.4l-3.2 -3.1l-3.2 -2.9l-3.2 -2.7l-3.2 -2.5l-3.2 -2.3l-3.2 -2.1l-3.2 -1.9l-3.2 -1.7l-3.1 -1.5l-3.1 -1.4l-3.1 -1.2l-3.1 -1.1l-3.1 -1l-3.1 -0.9l-3 -0.9l-3 -0.8M470.6 215.6l4.4 -3.2l4.4 -3.4l4.4 -3.6l4.4 -3.7l4.4 -3.9l4.4 -3.9l4.4 -4l4.4 -4l4.4 -4.1l4.5 -4.1l4.5 -4l4.5 -4l4.5 -3.9l4.5 -3.8l4.5 -3.7l4.5 -3.6l4.6 -3.5l4.6 -3.4l4.6 -3.2l4.6 -3.1l4.6 -3l4.6 -2.8l4.6 -2.6l4.6 -2.5l4.6 -2.3l4.6 -2.2l4.6 -2l4.6 -1.9l4.6 -1.8l4.6 -1.6l4.5 -1.5l4.5 -1.4l4.5 -1.3l4.5 -1.3l4.5 -1.2l4.5 -1.2M572.7 235.1l-3.1 -5.5l-3.1 -5.6l-3.1 -5.6l-3.1 -5.6l-3.1 -5.6l-3.1 -5.6l-3.2 -5.6l-3.2 -5.5l-3.2 -5.4l-3.2 -5.3l-3.2 -5.1l-3.2 -5l-3.2 -4.8l-3.2 -4.6l-3.2 -4.4l-3.3 -4.2l-3.3 -4l-3.3 -3.8l-3.3 -3.6l-3.2 -3.3l-3.2 -3.1l-3.2 -2.9l-3.2 -2.7l-3.2 -2.5l-3.2 -2.3l-3.2 -2.1l-3.2 -1.9l-3.2 -1.7l-3.1 -1.5l-3.1 -1.4l-3.1 -1.2l-3.1 -1.1l-3.1 -1l-3.1 -0.9l-3.1 -0.9l-3 -0.8M469.7 214.1l4.4 -3.2l4.4 -3.4l4.4 -3.6l4.4 -3.7l4.4 -3.8l4.4 -3.9l4.4 -4l4.4 -4l4.4 -4l4.5 -4l4.5 -4l4.5 -4l4.5 -3.9l4.5 -3.8l4.5 -3.7l4.5 -3.6l4.6 -3.5l4.6 -3.4l4.6 -3.2l4.6 -3.1l4.6 -2.9l4.6 -2.8l4.6 -2.6l4.6 -2.5l4.6 -2.3l4.6 -2.2l4.6 -2l4.6 -1.9l4.6 -1.7l4.5 -1.6l4.5 -1.5l4.5 -1.4l4.5 -1.3l4.5 -1.2l4.5 -1.2l4.5 -1.2M573.9 233.8l-3.1 -5.5l-3.1 -5.6l-3.1 -5.6l-3.1 -5.6l-3.1 -5.6l-3.1 -5.6l-3.2 -5.5l-3.2 -5.5l-3.2 -5.4l-3.2 -5.2l-3.2 -5.1l-3.2 -4.9l-3.2 -4.8l-3.2 -4.6l-3.2 -4.4l-3.3 -4.2l-3.3 -4l-3.3 -3.8l-3.3 -3.5l-3.3 -3.3l-3.2 -3.1l-3.2 -2.9l-3.2 -2.7l-3.2 -2.4l-3.2 -2.2l-3.2 -2l-3.2 -1.8l-3.2 -1.7l-3.2 -1.5l-3.1 -1.3l-3.1 -1.2l-3.1 -1.1l-3.1 -1l-3.1 -0.9l-3.1 -0.8l-3 -0.8M468.8 212.6l4.4 -3.2l4.4 -3.4l4.4 -3.6l4.4 -3.7l4.4 -3.8l4.4 -3.9l4.4 -4l4.4 -4l4.4 -4l4.5 -4l4.5 -4l4.5 -3.9l4.5 -3.9l4.5 -3.8l4.5 -3.7l4.5 -3.6l4.6 -3.5l4.6 -3.3l4.6 -3.2l4.6 -3.1l4.6 -2.9l4.6 -2.8l4.6 -2.6l4.6 -2.5l4.6 -2.3l4.6 -2.2l4.6 -2l4.6 -1.9l4.6 -1.7l4.5 -1.6l4.5 -1.5l4.5 -1.4l4.5 -1.3l4.5 -1.2l4.5 -1.2l4.5 -1.1M575.2 232.6l-3.1 -5.5l-3.1 -5.6l-3.1 -5.6l-3.1 -5.6l-3.1 -5.6l-3.1 -5.6l-3.2 -5.5l-3.2 -5.4l-3.2 -5.3l-3.2 -5.2l-3.2 -5.1l-3.2 -4.9l-3.2 -4.8l-3.2 -4.6l-3.3 -4.4l-3.3 -4.2l-3.3 -4l-3.3 -3.7l-3.3 -3.5l-3.3 -3.3l-3.2 -3.1l-3.2 -2.9l-3.2 -2.6l-3.2 -2.4l-3.2 -2.2l-3.2 -2l-3.2 -1.8l-3.2 -1.6l-3.2 -1.5l-3.1 -1.3l-3.1 -1.2l-3.1 -1.1l-3.1 -1l-3.1 -0.9l-3.1 -0.8l-3 -0.8M467.9 211.1l4.4 -3.2l4.4 -3.4l4.4 -3.5l4.4 -3.7l4.4 -3.8l4.4 -3.9l4.4 -4l4.4 -4l4.4 -4l4.5 -4l4.5 -4l4.5 -3.9l4.5 -3.9l4.5 -3.8l4.5 -3.7l4.5 -3.6l4.6 -3.5l4.6 -3.3l4.6 -3.2l4.6 -3l4.6 -2.9l4.6 -2.7l4.6 -2.6l4.6 -2.4l4.6 -2.3l4.6 -2.1l4.6 -2l4.6 -1.9l4.6 -1.7l4.5 -1.6l4.5 -1.5l4.5 -1.4l4.5 -1.3l4.5 -1.2l4.5 -1.2l4.5 -1.1M576.5 231.4l-3.1 -5.5l-3.1 -5.5l-3.1 -5.6l-3.1 -5.6l-3.1 -5.6l-3.1 -5.6l-3.2 -5.5l-3.2 -5.4l-3.2 -5.3l-3.2 -5.2l-3.2 -5.1l-3.2 -4.9l-3.2 -4.7l-3.2 -4.6l-3.3 -4.4l-3.3 -4.2l-3.3 -3.9l-3.3 -3.7l-3.3 -3.5l-3.3 -3.3l-3.3 -3.1l-3.2 -2.8l-3.2 -2.6l-3.2 -2.4l-3.2 -2.2l-3.2 -2l-3.2 -1.8l-3.2 -1.6l-3.2 -1.5l-3.1 -1.3l-3.1 -1.2l-3.1 -1l-3.1 -0.9l-3.1 -0.9l-3.1 -0.8l-3 -0.8M467 209.6l4.4 -3.1l4.4 -3.4l4.4 -3.5l4.4 -3.7l4.4 -3.8l4.4 -3.9l4.4 -3.9l4.4 -4l4.4 -4l4.4 -4l4.5 -3.9l4.5 -3.9l4.5 -3.8l4.5 -3.8l4.5 -3.7l4.5 -3.6l4.6 -3.4l4.6 -3.3l4.6 -3.2l4.6 -3l4.6 -2.9l4.6 -2.7l4.6 -2.6l4.6 -2.4l4.6 -2.3l4.6 -2.1l4.6 -2l4.6 -1.8l4.6 -1.7l4.5 -1.6l4.5 -1.5l4.5 -1.4l4.5 -1.3l4.5 -1.2l4.5 -1.1l4.5 -1.1M577.7 230.2l-3.1 -5.5l-3.1 -5.5l-3.1 -5.6l-3.1 -5.6l-3.1 -5.6l-3.1 -5.6l-3.2 -5.5l-3.2 -5.4l-3.2 -5.3l-3.2 -5.2l-3.2 -5l-3.2 -4.9l-3.2 -4.7l-3.2 -4.5l-3.3 -4.3l-3.3 -4.1l-3.3 -3.9l-3.3 -3.7l-3.3 -3.5l-3.3 -3.3l-3.3 -3l-3.2 -2.8l-3.2 -2.6l-3.2 -2.4l-3.2 -2.2l-3.2 -2l-3.2 -1.8l-3.2 -1.6l-3.2 -1.4l-3.1 -1.3l-3.1 -1.1l-3.1 -1l-3.1 -0.9l-3.1 -0.9l-3.1 -0.8l-3.1 -0.8M466.1 208.2l4.4 -3.1l4.4 -3.3l4.4 -3.5l4.4 -3.7l4.4 -3.8l4.4 -3.9l4.4 -3.9l4.4 -4l4.4 -4l4.4 -4l4.5 -3.9l4.5 -3.9l4.5 -3.8l4.5 -3.7l4.5 -3.6l4.5 -3.5l4.5 -3.4l4.6 -3.3l4.6 -3.2l4.6 -3l4.6 -2.9l4.6 -2.7l4.6 -2.6l4.6 -2.4l4.6 -2.3l4.6 -2.1l4.6 -2l4.6 -1.8l4.6 -1.7l4.5 -1.6l4.5 -1.5l4.5 -1.4l4.5 -1.3l4.5 -1.2l4.5 -1.1l4.5 -1.1M579 229l-3.1 -5.5l-3.1 -5.5l-3.1 -5.6l-3.1 -5.6l-3.1 -5.6l-3.2 -5.6l-3.2 -5.5l-3.2 -5.4l-3.2 -5.3l-3.2 -5.2l-3.2 -5l-3.2 -4.9l-3.2 -4.7l-3.2 -4.5l-3.3 -4.3l-3.3 -4.1l-3.3 -3.9l-3.3 -3.7l-3.3 -3.5l-3.3 -3.2l-3.3 -3l-3.3 -2.8l-3.2 -2.6l-3.2 -2.4l-3.2 -2.2l-3.2 -2l-3.2 -1.8l-3.2 -1.6l-3.2 -1.4l-3.2 -1.3l-3.1 -1.1l-3.1 -1l-3.1 -0.9l-3.1 -0.8l-3.1 -0.8l-3.1 -0.7M465.2 206.8l4.4 -3.1l4.4 -3.3l4.4 -3.5l4.4 -3.6l4.4 -3.8l4.4 -3.8l4.4 -3.9l4.4 -3.9l4.4 -3.9l4.4 -3.9l4.5 -3.9l4.5 -3.9l4.5 -3.8l4.5 -3.7l4.5 -3.6l4.5 -3.5l4.5 -3.4l4.6 -3.3l4.6 -3.1l4.6 -3l4.6 -2.8l4.6 -2.7l4.6 -2.5l4.6 -2.4l4.6 -2.2l4.6 -2.1l4.6 -2l4.6 -1.8l4.6 -1.7l4.5 -1.6l4.5 -1.4l4.5 -1.3l4.5 -1.3l4.5 -1.2l4.5 -1.1l4.5 -1.1M580.2 227.8l-3.1 -5.5l-3.1 -5.5l-3.1 -5.6l-3.1 -5.6l-3.1 -5.6l-3.2 -5.5l-3.2 -5.5l-3.2 -5.4l-3.2 -5.3l-3.2 -5.2l-3.2 -5l-3.2 -4.8l-3.2 -4.7l-3.2 -4.5l-3.3 -4.3l-3.3 -4.1l-3.3 -3.9l-3.3 -3.7l-3.3 -3.4l-3.3 -3.2l-3.3 -3l-3.3 -2.8l-3.2 -2.6l-3.2 -2.3l-3.2 -2.1l-3.2 -1.9l-3.2 -1.7l-3.2 -1.6l-3.2 -1.4l-3.2 -1.3l-3.1 -1.1l-3.1 -1l-3.1 -0.9l-3.1 -0.8l-3.1 -0.8l-3.1 -0.7M464.4 205.3l4.4 -3.1l4.4 -3.3l4.4 -3.5l4.4 -3.6l4.4 -3.7l4.4 -3.8l4.4 -3.9l4.4 -3.9l4.4 -3.9l4.4 -3.9l4.5 -3.9l4.5 -3.8l4.5 -3.8l4.5 -3.7l4.5 -3.6l4.5 -3.5l4.5 -3.4l4.6 -3.2l4.6 -3.1l4.6 -3l4.6 -2.8l4.6 -2.7l4.6 -2.5l4.6 -2.4l4.6 -2.2l4.6 -2.1l4.6 -1.9l4.6 -1.8l4.6 -1.7l4.5 -1.5l4.5 -1.4l4.5 -1.3l4.5 -1.2l4.5 -1.2l4.5 -1.1l4.5 -1.1M581.5 226.7l-3.1 -5.5l-3.1 -5.5l-3.1 -5.6l-3.1 -5.6l-3.1 -5.6l-3.2 -5.5l-3.2 -5.5l-3.2 -5.4l-3.2 -5.3l-3.2 -5.1l-3.2 -5l-3.2 -4.8l-3.2 -4.7l-3.3 -4.5l-3.3 -4.3l-3.3 -4.1l-3.3 -3.9l-3.3 -3.6l-3.3 -3.4l-3.3 -3.2l-3.3 -3l-3.3 -2.8l-3.2 -2.5l-3.2 -2.3l-3.2 -2.1l-3.2 -1.9l-3.2 -1.7l-3.2 -1.6l-3.2 -1.4l-3.2 -1.2l-3.1 -1.1l-3.1 -1l-3.1 -0.9l-3.1 -0.8l-3.1 -0.7l-3.1 -0.7M463.5 203.9l4.4 -3.1l4.4 -3.3l4.4 -3.5l4.4 -3.6l4.4 -3.7l4.4 -3.8l4.4 -3.9l4.4 -3.9l4.4 -3.9l4.4 -3.9l4.5 -3.9l4.5 -3.8l4.5 -3.8l4.5 -3.7l4.5 -3.6l4.5 -3.5l4.5 -3.4l4.6 -3.2l4.6 -3.1l4.6 -3l4.6 -2.8l4.6 -2.7l4.6 -2.5l4.6 -2.4l4.6 -2.2l4.6 -2.1l4.6 -1.9l4.6 -1.8l4.5 -1.7l4.5 -1.5l4.5 -1.4l4.5 -1.3l4.5 -1.2l4.5 -1.2l4.5 -1.1l4.5 -1.1M582.8 225.5l-3.1 -5.5l-3.1 -5.5l-3.1 -5.6l-3.1 -5.6l-3.1 -5.6l-3.2 -5.5l-3.2 -5.4l-3.2 -5.4l-3.2 -5.2l-3.2 -5.1l-3.2 -5l-3.2 -4.8l-3.2 -4.6l-3.3 -4.5l-3.3 -4.3l-3.3 -4l-3.3 -3.8l-3.3 -3.6l-3.3 -3.4l-3.3 -3.2l-3.3 -3l-3.3 -2.7l-3.3 -2.5l-3.2 -2.3l-3.2 -2.1l-3.2 -1.9l-3.2 -1.7l-3.2 -1.5l-3.2 -1.4l-3.2 -1.2l-3.1 -1.1l-3.1 -1l-3.1 -0.9l-3.1 -0.8l-3.1 -0.7l-3.1 -0.7M462.6 202.5l4.4 -3.1l4.4 -3.3l4.4 -3.5l4.4 -3.6l4.4 -3.7l4.4 -3.8l4.4 -3.8l4.4 -3.9l4.4 -3.9l4.4 -3.9l4.5 -3.8l4.5 -3.8l4.5 -3.7l4.5 -3.6l4.5 -3.6l4.5 -3.4l4.5 -3.3l4.6 -3.2l4.6 -3.1l4.6 -2.9l4.6 -2.8l4.6 -2.6l4.6 -2.5l4.6 -2.3l4.6 -2.2l4.6 -2.1l4.6 -1.9l4.6 -1.8l4.5 -1.6l4.5 -1.5l4.5 -1.4l4.5 -1.3l4.5 -1.2l4.5 -1.1l4.5 -1.1l4.5 -1M584 224.4l-3.1 -5.5l-3.1 -5.5l-3.1 -5.6l-3.1 -5.6l-3.1 -5.6l-3.2 -5.5l-3.2 -5.4l-3.2 -5.3l-3.2 -5.2l-3.2 -5.1l-3.2 -5l-3.2 -4.8l-3.2 -4.6l-3.3 -4.4l-3.3 -4.2l-3.3 -4l-3.3 -3.8l-3.3 -3.6l-3.3 -3.4l-3.3 -3.2l-3.3 -2.9l-3.3 -2.7l-3.3 -2.5l-3.2 -2.3l-3.2 -2.1l-3.2 -1.9l-3.2 -1.7l-3.2 -1.5l-3.2 -1.4l-3.2 -1.2l-3.1 -1.1l-3.1 -0.9l-3.1 -0.9l-3.1 -0.8l-3.1 -0.7l-3.1 -0.7M461.7 201.2l4.4 -3.1l4.4 -3.3l4.4 -3.5l4.4 -3.6l4.4 -3.7l4.4 -3.8l4.4 -3.8l4.4 -3.9l4.4 -3.9l4.4 -3.9l4.5 -3.8l4.5 -3.8l4.5 -3.7l4.5 -3.6l4.5 -3.5l4.5 -3.4l4.5 -3.3l4.5 -3.2l4.6 -3.1l4.6 -2.9l4.6 -2.8l4.6 -2.6l4.6 -2.5l4.6 -2.3l4.6 -2.2l4.6 -2l4.6 -1.9l4.6 -1.8l4.5 -1.6l4.5 -1.5l4.5 -1.4l4.5 -1.3l4.5 -1.2l4.5 -1.1l4.5 -1.1l4.5 -1M585.3 223.2l-3.1 -5.5l-3.1 -5.5l-3.1 -5.6l-3.1 -5.6l-3.1 -5.5l-3.2 -5.5l-3.2 -5.4l-3.2 -5.3l-3.2 -5.2l-3.2 -5.1l-3.2 -4.9l-3.2 -4.8l-3.2 -4.6l-3.3 -4.4l-3.3 -4.2l-3.3 -4l-3.3 -3.8l-3.3 -3.6l-3.3 -3.4l-3.3 -3.1l-3.3 -2.9l-3.3 -2.7l-3.3 -2.5l-3.2 -2.3l-3.2 -2.1l-3.2 -1.9l-3.2 -1.7l-3.2 -1.5l-3.2 -1.3l-3.2 -1.2l-3.2 -1.1l-3.1 -0.9l-3.1 -0.8l-3.1 -0.8l-3.1 -0.7l-3.1 -0.7M460.8 199.8l4.4 -3.1l4.4 -3.3l4.4 -3.4l4.4 -3.6l4.4 -3.7l4.4 -3.8l4.4 -3.8l4.4 -3.8l4.4 -3.8l4.4 -3.8l4.5 -3.8l4.5 -3.8l4.5 -3.7l4.5 -3.6l4.5 -3.5l4.5 -3.4l4.5 -3.3l4.5 -3.2l4.6 -3l4.6 -2.9l4.6 -2.8l4.6 -2.6l4.6 -2.5l4.6 -2.3l4.6 -2.2l4.6 -2l4.6 -1.9l4.6 -1.7l4.5 -1.6l4.5 -1.5l4.5 -1.4l4.5 -1.3l4.5 -1.2l4.5 -1.1l4.5 -1.1l4.5 -1M586.6 222.1l-3.1 -5.5l-3.1 -5.5l-3.1 -5.6l-3.1 -5.6l-3.1 -5.5l-3.2 -5.5l-3.2 -5.4l-3.2 -5.3l-3.2 -5.2l-3.2 -5.1l-3.2 -4.9l-3.2 -4.8l-3.2 -4.6l-3.3 -4.4l-3.3 -4.2l-3.3 -4l-3.3 -3.8l-3.3 -3.6l-3.3 -3.3l-3.3 -3.1l-3.3 -2.9l-3.3 -2.7l-3.3 -2.5l-3.3 -2.2l-3.2 -2l-3.2 -1.8l-3.2 -1.7l-3.2 -1.5l-3.2 -1.3l-3.2 -1.2l-3.2 -1l-3.1 -0.9l-3.1 -0.8l-3.1 -0.7l-3.1 -0.7l-3.1 -0.7M459.9 198.5l4.4 -3.1l4.4 -3.3l4.4 -3.4l4.4 -3.6l4.4 -3.7l4.4 -3.7l4.4 -3.8l4.4 -3.8l4.4 -3.8l4.4 -3.8l4.5 -3.8l4.5 -3.7l4.5 -3.7l4.5 -3.6l4.5 -3.5l4.5 -3.4l4.5 -3.3l4.5 -3.1l4.6 -3l4.6 -2.9l4.6 -2.7l4.6 -2.6l4.6 -2.4l4.6 -2.3l4.6 -2.1l4.6 -2l4.6 -1.9l4.5 -1.7l4.5 -1.6l4.5 -1.5l4.5 -1.4l4.5 -1.3l4.5 -1.2l4.5 -1.1l4.5 -1l4.5 -1M587.8 221l-3.1 -5.5l-3.1 -5.5l-3.1 -5.6l-3.1 -5.6l-3.1 -5.5l-3.2 -5.5l-3.2 -5.4l-3.2 -5.3l-3.2 -5.2l-3.2 -5l-3.2 -4.9l-3.2 -4.7l-3.2 -4.6l-3.3 -4.4l-3.3 -4.2l-3.3 -4l-3.3 -3.8l-3.3 -3.5l-3.3 -3.3l-3.3 -3.1l-3.3 -2.9l-3.3 -2.7l-3.3 -2.4l-3.3 -2.2l-3.2 -2l-3.2 -1.8l-3.2 -1.6l-3.2 -1.5l-3.2 -1.3l-3.2 -1.2l-3.2 -1l-3.1 -0.9l-3.1 -0.8l-3.1 -0.7l-3.1 -0.7l-3.1 -0.6M459 197.1l4.4 -3.1l4.4 -3.3l4.4 -3.4l4.4 -3.5l4.4 -3.6l4.4 -3.7l4.4 -3.8l4.4 -3.8l4.4 -3.8l4.4 -3.8l4.5 -3.8l4.5 -3.7l4.5 -3.6l4.5 -3.6l4.5 -3.5l4.5 -3.4l4.5 -3.3l4.5 -3.1l4.6 -3l4.6 -2.9l4.6 -2.7l4.6 -2.6l4.6 -2.4l4.6 -2.3l4.6 -2.1l4.6 -2l4.6 -1.8l4.5 -1.7l4.5 -1.6l4.5 -1.5l4.5 -1.4l4.5 -1.3l4.5 -1.2l4.5 -1.1l4.5 -1l4.5 -1M589.1 219.9l-3.1 -5.5l-3.1 -5.5l-3.1 -5.6l-3.1 -5.5l-3.1 -5.5l-3.2 -5.5l-3.2 -5.4l-3.2 -5.3l-3.2 -5.2l-3.2 -5l-3.2 -4.9l-3.2 -4.7l-3.3 -4.5l-3.3 -4.4l-3.3 -4.2l-3.3 -3.9l-3.3 -3.7l-3.3 -3.5l-3.3 -3.3l-3.3 -3.1l-3.3 -2.9l-3.3 -2.6l-3.3 -2.4l-3.3 -2.2l-3.2 -2l-3.2 -1.8l-3.2 -1.6l-3.2 -1.4l-3.2 -1.3l-3.2 -1.1l-3.2 -1l-3.1 -0.9l-3.1 -0.8l-3.1 -0.7l-3.1 -0.7l-3.1 -0.6M458.1 195.8l4.4 -3.1l4.4 -3.3l4.4 -3.4l4.4 -3.5l4.4 -3.6l4.4 -3.7l4.4 -3.8l4.4 -3.8l4.4 -3.8l4.4 -3.8l4.5 -3.7l4.5 -3.7l4.5 -3.6l4.5 -3.5l4.5 -3.4l4.5 -3.3l4.5 -3.2l4.5 -3.1l4.5 -3l4.6 -2.8l4.6 -2.7l4.6 -2.6l4.6 -2.4l4.6 -2.3l4.6 -2.1l4.6 -2l4.6 -1.8l4.5 -1.7l4.5 -1.6l4.5 -1.5l4.5 -1.3l4.5 -1.2l4.5 -1.1l4.5 -1.1l4.5 -1l4.5 -1M590.4 218.8l-3.1 -5.5l-3.1 -5.5l-3.1 -5.5l-3.1 -5.5l-3.1 -5.5l-3.2 -5.5l-3.2 -5.4l-3.2 -5.3l-3.2 -5.2l-3.2 -5l-3.2 -4.9l-3.2 -4.7l-3.3 -4.5l-3.3 -4.3l-3.3 -4.1l-3.3 -3.9l-3.3 -3.7l-3.3 -3.5l-3.3 -3.3l-3.3 -3.1l-3.3 -2.8l-3.3 -2.6l-3.3 -2.4l-3.3 -2.2l-3.3 -2l-3.2 -1.8l-3.2 -1.6l-3.2 -1.4l-3.2 -1.3l-3.2 -1.1l-3.2 -1l-3.2 -0.9l-3.1 -0.8l-3.1 -0.7l-3.1 -0.6l-3.1 -0.6M457.3 194.5l4.4 -3.1l4.4 -3.2l4.4 -3.4l4.4 -3.5l4.4 -3.6l4.4 -3.7l4.4 -3.7l4.4 -3.8l4.4 -3.8l4.4 -3.7l4.5 -3.7l4.5 -3.7l4.5 -3.6l4.5 -3.5l4.5 -3.4l4.5 -3.3l4.5 -3.2l4.5 -3.1l4.5 -3l4.6 -2.8l4.6 -2.7l4.6 -2.5l4.6 -2.4l4.6 -2.2l4.6 -2.1l4.6 -2l4.6 -1.8l4.5 -1.7l4.5 -1.6l4.5 -1.4l4.5 -1.3l4.5 -1.2l4.5 -1.1l4.5 -1.1l4.5 -1l4.5 -0.9M591.7 217.7l-3.1 -5.5l-3.1 -5.5l-3.1 -5.5l-3.1 -5.5l-3.1 -5.5l-3.2 -5.4l-3.2 -5.4l-3.2 -5.3l-3.2 -5.1l-3.2 -5l-3.2 -4.8l-3.2 -4.7l-3.3 -4.5l-3.3 -4.3l-3.3 -4.1l-3.3 -3.9l-3.3 -3.7l-3.3 -3.5l-3.3 -3.3l-3.3 -3l-3.3 -2.8l-3.3 -2.6l-3.3 -2.4l-3.3 -2.2l-3.3 -2l-3.2 -1.8l-3.2 -1.6l-3.2 -1.4l-3.2 -1.3l-3.2 -1.1l-3.2 -1l-3.2 -0.9l-3.1 -0.8l-3.1 -0.7l-3.1 -0.6l-3.1 -0.6M456.4 193.3l4.4 -3.1l4.4 -3.2l4.4 -3.4l4.4 -3.5l4.4 -3.6l4.4 -3.7l4.4 -3.7l4.4 -3.7l4.4 -3.7l4.4 -3.7l4.4 -3.7l4.5 -3.6l4.5 -3.6l4.5 -3.5l4.5 -3.4l4.5 -3.3l4.5 -3.2l4.5 -3.1l4.5 -2.9l4.6 -2.8l4.6 -2.7l4.6 -2.5l4.6 -2.4l4.6 -2.2l4.6 -2.1l4.6 -1.9l4.5 -1.8l4.5 -1.7l4.5 -1.5l4.5 -1.4l4.5 -1.3l4.5 -1.2l4.5 -1.1l4.5 -1l4.5 -1l4.5 -0.9M592.9 216.6l-3.1 -5.5l-3.1 -5.5l-3.1 -5.5l-3.1 -5.5l-3.1 -5.5l-3.2 -5.4l-3.2 -5.3l-3.2 -5.2l-3.2 -5.1l-3.2 -5l-3.2 -4.8l-3.2 -4.7l-3.3 -4.5l-3.3 -4.3l-3.3 -4.1l-3.3 -3.9l-3.3 -3.7l-3.3 -3.5l-3.3 -3.2l-3.3 -3l-3.3 -2.8l-3.3 -2.6l-3.3 -2.4l-3.3 -2.2l-3.3 -2l-3.2 -1.8l-3.2 -1.6l-3.2 -1.4l-3.2 -1.2l-3.2 -1.1l-3.2 -1l-3.2 -0.8l-3.1 -0.7l-3.1 -0.7l-3.1 -0.6l-3.1 -0.6M455.5 192l4.4 -3.1l4.4 -3.2l4.4 -3.4l4.4 -3.5l4.4 -3.6l4.4 -3.7l4.4 -3.7l4.4 -3.7l4.4 -3.7l4.4 -3.7l4.4 -3.7l4.5 -3.6l4.5 -3.6l4.5 -3.5l4.5 -3.4l4.5 -3.3l4.5 -3.2l4.5 -3l4.5 -2.9l4.5 -2.8l4.6 -2.6l4.6 -2.5l4.6 -2.4l4.6 -2.2l4.6 -2.1l4.6 -1.9l4.5 -1.8l4.5 -1.7l4.5 -1.5l4.5 -1.4l4.5 -1.3l4.5 -1.2l4.5 -1.1l4.5 -1l4.5 -1l4.4 -0.9M594.2 215.6l-3.1 -5.5l-3.1 -5.5l-3.1 -5.5l-3.1 -5.5l-3.1 -5.5l-3.2 -5.4l-3.2 -5.3l-3.2 -5.2l-3.2 -5.1l-3.2 -5l-3.2 -4.8l-3.2 -4.6l-3.3 -4.5l-3.3 -4.3l-3.3 -4.1l-3.3 -3.9l-3.3 -3.7l-3.3 -3.4l-3.3 -3.2l-3.3 -3l-3.3 -2.8l-3.3 -2.6l-3.3 -2.3l-3.3 -2.1l-3.3 -1.9l-3.3 -1.7l-3.2 -1.6l-3.2 -1.4l-3.2 -1.2l-3.2 -1.1l-3.2 -0.9l-3.2 -0.8l-3.1 -0.7l-3.1 -0.7l-3.1 -0.6l-3.1 -0.6M454.6 190.8l4.4 -3l4.4 -3.2l4.4 -3.4l4.4 -3.5l4.4 -3.6l4.4 -3.6l4.4 -3.7l4.4 -3.7l4.4 -3.7l4.4 -3.7l4.4 -3.7l4.5 -3.6l4.5 -3.5l4.5 -3.5l4.5 -3.4l4.5 -3.3l4.5 -3.1l4.5 -3l4.5 -2.9l4.5 -2.8l4.6 -2.6l4.6 -2.5l4.6 -2.3l4.6 -2.2l4.6 -2.1l4.5 -1.9l4.5 -1.8l4.5 -1.6l4.5 -1.5l4.5 -1.4l4.5 -1.3l4.5 -1.2l4.5 -1.1l4.5 -1l4.5 -0.9l4.4 -0.9M595.5 214.5l-3.1 -5.5l-3.1 -5.5l-3.1 -5.5l-3.1 -5.5l-3.1 -5.5l-3.2 -5.4l-3.2 -5.3l-3.2 -5.2l-3.2 -5.1l-3.2 -5l-3.2 -4.8l-3.2 -4.6l-3.3 -4.4l-3.3 -4.3l-3.3 -4.1l-3.3 -3.8l-3.3 -3.6l-3.3 -3.4l-3.3 -3.2l-3.3 -3l-3.3 -2.8l-3.3 -2.5l-3.3 -2.3l-3.3 -2.1l-3.3 -1.9l-3.3 -1.7l-3.2 -1.5l-3.2 -1.4l-3.2 -1.2l-3.2 -1.1l-3.2 -0.9l-3.2 -0.8l-3.2 -0.7l-3.1 -0.6l-3.1 -0.6l-3.1 -0.6M453.7 189.5l4.4 -3l4.4 -3.2l4.4 -3.4l4.4 -3.5l4.4 -3.6l4.4 -3.6l4.4 -3.7l4.4 -3.7l4.4 -3.7l4.4 -3.7l4.4 -3.6l4.5 -3.6l4.5 -3.5l4.5 -3.4l4.5 -3.3l4.5 -3.2l4.5 -3.1l4.5 -3l4.5 -2.9l4.5 -2.7l4.5 -2.6l4.6 -2.5l4.6 -2.3l4.6 -2.2l4.6 -2l4.5 -1.9l4.5 -1.8l4.5 -1.6l4.5 -1.5l4.5 -1.4l4.5 -1.3l4.5 -1.2l4.5 -1.1l4.5 -1l4.5 -0.9l4.4 -0.9M596.7 213.5l-3.1 -5.5l-3.1 -5.5l-3.1 -5.5l-3.1 -5.5l-3.1 -5.5l-3.2 -5.4l-3.2 -5.3l-3.2 -5.2l-3.2 -5.1l-3.2 -4.9l-3.2 -4.8l-3.2 -4.6l-3.3 -4.4l-3.3 -4.2l-3.3 -4l-3.3 -3.8l-3.3 -3.6l-3.3 -3.4l-3.3 -3.2l-3.3 -3l-3.3 -2.7l-3.3 -2.5l-3.3 -2.3l-3.3 -2.1l-3.3 -1.9l-3.3 -1.7l-3.2 -1.5l-3.2 -1.4l-3.2 -1.2l-3.2 -1l-3.2 -0.9l-3.2 -0.8l-3.2 -0.7l-3.1 -0.6l-3.1 -0.6l-3.1 -0.5M452.8 188.3l4.4 -3l4.4 -3.2l4.4 -3.3l4.4 -3.5l4.4 -3.5l4.4 -3.6l4.4 -3.6l4.4 -3.7l4.4 -3.7l4.4 -3.6l4.4 -3.6l4.5 -3.6l4.5 -3.5l4.5 -3.4l4.5 -3.3l4.5 -3.2l4.5 -3.1l4.5 -3l4.5 -2.9l4.5 -2.7l4.5 -2.6l4.5 -2.5l4.6 -2.3l4.5 -2.2l4.5 -2l4.5 -1.9l4.5 -1.7l4.5 -1.6l4.5 -1.5l4.5 -1.4l4.5 -1.3l4.5 -1.2l4.5 -1.1l4.5 -1l4.5 -0.9l4.4 -0.9M598 212.5l-3.1 -5.5l-3.1 -5.5l-3.1 -5.5l-3.1 -5.5l-3.1 -5.5l-3.2 -5.4l-3.2 -5.3l-3.2 -5.2l-3.2 -5.1l-3.2 -4.9l-3.2 -4.8l-3.2 -4.6l-3.3 -4.4l-3.3 -4.2l-3.3 -4l-3.3 -3.8l-3.3 -3.6l-3.3 -3.4l-3.3 -3.2l-3.3 -2.9l-3.3 -2.7l-3.3 -2.5l-3.3 -2.3l-3.3 -2.1l-3.3 -1.9l-3.3 -1.7l-3.2 -1.5l-3.2 -1.3l-3.2 -1.2l-3.2 -1l-3.2 -0.9l-3.2 -0.8l-3.2 -0.7l-3.1 -0.6l-3.1 -0.6l-3.1 -0.5M452 187.1l4.4 -3l4.4 -3.2l4.4 -3.3l4.4 -3.4l4.4 -3.5l4.4 -3.6l4.4 -3.6l4.4 -3.6l4.4 -3.6l4.4 -3.6l4.4 -3.6l4.5 -3.5l4.5 -3.5l4.5 -3.4l4.5 -3.3l4.5 -3.2l4.5 -3.1l4.5 -3l4.5 -2.8l4.5 -2.7l4.5 -2.6l4.5 -2.4l4.5 -2.3l4.5 -2.1l4.5 -2l4.5 -1.9l4.5 -1.7l4.5 -1.6l4.5 -1.5l4.5 -1.4l4.5 -1.2l4.5 -1.1l4.5 -1.1l4.5 -1l4.5 -0.9l4.4 -0.9M599.3 211.5l-3.1 -5.5l-3.1 -5.5l-3.1 -5.5l-3.1 -5.5l-3.1 -5.5l-3.2 -5.4l-3.2 -5.3l-3.2 -5.2l-3.2 -5l-3.2 -4.9l-3.2 -4.7l-3.3 -4.6l-3.3 -4.4l-3.3 -4.2l-3.3 -4l-3.3 -3.8l-3.3 -3.6l-3.3 -3.4l-3.3 -3.1l-3.3 -2.9l-3.3 -2.7l-3.3 -2.5l-3.3 -2.3l-3.3 -2.1l-3.3 -1.9l-3.3 -1.7l-3.3 -1.5l-3.2 -1.3l-3.2 -1.2l-3.2 -1l-3.2 -0.9l-3.2 -0.8l-3.2 -0.7l-3.1 -0.6l-3.1 -0.5l-3.1 -0.5M451.1 186l4.4 -3l4.4 -3.2l4.4 -3.3l4.4 -3.4l4.4 -3.5l4.4 -3.6l4.4 -3.6l4.4 -3.6l4.4 -3.6l4.4 -3.6l4.4 -3.6l4.5 -3.5l4.5 -3.4l4.5 -3.4l4.5 -3.3l4.5 -3.2l4.5 -3.1l4.5 -2.9l4.5 -2.8l4.5 -2.7l4.5 -2.6l4.5 -2.4l4.5 -2.3l4.5 -2.1l4.5 -2l4.5 -1.9l4.5 -1.7l4.5 -1.6l4.5 -1.5l4.5 -1.3l4.5 -1.2l4.5 -1.1l4.5 -1l4.5 -1l4.5 -0.9l4.4 -0.8M600.6 210.5l-3.1 -5.5l-3.1 -5.5l-3.1 -5.5l-3.1 -5.5l-3.1 -5.4l-3.2 -5.4l-3.2 -5.3l-3.2 -5.2l-3.2 -5l-3.2 -4.9l-3.2 -4.7l-3.3 -4.6l-3.3 -4.4l-3.3 -4.2l-3.3 -4l-3.3 -3.8l-3.3 -3.6l-3.3 -3.3l-3.3 -3.1l-3.3 -2.9l-3.3 -2.7l-3.3 -2.5l-3.3 -2.3l-3.3 -2.1l-3.3 -1.8l-3.3 -1.7l-3.3 -1.5l-3.2 -1.3l-3.2 -1.1l-3.2 -1l-3.2 -0.9l-3.2 -0.8l-3.2 -0.7l-3.1 -0.6l-3.1 -0.5l-3.1 -0.5M450.2 184.8l4.4 -3l4.4 -3.2l4.4 -3.3l4.4 -3.4l4.4 -3.5l4.4 -3.5l4.4 -3.6l4.4 -3.6l4.4 -3.6l4.4 -3.6l4.4 -3.5l4.5 -3.5l4.5 -3.4l4.5 -3.3l4.5 -3.3l4.5 -3.2l4.5 -3l4.5 -2.9l4.5 -2.8l4.5 -2.7l4.5 -2.5l4.5 -2.4l4.5 -2.3l4.5 -2.1l4.5 -2l4.5 -1.8l4.5 -1.7l4.5 -1.6l4.5 -1.4l4.5 -1.3l4.5 -1.2l4.5 -1.1l4.5 -1l4.5 -0.9l4.4 -0.9l4.4 -0.8M601.8 209.5l-3.1 -5.5l-3.1 -5.5l-3.1 -5.5l-3.1 -5.5l-3.1 -5.4l-3.2 -5.4l-3.2 -5.3l-3.2 -5.2l-3.2 -5l-3.2 -4.9l-3.2 -4.7l-3.3 -4.5l-3.3 -4.4l-3.3 -4.2l-3.3 -4l-3.3 -3.8l-3.3 -3.5l-3.3 -3.3l-3.3 -3.1l-3.3 -2.9l-3.3 -2.7l-3.3 -2.5l-3.3 -2.2l-3.3 -2l-3.3 -1.8l-3.3 -1.6l-3.3 -1.5l-3.2 -1.3l-3.2 -1.1l-3.2 -1l-3.2 -0.9l-3.2 -0.7l-3.2 -0.7l-3.2 -0.6l-3.1 -0.5l-3.1 -0.5M449.3 183.7l4.4 -3l4.4 -3.2l4.4 -3.3l4.4 -3.4l4.4 -3.5l4.4 -3.5l4.4 -3.6l4.4 -3.6l4.4 -3.6l4.4 -3.6l4.4 -3.5l4.4 -3.5l4.5 -3.4l4.5 -3.3l4.5 -3.2l4.5 -3.1l4.5 -3l4.5 -2.9l4.5 -2.8l4.5 -2.7l4.5 -2.5l4.5 -2.4l4.5 -2.2l4.5 -2.1l4.5 -2l4.5 -1.8l4.5 -1.7l4.5 -1.6l4.5 -1.4l4.5 -1.3l4.5 -1.2l4.5 -1.1l4.5 -1l4.5 -0.9l4.4 -0.9l4.4 -0.8M603.1 208.6l-3.1 -5.5l-3.1 -5.5l-3.1 -5.5l-3.1 -5.5l-3.1 -5.4l-3.2 -5.4l-3.2 -5.3l-3.2 -5.1l-3.2 -5l-3.2 -4.9l-3.2 -4.7l-3.3 -4.5l-3.3 -4.3l-3.3 -4.1l-3.3 -3.9l-3.3 -3.7l-3.3 -3.5l-3.3 -3.3l-3.3 -3.1l-3.3 -2.9l-3.3 -2.6l-3.3 -2.4l-3.3 -2.2l-3.3 -2l-3.3 -1.8l-3.3 -1.6l-3.3 -1.4l-3.3 -1.3l-3.2 -1.1l-3.2 -1l-3.2 -0.8l-3.2 -0.7l-3.2 -0.6l-3.2 -0.6l-3.1 -0.5l-3.1 -0.5M448.4 182.6l4.4 -3l4.4 -3.2l4.4 -3.3l4.4 -3.4l4.4 -3.5l4.4 -3.5l4.4 -3.6l4.4 -3.6l4.4 -3.6l4.4 -3.5l4.4 -3.5l4.4 -3.5l4.5 -3.4l4.5 -3.3l4.5 -3.2l4.5 -3.1l4.5 -3l4.5 -2.9l4.5 -2.8l4.5 -2.6l4.5 -2.5l4.5 -2.4l4.5 -2.2l4.5 -2.1l4.5 -1.9l4.5 -1.8l4.5 -1.7l4.5 -1.5l4.5 -1.4l4.5 -1.3l4.5 -1.2l4.5 -1.1l4.5 -1l4.5 -0.9l4.4 -0.9l4.4 -0.8M604.4 207.6l-3.1 -5.5l-3.1 -5.5l-3.1 -5.5l-3.1 -5.5l-3.1 -5.4l-3.2 -5.3l-3.2 -5.2l-3.2 -5.1l-3.2 -5l-3.2 -4.8l-3.2 -4.7l-3.3 -4.5l-3.3 -4.3l-3.3 -4.1l-3.3 -3.9l-3.3 -3.7l-3.3 -3.5l-3.3 -3.3l-3.3 -3.1l-3.3 -2.8l-3.3 -2.6l-3.3 -2.4l-3.3 -2.2l-3.3 -2l-3.3 -1.8l-3.3 -1.6l-3.3 -1.4l-3.3 -1.3l-3.2 -1.1l-3.2 -1l-3.2 -0.8l-3.2 -0.7l-3.2 -0.6l-3.2 -0.6l-3.1 -0.5l-3.1 -0.5M447.6 181.5l4.4 -3l4.4 -3.1l4.4 -3.3l4.4 -3.4l4.4 -3.4l4.4 -3.5l4.4 -3.5l4.4 -3.5l4.4 -3.5l4.4 -3.5l4.4 -3.5l4.4 -3.4l4.5 -3.4l4.5 -3.3l4.5 -3.2l4.5 -3.1l4.5 -3l4.5 -2.9l4.5 -2.7l4.5 -2.6l4.5 -2.5l4.5 -2.3l4.5 -2.2l4.5 -2.1l4.5 -1.9l4.5 -1.8l4.5 -1.7l4.5 -1.5l4.5 -1.4l4.5 -1.3l4.5 -1.2l4.5 -1.1l4.5 -1l4.5 -0.9l4.4 -0.8l4.4 -0.8M605.7 206.7l-3.1 -5.5l-3.1 -5.5l-3.1 -5.5l-3.1 -5.5l-3.1 -5.4l-3.2 -5.3l-3.2 -5.2l-3.2 -5.1l-3.2 -5l-3.2 -4.8l-3.2 -4.7l-3.3 -4.5l-3.3 -4.3l-3.3 -4.1l-3.3 -3.9l-3.3 -3.7l-3.3 -3.5l-3.3 -3.3l-3.3 -3.1l-3.3 -2.8l-3.3 -2.6l-3.3 -2.4l-3.3 -2.2l-3.3 -2l-3.3 -1.8l-3.3 -1.6l-3.3 -1.4l-3.3 -1.2l-3.2 -1.1l-3.2 -0.9l-3.2 -0.8l-3.2 -0.7l-3.2 -0.6l-3.2 -0.5l-3.1 -0.5l-3.1 -0.5M446.7 180.4l4.4 -3l4.4 -3.1l4.4 -3.3l4.4 -3.4l4.4 -3.4l4.4 -3.5l4.4 -3.5l4.4 -3.5l4.4 -3.5l4.4 -3.5l4.4 -3.5l4.4 -3.4l4.5 -3.3l4.5 -3.3l4.5 -3.2l4.5 -3.1l4.5 -3l4.5 -2.8l4.5 -2.7l4.5 -2.6l4.5 -2.5l4.5 -2.3l4.5 -2.2l4.5 -2.1l4.5 -1.9l4.5 -1.8l4.5 -1.6l4.5 -1.5l4.5 -1.4l4.5 -1.3l4.5 -1.2l4.5 -1.1l4.5 -1l4.5 -0.9l4.4 -0.8l4.4 -0.8M606.9 205.8l-3.1 -5.5l-3.1 -5.5l-3.1 -5.5l-3.1 -5.5l-3.1 -5.4l-3.2 -5.3l-3.2 -5.2l-3.2 -5.1l-3.2 -5l-3.2 -4.8l-3.2 -4.7l-3.3 -4.5l-3.3 -4.3l-3.3 -4.1l-3.3 -3.9l-3.3 -3.7l-3.3 -3.5l-3.3 -3.3l-3.3 -3l-3.3 -2.8l-3.3 -2.6l-3.3 -2.4l-3.3 -2.2l-3.3 -2l-3.3 -1.8l-3.3 -1.6l-3.3 -1.4l-3.3 -1.2l-3.2 -1.1l-3.2 -0.9l-3.2 -0.8l-3.2 -0.7l-3.2 -0.6l-3.2 -0.5l-3.2 -0.5l-3.1 -0.4M445.8 179.3l4.4 -3l4.4 -3.1l4.4 -3.2l4.4 -3.3l4.4 -3.4l4.4 -3.5l4.4 -3.5l4.4 -3.5l4.4 -3.5l4.4 -3.5l4.4 -3.4l4.4 -3.4l4.5 -3.3l4.5 -3.2l4.5 -3.2l4.5 -3.1l4.5 -2.9l4.5 -2.8l4.5 -2.7l4.5 -2.6l4.5 -2.4l4.5 -2.3l4.5 -2.2l4.5 -2l4.5 -1.9l4.5 -1.8l4.5 -1.6l4.5 -1.5l4.5 -1.4l4.5 -1.3l4.5 -1.2l4.5 -1.1l4.5 -1l4.4 -0.9l4.4 -0.8l4.4 -0.8M608.2 204.9l-3.1 -5.5l-3.1 -5.5l-3.1 -5.5l-3.1 -5.5l-3.1 -5.4l-3.2 -5.3l-3.2 -5.2l-3.2 -5.1l-3.2 -5l-3.2 -4.8l-3.2 -4.6l-3.3 -4.5l-3.3 -4.3l-3.3 -4.1l-3.3 -3.9l-3.3 -3.7l-3.3 -3.4l-3.3 -3.2l-3.3 -3l-3.3 -2.8l-3.3 -2.6l-3.3 -2.4l-3.3 -2.2l-3.3 -1.9l-3.3 -1.8l-3.3 -1.6l-3.3 -1.4l-3.3 -1.2l-3.3 -1.1l-3.2 -0.9l-3.2 -0.8l-3.2 -0.7l-3.2 -0.6l-3.2 -0.5l-3.2 -0.5l-3.1 -0.4M445 178.3l4.4 -3l4.4 -3.1l4.4 -3.2l4.4 -3.3l4.4 -3.4l4.4 -3.4l4.4 -3.5l4.4 -3.5l4.4 -3.5l4.4 -3.5l4.4 -3.4l4.4 -3.4l4.4 -3.3l4.5 -3.2l4.5 -3.1l4.5 -3l4.5 -2.9l4.5 -2.8l4.5 -2.7l4.5 -2.6l4.5 -2.4l4.5 -2.3l4.5 -2.2l4.5 -2l4.5 -1.9l4.5 -1.8l4.5 -1.6l4.5 -1.5l4.5 -1.4l4.5 -1.2l4.5 -1.1l4.5 -1l4.5 -0.9l4.4 -0.9l4.4 -0.8l4.4 -0.7M609.5 204l-3.1 -5.5l-3.1 -5.5l-3.1 -5.5l-3.1 -5.5l-3.1 -5.4l-3.2 -5.3l-3.2 -5.2l-3.2 -5.1l-3.2 -4.9l-3.2 -4.8l-3.2 -4.6l-3.3 -4.4l-3.3 -4.3l-3.3 -4.1l-3.3 -3.9l-3.3 -3.6l-3.3 -3.4l-3.3 -3.2l-3.3 -3l-3.3 -2.8l-3.3 -2.6l-3.3 -2.3l-3.3 -2.1l-3.3 -1.9l-3.3 -1.7l-3.3 -1.5l-3.3 -1.4l-3.3 -1.2l-3.3 -1l-3.2 -0.9l-3.2 -0.8l-3.2 -0.7l-3.2 -0.6l-3.2 -0.5l-3.2 -0.4l-3.1 -0.4M444.1 177.2l4.4 -3l4.4 -3.1l4.4 -3.2l4.4 -3.3l4.4 -3.4l4.4 -3.4l4.4 -3.5l4.4 -3.5l4.4 -3.5l4.4 -3.4l4.4 -3.4l4.4 -3.3l4.4 -3.3l4.5 -3.2l4.5 -3.1l4.5 -3l4.5 -2.9l4.5 -2.8l4.5 -2.7l4.5 -2.5l4.5 -2.4l4.5 -2.3l4.5 -2.1l4.5 -2l4.5 -1.9l4.5 -1.7l4.5 -1.6l4.5 -1.5l4.5 -1.4l4.5 -1.2l4.5 -1.1l4.5 -1l4.5 -0.9l4.4 -0.9l4.4 -0.8l4.4 -0.7M610.8 203.1l-3.1 -5.5l-3.1 -5.5l-3.1 -5.5l-3.1 -5.5l-3.1 -5.4l-3.2 -5.3l-3.2 -5.2l-3.2 -5.1l-3.2 -4.9l-3.2 -4.8l-3.2 -4.6l-3.3 -4.4l-3.3 -4.2l-3.3 -4l-3.3 -3.8l-3.3 -3.6l-3.3 -3.4l-3.3 -3.2l-3.3 -3l-3.3 -2.8l-3.3 -2.5l-3.3 -2.3l-3.3 -2.1l-3.3 -1.9l-3.3 -1.7l-3.3 -1.5l-3.3 -1.4l-3.3 -1.2l-3.3 -1l-3.2 -0.9l-3.2 -0.8l-3.2 -0.7l-3.2 -0.6l-3.2 -0.5l-3.2 -0.4l-3.1 -0.4M443.2 176.2l4.4 -3l4.4 -3.1l4.4 -3.2l4.4 -3.3l4.4 -3.4l4.4 -3.4l4.4 -3.4l4.4 -3.5l4.4 -3.4l4.4 -3.4l4.4 -3.4l4.4 -3.3l4.4 -3.3l4.5 -3.2l4.5 -3.1l4.5 -3l4.5 -2.9l4.5 -2.8l4.5 -2.7l4.5 -2.5l4.5 -2.4l4.5 -2.3l4.5 -2.1l4.5 -2l4.5 -1.9l4.5 -1.7l4.5 -1.6l4.5 -1.5l4.5 -1.3l4.5 -1.2l4.5 -1.1l4.5 -1l4.5 -0.9l4.4 -0.8l4.4 -0.8l4.4 -0.7M612 202.2l-3.1 -5.5l-3.1 -5.5l-3.1 -5.5l-3.1 -5.5l-3.1 -5.4l-3.2 -5.3l-3.2 -5.2l-3.2 -5.1l-3.2 -4.9l-3.2 -4.8l-3.2 -4.6l-3.3 -4.4l-3.3 -4.2l-3.3 -4l-3.3 -3.8l-3.3 -3.6l-3.3 -3.4l-3.3 -3.2l-3.3 -3l-3.3 -2.7l-3.3 -2.5l-3.3 -2.3l-3.3 -2.1l-3.3 -1.9l-3.3 -1.7l-3.3 -1.5l-3.3 -1.3l-3.3 -1.2l-3.3 -1l-3.2 -0.9l-3.2 -0.7l-3.2 -0.6l-3.2 -0.5l-3.2 -0.5l-3.2 -0.4l-3.2 -0.4M442.4 175.2l4.4 -3l4.3 -3.1l4.3 -3.2l4.4 -3.3l4.4 -3.4l4.4 -3.4l4.4 -3.4l4.4 -3.4l4.4 -3.4l4.4 -3.4l4.4 -3.4l4.4 -3.3l4.4 -3.2l4.5 -3.2l4.5 -3.1l4.5 -3l4.5 -2.9l4.5 -2.8l4.5 -2.6l4.5 -2.5l4.5 -2.4l4.5 -2.2l4.5 -2.1l4.5 -2l4.5 -1.8l4.5 -1.7l4.5 -1.6l4.5 -1.5l4.5 -1.3l4.5 -1.2l4.5 -1.1l4.5 -1l4.5 -0.9l4.4 -0.8l4.4 -0.8l4.4 -0.7M613.3 201.4l-3.1 -5.5l-3.1 -5.5l-3.1 -5.5l-3.1 -5.5l-3.1 -5.4l-3.2 -5.3l-3.2 -5.2l-3.2 -5l-3.2 -4.9l-3.2 -4.7l-3.2 -4.6l-3.3 -4.4l-3.3 -4.2l-3.3 -4l-3.3 -3.8l-3.3 -3.6l-3.3 -3.4l-3.3 -3.2l-3.3 -2.9l-3.3 -2.7l-3.3 -2.5l-3.3 -2.3l-3.3 -2.1l-3.3 -1.9l-3.3 -1.7l-3.3 -1.5l-3.3 -1.3l-3.3 -1.2l-3.3 -1l-3.3 -0.9l-3.2 -0.7l-3.2 -0.6l-3.2 -0.5l-3.2 -0.5l-3.2 -0.4l-3.2 -0.4M441.5 174.3l4.4 -3l4.3 -3.1l4.3 -3.2l4.3 -3.3l4.4 -3.3l4.4 -3.4l4.4 -3.4l4.4 -3.4l4.4 -3.4l4.4 -3.4l4.4 -3.3l4.4 -3.3l4.4 -3.2l4.5 -3.1l4.5 -3.1l4.5 -3l4.5 -2.8l4.5 -2.7l4.5 -2.6l4.5 -2.5l4.5 -2.4l4.5 -2.2l4.5 -2.1l4.5 -2l4.5 -1.8l4.5 -1.7l4.5 -1.6l4.5 -1.4l4.5 -1.3l4.5 -1.2l4.5 -1.1l4.5 -1l4.4 -0.9l4.4 -0.8l4.4 -0.7l4.4 -0.7M614.6 200.6l-3.1 -5.6l-3.1 -5.5l-3.1 -5.5l-3.1 -5.5l-3.1 -5.4l-3.2 -5.3l-3.2 -5.2l-3.2 -5l-3.2 -4.9l-3.2 -4.7l-3.2 -4.6l-3.3 -4.4l-3.3 -4.2l-3.3 -4l-3.3 -3.8l-3.3 -3.6l-3.3 -3.4l-3.3 -3.1l-3.3 -2.9l-3.3 -2.7l-3.3 -2.5l-3.3 -2.3l-3.3 -2.1l-3.3 -1.9l-3.3 -1.7l-3.3 -1.5l-3.3 -1.3l-3.3 -1.1l-3.3 -1l-3.3 -0.8l-3.2 -0.7l-3.2 -0.6l-3.2 -0.5l-3.2 -0.5l-3.2 -0.4l-3.2 -0.4M440.6 173.3l4.3 -2.9l4.3 -3.1l4.3 -3.2l4.3 -3.3l4.4 -3.3l4.4 -3.4l4.4 -3.4l4.4 -3.4l4.4 -3.4l4.4 -3.4l4.4 -3.3l4.4 -3.3l4.4 -3.2l4.4 -3.1l4.5 -3l4.5 -2.9l4.5 -2.8l4.5 -2.7l4.5 -2.6l4.5 -2.5l4.5 -2.3l4.5 -2.2l4.5 -2.1l4.5 -1.9l4.5 -1.8l4.5 -1.7l4.5 -1.5l4.5 -1.4l4.5 -1.3l4.5 -1.2l4.5 -1.1l4.5 -1l4.4 -0.9l4.4 -0.8l4.4 -0.7l4.4 -0.7M615.9 199.7l-3.1 -5.6l-3.1 -5.5l-3.1 -5.5l-3.1 -5.4l-3.1 -5.4l-3.2 -5.3l-3.2 -5.2l-3.2 -5l-3.2 -4.9l-3.2 -4.7l-3.3 -4.5l-3.3 -4.4l-3.3 -4.2l-3.3 -4l-3.3 -3.8l-3.3 -3.6l-3.3 -3.3l-3.3 -3.1l-3.3 -2.9l-3.3 -2.7l-3.3 -2.5l-3.3 -2.3l-3.3 -2.1l-3.3 -1.9l-3.3 -1.7l-3.3 -1.5l-3.3 -1.3l-3.3 -1.1l-3.3 -1l-3.3 -0.8l-3.2 -0.7l-3.2 -0.6l-3.2 -0.5l-3.2 -0.4l-3.2 -0.4l-3.2 -0.4M439.8 172.4l4.3 -2.9l4.3 -3.1l4.3 -3.2l4.3 -3.3l4.4 -3.3l4.4 -3.4l4.4 -3.4l4.4 -3.4l4.4 -3.4l4.4 -3.3l4.4 -3.3l4.4 -3.2l4.4 -3.2l4.4 -3.1l4.5 -3l4.5 -2.9l4.5 -2.8l4.5 -2.7l4.5 -2.6l4.5 -2.5l4.5 -2.3l4.5 -2.2l4.5 -2.1l4.5 -1.9l4.5 -1.8l4.5 -1.7l4.5 -1.5l4.5 -1.4l4.5 -1.3l4.5 -1.2l4.5 -1.1l4.5 -1l4.4 -0.9l4.4 -0.8l4.4 -0.7l4.4 -0.7M617.1 198.9l-3.1 -5.6l-3.1 -5.5l-3.1 -5.5l-3.1 -5.4l-3.1 -5.4l-3.2 -5.3l-3.2 -5.1l-3.2 -5l-3.2 -4.9l-3.2 -4.7l-3.3 -4.5l-3.3 -4.4l-3.3 -4.2l-3.3 -4l-3.3 -3.8l-3.3 -3.5l-3.3 -3.3l-3.3 -3.1l-3.3 -2.9l-3.3 -2.7l-3.3 -2.5l-3.3 -2.3l-3.3 -2l-3.3 -1.8l-3.3 -1.6l-3.3 -1.5l-3.3 -1.3l-3.3 -1.1l-3.3 -1l-3.3 -0.8l-3.2 -0.7l-3.2 -0.6l-3.2 -0.5l-3.2 -0.4l-3.2 -0.4l-3.2 -0.4M438.9 171.5l4.3 -2.9l4.3 -3.1l4.3 -3.2l4.3 -3.2l4.3 -3.3l4.4 -3.3l4.4 -3.4l4.4 -3.4l4.4 -3.3l4.4 -3.3l4.4 -3.3l4.4 -3.2l4.4 -3.2l4.4 -3.1l4.5 -3l4.5 -2.9l4.5 -2.8l4.5 -2.7l4.5 -2.6l4.5 -2.4l4.5 -2.3l4.5 -2.2l4.5 -2l4.5 -1.9l4.5 -1.8l4.5 -1.7l4.5 -1.5l4.5 -1.4l4.5 -1.3l4.5 -1.2l4.5 -1.1l4.5 -1l4.4 -0.9l4.4 -0.8l4.4 -0.7l4.4 -0.6M618.4 198.1l-3.1 -5.6l-3.1 -5.5l-3.1 -5.5l-3.1 -5.4l-3.1 -5.4l-3.2 -5.3l-3.2 -5.1l-3.2 -5l-3.2 -4.9l-3.2 -4.7l-3.3 -4.5l-3.3 -4.3l-3.3 -4.1l-3.3 -3.9l-3.3 -3.7l-3.3 -3.5l-3.3 -3.3l-3.3 -3.1l-3.3 -2.9l-3.3 -2.7l-3.3 -2.4l-3.3 -2.2l-3.3 -2l-3.3 -1.8l-3.3 -1.6l-3.3 -1.4l-3.3 -1.3l-3.3 -1.1l-3.3 -1l-3.3 -0.8l-3.3 -0.7l-3.2 -0.6l-3.2 -0.5l-3.2 -0.4l-3.2 -0.4l-3.2 -0.3M438 170.6l4.3 -2.9l4.3 -3l4.3 -3.1l4.3 -3.2l4.3 -3.3l4.4 -3.3l4.4 -3.3l4.4 -3.3l4.4 -3.3l4.4 -3.3l4.4 -3.3l4.4 -3.2l4.4 -3.1l4.4 -3.1l4.5 -3l4.5 -2.9l4.5 -2.8l4.5 -2.7l4.5 -2.5l4.5 -2.4l4.5 -2.3l4.5 -2.2l4.5 -2l4.5 -1.9l4.5 -1.8l4.5 -1.6l4.5 -1.5l4.5 -1.4l4.5 -1.3l4.5 -1.1l4.5 -1l4.4 -0.9l4.4 -0.8l4.4 -0.8l4.4 -0.7l4.4 -0.6M619.7 197.4l-3.1 -5.6l-3.1 -5.6l-3.1 -5.5l-3.1 -5.4l-3.1 -5.4l-3.2 -5.3l-3.2 -5.1l-3.2 -5l-3.2 -4.8l-3.2 -4.7l-3.3 -4.5l-3.3 -4.3l-3.3 -4.1l-3.3 -3.9l-3.3 -3.7l-3.3 -3.5l-3.3 -3.3l-3.3 -3.1l-3.3 -2.9l-3.3 -2.6l-3.3 -2.4l-3.3 -2.2l-3.3 -2l-3.3 -1.8l-3.3 -1.6l-3.3 -1.4l-3.3 -1.3l-3.3 -1.1l-3.3 -0.9l-3.3 -0.8l-3.3 -0.7l-3.2 -0.6l-3.2 -0.5l-3.2 -0.4l-3.2 -0.4l-3.2 -0.3M437.2 169.7l4.3 -2.9l4.3 -3l4.3 -3.1l4.3 -3.2l4.3 -3.3l4.4 -3.3l4.4 -3.3l4.4 -3.3l4.4 -3.3l4.4 -3.3l4.4 -3.2l4.4 -3.2l4.4 -3.1l4.4 -3l4.4 -3l4.5 -2.9l4.5 -2.8l4.5 -2.6l4.5 -2.5l4.5 -2.4l4.5 -2.3l4.5 -2.1l4.5 -2l4.5 -1.9l4.5 -1.8l4.5 -1.6l4.5 -1.5l4.5 -1.4l4.5 -1.3l4.5 -1.1l4.5 -1l4.4 -0.9l4.4 -0.8l4.4 -0.7l4.4 -0.7l4.4 -0.6M620.9 196.6l-3.1 -5.6l-3.1 -5.6l-3.1 -5.5l-3.1 -5.4l-3.1 -5.4l-3.2 -5.2l-3.2 -5.1l-3.2 -5l-3.2 -4.8l-3.2 -4.7l-3.3 -4.5l-3.3 -4.3l-3.3 -4.1l-3.3 -3.9l-3.3 -3.7l-3.3 -3.5l-3.3 -3.3l-3.3 -3.1l-3.3 -2.8l-3.3 -2.6l-3.3 -2.4l-3.3 -2.2l-3.3 -2l-3.3 -1.8l-3.3 -1.6l-3.3 -1.4l-3.3 -1.2l-3.3 -1.1l-3.3 -0.9l-3.3 -0.8l-3.3 -0.7l-3.2 -0.6l-3.2 -0.5l-3.2 -0.4l-3.2 -0.3l-3.2 -0.3M436.3 168.8l4.3 -2.9l4.3 -3l4.3 -3.1l4.3 -3.2l4.3 -3.3l4.3 -3.3l4.4 -3.3l4.4 -3.3l4.4 -3.3l4.4 -3.3l4.4 -3.2l4.4 -3.2l4.4 -3.1l4.4 -3l4.4 -2.9l4.5 -2.8l4.5 -2.7l4.5 -2.6l4.5 -2.5l4.5 -2.4l4.5 -2.3l4.5 -2.1l4.5 -2l4.5 -1.9l4.5 -1.7l4.5 -1.6l4.5 -1.5l4.5 -1.4l4.5 -1.2l4.5 -1.1l4.5 -1l4.4 -0.9l4.4 -0.8l4.4 -0.7l4.4 -0.7l4.4 -0.6M622.2 195.9l-3 -5.6l-3.1 -5.6l-3.1 -5.5l-3.1 -5.4l-3.1 -5.3l-3.2 -5.2l-3.2 -5.1l-3.2 -5l-3.2 -4.8l-3.2 -4.7l-3.3 -4.5l-3.3 -4.3l-3.3 -4.1l-3.3 -3.9l-3.3 -3.7l-3.3 -3.5l-3.3 -3.3l-3.3 -3l-3.3 -2.8l-3.4 -2.6l-3.4 -2.4l-3.4 -2.2l-3.3 -2l-3.3 -1.8l-3.3 -1.6l-3.3 -1.4l-3.3 -1.2l-3.3 -1.1l-3.3 -0.9l-3.3 -0.8l-3.3 -0.7l-3.2 -0.5l-3.2 -0.5l-3.2 -0.4l-3.2 -0.3l-3.2 -0.3M435.5 168l4.3 -2.9l4.3 -3l4.3 -3.1l4.3 -3.2l4.3 -3.2l4.3 -3.3l4.4 -3.3l4.4 -3.3l4.4 -3.3l4.4 -3.2l4.4 -3.2l4.4 -3.1l4.4 -3.1l4.4 -3l4.4 -2.9l4.5 -2.8l4.5 -2.7l4.5 -2.6l4.5 -2.5l4.5 -2.4l4.5 -2.2l4.5 -2.1l4.5 -2l4.5 -1.9l4.5 -1.7l4.5 -1.6l4.5 -1.5l4.5 -1.3l4.5 -1.2l4.5 -1.1l4.5 -1l4.4 -0.9l4.4 -0.8l4.4 -0.7l4.4 -0.7l4.4 -0.6M623.5 195.1l-3 -5.6l-3.1 -5.6l-3.1 -5.5l-3.1 -5.4l-3.1 -5.3l-3.2 -5.2l-3.2 -5.1l-3.2 -5l-3.2 -4.8l-3.2 -4.6l-3.3 -4.5l-3.3 -4.3l-3.3 -4.1l-3.3 -3.9l-3.3 -3.7l-3.3 -3.5l-3.3 -3.2l-3.3 -3l-3.4 -2.8l-3.4 -2.6l-3.4 -2.4l-3.4 -2.2l-3.4 -2l-3.3 -1.8l-3.3 -1.6l-3.3 -1.4l-3.3 -1.2l-3.3 -1.1l-3.3 -0.9l-3.3 -0.8l-3.3 -0.6l-3.3 -0.5l-3.2 -0.4l-3.2 -0.4l-3.2 -0.3l-3.2 -0.3M434.6 167.2l4.3 -2.9l4.3 -3l4.3 -3.1l4.3 -3.2l4.3 -3.2l4.3 -3.3l4.4 -3.3l4.4 -3.3l4.4 -3.3l4.4 -3.2l4.4 -3.2l4.4 -3.1l4.4 -3.1l4.4 -3l4.4 -2.9l4.4 -2.8l4.5 -2.7l4.5 -2.6l4.5 -2.5l4.5 -2.4l4.5 -2.2l4.5 -2.1l4.5 -2l4.5 -1.8l4.5 -1.7l4.5 -1.6l4.5 -1.5l4.5 -1.3l4.5 -1.2l4.5 -1.1l4.4 -1l4.4 -0.9l4.4 -0.8l4.4 -0.7l4.4 -0.6l4.4 -0.6M624.7 194.4l-3 -5.6l-3.1 -5.6l-3.1 -5.5l-3.1 -5.4l-3.1 -5.3l-3.2 -5.2l-3.2 -5.1l-3.2 -5l-3.2 -4.8l-3.2 -4.6l-3.3 -4.5l-3.3 -4.3l-3.3 -4.1l-3.3 -3.9l-3.3 -3.7l-3.3 -3.4l-3.3 -3.2l-3.3 -3l-3.4 -2.8l-3.4 -2.6l-3.4 -2.4l-3.4 -2.2l-3.4 -2l-3.3 -1.8l-3.3 -1.6l-3.3 -1.4l-3.3 -1.2l-3.3 -1l-3.3 -0.9l-3.3 -0.8l-3.3 -0.6l-3.3 -0.5l-3.2 -0.4l-3.2 -0.4l-3.2 -0.3l-3.2 -0.3M433.8 166.4l4.3 -2.9l4.3 -3l4.3 -3.1l4.3 -3.2l4.3 -3.2l4.3 -3.2l4.3 -3.3l4.4 -3.3l4.4 -3.2l4.4 -3.2l4.4 -3.2l4.4 -3.1l4.4 -3l4.4 -3l4.4 -2.9l4.4 -2.8l4.5 -2.7l4.5 -2.6l4.5 -2.5l4.5 -2.3l4.5 -2.2l4.5 -2.1l4.5 -2l4.5 -1.8l4.5 -1.7l4.5 -1.6l4.5 -1.4l4.5 -1.3l4.5 -1.2l4.5 -1.1l4.4 -1l4.4 -0.9l4.4 -0.8l4.4 -0.7l4.4 -0.6l4.4 -0.6M626 193.7l-3 -5.6l-3.1 -5.6l-3.1 -5.5l-3.1 -5.4l-3.1 -5.3l-3.2 -5.2l-3.2 -5.1l-3.2 -4.9l-3.2 -4.8l-3.2 -4.6l-3.3 -4.4l-3.3 -4.3l-3.3 -4.1l-3.3 -3.9l-3.3 -3.6l-3.3 -3.4l-3.3 -3.2l-3.4 -3l-3.4 -2.8l-3.4 -2.6l-3.4 -2.4l-3.4 -2.1l-3.4 -1.9l-3.4 -1.7l-3.3 -1.5l-3.3 -1.4l-3.3 -1.2l-3.3 -1l-3.3 -0.9l-3.3 -0.7l-3.3 -0.6l-3.3 -0.5l-3.2 -0.4l-3.2 -0.4l-3.2 -0.3l-3.2 -0.3M432.9 165.6l4.3 -2.9l4.3 -3l4.3 -3.1l4.3 -3.2l4.3 -3.2l4.3 -3.2l4.3 -3.2l4.4 -3.2l4.4 -3.2l4.4 -3.2l4.4 -3.1l4.4 -3.1l4.4 -3l4.4 -2.9l4.4 -2.9l4.4 -2.8l4.5 -2.7l4.5 -2.6l4.5 -2.4l4.5 -2.3l4.5 -2.2l4.5 -2.1l4.5 -1.9l4.5 -1.8l4.5 -1.7l4.5 -1.6l4.5 -1.4l4.5 -1.3l4.5 -1.2l4.5 -1.1l4.4 -1l4.4 -0.9l4.4 -0.8l4.4 -0.7l4.4 -0.6l4.4 -0.5M627.3 193l-3 -5.6l-3.1 -5.6l-3.1 -5.5l-3.1 -5.4l-3.1 -5.3l-3.2 -5.2l-3.2 -5.1l-3.2 -4.9l-3.2 -4.8l-3.2 -4.6l-3.3 -4.4l-3.3 -4.2l-3.3 -4l-3.3 -3.8l-3.3 -3.6l-3.3 -3.4l-3.3 -3.2l-3.4 -3l-3.4 -2.8l-3.4 -2.6l-3.4 -2.3l-3.4 -2.1l-3.4 -1.9l-3.4 -1.7l-3.3 -1.5l-3.3 -1.4l-3.3 -1.2l-3.3 -1l-3.3 -0.9l-3.3 -0.7l-3.3 -0.6l-3.3 -0.5l-3.2 -0.4l-3.2 -0.3l-3.2 -0.3l-3.2 -0.3M432.1 164.8l4.3 -2.9l4.3 -3l4.3 -3.1l4.3 -3.1l4.3 -3.2l4.3 -3.2l4.3 -3.2l4.4 -3.2l4.4 -3.2l4.4 -3.2l4.4 -3.1l4.4 -3.1l4.4 -3l4.4 -2.9l4.4 -2.8l4.4 -2.7l4.4 -2.6l4.5 -2.5l4.5 -2.4l4.5 -2.3l4.5 -2.2l4.5 -2.1l4.5 -1.9l4.5 -1.8l4.5 -1.7l4.5 -1.5l4.5 -1.4l4.5 -1.3l4.5 -1.2l4.4 -1.1l4.4 -1l4.4 -0.9l4.4 -0.8l4.4 -0.7l4.4 -0.6l4.4 -0.5M628.5 192.3l-3 -5.6l-3.1 -5.6l-3.1 -5.5l-3.1 -5.4l-3.1 -5.3l-3.2 -5.2l-3.2 -5.1l-3.2 -4.9l-3.2 -4.8l-3.2 -4.6l-3.3 -4.4l-3.3 -4.2l-3.3 -4l-3.3 -3.8l-3.3 -3.6l-3.3 -3.4l-3.3 -3.2l-3.4 -3l-3.4 -2.8l-3.4 -2.5l-3.4 -2.3l-3.4 -2.1l-3.4 -1.9l-3.4 -1.7l-3.4 -1.5l-3.3 -1.3l-3.3 -1.2l-3.3 -1l-3.3 -0.9l-3.3 -0.7l-3.3 -0.6l-3.3 -0.5l-3.2 -0.4l-3.2 -0.3l-3.2 -0.3l-3.2 -0.3M431.2 164l4.3 -2.9l4.3 -3l4.3 -3.1l4.3 -3.1l4.3 -3.2l4.3 -3.2l4.3 -3.2l4.4 -3.2l4.4 -3.2l4.4 -3.2l4.4 -3.1l4.4 -3.1l4.4 -3l4.4 -2.9l4.4 -2.8l4.4 -2.7l4.4 -2.6l4.5 -2.5l4.5 -2.4l4.5 -2.3l4.5 -2.2l4.5 -2l4.5 -1.9l4.5 -1.8l4.5 -1.7l4.5 -1.5l4.5 -1.4l4.5 -1.3l4.5 -1.2l4.4 -1.1l4.4 -0.9l4.4 -0.8l4.4 -0.8l4.4 -0.7l4.4 -0.6l4.4 -0.5M629.8 191.7l-3 -5.6l-3.1 -5.6l-3.1 -5.5l-3.1 -5.4l-3.1 -5.3l-3.1 -5.2l-3.2 -5.1l-3.2 -4.9l-3.2 -4.8l-3.2 -4.6l-3.3 -4.4l-3.3 -4.2l-3.3 -4l-3.3 -3.8l-3.3 -3.6l-3.3 -3.4l-3.3 -3.2l-3.4 -3l-3.4 -2.7l-3.4 -2.5l-3.4 -2.3l-3.4 -2.1l-3.4 -1.9l-3.4 -1.7l-3.4 -1.5l-3.3 -1.3l-3.3 -1.2l-3.3 -1l-3.3 -0.8l-3.3 -0.7l-3.3 -0.6l-3.3 -0.5l-3.3 -0.4l-3.2 -0.3l-3.2 -0.3l-3.2 -0.3M430.4 163.3l4.3 -2.9l4.3 -3l4.3 -3.1l4.3 -3.1l4.3 -3.2l4.3 -3.2l4.3 -3.2l4.3 -3.2l4.4 -3.2l4.4 -3.1l4.4 -3.1l4.4 -3l4.4 -3l4.4 -2.9l4.4 -2.8l4.4 -2.7l4.4 -2.6l4.4 -2.5l4.5 -2.4l4.5 -2.3l4.5 -2.1l4.5 -2l4.5 -1.9l4.5 -1.8l4.5 -1.6l4.5 -1.5l4.5 -1.4l4.5 -1.3l4.4 -1.2l4.4 -1l4.4 -0.9l4.4 -0.8l4.4 -0.7l4.4 -0.7l4.4 -0.6l4.4 -0.5M631.1 191l-3 -5.6l-3.1 -5.6l-3.1 -5.5l-3.1 -5.4l-3.1 -5.3l-3.1 -5.2l-3.2 -5.1l-3.2 -4.9l-3.2 -4.8l-3.2 -4.6l-3.3 -4.4l-3.3 -4.2l-3.3 -4l-3.3 -3.8l-3.3 -3.6l-3.3 -3.4l-3.4 -3.2l-3.4 -2.9l-3.4 -2.7l-3.4 -2.5l-3.4 -2.3l-3.4 -2.1l-3.4 -1.9l-3.4 -1.7l-3.4 -1.5l-3.4 -1.3l-3.3 -1.1l-3.3 -1l-3.3 -0.8l-3.3 -0.7l-3.3 -0.6l-3.3 -0.5l-3.3 -0.4l-3.2 -0.3l-3.2 -0.3l-3.2 -0.2M429.5 162.6l4.3 -2.9l4.3 -3l4.3 -3.1l4.3 -3.1l4.3 -3.1l4.3 -3.2l4.3 -3.2l4.3 -3.2l4.4 -3.2l4.4 -3.1l4.4 -3.1l4.4 -3l4.4 -2.9l4.4 -2.9l4.4 -2.8l4.4 -2.7l4.4 -2.6l4.4 -2.5l4.5 -2.4l4.5 -2.3l4.5 -2.1l4.5 -2l4.5 -1.9l4.5 -1.8l4.5 -1.6l4.5 -1.5l4.5 -1.4l4.5 -1.3l4.4 -1.1l4.4 -1l4.4 -0.9l4.4 -0.8l4.4 -0.7l4.4 -0.6l4.4 -0.6l4.4 -0.5M632.3 190.4l-3 -5.6l-3.1 -5.6l-3.1 -5.5l-3.1 -5.4l-3.1 -5.3l-3.1 -5.2l-3.2 -5.1l-3.2 -4.9l-3.2 -4.7l-3.2 -4.6l-3.3 -4.4l-3.3 -4.2l-3.3 -4l-3.3 -3.8l-3.3 -3.6l-3.3 -3.4l-3.4 -3.1l-3.4 -2.9l-3.4 -2.7l-3.4 -2.5l-3.4 -2.3l-3.4 -2.1l-3.4 -1.9l-3.4 -1.7l-3.4 -1.5l-3.4 -1.3l-3.3 -1.1l-3.3 -1l-3.3 -0.8l-3.3 -0.7l-3.3 -0.6l-3.3 -0.5l-3.3 -0.4l-3.2 -0.3l-3.2 -0.3l-3.2 -0.2M428.7 161.9l4.3 -2.9l4.3 -3l4.3 -3l4.3 -3.1l4.3 -3.1l4.3 -3.2l4.3 -3.2l4.3 -3.2l4.4 -3.1l4.4 -3.1l4.4 -3.1l4.4 -3l4.4 -2.9l4.4 -2.8l4.4 -2.8l4.4 -2.7l4.4 -2.6l4.4 -2.5l4.4 -2.4l4.5 -2.2l4.5 -2.1l4.5 -2l4.5 -1.9l4.5 -1.7l4.5 -1.6l4.5 -1.5l4.5 -1.4l4.4 -1.3l4.4 -1.1l4.4 -1l4.4 -0.9l4.4 -0.8l4.4 -0.7l4.4 -0.6l4.4 -0.6l4.4 -0.5M633.6 189.7l-3 -5.7l-3 -5.6l-3.1 -5.5l-3.1 -5.4l-3.1 -5.3l-3.1 -5.2l-3.2 -5l-3.2 -4.9l-3.2 -4.7l-3.2 -4.6l-3.3 -4.4l-3.3 -4.2l-3.3 -4l-3.3 -3.8l-3.3 -3.6l-3.3 -3.3l-3.4 -3.1l-3.4 -2.9l-3.4 -2.7l-3.4 -2.5l-3.4 -2.3l-3.4 -2.1l-3.4 -1.9l-3.4 -1.7l-3.4 -1.5l-3.4 -1.3l-3.3 -1.1l-3.3 -1l-3.3 -0.8l-3.3 -0.7l-3.3 -0.6l-3.3 -0.5l-3.3 -0.4l-3.2 -0.3l-3.2 -0.3l-3.2 -0.2M427.9 161.2l4.3 -2.9l4.3 -3l4.3 -3l4.3 -3.1l4.3 -3.1l4.3 -3.1l4.3 -3.1l4.3 -3.1l4.3 -3.1l4.4 -3.1l4.4 -3l4.4 -3l4.4 -2.9l4.4 -2.8l4.4 -2.7l4.4 -2.7l4.4 -2.6l4.4 -2.4l4.4 -2.3l4.4 -2.2l4.5 -2.1l4.5 -2l4.5 -1.9l4.5 -1.7l4.5 -1.6l4.5 -1.5l4.5 -1.4l4.4 -1.2l4.4 -1.1l4.4 -1l4.4 -0.9l4.4 -0.8l4.4 -0.7l4.4 -0.6l4.4 -0.5l4.4 -0.5M634.8 189.1l-3 -5.7l-3 -5.6l-3.1 -5.5l-3.1 -5.4l-3.1 -5.3l-3.1 -5.2l-3.2 -5l-3.2 -4.9l-3.2 -4.7l-3.2 -4.5l-3.3 -4.4l-3.3 -4.2l-3.3 -4l-3.3 -3.8l-3.3 -3.5l-3.3 -3.3l-3.4 -3.1l-3.4 -2.9l-3.4 -2.7l-3.4 -2.5l-3.4 -2.3l-3.4 -2l-3.4 -1.8l-3.4 -1.6l-3.4 -1.5l-3.4 -1.3l-3.4 -1.1l-3.3 -0.9l-3.3 -0.8l-3.3 -0.7l-3.3 -0.5l-3.3 -0.4l-3.3 -0.4l-3.3 -0.3l-3.2 -0.2l-3.2 -0.2M427 160.5l4.3 -2.9l4.3 -3l4.3 -3l4.3 -3.1l4.3 -3.1l4.3 -3.1l4.3 -3.1l4.3 -3.1l4.3 -3.1l4.4 -3.1l4.4 -3l4.4 -3l4.4 -2.9l4.4 -2.8l4.4 -2.7l4.4 -2.6l4.4 -2.5l4.4 -2.4l4.4 -2.3l4.4 -2.2l4.4 -2.1l4.5 -2l4.5 -1.8l4.5 -1.7l4.5 -1.6l4.5 -1.5l4.4 -1.3l4.4 -1.2l4.4 -1.1l4.4 -1l4.4 -0.9l4.4 -0.8l4.4 -0.7l4.4 -0.6l4.4 -0.5l4.4 -0.5M636.1 188.5l-3 -5.7l-3 -5.6l-3.1 -5.5l-3.1 -5.4l-3.1 -5.3l-3.1 -5.2l-3.2 -5l-3.2 -4.9l-3.2 -4.7l-3.2 -4.5l-3.3 -4.3l-3.3 -4.2l-3.3 -3.9l-3.3 -3.7l-3.3 -3.5l-3.3 -3.3l-3.4 -3.1l-3.4 -2.9l-3.4 -2.7l-3.4 -2.5l-3.4 -2.2l-3.4 -2l-3.4 -1.8l-3.4 -1.6l-3.4 -1.4l-3.4 -1.3l-3.4 -1.1l-3.3 -0.9l-3.3 -0.8l-3.3 -0.7l-3.3 -0.5l-3.3 -0.4l-3.3 -0.4l-3.3 -0.3l-3.2 -0.2l-3.2 -0.2M426.2 159.8l4.3 -2.9l4.3 -2.9l4.3 -3l4.3 -3.1l4.3 -3.1l4.3 -3.1l4.3 -3.1l4.3 -3.1l4.3 -3.1l4.4 -3l4.4 -3l4.4 -2.9l4.4 -2.9l4.4 -2.8l4.4 -2.7l4.4 -2.6l4.4 -2.5l4.4 -2.4l4.4 -2.3l4.4 -2.2l4.4 -2.1l4.4 -1.9l4.5 -1.8l4.5 -1.7l4.4 -1.6l4.4 -1.5l4.4 -1.3l4.4 -1.2l4.4 -1.1l4.4 -1l4.4 -0.9l4.4 -0.8l4.4 -0.7l4.4 -0.6l4.4 -0.5l4.4 -0.4M637.4 187.9l-3 -5.7l-3 -5.6l-3.1 -5.5l-3.1 -5.4l-3.1 -5.3l-3.1 -5.2l-3.2 -5l-3.2 -4.9l-3.2 -4.7l-3.2 -4.5l-3.3 -4.3l-3.3 -4.1l-3.3 -3.9l-3.3 -3.7l-3.3 -3.5l-3.4 -3.3l-3.4 -3.1l-3.4 -2.9l-3.4 -2.7l-3.4 -2.4l-3.4 -2.2l-3.4 -2l-3.4 -1.8l-3.4 -1.6l-3.4 -1.4l-3.4 -1.3l-3.4 -1.1l-3.3 -0.9l-3.3 -0.8l-3.3 -0.6l-3.3 -0.5l-3.3 -0.4l-3.3 -0.3l-3.3 -0.3l-3.2 -0.2l-3.2 -0.2M425.4 159.2l4.3 -2.9l4.3 -2.9l4.3 -3l4.3 -3.1l4.3 -3.1l4.3 -3.1l4.3 -3.1l4.3 -3.1l4.3 -3.1l4.3 -3l4.4 -3l4.4 -2.9l4.4 -2.9l4.4 -2.8l4.4 -2.7l4.4 -2.6l4.4 -2.5l4.4 -2.4l4.4 -2.3l4.4 -2.2l4.4 -2.1l4.4 -1.9l4.4 -1.8l4.4 -1.7l4.4 -1.6l4.4 -1.4l4.4 -1.3l4.4 -1.2l4.4 -1.1l4.4 -1l4.4 -0.9l4.4 -0.8l4.4 -0.7l4.4 -0.6l4.4 -0.5l4.4 -0.4M638.6 187.4l-3 -5.7l-3 -5.6l-3.1 -5.5l-3.1 -5.4l-3.1 -5.3l-3.1 -5.2l-3.2 -5l-3.2 -4.9l-3.2 -4.7l-3.2 -4.5l-3.3 -4.3l-3.3 -4.1l-3.3 -3.9l-3.3 -3.7l-3.3 -3.5l-3.4 -3.3l-3.4 -3.1l-3.4 -2.9l-3.4 -2.6l-3.4 -2.4l-3.4 -2.2l-3.4 -2l-3.4 -1.8l-3.4 -1.6l-3.4 -1.4l-3.4 -1.2l-3.4 -1.1l-3.4 -0.9l-3.3 -0.8l-3.3 -0.6l-3.3 -0.5l-3.3 -0.4l-3.3 -0.3l-3.3 -0.3l-3.2 -0.2l-3.2 -0.2M424.5 158.5l4.3 -2.9l4.3 -2.9l4.3 -3l4.3 -3l4.3 -3.1l4.3 -3.1l4.3 -3.1l4.3 -3.1l4.3 -3l4.3 -3l4.4 -3l4.4 -2.9l4.4 -2.8l4.4 -2.8l4.4 -2.7l4.4 -2.6l4.4 -2.5l4.4 -2.4l4.4 -2.3l4.4 -2.2l4.4 -2l4.4 -1.9l4.4 -1.8l4.4 -1.7l4.4 -1.6l4.4 -1.4l4.4 -1.3l4.4 -1.2l4.4 -1.1l4.4 -1l4.4 -0.9l4.4 -0.8l4.4 -0.7l4.4 -0.6l4.4 -0.5l4.4 -0.4M639.9 186.8l-3 -5.7l-3 -5.6l-3.1 -5.5l-3.1 -5.4l-3.1 -5.3l-3.1 -5.2l-3.2 -5l-3.2 -4.9l-3.2 -4.7l-3.2 -4.5l-3.3 -4.3l-3.3 -4.1l-3.3 -3.9l-3.3 -3.7l-3.3 -3.5l-3.4 -3.3l-3.4 -3.1l-3.4 -2.8l-3.4 -2.6l-3.4 -2.4l-3.4 -2.2l-3.4 -2l-3.4 -1.8l-3.4 -1.6l-3.4 -1.4l-3.4 -1.2l-3.4 -1.1l-3.4 -0.9l-3.3 -0.8l-3.3 -0.6l-3.3 -0.5l-3.3 -0.4l-3.3 -0.3l-3.3 -0.3l-3.2 -0.2l-3.2 -0.2M423.7 157.9l4.3 -2.9l4.3 -2.9l4.3 -3l4.3 -3l4.3 -3.1l4.3 -3.1l4.3 -3.1l4.3 -3.1l4.3 -3l4.3 -3l4.4 -2.9l4.4 -2.9l4.4 -2.8l4.4 -2.7l4.4 -2.7l4.4 -2.6l4.4 -2.5l4.4 -2.4l4.4 -2.3l4.4 -2.1l4.4 -2l4.4 -1.9l4.4 -1.8l4.4 -1.7l4.4 -1.5l4.4 -1.4l4.4 -1.3l4.4 -1.2l4.4 -1.1l4.4 -1l4.4 -0.9l4.4 -0.8l4.4 -0.7l4.4 -0.6l4.4 -0.5l4.4 -0.4M641.1 186.2l-3 -5.7l-3 -5.6l-3.1 -5.5l-3.1 -5.4l-3.1 -5.3l-3.1 -5.2l-3.2 -5l-3.2 -4.8l-3.2 -4.7l-3.2 -4.5l-3.3 -4.3l-3.3 -4.1l-3.3 -3.9l-3.3 -3.7l-3.3 -3.5l-3.4 -3.3l-3.4 -3l-3.4 -2.8l-3.4 -2.6l-3.4 -2.4l-3.4 -2.2l-3.4 -2l-3.4 -1.8l-3.4 -1.6l-3.4 -1.4l-3.4 -1.2l-3.4 -1.1l-3.4 -0.9l-3.3 -0.7l-3.3 -0.6l-3.3 -0.5l-3.3 -0.4l-3.3 -0.3l-3.3 -0.3l-3.3 -0.2l-3.2 -0.2M422.9 157.3l4.3 -2.9l4.3 -2.9l4.3 -3l4.3 -3l4.3 -3l4.3 -3.1l4.3 -3.1l4.3 -3l4.3 -3l4.3 -3l4.4 -2.9l4.4 -2.9l4.4 -2.8l4.4 -2.7l4.4 -2.6l4.4 -2.5l4.4 -2.4l4.4 -2.3l4.4 -2.2l4.4 -2.1l4.4 -2l4.4 -1.9l4.4 -1.8l4.4 -1.7l4.4 -1.5l4.4 -1.4l4.4 -1.3l4.4 -1.2l4.4 -1.1l4.4 -1l4.4 -0.8l4.4 -0.7l4.4 -0.6l4.4 -0.6l4.4 -0.5l4.3 -0.4M642.4 185.7l-3 -5.7l-3 -5.6l-3.1 -5.5l-3.1 -5.4l-3.1 -5.3l-3.1 -5.2l-3.2 -5l-3.2 -4.8l-3.2 -4.7l-3.2 -4.5l-3.3 -4.3l-3.3 -4.1l-3.3 -3.9l-3.3 -3.7l-3.3 -3.5l-3.4 -3.2l-3.4 -3l-3.4 -2.8l-3.4 -2.6l-3.4 -2.4l-3.4 -2.2l-3.4 -2l-3.4 -1.8l-3.4 -1.6l-3.4 -1.4l-3.4 -1.2l-3.4 -1l-3.4 -0.9l-3.3 -0.7l-3.3 -0.6l-3.3 -0.5l-3.3 -0.4l-3.3 -0.3l-3.3 -0.2l-3.3 -0.2l-3.2 -0.2M422.1 156.7l4.3 -2.8l4.3 -2.9l4.3 -3l4.3 -3l4.3 -3l4.3 -3l4.3 -3l4.3 -3l4.3 -3l4.3 -3l4.3 -2.9l4.4 -2.9l4.4 -2.8l4.4 -2.7l4.4 -2.6l4.4 -2.5l4.4 -2.4l4.4 -2.3l4.4 -2.2l4.4 -2.1l4.4 -2l4.4 -1.9l4.4 -1.8l4.4 -1.6l4.4 -1.5l4.4 -1.4l4.4 -1.3l4.4 -1.2l4.4 -1.1l4.4 -0.9l4.4 -0.8l4.4 -0.7l4.4 -0.6l4.4 -0.5l4.4 -0.5l4.3 -0.4M643.6 185.2l-3 -5.7l-3 -5.6l-3.1 -5.5l-3.1 -5.4l-3.1 -5.3l-3.1 -5.2l-3.2 -5l-3.2 -4.8l-3.2 -4.7l-3.2 -4.5l-3.3 -4.3l-3.3 -4.1l-3.3 -3.9l-3.3 -3.7l-3.3 -3.4l-3.4 -3.2l-3.4 -3l-3.4 -2.8l-3.4 -2.6l-3.4 -2.4l-3.4 -2.2l-3.4 -2l-3.4 -1.8l-3.4 -1.6l-3.4 -1.4l-3.4 -1.2l-3.4 -1l-3.4 -0.9l-3.4 -0.7l-3.3 -0.6l-3.3 -0.5l-3.3 -0.4l-3.3 -0.3l-3.3 -0.2l-3.3 -0.2l-3.2 -0.2M421.2 156.2l4.3 -2.8l4.3 -2.9l4.3 -3l4.3 -3l4.3 -3l4.3 -3l4.3 -3l4.3 -3l4.3 -3l4.3 -2.9l4.3 -2.9l4.4 -2.8l4.4 -2.8l4.4 -2.7l4.4 -2.6l4.4 -2.5l4.4 -2.4l4.4 -2.3l4.4 -2.2l4.4 -2.1l4.4 -2l4.4 -1.9l4.4 -1.7l4.4 -1.6l4.4 -1.5l4.4 -1.4l4.4 -1.3l4.4 -1.2l4.4 -1l4.4 -0.9l4.4 -0.8l4.4 -0.7l4.4 -0.6l4.4 -0.5l4.4 -0.5l4.3 -0.4M644.9 184.6l-3 -5.7l-3 -5.6l-3.1 -5.5l-3.1 -5.4l-3.1 -5.3l-3.1 -5.2l-3.2 -5l-3.2 -4.8l-3.2 -4.6l-3.2 -4.5l-3.3 -4.3l-3.3 -4.1l-3.3 -3.9l-3.3 -3.7l-3.3 -3.4l-3.4 -3.2l-3.4 -3l-3.4 -2.8l-3.4 -2.6l-3.4 -2.4l-3.4 -2.1l-3.4 -1.9l-3.4 -1.7l-3.4 -1.5l-3.4 -1.4l-3.4 -1.2l-3.4 -1l-3.4 -0.9l-3.4 -0.7l-3.3 -0.6l-3.3 -0.5l-3.3 -0.4l-3.3 -0.3l-3.3 -0.2l-3.3 -0.2l-3.2 -0.2M420.4 155.6l4.3 -2.8l4.3 -2.9l4.3 -3l4.3 -3l4.3 -3l4.3 -3l4.3 -3l4.3 -3l4.3 -3l4.3 -2.9l4.3 -2.9l4.4 -2.8l4.4 -2.7l4.4 -2.7l4.4 -2.6l4.4 -2.5l4.4 -2.4l4.4 -2.3l4.4 -2.2l4.4 -2.1l4.4 -2l4.4 -1.9l4.4 -1.7l4.4 -1.6l4.4 -1.5l4.4 -1.4l4.4 -1.3l4.4 -1.1l4.4 -1l4.4 -0.9l4.4 -0.8l4.4 -0.7l4.4 -0.6l4.4 -0.5l4.4 -0.4l4.3 -0.4M646.1 184.1l-3 -5.7l-3 -5.6l-3.1 -5.5l-3.1 -5.4l-3.1 -5.3l-3.1 -5.1l-3.2 -5l-3.2 -4.8l-3.2 -4.6l-3.2 -4.5l-3.3 -4.3l-3.3 -4.1l-3.3 -3.8l-3.3 -3.6l-3.3 -3.4l-3.4 -3.2l-3.4 -3l-3.4 -2.8l-3.4 -2.6l-3.4 -2.3l-3.4 -2.1l-3.4 -1.9l-3.4 -1.7l-3.4 -1.5l-3.4 -1.3l-3.4 -1.2l-3.4 -1l-3.4 -0.9l-3.4 -0.7l-3.3 -0.6l-3.3 -0.5l-3.3 -0.4l-3.3 -0.3l-3.3 -0.2l-3.3 -0.2l-3.2 -0.1M419.6 155.1l4.3 -2.8l4.3 -2.9l4.3 -2.9l4.3 -3l4.3 -3l4.3 -3l4.3 -3l4.3 -3l4.3 -3l4.3 -2.9l4.3 -2.9l4.3 -2.8l4.4 -2.7l4.4 -2.7l4.4 -2.6l4.4 -2.5l4.4 -2.4l4.4 -2.3l4.4 -2.2l4.4 -2.1l4.4 -2l4.4 -1.8l4.4 -1.7l4.4 -1.6l4.4 -1.5l4.4 -1.4l4.4 -1.3l4.4 -1.1l4.4 -1l4.4 -0.9l4.4 -0.8l4.4 -0.7l4.4 -0.6l4.4 -0.5l4.3 -0.4l4.3 -0.4M647.4 183.6l-3 -5.7l-3 -5.7l-3 -5.5l-3.1 -5.4l-3.1 -5.3l-3.1 -5.1l-3.2 -5l-3.2 -4.8l-3.2 -4.6l-3.2 -4.4l-3.3 -4.2l-3.3 -4l-3.3 -3.8l-3.3 -3.6l-3.3 -3.4l-3.4 -3.2l-3.4 -3l-3.4 -2.8l-3.4 -2.5l-3.4 -2.3l-3.4 -2.1l-3.4 -1.9l-3.4 -1.7l-3.4 -1.5l-3.4 -1.3l-3.4 -1.2l-3.4 -1l-3.4 -0.8l-3.4 -0.7l-3.3 -0.6l-3.3 -0.5l-3.3 -0.4l-3.3 -0.3l-3.3 -0.2l-3.3 -0.2l-3.3 -0.1M418.8 154.5l4.3 -2.8l4.3 -2.9l4.3 -2.9l4.3 -3l4.3 -3l4.3 -3l4.3 -3l4.3 -3l4.3 -2.9l4.3 -2.9l4.3 -2.8l4.3 -2.8l4.4 -2.7l4.4 -2.6l4.4 -2.6l4.4 -2.5l4.4 -2.4l4.4 -2.3l4.4 -2.2l4.4 -2.1l4.4 -1.9l4.4 -1.8l4.4 -1.7l4.4 -1.6l4.4 -1.5l4.4 -1.4l4.4 -1.2l4.4 -1.1l4.4 -1l4.4 -0.9l4.4 -0.8l4.4 -0.7l4.4 -0.6l4.4 -0.5l4.3 -0.4l4.3 -0.3M648.6 183.1l-3 -5.8l-3 -5.7l-3 -5.5l-3.1 -5.4l-3.1 -5.3l-3.1 -5.1l-3.2 -5l-3.2 -4.8l-3.2 -4.6l-3.2 -4.4l-3.3 -4.2l-3.3 -4l-3.3 -3.8l-3.3 -3.6l-3.4 -3.4l-3.4 -3.2l-3.4 -3l-3.4 -2.7l-3.4 -2.5l-3.4 -2.3l-3.4 -2.1l-3.4 -1.9l-3.4 -1.7l-3.4 -1.5l-3.4 -1.3l-3.4 -1.2l-3.4 -1l-3.4 -0.8l-3.4 -0.7l-3.4 -0.6l-3.3 -0.4l-3.3 -0.3l-3.3 -0.3l-3.3 -0.2l-3.3 -0.2l-3.3 -0.1M418 154l4.3 -2.8l4.3 -2.9l4.3 -2.9l4.3 -3l4.3 -3l4.3 -3l4.3 -3l4.3 -3l4.3 -2.9l4.3 -2.9l4.3 -2.8l4.3 -2.8l4.4 -2.7l4.4 -2.6l4.4 -2.5l4.4 -2.4l4.4 -2.4l4.4 -2.3l4.4 -2.1l4.4 -2l4.4 -1.9l4.4 -1.8l4.4 -1.7l4.4 -1.6l4.4 -1.5l4.4 -1.3l4.4 -1.2l4.4 -1.1l4.4 -1l4.4 -0.9l4.4 -0.8l4.4 -0.7l4.4 -0.6l4.4 -0.5l4.3 -0.4l4.3 -0.3M649.9 182.6l-3 -5.8l-3 -5.7l-3 -5.6l-3.1 -5.4l-3.1 -5.3l-3.1 -5.1l-3.2 -5l-3.2 -4.8l-3.2 -4.6l-3.2 -4.4l-3.3 -4.2l-3.3 -4l-3.3 -3.8l-3.3 -3.6l-3.4 -3.4l-3.4 -3.2l-3.4 -2.9l-3.4 -2.7l-3.4 -2.5l-3.4 -2.3l-3.4 -2.1l-3.4 -1.9l-3.4 -1.7l-3.4 -1.5l-3.4 -1.3l-3.4 -1.1l-3.4 -1l-3.4 -0.8l-3.4 -0.7l-3.4 -0.6l-3.3 -0.4l-3.3 -0.3l-3.3 -0.3l-3.3 -0.2l-3.3 -0.1l-3.3 -0.1M417.1 153.5l4.3 -2.8l4.3 -2.9l4.3 -2.9l4.3 -3l4.3 -3l4.3 -3l4.3 -3l4.3 -2.9l4.3 -2.9l4.3 -2.9l4.3 -2.8l4.3 -2.7l4.3 -2.7l4.4 -2.6l4.4 -2.5l4.4 -2.4l4.4 -2.3l4.4 -2.2l4.4 -2.1l4.4 -2l4.4 -1.9l4.4 -1.8l4.4 -1.7l4.4 -1.6l4.4 -1.5l4.4 -1.3l4.4 -1.2l4.4 -1.1l4.4 -1l4.4 -0.9l4.4 -0.8l4.4 -0.7l4.4 -0.6l4.4 -0.5l4.3 -0.4l4.3 -0.3M651.1 182.2l-3 -5.8l-3 -5.7l-3 -5.6l-3.1 -5.4l-3.1 -5.3l-3.1 -5.1l-3.2 -5l-3.2 -4.8l-3.2 -4.6l-3.2 -4.4l-3.3 -4.2l-3.3 -4l-3.3 -3.8l-3.3 -3.6l-3.4 -3.4l-3.4 -3.2l-3.4 -2.9l-3.4 -2.7l-3.4 -2.5l-3.4 -2.3l-3.4 -2.1l-3.4 -1.9l-3.4 -1.7l-3.4 -1.5l-3.4 -1.3l-3.4 -1.1l-3.4 -1l-3.4 -0.8l-3.4 -0.7l-3.4 -0.5l-3.3 -0.4l-3.3 -0.3l-3.3 -0.2l-3.3 -0.2l-3.3 -0.1l-3.3 -0.1M416.3 153l4.3 -2.8l4.3 -2.9l4.3 -2.9l4.3 -2.9l4.3 -3l4.3 -3l4.3 -2.9l4.3 -2.9l4.3 -2.9l4.3 -2.8l4.3 -2.8l4.3 -2.7l4.3 -2.7l4.4 -2.6l4.4 -2.5l4.4 -2.4l4.4 -2.3l4.4 -2.2l4.4 -2.1l4.4 -2l4.4 -1.9l4.4 -1.8l4.4 -1.7l4.4 -1.6l4.4 -1.4l4.4 -1.3l4.4 -1.2l4.4 -1.1l4.4 -1l4.4 -0.9l4.4 -0.8l4.4 -0.7l4.4 -0.6l4.3 -0.5l4.3 -0.4l4.3 -0.3M652.3 181.7l-3 -5.8l-3 -5.7l-3 -5.6l-3.1 -5.4l-3.1 -5.3l-3.1 -5.1l-3.2 -5l-3.2 -4.8l-3.2 -4.6l-3.2 -4.4l-3.3 -4.2l-3.3 -4l-3.3 -3.8l-3.3 -3.6l-3.4 -3.4l-3.4 -3.1l-3.4 -2.9l-3.4 -2.7l-3.4 -2.5l-3.4 -2.3l-3.4 -2.1l-3.4 -1.9l-3.4 -1.7l-3.4 -1.5l-3.4 -1.3l-3.4 -1.1l-3.4 -1l-3.4 -0.8l-3.4 -0.7l-3.4 -0.5l-3.3 -0.4l-3.3 -0.3l-3.3 -0.2l-3.3 -0.2l-3.3 -0.1l-3.3 -0.1M415.5 152.5l4.3 -2.8l4.3 -2.9l4.3 -2.9l4.3 -2.9l4.3 -2.9l4.3 -2.9l4.3 -2.9l4.3 -2.9l4.3 -2.9l4.3 -2.8l4.3 -2.8l4.3 -2.7l4.3 -2.6l4.3 -2.6l4.4 -2.5l4.4 -2.4l4.4 -2.3l4.4 -2.2l4.4 -2.1l4.4 -2l4.4 -1.9l4.4 -1.8l4.4 -1.7l4.4 -1.5l4.4 -1.4l4.4 -1.3l4.4 -1.2l4.4 -1.1l4.4 -1l4.4 -0.9l4.4 -0.8l4.4 -0.7l4.4 -0.6l4.3 -0.5l4.3 -0.4l4.3 -0.3M653.6 181.2l-3 -5.8l-3 -5.7l-3 -5.6l-3.1 -5.4l-3.1 -5.3l-3.1 -5.1l-3.2 -5l-3.2 -4.8l-3.2 -4.6l-3.2 -4.4l-3.3 -4.2l-3.3 -4l-3.3 -3.8l-3.3 -3.6l-3.4 -3.3l-3.4 -3.1l-3.4 -2.9l-3.4 -2.7l-3.4 -2.5l-3.4 -2.3l-3.4 -2.1l-3.4 -1.9l-3.4 -1.7l-3.4 -1.5l-3.4 -1.3l-3.4 -1.1l-3.4 -0.9l-3.4 -0.8l-3.4 -0.7l-3.4 -0.5l-3.4 -0.4l-3.3 -0.3l-3.3 -0.2l-3.3 -0.2l-3.3 -0.1l-3.3 -0.1M414.7 152l4.2 -2.8l4.2 -2.9l4.3 -2.9l4.3 -2.9l4.3 -2.9l4.3 -2.9l4.3 -2.9l4.3 -2.9l4.3 -2.9l4.3 -2.8l4.3 -2.8l4.3 -2.7l4.3 -2.6l4.3 -2.6l4.4 -2.5l4.4 -2.4l4.4 -2.3l4.4 -2.2l4.4 -2.1l4.4 -2l4.4 -1.9l4.4 -1.8l4.4 -1.6l4.4 -1.5l4.4 -1.4l4.4 -1.3l4.4 -1.2l4.4 -1.1l4.4 -1l4.4 -0.9l4.4 -0.8l4.4 -0.7l4.4 -0.6l4.3 -0.5l4.3 -0.4l4.3 -0.3M654.8 180.8l-3 -5.8l-3 -5.7l-3 -5.6l-3.1 -5.4l-3.1 -5.3l-3.1 -5.1l-3.2 -4.9l-3.2 -4.8l-3.2 -4.6l-3.2 -4.4l-3.3 -4.2l-3.3 -4l-3.3 -3.8l-3.3 -3.5l-3.4 -3.3l-3.4 -3.1l-3.4 -2.9l-3.4 -2.7l-3.4 -2.5l-3.4 -2.2l-3.4 -2l-3.4 -1.8l-3.4 -1.6l-3.4 -1.5l-3.4 -1.3l-3.4 -1.1l-3.4 -0.9l-3.4 -0.8l-3.4 -0.6l-3.4 -0.5l-3.4 -0.4l-3.3 -0.3l-3.3 -0.2l-3.3 -0.2l-3.3 -0.1l-3.3 -0.1M413.9 151.6l4.2 -2.8l4.2 -2.9l4.2 -2.9l4.3 -2.9l4.3 -2.9l4.3 -2.9l4.3 -2.9l4.3 -2.9l4.3 -2.8l4.3 -2.8l4.3 -2.7l4.3 -2.7l4.3 -2.6l4.3 -2.5l4.4 -2.5l4.4 -2.4l4.4 -2.3l4.4 -2.2l4.4 -2.1l4.4 -2l4.4 -1.9l4.4 -1.7l4.4 -1.6l4.4 -1.5l4.4 -1.4l4.4 -1.3l4.4 -1.2l4.4 -1.1l4.4 -1l4.4 -0.8l4.4 -0.7l4.4 -0.6l4.3 -0.5l4.3 -0.5l4.3 -0.4l4.3 -0.3M656.1 180.3l-3 -5.8l-3 -5.7l-3 -5.6l-3.1 -5.4l-3.1 -5.3l-3.1 -5.1l-3.2 -4.9l-3.2 -4.8l-3.2 -4.6l-3.2 -4.4l-3.3 -4.2l-3.3 -4l-3.3 -3.8l-3.3 -3.5l-3.4 -3.3l-3.4 -3.1l-3.4 -2.9l-3.4 -2.7l-3.4 -2.4l-3.4 -2.2l-3.4 -2l-3.4 -1.8l-3.4 -1.6l-3.4 -1.4l-3.4 -1.3l-3.4 -1.1l-3.4 -0.9l-3.4 -0.8l-3.4 -0.6l-3.4 -0.5l-3.4 -0.4l-3.3 -0.3l-3.3 -0.2l-3.3 -0.2l-3.3 -0.1l-3.3 -0.1M413.1 151.1l4.2 -2.8l4.2 -2.9l4.2 -2.9l4.2 -2.9l4.3 -2.9l4.3 -2.9l4.3 -2.9l4.3 -2.9l4.3 -2.8l4.3 -2.8l4.3 -2.7l4.3 -2.7l4.3 -2.6l4.3 -2.5l4.3 -2.4l4.4 -2.4l4.4 -2.3l4.4 -2.2l4.4 -2.1l4.4 -2l4.4 -1.8l4.4 -1.7l4.4 -1.6l4.4 -1.5l4.4 -1.4l4.4 -1.3l4.4 -1.2l4.4 -1.1l4.4 -0.9l4.4 -0.8l4.4 -0.7l4.4 -0.6l4.3 -0.5l4.3 -0.4l4.3 -0.4l4.3 -0.3M657.3 179.9l-3 -5.8l-3 -5.7l-3 -5.6l-3.1 -5.4l-3.1 -5.3l-3.1 -5.1l-3.2 -4.9l-3.2 -4.8l-3.2 -4.6l-3.2 -4.4l-3.3 -4.2l-3.3 -4l-3.3 -3.7l-3.3 -3.5l-3.4 -3.3l-3.4 -3.1l-3.4 -2.9l-3.4 -2.7l-3.4 -2.4l-3.4 -2.2l-3.4 -2l-3.4 -1.8l-3.4 -1.6l-3.4 -1.4l-3.4 -1.2l-3.4 -1.1l-3.4 -0.9l-3.4 -0.8l-3.4 -0.6l-3.4 -0.5l-3.4 -0.4l-3.3 -0.3l-3.3 -0.2l-3.3 -0.1l-3.3 -0.1l-3.3 -0.1M412.3 150.7l4.2 -2.8l4.2 -2.9l4.2 -2.9l4.2 -2.9l4.3 -2.9l4.3 -2.9l4.3 -2.9l4.3 -2.9l4.3 -2.8l4.3 -2.8l4.3 -2.7l4.3 -2.7l4.3 -2.6l4.3 -2.5l4.3 -2.4l4.4 -2.3l4.4 -2.2l4.4 -2.1l4.4 -2l4.4 -1.9l4.4 -1.8l4.4 -1.7l4.4 -1.6l4.4 -1.5l4.4 -1.4l4.4 -1.3l4.4 -1.2l4.4 -1l4.4 -0.9l4.4 -0.8l4.4 -0.7l4.4 -0.6l4.3 -0.5l4.3 -0.4l4.3 -0.3l4.3 -0.3M658.5 179.5l-3 -5.8l-3 -5.7l-3 -5.6l-3.1 -5.4l-3.1 -5.3l-3.1 -5.1l-3.2 -4.9l-3.2 -4.7l-3.2 -4.6l-3.2 -4.4l-3.3 -4.2l-3.3 -3.9l-3.3 -3.7l-3.3 -3.5l-3.4 -3.3l-3.4 -3.1l-3.4 -2.9l-3.4 -2.6l-3.4 -2.4l-3.4 -2.2l-3.4 -2l-3.4 -1.8l-3.4 -1.6l-3.4 -1.4l-3.4 -1.2l-3.4 -1.1l-3.4 -0.9l-3.4 -0.8l-3.4 -0.6l-3.4 -0.5l-3.4 -0.4l-3.3 -0.3l-3.3 -0.2l-3.3 -0.1l-3.3 -0.1l-3.3 -0.1M411.5 150.2l4.2 -2.8l4.2 -2.9l4.2 -2.9l4.2 -2.9l4.2 -2.9l4.3 -2.9l4.3 -2.9l4.3 -2.8l4.3 -2.8l4.3 -2.8l4.3 -2.7l4.3 -2.6l4.3 -2.6l4.3 -2.5l4.3 -2.4l4.3 -2.3l4.4 -2.2l4.4 -2.1l4.4 -2l4.4 -1.9l4.4 -1.8l4.4 -1.7l4.4 -1.6l4.4 -1.5l4.4 -1.4l4.4 -1.3l4.4 -1.2l4.4 -1l4.4 -0.9l4.4 -0.8l4.4 -0.7l4.3 -0.6l4.3 -0.5l4.3 -0.4l4.3 -0.3l4.3 -0.3M659.8 179l-2.9 -5.8l-3 -5.7l-3 -5.6l-3.1 -5.4l-3.1 -5.3l-3.1 -5.1l-3.2 -4.9l-3.2 -4.7l-3.2 -4.5l-3.2 -4.3l-3.3 -4.1l-3.3 -3.9l-3.3 -3.7l-3.3 -3.5l-3.4 -3.3l-3.4 -3.1l-3.4 -2.8l-3.4 -2.6l-3.4 -2.4l-3.4 -2.2l-3.4 -2l-3.4 -1.8l-3.4 -1.6l-3.4 -1.4l-3.4 -1.2l-3.4 -1.1l-3.4 -0.9l-3.4 -0.7l-3.4 -0.6l-3.4 -0.5l-3.4 -0.4l-3.4 -0.3l-3.3 -0.2l-3.3 -0.1l-3.3 -0.1l-3.3 -0.1M410.7 149.8l4.2 -2.8l4.2 -2.8l4.2 -2.9l4.2 -2.9l4.2 -2.9l4.3 -2.9l4.3 -2.9l4.3 -2.8l4.3 -2.8l4.3 -2.7l4.3 -2.7l4.3 -2.6l4.3 -2.5l4.3 -2.5l4.3 -2.4l4.3 -2.3l4.4 -2.2l4.4 -2.1l4.4 -2l4.4 -1.9l4.4 -1.8l4.4 -1.7l4.4 -1.6l4.4 -1.5l4.4 -1.4l4.4 -1.3l4.4 -1.1l4.4 -1l4.4 -0.9l4.4 -0.8l4.4 -0.7l4.3 -0.6l4.3 -0.5l4.3 -0.4l4.3 -0.3l4.3 -0.2M661 178.6l-2.9 -5.8l-3 -5.7l-3 -5.6l-3.1 -5.4l-3.1 -5.3l-3.1 -5.1l-3.2 -4.9l-3.2 -4.7l-3.2 -4.5l-3.2 -4.3l-3.3 -4.1l-3.3 -3.9l-3.3 -3.7l-3.3 -3.5l-3.4 -3.3l-3.4 -3l-3.4 -2.8l-3.4 -2.6l-3.4 -2.4l-3.4 -2.2l-3.4 -2l-3.4 -1.8l-3.4 -1.6l-3.4 -1.4l-3.4 -1.2l-3.4 -1l-3.4 -0.9l-3.4 -0.7l-3.4 -0.6l-3.4 -0.5l-3.4 -0.4l-3.4 -0.3l-3.3 -0.2l-3.3 -0.1l-3.3 -0.1l-3.3 0M409.9 149.4l4.2 -2.8l4.2 -2.8l4.2 -2.9l4.2 -2.9l4.2 -2.9l4.2 -2.9l4.3 -2.8l4.3 -2.8l4.3 -2.8l4.3 -2.7l4.3 -2.7l4.3 -2.6l4.3 -2.5l4.3 -2.5l4.3 -2.4l4.3 -2.3l4.3 -2.2l4.4 -2.1l4.4 -2l4.4 -1.9l4.4 -1.8l4.4 -1.7l4.4 -1.6l4.4 -1.5l4.4 -1.4l4.4 -1.2l4.4 -1.1l4.4 -1l4.4 -0.9l4.4 -0.8l4.4 -0.7l4.3 -0.6l4.3 -0.5l4.3 -0.4l4.3 -0.3l4.3 -0.2M662.2 178.2l-2.9 -5.8l-3 -5.7l-3 -5.6l-3 -5.4l-3.1 -5.3l-3.1 -5.1l-3.2 -4.9l-3.2 -4.7l-3.2 -4.5l-3.2 -4.3l-3.3 -4.1l-3.3 -3.9l-3.3 -3.7l-3.3 -3.5l-3.4 -3.3l-3.4 -3l-3.4 -2.8l-3.4 -2.6l-3.4 -2.4l-3.4 -2.2l-3.4 -2l-3.4 -1.8l-3.4 -1.6l-3.4 -1.4l-3.4 -1.2l-3.4 -1l-3.4 -0.9l-3.4 -0.7l-3.4 -0.6l-3.4 -0.5l-3.4 -0.3l-3.4 -0.3l-3.3 -0.2l-3.3 -0.1l-3.3 -0.1l-3.3 0M409.1 149l4.2 -2.8l4.2 -2.8l4.2 -2.9l4.2 -2.9l4.2 -2.9l4.2 -2.9l4.3 -2.8l4.3 -2.8l4.3 -2.8l4.3 -2.7l4.3 -2.7l4.3 -2.6l4.3 -2.5l4.3 -2.4l4.3 -2.4l4.3 -2.3l4.3 -2.2l4.4 -2.1l4.4 -2l4.4 -1.9l4.4 -1.8l4.4 -1.7l4.4 -1.6l4.4 -1.5l4.4 -1.3l4.4 -1.2l4.4 -1.1l4.4 -1l4.4 -0.9l4.4 -0.8l4.3 -0.7l4.3 -0.6l4.3 -0.5l4.3 -0.4l4.3 -0.3l4.3 -0.2M663.4 177.8l-2.9 -5.9l-3 -5.7l-3 -5.6l-3 -5.4l-3.1 -5.3l-3.1 -5.1l-3.2 -4.9l-3.2 -4.7l-3.2 -4.5l-3.2 -4.3l-3.3 -4.1l-3.3 -3.9l-3.3 -3.7l-3.3 -3.5l-3.4 -3.2l-3.4 -3l-3.4 -2.8l-3.4 -2.6l-3.4 -2.4l-3.4 -2.2l-3.4 -1.9l-3.4 -1.7l-3.4 -1.6l-3.4 -1.4l-3.4 -1.2l-3.4 -1l-3.4 -0.9l-3.4 -0.7l-3.4 -0.6l-3.4 -0.4l-3.4 -0.3l-3.4 -0.2l-3.3 -0.2l-3.3 -0.1l-3.3 -0.1l-3.3 0M408.3 148.5l4.2 -2.8l4.2 -2.8l4.2 -2.9l4.2 -2.9l4.2 -2.9l4.2 -2.8l4.2 -2.8l4.3 -2.8l4.3 -2.7l4.3 -2.7l4.3 -2.6l4.3 -2.6l4.3 -2.5l4.3 -2.4l4.3 -2.3l4.3 -2.3l4.3 -2.2l4.3 -2.1l4.4 -2l4.4 -1.9l4.4 -1.8l4.4 -1.7l4.4 -1.6l4.4 -1.4l4.4 -1.3l4.4 -1.2l4.4 -1.1l4.4 -1l4.4 -0.9l4.4 -0.8l4.3 -0.7l4.3 -0.6l4.3 -0.5l4.3 -0.4l4.3 -0.3l4.3 -0.2M664.7 177.4l-2.9 -5.9l-3 -5.7l-3 -5.6l-3 -5.4l-3.1 -5.3l-3.1 -5.1l-3.2 -4.9l-3.2 -4.7l-3.2 -4.5l-3.2 -4.3l-3.3 -4.1l-3.3 -3.9l-3.3 -3.7l-3.3 -3.4l-3.4 -3.2l-3.4 -3l-3.4 -2.8l-3.4 -2.6l-3.4 -2.4l-3.4 -2.1l-3.4 -1.9l-3.4 -1.7l-3.4 -1.5l-3.4 -1.4l-3.4 -1.2l-3.4 -1l-3.4 -0.8l-3.4 -0.7l-3.4 -0.6l-3.4 -0.4l-3.4 -0.3l-3.4 -0.2l-3.3 -0.2l-3.3 -0.1l-3.3 -0.1l-3.3 0M407.5 148.1l4.2 -2.8l4.2 -2.8l4.2 -2.8l4.2 -2.9l4.2 -2.8l4.2 -2.8l4.2 -2.8l4.3 -2.8l4.3 -2.7l4.3 -2.7l4.3 -2.6l4.3 -2.6l4.3 -2.5l4.3 -2.4l4.3 -2.3l4.3 -2.2l4.3 -2.2l4.3 -2.1l4.3 -2l4.4 -1.9l4.4 -1.8l4.4 -1.6l4.4 -1.5l4.4 -1.4l4.4 -1.3l4.4 -1.2l4.4 -1.1l4.4 -1l4.4 -0.9l4.3 -0.8l4.3 -0.7l4.3 -0.6l4.3 -0.5l4.3 -0.4l4.3 -0.3l4.3 -0.2M665.9 177l-2.9 -5.9l-3 -5.7l-3 -5.6l-3 -5.4l-3.1 -5.3l-3.1 -5.1l-3.1 -4.9l-3.2 -4.7l-3.2 -4.5l-3.2 -4.3l-3.3 -4.1l-3.3 -3.9l-3.3 -3.7l-3.3 -3.4l-3.4 -3.2l-3.4 -3l-3.4 -2.8l-3.4 -2.6l-3.4 -2.3l-3.4 -2.1l-3.4 -1.9l-3.4 -1.7l-3.4 -1.5l-3.4 -1.3l-3.4 -1.2l-3.4 -1l-3.4 -0.8l-3.4 -0.7l-3.4 -0.6l-3.4 -0.4l-3.4 -0.3l-3.4 -0.2l-3.4 -0.1l-3.3 -0.1l-3.3 0l-3.3 0M406.7 147.7l4.2 -2.8l4.2 -2.8l4.2 -2.8l4.2 -2.8l4.2 -2.8l4.2 -2.8l4.2 -2.8l4.3 -2.8l4.3 -2.7l4.3 -2.7l4.3 -2.6l4.3 -2.5l4.3 -2.5l4.3 -2.4l4.3 -2.3l4.3 -2.2l4.3 -2.1l4.3 -2l4.3 -1.9l4.3 -1.8l4.4 -1.7l4.4 -1.6l4.4 -1.5l4.4 -1.4l4.4 -1.3l4.4 -1.2l4.4 -1.1l4.4 -1l4.3 -0.9l4.3 -0.8l4.3 -0.7l4.3 -0.6l4.3 -0.5l4.3 -0.4l4.3 -0.3l4.3 -0.2M667.1 176.6l-2.9 -5.9l-3 -5.7l-3 -5.6l-3 -5.4l-3.1 -5.3l-3.1 -5.1l-3.1 -4.9l-3.2 -4.7l-3.2 -4.5l-3.2 -4.3l-3.3 -4.1l-3.3 -3.9l-3.3 -3.6l-3.4 -3.4l-3.4 -3.2l-3.4 -3l-3.4 -2.8l-3.4 -2.5l-3.4 -2.3l-3.4 -2.1l-3.4 -1.9l-3.4 -1.7l-3.5 -1.5l-3.4 -1.3l-3.4 -1.1l-3.4 -1l-3.4 -0.8l-3.4 -0.7l-3.4 -0.5l-3.4 -0.4l-3.4 -0.3l-3.4 -0.2l-3.4 -0.1l-3.3 -0.1l-3.3 0l-3.3 0M405.9 147.3l4.2 -2.8l4.2 -2.8l4.2 -2.8l4.2 -2.8l4.2 -2.8l4.2 -2.8l4.2 -2.8l4.2 -2.7l4.3 -2.7l4.3 -2.6l4.3 -2.6l4.3 -2.5l4.3 -2.5l4.3 -2.4l4.3 -2.3l4.3 -2.2l4.3 -2.1l4.3 -2l4.3 -1.9l4.3 -1.8l4.4 -1.7l4.4 -1.6l4.4 -1.5l4.4 -1.4l4.4 -1.3l4.4 -1.2l4.4 -1.1l4.4 -1l4.3 -0.9l4.3 -0.8l4.3 -0.7l4.3 -0.6l4.3 -0.5l4.3 -0.4l4.3 -0.3l4.3 -0.2M668.4 176.2l-2.9 -5.9l-3 -5.7l-3 -5.6l-3 -5.4l-3.1 -5.3l-3.1 -5.1l-3.1 -4.9l-3.2 -4.7l-3.2 -4.5l-3.2 -4.3l-3.3 -4.1l-3.3 -3.8l-3.3 -3.6l-3.4 -3.4l-3.4 -3.2l-3.4 -3l-3.4 -2.7l-3.4 -2.5l-3.4 -2.3l-3.4 -2.1l-3.4 -1.9l-3.5 -1.7l-3.5 -1.5l-3.5 -1.3l-3.4 -1.1l-3.4 -1l-3.4 -0.8l-3.4 -0.7l-3.4 -0.5l-3.4 -0.4l-3.4 -0.3l-3.4 -0.2l-3.4 -0.1l-3.3 -0.1l-3.3 0l-3.3 0M405.1 147l4.2 -2.8l4.2 -2.8l4.2 -2.8l4.2 -2.8l4.2 -2.8l4.2 -2.8l4.2 -2.8l4.2 -2.7l4.3 -2.7l4.3 -2.6l4.3 -2.6l4.3 -2.5l4.3 -2.4l4.3 -2.4l4.3 -2.3l4.3 -2.2l4.3 -2.1l4.3 -2l4.3 -1.9l4.3 -1.8l4.3 -1.7l4.3 -1.6l4.4 -1.5l4.4 -1.4l4.4 -1.3l4.4 -1.2l4.4 -1.1l4.3 -1l4.3 -0.9l4.3 -0.8l4.3 -0.7l4.3 -0.6l4.3 -0.5l4.3 -0.4l4.3 -0.3l4.3 -0.2M669.6 175.8l-2.9 -5.9l-3 -5.7l-3 -5.6l-3 -5.4l-3.1 -5.3l-3.1 -5.1l-3.1 -4.9l-3.2 -4.7l-3.2 -4.5l-3.2 -4.3l-3.3 -4l-3.3 -3.8l-3.3 -3.6l-3.4 -3.4l-3.4 -3.2l-3.4 -2.9l-3.4 -2.7l-3.4 -2.5l-3.4 -2.3l-3.4 -2.1l-3.5 -1.9l-3.5 -1.7l-3.5 -1.5l-3.5 -1.3l-3.5 -1.1l-3.4 -1l-3.4 -0.8l-3.4 -0.7l-3.4 -0.5l-3.4 -0.4l-3.4 -0.3l-3.4 -0.2l-3.4 -0.1l-3.3 -0.1l-3.3 0l-3.3 0M404.3 146.6l4.2 -2.8l4.2 -2.8l4.2 -2.8l4.2 -2.8l4.2 -2.8l4.2 -2.8l4.2 -2.8l4.2 -2.7l4.3 -2.7l4.3 -2.6l4.3 -2.6l4.3 -2.5l4.3 -2.4l4.3 -2.3l4.3 -2.3l4.3 -2.2l4.3 -2.1l4.3 -2l4.3 -1.9l4.3 -1.8l4.3 -1.7l4.3 -1.6l4.3 -1.5l4.3 -1.4l4.3 -1.3l4.3 -1.2l4.3 -1.1l4.3 -1l4.3 -0.9l4.3 -0.8l4.3 -0.6l4.3 -0.5l4.3 -0.4l4.3 -0.3l4.3 -0.3l4.3 -0.2M670.8 175.4l-2.9 -5.9l-3 -5.8l-3 -5.6l-3 -5.4l-3.1 -5.2l-3.1 -5.1l-3.1 -4.9l-3.2 -4.7l-3.2 -4.5l-3.2 -4.3l-3.3 -4l-3.3 -3.8l-3.3 -3.6l-3.4 -3.4l-3.4 -3.2l-3.4 -2.9l-3.4 -2.7l-3.4 -2.5l-3.4 -2.3l-3.4 -2.1l-3.5 -1.9l-3.5 -1.7l-3.5 -1.5l-3.5 -1.3l-3.5 -1.1l-3.4 -0.9l-3.4 -0.8l-3.4 -0.6l-3.4 -0.5l-3.4 -0.4l-3.4 -0.3l-3.4 -0.2l-3.4 -0.1l-3.3 -0.1l-3.3 0l-3.3 0M403.5 146.2l4.2 -2.8l4.2 -2.8l4.2 -2.8l4.2 -2.8l4.2 -2.8l4.2 -2.8l4.2 -2.7l4.2 -2.7l4.2 -2.7l4.3 -2.6l4.3 -2.5l4.3 -2.5l4.3 -2.4l4.3 -2.3l4.3 -2.3l4.3 -2.2l4.3 -2.1l4.3 -2l4.3 -1.9l4.3 -1.8l4.3 -1.7l4.3 -1.6l4.3 -1.5l4.3 -1.4l4.3 -1.3l4.3 -1.2l4.3 -1.1l4.3 -1l4.3 -0.8l4.3 -0.7l4.3 -0.6l4.3 -0.5l4.3 -0.4l4.3 -0.3l4.3 -0.2l4.3 -0.2M672 175l-2.9 -5.9l-2.9 -5.8l-3 -5.6l-3 -5.4l-3.1 -5.2l-3.1 -5.1l-3.1 -4.9l-3.2 -4.7l-3.2 -4.5l-3.2 -4.2l-3.3 -4l-3.3 -3.8l-3.3 -3.6l-3.4 -3.4l-3.4 -3.1l-3.4 -2.9l-3.4 -2.7l-3.4 -2.5l-3.4 -2.3l-3.4 -2.1l-3.5 -1.9l-3.5 -1.7l-3.5 -1.5l-3.5 -1.3l-3.5 -1.1l-3.5 -0.9l-3.4 -0.8l-3.4 -0.6l-3.4 -0.5l-3.4 -0.4l-3.4 -0.3l-3.4 -0.2l-3.4 -0.1l-3.3 0l-3.3 0l-3.3 0M402.7 145.8l4.2 -2.8l4.2 -2.8l4.2 -2.8l4.2 -2.8l4.2 -2.8l4.2 -2.8l4.2 -2.7l4.2 -2.7l4.2 -2.6l4.3 -2.6l4.3 -2.5l4.3 -2.5l4.3 -2.4l4.3 -2.3l4.3 -2.2l4.3 -2.2l4.3 -2.1l4.3 -2l4.3 -1.9l4.3 -1.8l4.3 -1.7l4.3 -1.6l4.3 -1.5l4.3 -1.4l4.3 -1.3l4.3 -1.2l4.3 -1.1l4.3 -0.9l4.3 -0.8l4.3 -0.7l4.3 -0.6l4.3 -0.5l4.3 -0.4l4.3 -0.3l4.3 -0.2l4.3 -0.1M673.2 174.6l-2.9 -5.9l-2.9 -5.8l-3 -5.6l-3 -5.4l-3.1 -5.2l-3.1 -5.1l-3.1 -4.9l-3.2 -4.7l-3.2 -4.4l-3.2 -4.2l-3.3 -4l-3.3 -3.8l-3.3 -3.6l-3.4 -3.3l-3.4 -3.1l-3.4 -2.9l-3.4 -2.7l-3.4 -2.5l-3.4 -2.3l-3.5 -2l-3.5 -1.8l-3.5 -1.6l-3.5 -1.4l-3.5 -1.3l-3.5 -1.1l-3.5 -0.9l-3.4 -0.8l-3.4 -0.6l-3.4 -0.5l-3.4 -0.4l-3.4 -0.3l-3.4 -0.2l-3.4 -0.1l-3.3 0l-3.3 0l-3.3 0M401.9 145.4l4.2 -2.8l4.2 -2.8l4.2 -2.8l4.2 -2.8l4.2 -2.8l4.2 -2.7l4.2 -2.7l4.2 -2.7l4.2 -2.6l4.3 -2.6l4.3 -2.5l4.3 -2.4l4.3 -2.4l4.3 -2.3l4.3 -2.2l4.3 -2.1l4.3 -2.1l4.3 -2l4.3 -1.9l4.3 -1.8l4.3 -1.7l4.3 -1.6l4.3 -1.5l4.3 -1.4l4.3 -1.3l4.3 -1.1l4.3 -1l4.3 -0.9l4.3 -0.8l4.3 -0.7l4.3 -0.6l4.3 -0.5l4.3 -0.4l4.3 -0.3l4.3 -0.2l4.3 -0.1M674.5 174.2l-2.9 -5.9l-2.9 -5.8l-3 -5.6l-3 -5.4l-3.1 -5.2l-3.1 -5l-3.1 -4.8l-3.2 -4.6l-3.2 -4.4l-3.2 -4.2l-3.3 -4l-3.3 -3.8l-3.3 -3.6l-3.4 -3.3l-3.4 -3.1l-3.4 -2.9l-3.4 -2.7l-3.4 -2.5l-3.4 -2.2l-3.5 -2l-3.5 -1.8l-3.5 -1.6l-3.5 -1.4l-3.5 -1.2l-3.5 -1.1l-3.5 -0.9l-3.5 -0.8l-3.4 -0.6l-3.4 -0.5l-3.4 -0.4l-3.4 -0.2l-3.4 -0.2l-3.4 -0.1l-3.4 0l-3.3 0l-3.3 0M401.1 145.1l4.2 -2.8l4.2 -2.8l4.2 -2.8l4.2 -2.8l4.2 -2.8l4.2 -2.7l4.2 -2.7l4.2 -2.7l4.2 -2.6l4.2 -2.6l4.3 -2.5l4.3 -2.4l4.3 -2.4l4.3 -2.3l4.3 -2.2l4.3 -2.1l4.3 -2l4.3 -1.9l4.3 -1.9l4.3 -1.8l4.3 -1.7l4.3 -1.6l4.3 -1.5l4.3 -1.3l4.3 -1.2l4.3 -1.1l4.3 -1l4.3 -0.9l4.3 -0.8l4.3 -0.7l4.3 -0.6l4.3 -0.5l4.3 -0.4l4.3 -0.3l4.3 -0.2l4.3 -0.1"/><path class="bdR" d="M674.5 174.2l-2.9 -5.9l-2.9 -5.8l-3 -5.6l-3 -5.4l-3.1 -5.2l-3.1 -5l-3.1 -4.8l-3.2 -4.6l-3.2 -4.4l-3.2 -4.2l-3.3 -4l-3.3 -3.8l-3.3 -3.6l-3.4 -3.3l-3.4 -3.1l-3.4 -2.9l-3.4 -2.7l-3.4 -2.5l-3.4 -2.2l-3.5 -2l-3.5 -1.8l-3.5 -1.6l-3.5 -1.4l-3.5 -1.2l-3.5 -1.1l-3.5 -0.9l-3.5 -0.8l-3.4 -0.6l-3.4 -0.5l-3.4 -0.4l-3.4 -0.2l-3.4 -0.2l-3.4 -0.1l-3.4 0l-3.3 0l-3.3 0M401.1 145.1l4.2 -2.8l4.2 -2.8l4.2 -2.8l4.2 -2.8l4.2 -2.8l4.2 -2.7l4.2 -2.7l4.2 -2.7l4.2 -2.6l4.2 -2.6l4.3 -2.5l4.3 -2.4l4.3 -2.4l4.3 -2.3l4.3 -2.2l4.3 -2.1l4.3 -2l4.3 -1.9l4.3 -1.9l4.3 -1.8l4.3 -1.7l4.3 -1.6l4.3 -1.5l4.3 -1.3l4.3 -1.2l4.3 -1.1l4.3 -1l4.3 -0.9l4.3 -0.8l4.3 -0.7l4.3 -0.6l4.3 -0.5l4.3 -0.4l4.3 -0.3l4.3 -0.2l4.3 -0.1"/><path class="fdR" d="M401.1 145.1l3.8 -2.5l3.8 -2.5l3.8 -2.5l3.8 -2.5l3.8 -2.5l3.8 -2.5l3.8 -2.5l3.8 -2.4l3.8 -2.4l3.8 -2.3l3.8 -2.3l3.8 -2.3l3.8 -2.2l3.8 -2.1l3.9 -2.1l3.9 -2l3.9 -2l3.9 -1.9l3.9 -1.8l3.9 -1.7l3.9 -1.7l3.9 -1.6l3.9 -1.5l3.9 -1.4l3.9 -1.3l3.9 -1.3l3.9 -1.2l3.9 -1.1l3.9 -1l3.9 -0.9l3.9 -0.8l3.9 -0.8l3.9 -0.7l3.9 -0.6l3.9 -0.5l3.9 -0.4l3.9 -0.3l3.9 -0.3l3.9 -0.2l3.8 -0.1l0 10l-3.8 0.1l-3.9 0.2l-3.9 0.3l-3.9 0.3l-3.9 0.7l-3.9 0.8l-3.9 0.8l-3.9 0.9l-3.9 1l-3.9 1.1l-3.9 1.2l-3.9 1.3l-3.9 1.2l-3.9 1.3l-3.9 1.4l-3.9 1.5l-3.9 1.6l-3.9 1.6l-3.9 1.7l-3.9 1.8l-3.9 1.5l-3.9 1.6l-3.9 1.6l-3.9 1.7l-3.9 1.8l-3.9 1.8l-3.8 1.9l-3.8 2l-3.8 1.6l-3.8 1.7l-3.8 1.7l-3.8 1.8l-3.8 1.8l-3.8 1.8l-3.8 1.9l-3.8 1.9l-3.8 1.8l-3.8 1.8l-3.8 1.8l-3.8 1.8zM674.5 174.2l-2.6 -5.3l-2.6 -5.2l-2.7 -5.1l-2.7 -4.9l-2.7 -4.8l-2.8 -4.6l-2.8 -4.5l-2.8 -4.3l-2.9 -4.2l-2.9 -4l-2.9 -3.8l-2.9 -3.6l-3 -3.5l-3 -3.3l-3 -3.1l-3 -2.9l-3 -2.7l-3.1 -2.6l-3.1 -2.4l-3.1 -2.2l-3.1 -2l-3.1 -1.9l-3.1 -1.7l-3.1 -1.5l-3.1 -1.4l-3.1 -1.2l-3.1 -1.1l-3.1 -0.9l-3.1 -0.8l-3.1 -0.7l-3.1 -0.6l-3.1 -0.4l-3.1 -0.3l-3.1 -0.3l-3.1 -0.2l-3 -0.1l-3 -0.1l-3 0l-3 0l-3 0l0 10l3 0l3 0l3 0l3 0.1l3 0l3.1 -0.1l3.1 0l3.1 0.1l3.1 0.2l3.1 0.3l3.1 0.4l3.1 0.6l3.1 0.7l3.1 0.8l3.1 1l3.1 1.1l3.1 1.3l3.1 1.1l3.1 1.2l3.1 1.4l3.1 1.6l3.1 1.7l3.1 2.1l3 2.2l3 2.4l3 2.6l3 2.9l3 3.1l2.9 3.3l2.9 3.5l2.9 3.9l2.9 4.1l2.8 4.3l2.8 4.4l2.8 4.6l2.7 4.7l2.7 4.9l2.7 5l2.6 5.2l2.6 5.3z"/><path class="fdR" d="M401.1 145.1l3.8 -2.5l3.8 -2.5l3.8 -2.5l3.8 -2.5l3.8 -2.5l3.8 -2.5l3.8 -2.5l3.8 -2.4l3.8 -2.4l3.8 -2.3l3.8 -2.3l3.8 -2.3l3.8 -2.2l3.8 -2.1l3.9 -2.1l3.9 -2l3.9 -2l3.9 -1.9l3.9 -1.8l3.9 -1.7l3.9 -1.7l3.9 -1.6l3.9 -1.5l3.9 -1.4l3.9 -1.3l3.9 -1.3l3.9 -1.2l3.9 -1.1l3.9 -1l3.9 -0.9l3.9 -0.8l3.9 -0.8l3.9 -0.7l3.9 -0.6l3.9 -0.5l3.9 -0.4l3.9 -0.3l3.9 -0.3l3.9 -0.2l3.8 -0.1l0 16l-3.8 0.1l-3.9 0.2l-3.9 0.3l-3.9 0.3l-3.9 0.8l-3.9 0.9l-3.9 1l-3.9 1.1l-3.9 1.2l-3.9 1.2l-3.9 1.3l-3.9 1.4l-3.9 1.3l-3.9 1.4l-3.9 1.5l-3.9 1.5l-3.9 1.6l-3.9 1.7l-3.9 1.8l-3.9 1.9l-3.9 1.3l-3.9 1.4l-3.9 1.5l-3.9 1.6l-3.9 1.6l-3.9 1.7l-3.8 1.7l-3.8 1.8l-3.8 1.3l-3.8 1.3l-3.8 1.3l-3.8 1.4l-3.8 1.4l-3.8 1.5l-3.8 1.5l-3.8 1.5l-3.8 1.3l-3.8 1.3l-3.8 1.3l-3.8 1.3zM674.5 174.2l-2.6 -5.3l-2.6 -5.2l-2.7 -5.1l-2.7 -4.9l-2.7 -4.8l-2.8 -4.6l-2.8 -4.5l-2.8 -4.3l-2.9 -4.2l-2.9 -4l-2.9 -3.8l-2.9 -3.6l-3 -3.5l-3 -3.3l-3 -3.1l-3 -2.9l-3 -2.7l-3.1 -2.6l-3.1 -2.4l-3.1 -2.2l-3.1 -2l-3.1 -1.9l-3.1 -1.7l-3.1 -1.5l-3.1 -1.4l-3.1 -1.2l-3.1 -1.1l-3.1 -0.9l-3.1 -0.8l-3.1 -0.7l-3.1 -0.6l-3.1 -0.4l-3.1 -0.3l-3.1 -0.3l-3.1 -0.2l-3 -0.1l-3 -0.1l-3 0l-3 0l-3 0l0 16l3 0l3 0l3 0l3 0.1l3 -0.1l3.1 -0.2l3.1 -0.1l3.1 0l3.1 0.1l3.1 0.2l3.1 0.3l3.1 0.4l3.1 0.6l3.1 0.7l3.1 0.8l3.1 1l3.1 1.1l3.1 0.8l3.1 0.9l3.1 1l3.1 1.2l3.1 1.4l3.1 1.8l3 1.9l3 2.1l3 2.3l3 2.7l3 2.9l2.9 3.1l2.9 3.2l2.9 3.9l2.9 4.1l2.8 4.2l2.8 4.4l2.8 4.5l2.7 4.7l2.7 4.8l2.7 5l2.6 5.1l2.6 5.2z"/><path class="bnR" d="M401.1 145.1l3.8 -2.5l3.8 -2.5l3.8 -2.5l3.8 -2.5l3.8 -2.5l3.8 -2.5l3.8 -2.5l3.8 -2.4l3.8 -2.4l3.8 -2.3l3.8 -2.3l3.8 -2.3l3.8 -2.2l3.8 -2.1l3.9 -2.1l3.9 -2l3.9 -2l3.9 -1.9l3.9 -1.8l3.9 -1.7l3.9 -1.7l3.9 -1.6l3.9 -1.5l3.9 -1.4l3.9 -1.3l3.9 -1.3l3.9 -1.2l3.9 -1.1l3.9 -1l3.9 -0.9l3.9 -0.8l3.9 -0.8l3.9 -0.7l3.9 -0.6l3.9 -0.5l3.9 -0.4l3.9 -0.3l3.9 -0.3l3.9 -0.2l3.8 -0.1l0 5l-3.8 0.1l-3.9 0.2l-3.9 0.3l-3.9 0.3l-3.9 0.5l-3.9 0.6l-3.9 0.7l-3.9 0.8l-3.9 0.9l-3.9 1l-3.9 1.1l-3.9 1.1l-3.9 1.2l-3.9 1.2l-3.9 1.3l-3.9 1.4l-3.9 1.5l-3.9 1.6l-3.9 1.7l-3.9 1.7l-3.9 1.6l-3.9 1.7l-3.9 1.8l-3.9 1.8l-3.9 1.9l-3.9 2l-3.8 2l-3.8 2.1l-3.8 1.9l-3.8 2l-3.8 2l-3.8 2.1l-3.8 2.1l-3.8 2.1l-3.8 2.2l-3.8 2.2l-3.8 2.1l-3.8 2.1l-3.8 2.1l-3.8 2.1zM674.5 174.2l-2.6 -5.3l-2.6 -5.2l-2.7 -5.1l-2.7 -4.9l-2.7 -4.8l-2.8 -4.6l-2.8 -4.5l-2.8 -4.3l-2.9 -4.2l-2.9 -4l-2.9 -3.8l-2.9 -3.6l-3 -3.5l-3 -3.3l-3 -3.1l-3 -2.9l-3 -2.7l-3.1 -2.6l-3.1 -2.4l-3.1 -2.2l-3.1 -2l-3.1 -1.9l-3.1 -1.7l-3.1 -1.5l-3.1 -1.4l-3.1 -1.2l-3.1 -1.1l-3.1 -0.9l-3.1 -0.8l-3.1 -0.7l-3.1 -0.6l-3.1 -0.4l-3.1 -0.3l-3.1 -0.3l-3.1 -0.2l-3 -0.1l-3 -0.1l-3 0l-3 0l-3 0l0 5l3 0l3 0l3 0l3 0.1l3 0l3.1 0.1l3.1 0.1l3.1 0.2l3.1 0.3l3.1 0.4l3.1 0.6l3.1 0.7l3.1 0.8l3.1 0.9l3.1 1.1l3.1 1.2l3.1 1.4l3.1 1.4l3.1 1.5l3.1 1.7l3.1 1.9l3.1 2.1l3.1 2.3l3 2.5l3 2.7l3 2.8l3 3.1l3 3.3l2.9 3.5l2.9 3.6l2.9 3.9l2.9 4.1l2.8 4.3l2.8 4.5l2.8 4.6l2.7 4.8l2.7 4.9l2.7 5l2.6 5.2l2.6 5.3z"/>
<circle class="dr" cx="44.8" cy="111.2" r="2.4"/><circle class="dr" cx="244" cy="57.4" r="2.4"/><circle class="dr" cx="178" cy="86.5" r="2.4"/><circle class="dr" cx="178" cy="89" r="2.4"/><circle class="dr" cx="106.8" cy="166.2" r="2.4"/><circle class="dr" cx="245.9" cy="171.5" r="2.4"/><circle class="dp" cx="310.7" cy="120.8" r="2.4"/><circle class="dp" cx="175.2" cy="276.3" r="2.4"/><circle class="dr" cx="400.9" cy="144.8" r="2.4"/><circle class="dr" cx="612.9" cy="92.2" r="2.4"/><circle class="dr" cx="535.5" cy="109.4" r="2.4"/><circle class="dr" cx="535.5" cy="114.6" r="2.4"/><circle class="dp" cx="674" cy="173.8" r="2.4"/><circle class="dp" cx="453" cy="194.7" r="2.4"/><circle class="dp" cx="597.2" cy="214.9" r="2.4"/><circle class="dr" cx="513.9" cy="294.2" r="2.4"/>
<text x="49.9" y="178.9" font-size="8.6" text-anchor="end">70</text><text x="47.7" y="162.3" font-size="8.6" text-anchor="end">75</text><text x="45.5" y="145.8" font-size="8.6" text-anchor="end">80</text><text x="43.3" y="129.2" font-size="8.6" text-anchor="end">85</text><text x="41.2" y="112.7" font-size="8.6" text-anchor="end">90</text><text x="39" y="96.1" font-size="8.6" text-anchor="end">95</text><text x="36.8" y="79.6" font-size="8.6" text-anchor="end">100</text><text x="179.1" y="317.8" font-size="8.6">0/25</text><text x="199.7" y="301.5" font-size="8.6">1/25</text><text x="220.3" y="285.2" font-size="8.6">2/25</text><text x="240.9" y="268.9" font-size="8.6">3/25</text><text x="261.4" y="252.6" font-size="8.6">4/25</text><text x="282" y="236.3" font-size="8.6">5/25</text><text x="302.6" y="220" font-size="8.6">6/25</text><text x="170.9" y="317.6" font-size="8.6" text-anchor="end">10</text><text x="154.2" y="303.2" font-size="8.6" text-anchor="end">20</text><text x="137.4" y="288.9" font-size="8.6" text-anchor="end">30</text><text x="120.7" y="274.5" font-size="8.6" text-anchor="end">40</text><text x="104" y="260.2" font-size="8.6" text-anchor="end">50</text><text x="87.3" y="245.8" font-size="8.6" text-anchor="end">60</text><text x="70.5" y="231.5" font-size="8.6" text-anchor="end">70</text><text x="53.8" y="217.1" font-size="8.6" text-anchor="end">80</text><text x="51.8" y="297.7" font-size="11.5" textLength="41.6" lengthAdjust="spacingAndGlyphs">B: Pulse</text><text x="251.4" y="300.9" font-size="11.4" textLength="55.6" lengthAdjust="spacingAndGlyphs">A: Intensity</text><text transform="translate(10 175) rotate(-90) scale(1 1.08)" font-size="11.2">DPPH (%)</text><text class="cap" x="145" y="382.8">(a)</text><text x="402.4" y="196.6" font-size="9.2" text-anchor="end">65</text><text x="400.3" y="178.5" font-size="9.2" text-anchor="end">70</text><text x="398.1" y="160.4" font-size="9.2" text-anchor="end">75</text><text x="396" y="142.3" font-size="9.2" text-anchor="end">80</text><text x="393.8" y="124.2" font-size="9.2" text-anchor="end">85</text><text x="391.7" y="106.1" font-size="9.2" text-anchor="end">90</text><text x="389.5" y="88" font-size="9.2" text-anchor="end">95</text><text x="519.9" y="353.3" font-size="9.2">180</text><text x="538.5" y="342.5" font-size="9.2">270</text><text x="557.1" y="331.7" font-size="9.2">360</text><text x="575.7" y="320.8" font-size="9.2">450</text><text x="594.2" y="310" font-size="9.2">540</text><text x="612.8" y="299.2" font-size="9.2">630</text><text x="631.4" y="288.3" font-size="9.2">720</text><text x="650" y="277.5" font-size="9.2">810</text><text x="668.6" y="266.7" font-size="9.2">900</text><text x="508.9" y="353.4" font-size="9.2" text-anchor="end">90</text><text x="491.6" y="334.3" font-size="9.2" text-anchor="end">120</text><text x="474.3" y="315.2" font-size="9.2" text-anchor="end">150</text><text x="457" y="296" font-size="9.2" text-anchor="end">180</text><text x="439.8" y="276.9" font-size="9.2" text-anchor="end">210</text><text x="422.5" y="257.8" font-size="9.2" text-anchor="end">240</text><text x="405.2" y="238.7" font-size="9.2" text-anchor="end">270</text><text x="390.2" y="321.8" font-size="13.2">B: Time</text><text x="603.2" y="347.4" font-size="13">A: Power</text><text transform="translate(361.4 193.8) rotate(-90)" font-size="13">DPPH (%)</text><text class="cap" x="513.8" y="382.8">(b)</text>
</svg>
</body></html>
